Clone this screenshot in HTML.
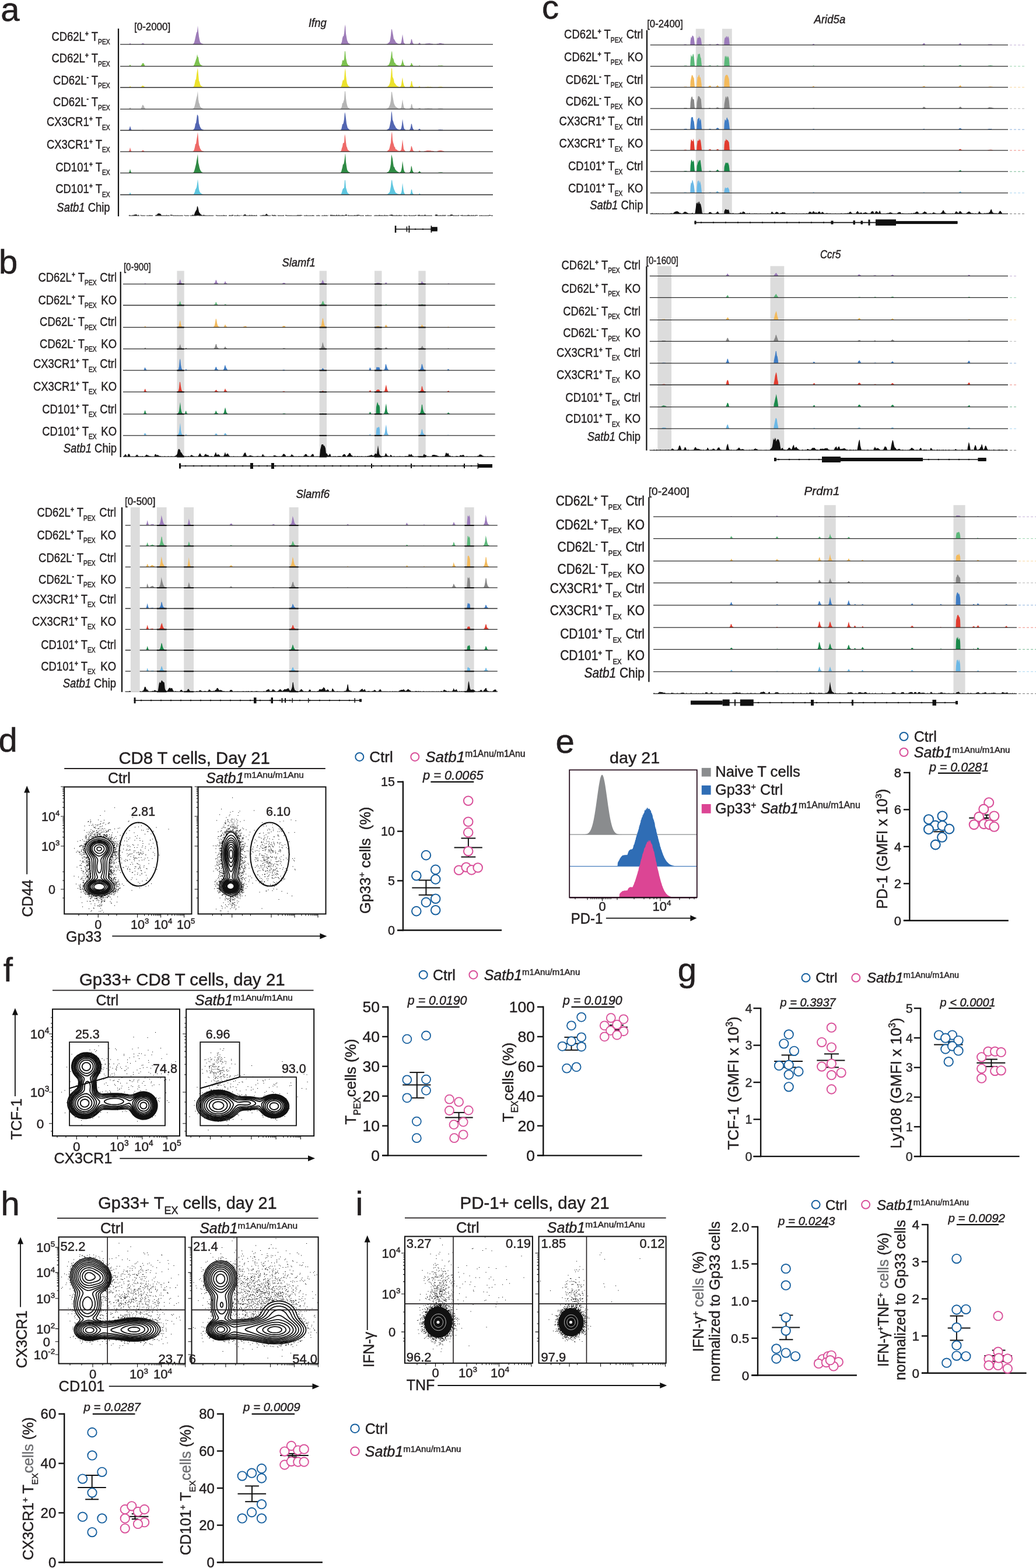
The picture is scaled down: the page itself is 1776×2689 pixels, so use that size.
<!DOCTYPE html>
<html><head><meta charset="utf-8"><title>Figure</title>
<style>html,body{margin:0;padding:0;background:#fff;}svg{display:block;}</style></head>
<body><svg width="1776" height="2689" viewBox="0 0 1776 2689" font-family='"Liberation Sans", Arial, sans-serif' fill="#231f20">
<style>text{stroke:#231f20;stroke-width:.45px}</style>
<rect width="1776" height="2689" fill="#fff"/>
<path d="M221.5,76l0.5,-0.7l1,-1.5l1,1.4l0.5,0.8zM242.5,76l0.5,-1.2l1,-0.3l1,-0.5l1,0.4l1,0.5l0.5,1.1zM330.5,76l0.5,-0.7l1,-0.8l1,-1.9l1,-3.8l1,-4.6l1,-4.8l1,-3.8l1,-1.2l1,-10.5l1,10l1,8.5l1,5.4l1,4l1,1.5l1,0.9l1,0.2l1,0.7l1,0.1l0.5,0.8zM584.5,76l0.5,-2l1,-2.2l1,-6.3l1,-3.3l1,-0.1l1,-5.1l1,-10.6l1,-4.4l1,15.8l1,5.6l1,5.7l1,2.2l1,2.1l1,0.8l1,0.5l1,0.6l0.5,0.7zM662.5,76l0.5,-0.6l1,-0.5l1,-0.4l1,-0.9l1,-1.3l1,-0.6l1,-4.8l1,-6.4l1,-10.4l1,0.4l1,5.3l1,4.9l1,6.2l1,0.7l1,2l1,1.7l1,1.8l1,0.3l1,0.7l1,0.8l1,-0l1,0.2l1,0.2l1,-0l1,-0.9l1,-2.2l1,-5.9l1,-7.6l1,6.6l1,6.7l1,2.3l1,0.5l0.5,1.2zM702.5,76l0.5,-1.4l1,-1.9l1,-5.6l1,0.5l1,4l1,2.6l1,0.8l0.5,1zM716.5,76l0.5,-0.7l1,-0.8l1,-1.5l1,1l1,1.2l0.5,0.8zM726.5,76l0.5,-0.7l0.5,0.7zM728.5,76l0.5,-0.8l1,-0.4l1,-0l1,-0.1l1,-0.1l1,-0.1l1,0.1l1,-0.3l1,0.3l1,0.1l1,0.1l1,0.1l1,0.1l1,0.2l0.5,0.8zM748.5,76l0.5,-0.9l1,-0l1,-0.1l1,-0.3l1,-0.5l1,-0.1l1,0.1l1,-0.2l1,0.4l1,0.3l1,-0l1,0.4l1,0.2l0.5,0.7z" fill="#9d7cb8"/>
<line x1="206" y1="76.2" x2="845" y2="76.2" stroke="#2b2b2b" stroke-width="1.3"/>
<path d="M221.5,113.4l0.5,-1.4l1,-1.4l1,1.6l0.5,1.2zM241.5,113.4l0.5,-1.2l1,-1.7l1,-2.3l1,0.6l1,-0.9l1,1.9l1,2.3l0.5,1.3zM331.5,113.4l0.5,-1.3l1,-1.1l1,-3l1,-2.5l1,-3.6l1,-2.5l1,-6.3l1,4.5l1,0.5l1,6.5l1,3.3l1,1.6l1,1.8l1,0.3l1,0.8l1,0.2l0.5,0.8zM584.5,113.4l0.5,-1.9l1,-2l1,-6.3l1,0.3l1,0.4l1,-2.9l1,-13.5l1,0.8l1,11.3l1,4.3l1,4.7l1,1.3l1,1.6l1,0.7l1,0.2l1,0.3l0.5,0.7zM662.5,113.4l0.5,-0.6l1,-0.1l1,-0.5l1,-0.7l1,-1.8l1,-1.9l1,-3.6l1,-5.5l1,-8.5l1,-3.1l1,11.8l1,1.4l1,2.5l1,4.7l1,-0.1l1,1.5l1,2.1l1,-0.1l1,0.6l1,0.5l1,0.3l1,0.2l1,-0l1,0.1l1,-0.6l1,-1.8l1,-3.2l1,-6.1l1,5.2l1,2.8l1,2.6l1,0.9l1,0.4l0.5,0.6zM702.5,113.4l0.5,-0.8l1,-1.1l1,-3.8l1,0.7l1,2.4l1,1.5l0.5,1.1zM717.5,113.4l0.5,-0.6l1,-0.5l1,0.2l0.5,0.9zM750.5,113.4l0.5,-0.8l1,-0l1,-0.1l1,-0.1l1,-0l1,-0l1,-0.1l1,0.3l1,0.1l1,0.1l0.5,0.6z" fill="#7dc24f"/>
<line x1="206" y1="113.6" x2="845" y2="113.6" stroke="#2b2b2b" stroke-width="1.3"/>
<path d="M221.5,149.8l0.5,-0.7l1,-1.5l1,1l0.5,1.2zM241.5,149.8l0.5,-0.8l1,-1.1l1,-0.9l1,-0.2l1,0.7l1,0.8l1,0.7l0.5,0.8zM330.5,149.8l0.5,-0.7l1,-0.5l1,-1.6l1,-4.8l1,-5.1l1,-0.8l1,-8.4l1,-6.3l1,-5l1,10.8l1,11.1l1,1.7l1,4l1,2.4l1,0.7l1,0.7l1,0.8l1,0.4l1,-0l0.5,0.6zM583.5,149.8l0.5,-0.6l1,-1.3l1,-2.8l1,-5.1l1,-3.3l1,1.6l1,-3.2l1,-12.9l1,-5.2l1,12.6l1,8.2l1,5.4l1,2l1,2l1,0.8l1,0.8l1,0.4l0.5,0.6zM662.5,149.8l0.5,-0.6l1,-0.3l1,-1l1,-0.7l1,-1.8l1,-2l1,-3.7l1,-9l1,-13.1l1,-0.5l1,15l1,1.7l1,2.9l1,5.8l1,0.1l1,2l1,0.9l1,1.4l1,0.4l1,1l1,-0l1,0.6l1,-0.1l1,-0.1l1,-0.7l1,-2.7l1,-7l1,-5.7l1,7.7l1,4.2l1,3l1,1.1l0.5,1.2zM701.5,149.8l0.5,-0.6l1,-0.9l1,-2.5l1,-6.4l1,-0.6l1,6.1l1,2.7l1,1.4l0.5,0.8zM716.5,149.8l0.5,-0.6l1,-0.8l1,-0.5l1,0.4l0.5,1.5zM728.5,149.8l0.5,-0.7l1,-0l1,-0l1,-0.2l1,-0.2l1,-0.2l1,0.4l1,0.1l1,-0.2l1,-0.1l1,0.4l1,-0.2l1,0.2l0.5,0.7zM750.5,149.8l0.5,-0.7l1,-0l1,-0.3l1,-0.1l1,-0l1,-0.1l1,0.2l1,0.1l1,0.1l0.5,0.8z" fill="#ece22c"/>
<line x1="206" y1="150" x2="845" y2="150" stroke="#2b2b2b" stroke-width="1.3"/>
<path d="M221.5,186.9l0.5,-1.4l1,-1.7l1,1.6l0.5,1.5zM241.5,186.9l0.5,-1.6l1,-2.1l1,-2.7l1,-1.1l1,1.8l1,1.2l1,2.8l1,1.1l0.5,0.6zM330.5,186.9l0.5,-0.7l1,-0.6l1,-1.6l1,-3.5l1,-3.9l1,-5.1l1,-4l1,-3.9l1,-7.4l1,14l1,6.3l1,1.6l1,4.6l1,0.7l1,1.4l1,0.5l1,0.7l1,0.3l0.5,0.6zM583.5,186.9l0.5,-0.6l1,-1.3l1,-2.5l1,-6.2l1,0.9l1,-3.8l1,-2.8l1,-14.2l1,0.1l1,12.1l1,7.1l1,4.6l1,3.2l1,1.3l1,0.5l1,0.5l0.5,1.1zM662.5,186.9l0.5,-0.6l1,-0.5l1,-0.1l1,-1.3l1,-1.6l1,-2l1,-3.1l1,-5.4l1,-15.1l1,0.8l1,6.7l1,5.3l1,6.1l1,3l1,2l1,1.4l1,0.9l1,0.6l1,0.8l1,0.5l1,0.6l1,-0l1,0.1l1,-0l1,-0.8l1,-1.2l1,-6.2l1,-7.5l1,7l1,5.3l1,2.5l1,0.7l1,0.5l0.5,0.6zM701.5,186.9l0.5,-0.6l1,-0.4l1,-1.5l1,-5.4l1,-1.1l1,4.9l1,2.6l1,0.7l0.5,0.8zM716.5,186.9l0.5,-0.6l1,-0.4l1,-1l1,0.7l1,0.6l0.5,0.7zM727.5,186.9l0.5,-0.7l1,-0l1,-0.1l1,0.2l1,-0.5l1,0.1l1,-0.3l1,0.3l1,-0.2l1,0.2l1,-0l1,0.2l1,-0l1,0.2l0.5,0.6zM750.5,186.9l0.5,-0.7l1,-0.1l1,-0.2l1,-0.2l1,0.2l1,-0.2l1,0.4l1,-0l1,-0l0.5,0.8z" fill="#b5b5b5"/>
<line x1="206" y1="187.1" x2="845" y2="187.1" stroke="#2b2b2b" stroke-width="1.3"/>
<path d="M220.5,223.3l0.5,-0.9l1,-2.6l1,-3.8l1,2.9l1,3.3l0.5,1.1zM244.5,223.3l0.5,-0.7l0.5,0.7zM330.5,223.3l0.5,-0.9l1,-0.4l1,-1.3l1,-2.7l1,-5.8l1,-1.2l1,-6.6l1,-8l1,0.8l1,2.6l1,11.7l1,2.8l1,3.3l1,1.7l1,1.4l1,1l1,0.4l1,0.5l1,0.1l0.5,0.6zM583.5,223.3l0.5,-0.6l1,-0.8l1,-4l1,-4.9l1,-0l1,-2.9l1,-6l1,-11.9l1,3.2l1,7.7l1,8.4l1,4.3l1,3.6l1,0.9l1,1.1l1,1l1,0.3l1,-0l0.5,0.6zM662.5,223.3l0.5,-0.6l1,-0.4l1,-0.8l1,-0.4l1,-1.4l1,-3.4l1,-5l1,-5.1l1,-15.9l1,3.9l1,11.4l1,2.3l1,3.5l1,2.6l1,1.5l1,2l1,1.9l1,0.6l1,1.3l1,0.3l1,0.4l1,0.2l1,0.2l1,-0.2l1,-0.7l1,-2.2l1,-5.2l1,-10.1l1,7l1,6.6l1,3.1l1,1.2l1,0.7l0.5,0.7zM701.5,223.3l0.5,-0.8l1,-1.1l1,-3l1,-6.5l1,1.1l1,4.8l1,2.7l1,1.6l0.5,1.2zM716.5,223.3l0.5,-0.6l1,-1.1l1,-1.1l1,1.3l1,0.7l0.5,0.8zM750.5,223.3l0.5,-0.6l1,-0.2l1,-0.1l1,-0.1l1,-0l1,0.1l1,0.1l1,-0l1,0.1l0.5,0.7z" fill="#5366b2"/>
<line x1="206" y1="223.5" x2="845" y2="223.5" stroke="#2b2b2b" stroke-width="1.3"/>
<path d="M220.5,260l0.5,-0.8l1,-1.8l1,-4.7l1,3.9l1,2.4l0.5,1zM242.5,260l0.5,-1.1l1,-0.7l1,-0.4l1,0.4l1,0.9l0.5,0.9zM330.5,260l0.5,-0.7l1,-0.9l1,-2.1l1,-4.1l1,-5.2l1,-0.3l1,-6.7l1,-6.2l1,-7.2l1,11.2l1,10.9l1,2.4l1,3.4l1,1.4l1,1.8l1,0.8l1,0.4l1,0.2l1,0.3l0.5,0.6zM583.5,260l0.5,-0.7l1,-1l1,-4.4l1,-2.5l1,-6.1l1,0.3l1,-1.3l1,-14.2l1,4.1l1,9.5l1,7.3l1,1.8l1,3.6l1,0.9l1,1.1l1,0.6l1,0.3l0.5,0.7zM663.5,260l0.5,-1.2l1,-0.6l1,-1l1,-0.9l1,-3.6l1,-4.4l1,-3.5l1,-14.4l1,-4.9l1,14.1l1,5.2l1,2.6l1,4.4l1,0.2l1,3.4l1,0.9l1,0.3l1,0.7l1,1.1l1,0.2l1,0.1l1,0.3l1,-0.3l1,-0.7l1,-1.5l1,-7.7l1,-9.8l1,8.2l1,8.2l1,1.7l1,1.5l1,0.8l0.5,0.6zM701.5,260l0.5,-0.7l1,-0.9l1,-2.2l1,-6.2l1,1.5l1,3l1,3.2l1,1.2l1,0.4l0.5,0.7zM717.5,260l0.5,-1l1,-0.8l1,0.9l1,0.1l0.5,0.8zM726.5,260l0.5,-0.8l1,0.1l1,-0.4l1,-0.2l1,-0.4l1,0.3l1,-0.6l1,-0l1,0.3l1,0.1l1,-0.3l1,0.2l1,0.5l1,-0.1l1,0.1l1,0.3l1,-0l1,0.2l0.5,0.7zM749.5,260l0.5,-1l1,-0.4l1,0.1l1,-0.7l1,0.2l1,-0.3l1,0.1l1,0.3l1,0.1l1,0.3l1,0.4l1,0.2l0.5,0.7z" fill="#ee6a68"/>
<line x1="206" y1="260.2" x2="845" y2="260.2" stroke="#2b2b2b" stroke-width="1.3"/>
<path d="M220.5,296.5l0.5,-0.6l1,-2l1,-4.1l1,3.9l1,1.9l0.5,0.9zM329.5,296.5l0.5,-0.6l1,-0l1,-0.7l1,-2.2l1,-3.3l1,-4l1,-3.9l1,-6l1,-5.3l1,-6.2l1,14.6l1,4.1l1,4.8l1,3l1,2l1,1.2l1,1.2l1,0.5l1,-0l0.5,0.8zM583.5,296.5l0.5,-0.8l1,-1.2l1,-3.7l1,-3.7l1,-5.5l1,0.3l1,-4.1l1,-7.4l1,-7.9l1,15.2l1,7.1l1,5.9l1,2l1,1.4l1,1l1,0.1l1,0.6l0.5,0.7zM662.5,296.5l0.5,-0.8l1,-0.4l1,-0.6l1,-0.2l1,-2.1l1,-1.7l1,-4l1,-5.6l1,-16.4l1,3.6l1,4l1,7.6l1,6.3l1,-0l1,3.1l1,1.6l1,1.4l1,0.7l1,1l1,0.6l1,0.3l1,0.6l1,0.2l1,-0.4l1,-0.9l1,-2.6l1,-5.1l1,-10.8l1,7l1,7.3l1,3.4l1,1.7l1,0.5l0.5,0.7zM701.5,296.5l0.5,-0.9l1,-0.9l1,-2.7l1,-8l1,2.4l1,5.5l1,2l1,1.5l0.5,1.1zM716.5,296.5l0.5,-0.9l1,-1l1,-1.2l1,0.6l1,1.4l1,0.4l0.5,0.7zM751.5,296.5l0.5,-1l1,-0.1l1,0.3l1,-0.2l1,-0.2l1,0.4l1,-0.2l1,0.3l0.5,0.7z" fill="#2f8a44"/>
<line x1="206" y1="296.7" x2="845" y2="296.7" stroke="#2b2b2b" stroke-width="1.3"/>
<path d="M221.5,333.8l0.5,-1.6l1,-2.1l1,1.7l0.5,2zM331.5,333.8l0.5,-1l1,-1.5l1,-2.2l1,-4.2l1,-1.3l1,-2.4l1,-5.8l1,-8.1l1,8l1,9.2l1,3.6l1,2l1,0.9l1,0.7l1,0.8l1,0.5l1,0.1l0.5,0.7zM584.5,333.8l0.5,-1.3l1,-2.8l1,-3.6l1,-2.6l1,-0.4l1,-1.3l1,-13.4l1,1l1,12.4l1,3l1,3.8l1,2l1,1.3l1,0.4l1,0.6l0.5,0.9zM663.5,333.8l0.5,-0.8l1,-0.7l1,-0.7l1,-1.4l1,-0.6l1,-4.7l1,-5.5l1,-9.3l1,-2.2l1,7.3l1,4l1,3.8l1,2.7l1,2.1l1,2.5l1,0.5l1,0.8l1,0.3l1,0.6l1,0.2l1,0.1l1,0.2l1,-0.1l1,-0.9l1,-1.6l1,-5.1l1,-11.6l1,7.7l1,6.6l1,3.2l1,1.3l0.5,1.3zM702.5,333.8l0.5,-1.1l1,-1.3l1,-6.4l1,-0l1,5.2l1,1.9l1,1l0.5,0.7zM717.5,333.8l0.5,-1.1l1,-1.1l1,1l1,0.3l0.5,0.9z" fill="#5ec6df"/>
<line x1="206" y1="334" x2="845" y2="334" stroke="#2b2b2b" stroke-width="1.3"/>
<path d="M220.5,369.7l0.5,-0.6l1,-0.3l1,-0l0.5,0.9zM226.5,369.7l0.5,-0.8l1,-0.4l1,0.5l1,-0.8l1,-0.2l1,-0l1,-0.6l1,0.7l1,0.1l0.5,1.5zM236.5,369.7l0.5,-1.2l1,-0l0.5,1.2zM240.5,369.7l0.5,-1l1,-0.2l0.5,1.2zM244.5,369.7l0.5,-1.1l0.5,1.1zM249.5,369.7l0.5,-0.9l0.5,0.9zM255.5,369.7l0.5,-1l1,0.3l1,-0.2l0.5,0.9zM259.5,369.7l0.5,-0.7l1,-0.1l0.5,0.8zM266.5,369.7l0.5,-1.1l1,-0.2l1,-0l1,-1.7l1,-0.8l1,0.1l1,-0.1l1,0.5l1,-0l1,1.5l1,1.1l0.5,0.7zM278.5,369.7l0.5,-0.7l0.5,0.7zM280.5,369.7l0.5,-1.2l0.5,1.2zM282.5,369.7l0.5,-0.6l0.5,0.6zM284.5,369.7l0.5,-1l1,-0.1l0.5,1.1zM287.5,369.7l0.5,-0.8l1,0.1l0.5,0.7zM291.5,369.7l0.5,-1.2l1,-0.3l1,0.3l1,-0.1l1,0.3l0.5,1zM297.5,369.7l0.5,-1.1l0.5,1.1zM300.5,369.7l0.5,-1.2l0.5,1.2zM303.5,369.7l0.5,-1.1l0.5,1.1zM305.5,369.7l0.5,-0.6l0.5,0.6zM308.5,369.7l0.5,-0.8l0.5,0.8zM310.5,369.7l0.5,-1.2l0.5,1.2zM315.5,369.7l0.5,-1.2l1,0.4l0.5,0.8zM320.5,369.7l0.5,-1.1l0.5,1.1zM323.5,369.7l0.5,-0.8l0.5,0.8zM325.5,369.7l0.5,-0.9l0.5,0.9zM328.5,369.7l0.5,-0.9l1,-0.5l1,0.3l1,0.3l1,-0.9l1,-3.2l1,-2.1l1,-1.8l1,-1.5l1,-5.9l1,0.8l1,3.4l1,5.3l1,2l1,1l1,1.2l1,1.2l1,-0.3l0.5,1.6zM347.5,369.7l0.5,-1.3l1,0.2l1,0.3l1,-0.3l0.5,1.1zM352.5,369.7l0.5,-0.8l0.5,0.8zM358.5,369.7l0.5,-1.1l0.5,1.1zM361.5,369.7l0.5,-0.9l0.5,0.9zM364.5,369.7l0.5,-0.8l0.5,0.8zM366.5,369.7l0.5,-0.7l0.5,0.7zM369.5,369.7l0.5,-0.8l1,-0.3l0.5,1.1zM372.5,369.7l0.5,-0.6l0.5,0.6zM375.5,369.7l0.5,-0.8l0.5,0.8zM379.5,369.7l0.5,-1l0.5,1zM382.5,369.7l0.5,-1.2l1,0.5l1,-0.1l0.5,0.8zM387.5,369.7l0.5,-0.9l0.5,0.9zM392.5,369.7l0.5,-0.7l1,-0.3l1,0.4l0.5,0.6zM396.5,369.7l0.5,-0.9l1,-0.2l1,0.2l1,-0.3l0.5,1.2zM402.5,369.7l0.5,-0.7l0.5,0.7zM406.5,369.7l0.5,-1.1l1,-0.1l0.5,1.2zM412.5,369.7l0.5,-0.9l1,0.1l0.5,0.8zM415.5,369.7l0.5,-0.7l0.5,0.7zM417.5,369.7l0.5,-1.4l1,-0.4l1,-0.4l1,0.6l1,0.7l0.5,0.9zM426.5,369.7l0.5,-0.8l1,-0.2l1,-0.2l0.5,1.2zM430.5,369.7l0.5,-1.2l1,0.2l1,0.3l0.5,0.7zM434.5,369.7l0.5,-1l1,0.2l1,0.2l0.5,0.6zM438.5,369.7l0.5,-0.7l1,-0.5l0.5,1.2zM444.5,369.7l0.5,-0.6l0.5,0.6zM448.5,369.7l0.5,-0.8l1,-0l1,-0.3l1,0.1l1,0.3l1,-0.2l1,-0.4l1,-1.2l1,-0.9l1,1.6l1,0.5l1,0.5l0.5,0.8zM463.5,369.7l0.5,-0.9l0.5,0.9zM465.5,369.7l0.5,-1.1l1,-0l1,0.3l1,0.1l1,-0.4l1,0.5l1,-0.6l0.5,1.2zM475.5,369.7l0.5,-1.2l0.5,1.2zM477.5,369.7l0.5,-1.2l0.5,1.2zM479.5,369.7l0.5,-0.6l0.5,0.6zM481.5,369.7l0.5,-0.7l0.5,0.7zM484.5,369.7l0.5,-0.6l1,-0.3l0.5,0.9zM488.5,369.7l0.5,-0.7l1,-0.4l1,0.3l1,-0.1l0.5,0.9zM494.5,369.7l0.5,-1.1l0.5,1.1zM496.5,369.7l0.5,-1l0.5,1zM498.5,369.7l0.5,-1.1l0.5,1.1zM508.5,369.7l0.5,-0.6l1,-0.3l1,-0.1l1,-0l1,0.2l1,-0.3l1,0.5l1,-0.5l1,0.4l1,-0.1l0.5,0.8zM519.5,369.7l0.5,-0.8l0.5,0.8zM521.5,369.7l0.5,-0.6l0.5,0.6zM524.5,369.7l0.5,-1l1,-0l0.5,1zM531.5,369.7l0.5,-0.8l0.5,0.8zM534.5,369.7l0.5,-0.7l1,-0l1,-0.3l0.5,1zM541.5,369.7l0.5,-0.9l0.5,0.9zM544.5,369.7l0.5,-0.9l1,-0l0.5,0.9zM555.5,369.7l0.5,-0.7l1,-0.5l0.5,1.2zM558.5,369.7l0.5,-0.9l1,0.2l0.5,0.7zM562.5,369.7l0.5,-1.1l0.5,1.1zM565.5,369.7l0.5,-1.1l1,-0l1,0.2l1,-0.2l1,0.1l1,0.3l1,-0.3l1,0.3l1,-0.3l0.5,1zM575.5,369.7l0.5,-0.9l1,-0.2l1,-0l0.5,1.1zM579.5,369.7l0.5,-1.1l1,-0l1,0.3l0.5,0.8zM583.5,369.7l0.5,-0.9l0.5,0.9zM585.5,369.7l0.5,-1.2l1,0.4l1,-0.1l1,0.2l0.5,0.7zM590.5,369.7l0.5,-0.8l1,-0.3l1,-0.9l1,0.3l1,0.7l0.5,1zM596.5,369.7l0.5,-1.1l1,0.4l0.5,0.7zM600.5,369.7l0.5,-0.6l0.5,0.6zM602.5,369.7l0.5,-1l0.5,1zM606.5,369.7l0.5,-0.7l1,-0.1l1,-0.3l0.5,1.1zM610.5,369.7l0.5,-1l1,-0.2l1,0.3l1,-0.6l1,0.2l1,0.5l1,-0.4l0.5,1.2zM621.5,369.7l0.5,-1.1l0.5,1.1zM626.5,369.7l0.5,-0.9l1,0.2l0.5,0.7zM629.5,369.7l0.5,-0.9l1,-0.2l0.5,1.1zM632.5,369.7l0.5,-1l0.5,1zM636.5,369.7l0.5,-0.9l0.5,0.9zM643.5,369.7l0.5,-0.9l1,-0.1l0.5,1zM646.5,369.7l0.5,-1.1l0.5,1.1zM648.5,369.7l0.5,-0.9l1,-0.1l1,0.1l1,-0.1l0.5,1zM653.5,369.7l0.5,-0.9l1,0.2l0.5,0.7zM658.5,369.7l0.5,-1.2l1,-0l0.5,1.2zM661.5,369.7l0.5,-0.7l1,-0.2l0.5,0.9zM664.5,369.7l0.5,-0.9l0.5,0.9zM666.5,369.7l0.5,-0.8l1,-0.2l1,-0.1l1,-0.2l1,-0.4l1,-0l1,0.7l1,-0.1l0.5,1.1zM675.5,369.7l0.5,-0.9l0.5,0.9zM678.5,369.7l0.5,-0.7l1,-0.4l0.5,1.1zM681.5,369.7l0.5,-1l0.5,1zM683.5,369.7l0.5,-1.1l1,0.3l1,-0.1l0.5,0.9zM687.5,369.7l0.5,-1.1l0.5,1.1zM689.5,369.7l0.5,-1.2l0.5,1.2zM691.5,369.7l0.5,-0.8l1,-0.2l1,-0l0.5,1zM695.5,369.7l0.5,-1.1l0.5,1.1zM699.5,369.7l0.5,-0.6l1,-0.1l1,-0.5l0.5,1.2zM705.5,369.7l0.5,-0.9l0.5,0.9zM708.5,369.7l0.5,-1.1l0.5,1.1zM710.5,369.7l0.5,-0.7l1,-0.1l1,-0.3l1,0.4l0.5,0.7zM715.5,369.7l0.5,-1l1,-0.1l1,0.2l1,-0.2l1,-0l0.5,1.1zM722.5,369.7l0.5,-0.9l1,-0l0.5,0.9zM726.5,369.7l0.5,-1.3l1,0.3l1,-0.8l1,1l0.5,0.8zM733.5,369.7l0.5,-0.6l0.5,0.6zM735.5,369.7l0.5,-0.9l0.5,0.9zM738.5,369.7l0.5,-1.2l0.5,1.2zM743.5,369.7l0.5,-0.9l0.5,0.9zM745.5,369.7l0.5,-0.9l1,-1l1,0.2l1,-0l1,0.2l0.5,1.5zM752.5,369.7l0.5,-1.2l0.5,1.2zM754.5,369.7l0.5,-1l1,0.2l0.5,0.8zM758.5,369.7l0.5,-1.1l1,-0l0.5,1.1zM761.5,369.7l0.5,-1l1,-0.2l1,0.4l0.5,0.8zM765.5,369.7l0.5,-0.9l0.5,0.9zM769.5,369.7l0.5,-0.9l0.5,0.9zM771.5,369.7l0.5,-1.5l1,-0.3l1,0.2l1,-0.2l1,0.5l1,0.7l0.5,0.6zM778.5,369.7l0.5,-0.6l0.5,0.6zM781.5,369.7l0.5,-0.8l0.5,0.8zM785.5,369.7l0.5,-1.2l1,0.4l0.5,0.8zM788.5,369.7l0.5,-0.7l1,-0l1,-0l1,-0.3l1,-0.1l0.5,1.1zM796.5,369.7l0.5,-1l0.5,1zM800.5,369.7l0.5,-0.8l1,-0.1l1,-0.2l1,0.1l1,0.3l0.5,0.7zM807.5,369.7l0.5,-1l1,-0l0.5,1zM810.5,369.7l0.5,-1.2l1,0.5l0.5,0.7zM814.5,369.7l0.5,-0.8l1,-0.3l1,0.4l1,-0.2l1,0.3l0.5,0.6zM822.5,369.7l0.5,-0.7l0.5,0.7zM824.5,369.7l0.5,-0.7l1,0.1l0.5,0.6zM832.5,369.7l0.5,-1l0.5,1zM835.5,369.7l0.5,-0.6l0.5,0.6zM837.5,369.7l0.5,-0.7l1,-0.4l1,0.2l1,0.1l1,0.2l0.5,0.6zM843.5,369.7l0.5,-0.9l0.5,0.9z" fill="#111111"/>
<line x1="203" y1="49" x2="203" y2="371" stroke="#111" stroke-width="2.2"/>
<text transform="translate(188.6,69.8) scale(0.82,1)" font-size="22.5" text-anchor="end"><tspan>CD62L</tspan><tspan font-size="13" font-weight="bold" dy="-8">+</tspan><tspan dy="8"> T</tspan><tspan font-size="12.5" dy="6.5">PEX</tspan></text>
<text transform="translate(188.6,107.3) scale(0.82,1)" font-size="22.5" text-anchor="end"><tspan>CD62L</tspan><tspan font-size="13" font-weight="bold" dy="-8">+</tspan><tspan dy="8"> T</tspan><tspan font-size="12.5" dy="6.5">PEX</tspan></text>
<text transform="translate(188.6,144.8) scale(0.82,1)" font-size="22.5" text-anchor="end"><tspan>CD62L</tspan><tspan font-size="13" font-weight="bold" dy="-8">-</tspan><tspan dy="8"> T</tspan><tspan font-size="12.5" dy="6.5">PEX</tspan></text>
<text transform="translate(188.6,182.3) scale(0.82,1)" font-size="22.5" text-anchor="end"><tspan>CD62L</tspan><tspan font-size="13" font-weight="bold" dy="-8">-</tspan><tspan dy="8"> T</tspan><tspan font-size="12.5" dy="6.5">PEX</tspan></text>
<text transform="translate(188.6,216.3) scale(0.82,1)" font-size="22.5" text-anchor="end"><tspan>CX3CR1</tspan><tspan font-size="13" font-weight="bold" dy="-8">+</tspan><tspan dy="8"> T</tspan><tspan font-size="12.5" dy="6.5">EX</tspan></text>
<text transform="translate(188.6,254.8) scale(0.82,1)" font-size="22.5" text-anchor="end"><tspan>CX3CR1</tspan><tspan font-size="13" font-weight="bold" dy="-8">+</tspan><tspan dy="8"> T</tspan><tspan font-size="12.5" dy="6.5">EX</tspan></text>
<text transform="translate(188.6,293.8) scale(0.82,1)" font-size="22.5" text-anchor="end"><tspan>CD101</tspan><tspan font-size="13" font-weight="bold" dy="-8">+</tspan><tspan dy="8"> T</tspan><tspan font-size="12.5" dy="6.5">EX</tspan></text>
<text transform="translate(188.6,331.3) scale(0.82,1)" font-size="22.5" text-anchor="end"><tspan>CD101</tspan><tspan font-size="13" font-weight="bold" dy="-8">+</tspan><tspan dy="8"> T</tspan><tspan font-size="12.5" dy="6.5">EX</tspan></text>
<text transform="translate(188.6,362.5) scale(0.82,1)" font-size="22.5" text-anchor="end"><tspan font-style="italic">Satb1</tspan><tspan> Chip</tspan></text>
<text transform="translate(230,52) scale(0.942,1)" font-size="18">[0-2000]</text>
<text transform="translate(529,46) scale(0.878,1)" font-size="21" font-style="italic">Ifng</text>
<line x1="677" y1="393" x2="750" y2="393" stroke="#111" stroke-width="1.6"/>
<rect x="676.8" y="387" width="2.5" height="12" fill="#111"/>
<rect x="696.6" y="388.5" width="1.6" height="9" fill="#111"/>
<rect x="700.5" y="387" width="1.8" height="12" fill="#111"/>
<rect x="738.6" y="389.2" width="11.2" height="7.5" fill="#111"/>
<rect x="738.6" y="387" width="1.6" height="12" fill="#111"/>
<path d="M712,391.4l1.6,1.6l-1.6,1.6l-1.6,-1.6z" fill="#111"/>
<path d="M725,391.4l1.6,1.6l-1.6,1.6l-1.6,-1.6z" fill="#111"/>
<line x1="221" y1="369.9" x2="845" y2="369.9" stroke="#333" stroke-width="1" stroke-dasharray="18 3 7 2 11 4 25 5"/>
<rect x="1192.8" y="49.4" width="14.9" height="316.6" fill="#dcdcdc"/>
<rect x="1238" y="49.4" width="16.8" height="316.6" fill="#dcdcdc"/>
<path d="M1172.2,77l0.5,-0.7l1,-0.4l1,-0l1,0.2l1,0.1l0.5,0.8zM1183.2,77l0.5,-7.2l1,-6.8l1,2l1,-3.9l1,0.1l1,1.1l1,2.6l1,8.7l0.5,3.4zM1194.2,77l0.5,-7l1,-5.5l1,0.2l1,0.3l1,-3.7l1,3.6l1,-1l1,2.8l1,7.3l0.5,3zM1215.2,77l0.5,-0.9l1,-0.2l1,-0l1,0.4l0.5,0.7zM1227.2,77l0.5,-0.7l1,-0.7l1,-0.6l1,0.4l1,0.3l1,0.7l0.5,0.6zM1241.2,77l0.5,-7.8l1,-4.9l1,0.6l1,-2.2l1,-0.9l1,3.5l1,-3.2l1,0.9l1,3.3l1,9.1l0.5,1.6zM1392.2,77l0.5,-0.7l1,-0.5l1,-0.6l1,-0l0.5,1.8zM1581.2,77l0.5,-1.2l1,-0.9l1,-0.8l1,-0.1l1,1.8l0.5,1.2zM1643.2,77l0.5,-0.8l1,-1.3l1,-0.9l1,0.5l1,0.7l0.5,1.8zM1693.2,77l0.5,-0.6l1,-0.3l1,-0l1,-0l1,-0.2l1,-0.1l1,0.4l1,-0.1l0.5,0.9z" fill="#9b7bbb"/>
<line x1="1114.7" y1="77.2" x2="1728" y2="77.2" stroke="#2b2b2b" stroke-width="1.3"/>
<line x1="1731" y1="77.2" x2="1758" y2="77.2" stroke="#9b7bbb" stroke-width="1" stroke-dasharray="4 3" opacity="0.6"/>
<path d="M1172.2,113.4l0.5,-0.6l1,-0.3l1,-0.1l1,-0l1,-0l1,0.3l0.5,0.7zM1183.2,113.4l0.5,-9.8l1,-10l1,3l1,0.8l1,-4.1l1,-1l1,5.7l1,10.8l0.5,4.6zM1194.2,113.4l0.5,-10l1,-5.7l1,-5.6l1,1.1l1,-0.9l1,-0.5l1,6.3l1,2l1,9.8l0.5,3.5zM1214.2,113.4l0.5,-0.7l1,-0.4l1,-0.1l1,-0.2l1,0.4l0.5,1zM1228.2,113.4l0.5,-0.8l1,-0.3l1,0.1l1,0.3l0.5,0.7zM1241.2,113.4l0.5,-7.2l1,-9.1l1,-1.5l1,2.9l1,-3.3l1,4.6l1,-3.8l1,1.6l1,2.9l1,11.4l0.5,1.5zM1393.2,113.4l0.5,-0.9l1,-0l1,-0l0.5,0.9zM1582.2,113.4l0.5,-1.1l1,-0.1l1,0.2l1,0.3l0.5,0.7zM1643.2,113.4l0.5,-0.8l1,-0.7l1,-0.3l1,-0.2l1,0.9l0.5,1.1zM1693.2,113.4l0.5,-0.6l1,-0.3l1,-0l1,-0.3l1,0.1l1,-0.1l1,0.3l1,-0l1,0.2l0.5,0.7z" fill="#5cb87a"/>
<line x1="1114.7" y1="113.6" x2="1728" y2="113.6" stroke="#2b2b2b" stroke-width="1.3"/>
<line x1="1731" y1="113.6" x2="1758" y2="113.6" stroke="#5cb87a" stroke-width="1" stroke-dasharray="4 3" opacity="0.6"/>
<path d="M1172.2,149.5l0.5,-0.7l1,-0.3l1,0.2l1,-0.2l1,-0.1l1,0.5l0.5,0.6zM1183.2,149.5l0.5,-9.9l1,-5.3l1,-4.9l1,-1l1,1.5l1,2.8l1,1.3l1,11.3l0.5,4.2zM1194.2,149.5l0.5,-8.3l1,-9.6l1,1l1,-3.5l1,-1.2l1,5.4l1,-1.3l1,5.7l1,7.6l0.5,4.2zM1214.2,149.5l0.5,-1l1,-1.4l1,0.1l1,-0.8l1,1.3l0.5,1.8zM1227.2,149.5l0.5,-0.9l1,-1.2l1,-1.1l1,0.1l1,1.6l0.5,1.5zM1241.2,149.5l0.5,-10.6l1,-7.1l1,-2.4l1,-0.9l1,-0.1l1,-0.2l1,1.6l1,2.8l1,2.9l1,12.1l0.5,1.9zM1392.2,149.5l0.5,-0.7l1,-0.9l1,-0.4l1,0.6l0.5,1.4zM1581.2,149.5l0.5,-0.9l1,-0.7l1,-0.4l1,0.1l1,0.7l0.5,1.2zM1643.2,149.5l0.5,-1.1l1,-0.8l1,-1.2l1,-0.1l1,1.2l0.5,2zM1694.2,149.5l0.5,-0.7l1,-0.2l1,-0.1l1,-0.2l1,0.2l1,0.1l1,0.2l1,-0l0.5,0.7z" fill="#f3ba5c"/>
<line x1="1114.7" y1="149.7" x2="1728" y2="149.7" stroke="#2b2b2b" stroke-width="1.3"/>
<line x1="1731" y1="149.7" x2="1758" y2="149.7" stroke="#f3ba5c" stroke-width="1" stroke-dasharray="4 3" opacity="0.6"/>
<path d="M1172.2,186l0.5,-0.9l1,-0l1,-0l1,-0.2l1,0.2l1,0.2l0.5,0.7zM1183.2,186l0.5,-10.5l1,-7.2l1,-2.5l1,-0.2l1,4.1l1,0.6l1,0.1l1,12.2l0.5,3.4zM1194.2,186l0.5,-10.3l1,-5.3l1,-5.5l1,-0.2l1,0.8l1,0.9l1,2.4l1,1.1l1,11.9l0.5,4.2zM1215.2,186l0.5,-1l1,-0.2l1,0.4l0.5,0.8zM1227.2,186l0.5,-0.7l1,-0.7l1,-0.7l1,0.5l1,0.4l1,0.6l0.5,0.6zM1241.2,186l0.5,-7.6l1,-5.9l1,-5.7l1,-1.8l1,3.8l1,-3.5l1,-0l1,2.1l1,5.5l1,11.2l0.5,1.9zM1393.2,186l0.5,-0.7l1,-0.3l1,-0.1l0.5,1.1zM1581.2,186l0.5,-1.1l1,-0.9l1,-1.1l1,0.7l1,0.7l1,1l0.5,0.7zM1643.2,186l0.5,-0.8l1,-1l1,-1.4l1,0.4l1,0.9l1,1.2l0.5,0.7zM1693.2,186l0.5,-0.9l1,-0.7l1,-0.3l1,-0.1l1,0.2l1,0.1l1,0.1l1,0.2l1,0.3l1,0.5l1,-0l0.5,0.6z" fill="#888888"/>
<line x1="1114.7" y1="186.2" x2="1728" y2="186.2" stroke="#2b2b2b" stroke-width="1.3"/>
<line x1="1731" y1="186.2" x2="1758" y2="186.2" stroke="#888888" stroke-width="1" stroke-dasharray="4 3" opacity="0.6"/>
<path d="M1172.2,221.9l0.5,-0.7l1,-0.2l1,-0.1l1,-0.2l1,0.2l1,0.3l0.5,0.7zM1183.2,221.9l0.5,-7.9l1,-11.5l1,-1.7l1,0.1l1,-0.1l1,5.6l1,2.1l1,9.4l0.5,4zM1194.2,221.9l0.5,-9.1l1,-8.4l1,-0.4l1,-2.1l1,0.1l1,5.9l1,-5l1,3.7l1,11.7l0.5,3.6zM1215.2,221.9l0.5,-0.8l1,-0.3l1,0.2l1,-0l0.5,0.9zM1227.2,221.9l0.5,-0.9l1,-1.6l1,-0l1,-0.3l1,0.9l1,1.2l0.5,0.7zM1241.2,221.9l0.5,-10.1l1,-7.1l1,0.7l1,1.9l1,-5.2l1,-0.5l1,3.5l1,0.5l1,5.4l1,9l0.5,1.9zM1393.2,221.9l0.5,-0.9l1,0.1l1,-0l0.5,0.8zM1582.2,221.9l0.5,-0.9l1,-0.1l1,-0.2l0.5,1.2zM1643.2,221.9l0.5,-0.8l1,-0.8l1,-0.5l1,0.1l1,0.9l1,0.4l0.5,0.7zM1693.2,221.9l0.5,-0.7l1,-0l1,-0.4l1,0.1l1,0.2l1,-0.1l1,-0.2l0.5,1.1z" fill="#3f7dc5"/>
<line x1="1114.7" y1="222.1" x2="1728" y2="222.1" stroke="#2b2b2b" stroke-width="1.3"/>
<line x1="1731" y1="222.1" x2="1758" y2="222.1" stroke="#3f7dc5" stroke-width="1" stroke-dasharray="4 3" opacity="0.6"/>
<path d="M1172.2,257.7l0.5,-0.8l1,-0.2l1,-0l1,-0l1,-0l0.5,1zM1183.2,257.7l0.5,-10.5l1,-8.3l1,1l1,1.9l1,0.6l1,-5l1,5.7l1,11.3l0.5,3.3zM1194.2,257.7l0.5,-7.8l1,-8.4l1,-0.4l1,0.3l1,-3.7l1,3.8l1,-3l1,6.9l1,8.6l0.5,3.7zM1214.2,257.7l0.5,-0.7l1,-0.7l1,-0.4l1,0.2l1,0.5l0.5,1.1zM1228.2,257.7l0.5,-1.6l1,-0.2l1,-0.2l1,0.6l0.5,1.4zM1241.2,257.7l0.5,-9.9l1,-6.9l1,0.8l1,-3.6l1,2.3l1,-0.2l1,0.5l1,2.1l1,1.3l1,12l0.5,1.6zM1643.2,257.7l0.5,-0.7l1,-1l1,-0.4l1,0.1l1,0.8l1,0.6l0.5,0.6zM1693.2,257.7l0.5,-0.6l1,-0.1l1,-0.1l1,-0.1l1,-0l1,-0.1l1,0.1l1,0.1l1,0.2l0.5,0.6z" fill="#e23c2f"/>
<line x1="1114.7" y1="257.9" x2="1728" y2="257.9" stroke="#2b2b2b" stroke-width="1.3"/>
<line x1="1731" y1="257.9" x2="1758" y2="257.9" stroke="#e23c2f" stroke-width="1" stroke-dasharray="4 3" opacity="0.6"/>
<path d="M1172.2,294l0.5,-0.8l1,-0l1,-0.3l1,-0l1,0.5l1,-0.1l0.5,0.7zM1183.2,294l0.5,-10.5l1,-7.9l1,-2.1l1,2.9l1,1.6l1,-3.4l1,2.9l1,12.7l0.5,3.8zM1194.2,294l0.5,-9.6l1,-3.4l1,-7.1l1,5.2l1,-4.3l1,-0l1,-0.4l1,8l1,7.9l0.5,3.7zM1215.2,294l0.5,-0.8l1,-0.5l1,0.4l1,0.2l0.5,0.7zM1227.2,294l0.5,-1.1l1,-1l1,-0.9l1,-0l1,1.6l1,0.7l0.5,0.7zM1241.2,294l0.5,-7.9l1,-3.9l1,-2.8l1,-0.8l1,1l1,0.3l1,-1.6l1,2.5l1,3l1,8.7l0.5,1.5zM1643.2,294l0.5,-0.8l1,-0.6l1,-0.3l1,-0.5l1,0.9l0.5,1.3z" fill="#1b8a4b"/>
<line x1="1114.7" y1="294.2" x2="1728" y2="294.2" stroke="#2b2b2b" stroke-width="1.3"/>
<line x1="1731" y1="294.2" x2="1758" y2="294.2" stroke="#1b8a4b" stroke-width="1" stroke-dasharray="4 3" opacity="0.6"/>
<path d="M1172.2,330.7l0.5,-0.7l1,-0.4l1,0.1l1,-0l1,-0l0.5,1zM1183.2,330.7l0.5,-11.5l1,-6.7l1,2.2l1,-6.1l1,1.1l1,4.3l1,3.9l1,8.5l0.5,4.3zM1194.2,330.7l0.5,-10.5l1,-8.5l1,-1.8l1,-0.7l1,5.8l1,-5.2l1,3.4l1,4.6l1,9.4l0.5,3.5zM1215.2,330.7l0.5,-0.7l1,-0.3l1,-0.1l1,0.5l0.5,0.6zM1227.2,330.7l0.5,-1l1,-1.4l1,-0.3l1,0.4l1,0.5l0.5,1.8zM1241.2,330.7l0.5,-3.8l1,-4.5l1,-1.2l1,2.1l1,-1.2l1,0.2l1,-1.2l1,1.6l1,1.9l1,5.1l0.5,1zM1393.2,330.7l0.5,-1l1,-0.1l1,0.2l0.5,0.9zM1582.2,330.7l0.5,-0.8l1,-0.3l1,0.2l0.5,0.9zM1643.2,330.7l0.5,-0.8l1,-0.6l1,-0.8l1,0.1l1,0.9l0.5,1.2z" fill="#6bb8e6"/>
<line x1="1114.7" y1="330.9" x2="1728" y2="330.9" stroke="#2b2b2b" stroke-width="1.3"/>
<line x1="1731" y1="330.9" x2="1758" y2="330.9" stroke="#6bb8e6" stroke-width="1" stroke-dasharray="4 3" opacity="0.6"/>
<path d="M1114.2,366.5l0.5,-1.2l0.5,1.2zM1116.2,366.5l0.5,-1l1,0.1l1,-0.3l0.5,1.2zM1120.2,366.5l0.5,-1l0.5,1zM1122.2,366.5l0.5,-0.9l0.5,0.9zM1124.2,366.5l0.5,-0.9l1,-0l0.5,0.9zM1127.2,366.5l0.5,-0.8l1,-0.1l0.5,0.9zM1131.2,366.5l0.5,-0.9l0.5,0.9zM1133.2,366.5l0.5,-0.7l0.5,0.7zM1135.2,366.5l0.5,-1.1l1,0.4l1,-0.1l0.5,0.8zM1140.2,366.5l0.5,-1l0.5,1zM1143.2,366.5l0.5,-1l0.5,1zM1148.2,366.5l0.5,-0.9l1,0.2l1,-0.4l1,-0.1l0.5,1.2zM1153.2,366.5l0.5,-1.2l1,0.1l1,-1.4l1,-0.6l1,-0.6l1,-0l1,-0.3l1,-0.6l1,0.5l1,1l1,0.1l1,1.5l1,0.6l1,-0.6l1,0.7l0.5,0.8zM1169.2,366.5l0.5,-1.2l1,0.4l1,-1.2l1,-0.5l1,-0.9l1,-0.2l1,0.8l1,-0.5l1,1.7l1,0.1l1,0.2l0.5,1.3zM1181.2,366.5l0.5,-1.2l0.5,1.2zM1183.2,366.5l0.5,-0.9l0.5,0.9zM1185.2,366.5l0.5,-0.9l1,-0.3l1,-0l0.5,1.2zM1191.2,366.5l0.5,-2.4l1,-7.1l1,-9.3l1,1.4l1,-2.9l1,4l1,-4.1l1,-0.3l1,4.4l1,-1.8l1,3.8l1,4.9l1,8.4l1,0.1l0.5,0.9zM1207.2,366.5l0.5,-0.7l1,-0.2l0.5,0.9zM1210.2,366.5l0.5,-1.1l0.5,1.1zM1212.2,366.5l0.5,-0.9l0.5,0.9zM1214.2,366.5l0.5,-1l1,-1.7l1,0.1l1,-0.3l1,0.5l1,0.8l1,0.8l1,-0l0.5,0.8zM1223.2,366.5l0.5,-0.6l0.5,0.6zM1226.2,366.5l0.5,-1.2l1,0.2l1,-1.4l1,-1.1l1,-0.4l1,1.9l1,1l0.5,1zM1236.2,366.5l0.5,-1.1l0.5,1.1zM1238.2,366.5l0.5,-0.9l0.5,0.9zM1241.2,366.5l0.5,-4.6l1,-1.9l1,-1.4l1,0.1l1,1.1l1,-0l1,0.1l1,-0.8l1,2.1l1,4.6l1,-0.3l1,-0l1,0.1l0.5,0.9zM1255.2,366.5l0.5,-1.2l1,-0l1,0.5l0.5,0.7zM1261.2,366.5l0.5,-1.1l0.5,1.1zM1265.2,366.5l0.5,-1l1,0.3l1,-0.3l1,-0.8l1,-0.4l1,0.4l1,0.9l1,-1.5l1,-1.6l1,0.5l1,0.8l1,-0.1l1,1.8l0.5,1zM1279.2,366.5l0.5,-0.8l1,-0.3l1,0.1l0.5,1zM1283.2,366.5l0.5,-1.2l1,0.1l1,0.2l0.5,0.9zM1290.2,366.5l0.5,-0.9l0.5,0.9zM1292.2,366.5l0.5,-0.8l1,-0.3l0.5,1.1zM1295.2,366.5l0.5,-1l1,0.2l0.5,0.8zM1298.2,366.5l0.5,-0.9l0.5,0.9zM1302.2,366.5l0.5,-0.7l1,0.1l1,-0.3l0.5,0.9zM1307.2,366.5l0.5,-1l0.5,1zM1309.2,366.5l0.5,-1l0.5,1zM1311.2,366.5l0.5,-1l0.5,1zM1313.2,366.5l0.5,-0.8l0.5,0.8zM1315.2,366.5l0.5,-1l1,0.3l0.5,0.7zM1318.2,366.5l0.5,-0.9l0.5,0.9zM1321.2,366.5l0.5,-1.8l1,-1.1l1,-0.9l1,1.5l1,1l1,0.2l0.5,1.1zM1328.2,366.5l0.5,-1.4l1,-0.9l1,-0.6l1,-0.4l1,0.5l1,0.5l1,0.9l0.5,1.4zM1336.2,366.5l0.5,-0.7l1,-0.5l1,-0l1,-0.3l1,-0.8l1,-0.4l1,0.1l1,0.7l1,-0.4l1,0.1l1,1.5l1,0.1l0.5,0.6zM1349.2,366.5l0.5,-1.2l0.5,1.2zM1352.2,366.5l0.5,-1.1l0.5,1.1zM1356.2,366.5l0.5,-0.8l1,0.2l1,-0.2l1,0.2l0.5,0.6zM1362.2,366.5l0.5,-1.1l0.5,1.1zM1364.2,366.5l0.5,-1.1l1,0.4l0.5,0.7zM1370.2,366.5l0.5,-1.1l0.5,1.1zM1372.2,366.5l0.5,-0.8l0.5,0.8zM1374.2,366.5l0.5,-0.7l0.5,0.7zM1376.2,366.5l0.5,-1l1,0.2l0.5,0.8zM1379.2,366.5l0.5,-0.9l0.5,0.9zM1382.2,366.5l0.5,-1.2l1,0.2l0.5,1zM1385.2,366.5l0.5,-1.6l1,-0.6l1,-1.1l1,-0.6l1,1.3l1,-0.2l1,1.7l1,-1.2l1,-1.7l1,-0.3l1,0.8l1,1.5l1,0.5l1,-1l1,0.6l1,0.3l1,0.5l1,-2.3l1,0.5l1,-1l1,0.6l1,2l1,0.4l1,-1.7l1,-0.7l1,0.8l1,0.8l1,0.8l0.5,0.9zM1415.2,366.5l0.5,-1.1l1,-0.1l1,0.5l1,-0.3l1,-0l0.5,1zM1422.2,366.5l0.5,-1.2l1,0.5l0.5,0.7zM1425.2,366.5l0.5,-0.7l0.5,0.7zM1427.2,366.5l0.5,-0.6l0.5,0.6zM1431.2,366.5l0.5,-0.7l1,-0.1l0.5,0.8zM1437.2,366.5l0.5,-0.8l0.5,0.8zM1441.2,366.5l0.5,-1.2l1,0.2l0.5,1zM1445.2,366.5l0.5,-0.9l0.5,0.9zM1447.2,366.5l0.5,-0.8l1,-0.3l1,0.3l1,0.2l1,-0.3l1,-0.3l1,0.4l1,-0.5l1,-0.7l1,-1.1l1,-0.6l1,0.9l1,1.2l1,0.4l0.5,1.2zM1462.2,366.5l0.5,-1l0.5,1zM1465.2,366.5l0.5,-1.2l0.5,1.2zM1467.2,366.5l0.5,-2.3l1,-0.5l1,-1.8l1,0.3l1,1.7l1,1.7l1,-0.3l1,-0.3l1,-0.8l1,0.4l1,0.3l0.5,1.6zM1479.2,366.5l0.5,-1.6l1,0.2l1,-0l1,-0.8l1,-0.4l1,0.6l1,0.4l1,-0l1,1l1,-0.2l1,-0l1,-0.1l1,0.3l1,-1.1l1,-1.5l1,-1.1l1,0.2l1,-0.5l1,2.1l1,1.7l1,-0.3l1,-1.6l1,-1.7l1,0.1l1,0.5l1,1.2l1,1l1,-0.4l1,-3l1,-0.1l1,3.6l1,0.7l0.5,0.8zM1514.2,366.5l0.5,-1.1l0.5,1.1zM1516.2,366.5l0.5,-1l0.5,1zM1519.2,366.5l0.5,-1l1,0.1l1,-0.3l1,0.5l1,-1.1l1,0.4l1,-1.2l1,0.2l1,1l1,-0.3l1,0.2l0.5,1.5zM1531.2,366.5l0.5,-1.2l0.5,1.2zM1534.2,366.5l0.5,-1.1l0.5,1.1zM1537.2,366.5l0.5,-0.7l1,-0.9l1,-0.3l1,-0.9l1,0.3l1,-0.4l1,0.5l1,1l0.5,1.4zM1546.2,366.5l0.5,-0.9l1,-0l1,0.2l0.5,0.7zM1550.2,366.5l0.5,-0.9l0.5,0.9zM1557.2,366.5l0.5,-0.7l1,-0.2l0.5,0.9zM1561.2,366.5l0.5,-1.2l1,-0l0.5,1.2zM1564.2,366.5l0.5,-1.1l1,-0.1l1,0.2l1,-0.2l1,-0.3l1,-1l1,-1.1l1,0.1l1,-0.4l1,1.4l1,0.5l0.5,2zM1579.2,366.5l0.5,-0.8l1,0.1l1,-0.6l1,-1l1,-0.3l1,-1.6l1,0.7l1,0.7l1,-0l1,1.3l0.5,1.5zM1591.2,366.5l0.5,-0.7l0.5,0.7zM1593.2,366.5l0.5,-1l1,0.3l1,-0.2l0.5,0.9zM1597.2,366.5l0.5,-0.7l1,-0.6l1,-0.8l1,-0.3l1,0.6l1,0.6l1,0.5l1,-0.5l0.5,1.2zM1607.2,366.5l0.5,-0.9l0.5,0.9zM1612.2,366.5l0.5,-1.4l1,-0.3l1,-0.7l1,-2.1l1,-1.6l1,0.3l1,2l1,2l1,0.2l1,0.7l1,0.1l0.5,0.8zM1626.2,366.5l0.5,-0.9l0.5,0.9zM1628.2,366.5l0.5,-0.8l1,0.2l1,-0.1l0.5,0.7zM1632.2,366.5l0.5,-1.1l1,0.1l0.5,1zM1636.2,366.5l0.5,-1.3l1,-0.9l1,-1.9l1,0.1l1,0.8l1,1.1l1,0.9l1,-0.2l1,-2.5l1,-0.7l1,0.7l1,0.6l1,1.5l1,1l1,-0.1l0.5,0.9zM1652.2,366.5l0.5,-1.1l0.5,1.1zM1654.2,366.5l0.5,-0.6l0.5,0.6zM1656.2,366.5l0.5,-1.4l1,-0.1l1,-0.9l1,-0.8l1,-0.4l1,-0.3l1,1.2l1,0.4l1,0.7l1,0.9l1,-0.3l1,-0l1,-0.1l0.5,1.1zM1671.2,366.5l0.5,-0.9l1,-0l0.5,0.9zM1674.2,366.5l0.5,-0.9l0.5,0.9zM1676.2,366.5l0.5,-0.7l1,-1.8l1,-2l1,1.2l1,1.7l1,0.7l1,-0.2l0.5,1.1zM1686.2,366.5l0.5,-1.1l1,-0l1,0.1l1,0.3l1,-0.2l1,-0.2l1,-0.3l1,0.6l1,-0.6l1,-0.8l1,-0.8l1,-2.6l1,-1.6l1,-0.5l1,3.2l1,2.2l1,0.8l1,0.4l1,0.1l1,0.1l1,0.1l1,-0.2l1,-0.1l0.5,1.1zM1710.2,366.5l0.5,-0.9l1,-0.2l1,-1.3l1,-2.3l1,-0l1,0.1l1,2.3l1,0.5l0.5,1.8zM1720.2,366.5l0.5,-1l0.5,1zM1724.2,366.5l0.5,-0.6l0.5,0.6zM1726.2,366.5l0.5,-0.7l1,0.1l0.5,0.6z" fill="#111111"/>
<line x1="1114.7" y1="366.7" x2="1728" y2="366.7" stroke="#2b2b2b" stroke-width="1.3"/>
<line x1="1731" y1="366.7" x2="1758" y2="366.7" stroke="#222" stroke-width="1" stroke-dasharray="4 3" opacity="0.6"/>
<line x1="1109" y1="51.7" x2="1109" y2="366.8" stroke="#111" stroke-width="2.2"/>
<text transform="translate(1067.3,66) scale(0.82,1)" font-size="22.5" text-anchor="end"><tspan>CD62L</tspan><tspan font-size="13" font-weight="bold" dy="-8">+</tspan><tspan dy="8"> T</tspan><tspan font-size="12.5" dy="6.5">PEX</tspan></text>
<text transform="translate(1102.4,66) scale(0.82,1)" font-size="22.5" text-anchor="end"><tspan>Ctrl</tspan></text>
<text transform="translate(1067.3,104.5) scale(0.82,1)" font-size="22.5" text-anchor="end"><tspan>CD62L</tspan><tspan font-size="13" font-weight="bold" dy="-8">+</tspan><tspan dy="8"> T</tspan><tspan font-size="12.5" dy="6.5">PEX</tspan></text>
<text transform="translate(1102.4,104.5) scale(0.82,1)" font-size="22.5" text-anchor="end"><tspan>KO</tspan></text>
<text transform="translate(1067.3,143.5) scale(0.82,1)" font-size="22.5" text-anchor="end"><tspan>CD62L</tspan><tspan font-size="13" font-weight="bold" dy="-8">-</tspan><tspan dy="8"> T</tspan><tspan font-size="12.5" dy="6.5">PEX</tspan></text>
<text transform="translate(1102.4,143.5) scale(0.82,1)" font-size="22.5" text-anchor="end"><tspan>Ctrl</tspan></text>
<text transform="translate(1067.3,180.5) scale(0.82,1)" font-size="22.5" text-anchor="end"><tspan>CD62L</tspan><tspan font-size="13" font-weight="bold" dy="-8">-</tspan><tspan dy="8"> T</tspan><tspan font-size="12.5" dy="6.5">PEX</tspan></text>
<text transform="translate(1102.4,180.5) scale(0.82,1)" font-size="22.5" text-anchor="end"><tspan>KO</tspan></text>
<text transform="translate(1067.3,215) scale(0.82,1)" font-size="22.5" text-anchor="end"><tspan>CX3CR1</tspan><tspan font-size="13" font-weight="bold" dy="-8">+</tspan><tspan dy="8"> T</tspan><tspan font-size="12.5" dy="6.5">EX</tspan></text>
<text transform="translate(1102.4,215) scale(0.82,1)" font-size="22.5" text-anchor="end"><tspan>Ctrl</tspan></text>
<text transform="translate(1067.3,253) scale(0.82,1)" font-size="22.5" text-anchor="end"><tspan>CX3CR1</tspan><tspan font-size="13" font-weight="bold" dy="-8">+</tspan><tspan dy="8"> T</tspan><tspan font-size="12.5" dy="6.5">EX</tspan></text>
<text transform="translate(1102.4,253) scale(0.82,1)" font-size="22.5" text-anchor="end"><tspan>KO</tspan></text>
<text transform="translate(1067.3,292) scale(0.82,1)" font-size="22.5" text-anchor="end"><tspan>CD101</tspan><tspan font-size="13" font-weight="bold" dy="-8">+</tspan><tspan dy="8"> T</tspan><tspan font-size="12.5" dy="6.5">EX</tspan></text>
<text transform="translate(1102.4,292) scale(0.82,1)" font-size="22.5" text-anchor="end"><tspan>Ctrl</tspan></text>
<text transform="translate(1067.3,329.5) scale(0.82,1)" font-size="22.5" text-anchor="end"><tspan>CD101</tspan><tspan font-size="13" font-weight="bold" dy="-8">+</tspan><tspan dy="8"> T</tspan><tspan font-size="12.5" dy="6.5">EX</tspan></text>
<text transform="translate(1102.4,329.5) scale(0.82,1)" font-size="22.5" text-anchor="end"><tspan>KO</tspan></text>
<text transform="translate(1102.4,359) scale(0.82,1)" font-size="22.5" text-anchor="end"><tspan font-style="italic">Satb1</tspan><tspan> Chip</tspan></text>
<text transform="translate(1109.2,46.7) scale(0.908,1)" font-size="18.5">[0-2400]</text>
<text transform="translate(1395.5,39.5) scale(0.887,1)" font-size="21" font-style="italic">Arid5a</text>
<line x1="1190.5" y1="381.6" x2="1641.5" y2="381.6" stroke="#111" stroke-width="1.6"/>
<rect x="1190.5" y="378.6" width="3" height="6" fill="#111"/>
<rect x="1424.5" y="378.6" width="4" height="6" fill="#111"/>
<rect x="1462.5" y="378.1" width="3.5" height="7" fill="#111"/>
<rect x="1475.5" y="378.6" width="3.5" height="6" fill="#111"/>
<rect x="1488.5" y="376.6" width="3" height="10" fill="#111"/>
<rect x="1501" y="376.3" width="35" height="10.6" fill="#111"/>
<rect x="1536" y="379.1" width="105.5" height="5" fill="#111"/>
<path d="M1202,380l1.6,1.6l-1.6,1.6l-1.6,-1.6z" fill="#111"/>
<path d="M1223,380l1.6,1.6l-1.6,1.6l-1.6,-1.6z" fill="#111"/>
<path d="M1244,380l1.6,1.6l-1.6,1.6l-1.6,-1.6z" fill="#111"/>
<path d="M1265,380l1.6,1.6l-1.6,1.6l-1.6,-1.6z" fill="#111"/>
<path d="M1286,380l1.6,1.6l-1.6,1.6l-1.6,-1.6z" fill="#111"/>
<path d="M1307,380l1.6,1.6l-1.6,1.6l-1.6,-1.6z" fill="#111"/>
<path d="M1328,380l1.6,1.6l-1.6,1.6l-1.6,-1.6z" fill="#111"/>
<path d="M1349,380l1.6,1.6l-1.6,1.6l-1.6,-1.6z" fill="#111"/>
<path d="M1370,380l1.6,1.6l-1.6,1.6l-1.6,-1.6z" fill="#111"/>
<path d="M1391,380l1.6,1.6l-1.6,1.6l-1.6,-1.6z" fill="#111"/>
<path d="M1412,380l1.6,1.6l-1.6,1.6l-1.6,-1.6z" fill="#111"/>
<rect x="303.4" y="464.5" width="12.3" height="320.5" fill="#dcdcdc"/>
<rect x="547.6" y="464.5" width="12.4" height="320.5" fill="#dcdcdc"/>
<rect x="642" y="464.5" width="12.5" height="320.5" fill="#dcdcdc"/>
<rect x="717.3" y="464.5" width="12.4" height="320.5" fill="#dcdcdc"/>
<path d="M247.5,486.9l0.5,-0.8l1,-0.2l1,0.4l0.5,0.6zM305.5,486.9l0.5,-1.1l1,-1.5l1,-3l1,-2.5l1,4.4l1,2.1l1,0.8l0.5,0.8zM366.5,486.9l0.5,-0.8l1,-1l1,-1.7l1,-3.6l1,1l1,3l1,1.6l1,0.6l0.5,0.9zM383.5,486.9l0.5,-1.2l1,-0.9l1,-3.1l1,2.3l1,1.5l1,0.5l0.5,0.9zM483.5,486.9l0.5,-0.7l1,-0.6l1,-0.6l1,0.1l1,0.1l1,0.6l0.5,1.1zM549.5,486.9l0.5,-0.8l1,-1l1,-2.1l1,-3.2l1,1.6l1,2.3l1,1.8l1,0.5l0.5,0.9zM644.5,486.9l0.5,-1.5l1,-0.3l1,-0.4l1,0.6l1,-0.5l1,0.1l1,0.3l0.5,1.7zM659.5,486.9l0.5,-1.1l1,-1.1l1,-0.5l1,1.1l0.5,1.6zM720.5,486.9l0.5,-0.8l1,-1.1l1,-2.9l1,1.3l1,1.1l1,1l1,0.6l0.5,0.8zM767.5,486.9l0.5,-0.9l1,0.2l1,0.1l0.5,0.6z" fill="#9b7bbb"/>
<line x1="211" y1="487.1" x2="848.7" y2="487.1" stroke="#2b2b2b" stroke-width="1.3"/>
<line x1="303.4" y1="487.2" x2="315.7" y2="487.2" stroke="#111" stroke-width="2"/>
<line x1="547.6" y1="487.2" x2="560" y2="487.2" stroke="#111" stroke-width="2"/>
<line x1="642" y1="487.2" x2="654.5" y2="487.2" stroke="#111" stroke-width="2"/>
<line x1="717.3" y1="487.2" x2="729.7" y2="487.2" stroke="#111" stroke-width="2"/>
<path d="M305.5,523.3l0.5,-1l1,-1.1l1,-3.5l1,-1.5l1,4.5l1,1l1,1l0.5,0.6zM366.5,523.3l0.5,-0.8l1,-0.4l1,-1.1l1,-3.5l1,1.3l1,2.6l1,0.5l0.5,1.4zM384.5,523.3l0.5,-1.1l1,-0.9l1,0.9l1,0.4l0.5,0.7zM549.5,523.3l0.5,-1.1l1,-1l1,-2.1l1,-2.5l1,-0.7l1,3.2l1,1.9l1,1.1l1,0.6l0.5,0.6zM660.5,523.3l0.5,-1.2l1,-0.3l1,0.8l0.5,0.7zM721.5,523.3l0.5,-0.8l1,-0.9l1,0.1l1,0.6l0.5,1z" fill="#5cb87a"/>
<line x1="211" y1="523.5" x2="848.7" y2="523.5" stroke="#2b2b2b" stroke-width="1.3"/>
<line x1="303.4" y1="523.6" x2="315.7" y2="523.6" stroke="#111" stroke-width="2"/>
<line x1="547.6" y1="523.6" x2="560" y2="523.6" stroke="#111" stroke-width="2"/>
<line x1="642" y1="523.6" x2="654.5" y2="523.6" stroke="#111" stroke-width="2"/>
<line x1="717.3" y1="523.6" x2="729.7" y2="523.6" stroke="#111" stroke-width="2"/>
<path d="M247.5,561.2l0.5,-1.8l1,-0.2l1,1.2l0.5,0.8zM304.5,561.2l0.5,-0.7l1,-0.6l1,-2.1l1,-6.4l1,-2.5l1,6.6l1,3.4l1,0.9l1,0.7l0.5,0.7zM365.5,561.2l0.5,-0.8l1,-0.6l1,-2.4l1,-4.8l1,-6.3l1,1.5l1,6.1l1,3.6l1,2l1,0.8l1,0.2l0.5,0.7zM383.5,561.2l0.5,-1l1,-1.9l1,-2.1l1,1.9l1,1.8l1,0.4l0.5,0.9zM416.5,561.2l0.5,-0.6l1,-0.7l1,-0.2l1,-0.5l1,0.1l1,0.5l1,0.8l0.5,0.6zM483.5,561.2l0.5,-0.8l1,-1.2l1,-0.5l1,0.2l1,-0l1,0.8l0.5,1.5zM548.5,561.2l0.5,-1.1l1,-0.7l1,-1.8l1,-6.1l1,-6.1l1,1.2l1,5.9l1,4.3l1,2.4l1,0.7l0.5,1.3zM644.5,561.2l0.5,-1.5l1,-0.4l1,-0l1,-0l1,-0.3l1,0.4l1,0.5l0.5,1.3zM659.5,561.2l0.5,-1.5l1,-2.2l1,-0.8l1,2.1l1,1.4l0.5,1zM720.5,561.2l0.5,-1.1l1,-0.5l1,-3.3l1,1.3l1,1.2l1,1.3l1,0.5l0.5,0.6zM767.5,561.2l0.5,-1.1l1,0.3l0.5,0.8z" fill="#f3ba5c"/>
<line x1="211" y1="561.4" x2="848.7" y2="561.4" stroke="#2b2b2b" stroke-width="1.3"/>
<line x1="303.4" y1="561.5" x2="315.7" y2="561.5" stroke="#111" stroke-width="2"/>
<line x1="547.6" y1="561.5" x2="560" y2="561.5" stroke="#111" stroke-width="2"/>
<line x1="642" y1="561.5" x2="654.5" y2="561.5" stroke="#111" stroke-width="2"/>
<line x1="717.3" y1="561.5" x2="729.7" y2="561.5" stroke="#111" stroke-width="2"/>
<path d="M247.5,598.2l0.5,-1.7l1,-0.5l1,1.4l0.5,0.8zM305.5,598.2l0.5,-1.1l1,-1.5l1,-3l1,-2.6l1,4.5l1,1.9l1,0.9l0.5,0.9zM317.5,598.2l0.5,-1.5l1,-0.4l1,0.9l0.5,1zM366.5,598.2l0.5,-0.8l1,-1.3l1,-2.8l1,-3.2l1,-0.2l1,4.6l1,1.5l1,1.3l1,0.3l0.5,0.6zM383.5,598.2l0.5,-0.9l1,-1.6l1,-1.6l1,1.7l1,1.1l1,0.7l0.5,0.6zM484.5,598.2l0.5,-0.8l1,-0.4l1,0.2l1,0.1l1,0.3l0.5,0.6zM549.5,598.2l0.5,-1l1,-1.8l1,-2.7l1,-6.2l1,2.7l1,4.3l1,1.8l1,1.3l1,0.8l0.5,0.8zM644.5,598.2l0.5,-1.5l1,-0.4l1,-0.1l1,0.4l1,-0.5l1,0.2l1,0.8l0.5,1.1zM659.5,598.2l0.5,-0.9l1,-1l1,-1.1l1,1.5l1,0.6l0.5,0.9zM719.5,598.2l0.5,-0.6l1,-0.5l1,-1.2l1,-1.6l1,-1.6l1,2.6l1,1.3l1,0.7l0.5,0.9zM767.5,598.2l0.5,-1l1,-0l0.5,1z" fill="#888888"/>
<line x1="211" y1="598.4" x2="848.7" y2="598.4" stroke="#2b2b2b" stroke-width="1.3"/>
<line x1="303.4" y1="598.5" x2="315.7" y2="598.5" stroke="#111" stroke-width="2"/>
<line x1="547.6" y1="598.5" x2="560" y2="598.5" stroke="#111" stroke-width="2"/>
<line x1="642" y1="598.5" x2="654.5" y2="598.5" stroke="#111" stroke-width="2"/>
<line x1="717.3" y1="598.5" x2="729.7" y2="598.5" stroke="#111" stroke-width="2"/>
<path d="M246.5,635l0.5,-1.3l1,-3.4l1,0.3l1,2.2l1,1.3l0.5,0.9zM304.5,635l0.5,-0.9l1,-1l1,-4.7l1,-10.8l1,-2.5l1,10.5l1,5.1l1,2.6l1,1l0.5,0.7zM317.5,635l0.5,-1.6l1,-0.3l1,1l0.5,0.9zM367.5,635l0.5,-1.4l1,-2l1,-2.6l1,0.4l1,3l1,1l1,0.8l0.5,0.8zM382.5,635l0.5,-1.1l1,-1.6l1,-4.2l1,-2.7l1,3.6l1,2.3l1,1.8l1,1.2l0.5,0.7zM484.5,635l0.5,-0.9l1,-0.1l1,-0l1,0.2l0.5,0.8zM550.5,635l0.5,-0.9l1,-1.2l1,-1.9l1,0.9l1,1.3l1,1l0.5,0.8zM632.5,635l0.5,-1.4l1,-3.4l1,0.6l1,2.6l0.5,1.6zM644.5,635l0.5,-4.2l1,-1.6l1,0.5l1,0.5l1,-0.6l1,0.5l1,0.8l0.5,4.1zM657.5,635l0.5,-0.7l1,-0.5l1,-3l1,-6.6l1,0.7l1,3.6l1,3l1,2l1,0.6l0.5,0.9zM719.5,635l0.5,-1.2l1,-1.2l1,-2.7l1,-6.2l1,1.6l1,3.6l1,3.7l1,1.1l1,0.3l0.5,1zM766.5,635l0.5,-0.7l1,-1.5l1,0.5l1,0.7l0.5,1z" fill="#3f7dc5"/>
<line x1="211" y1="635.2" x2="848.7" y2="635.2" stroke="#2b2b2b" stroke-width="1.3"/>
<line x1="303.4" y1="635.3" x2="315.7" y2="635.3" stroke="#111" stroke-width="2"/>
<line x1="547.6" y1="635.3" x2="560" y2="635.3" stroke="#111" stroke-width="2"/>
<line x1="642" y1="635.3" x2="654.5" y2="635.3" stroke="#111" stroke-width="2"/>
<line x1="717.3" y1="635.3" x2="729.7" y2="635.3" stroke="#111" stroke-width="2"/>
<path d="M246.5,672l0.5,-1.2l1,-2.8l1,-1.4l1,3.5l1,1l0.5,0.9zM304.5,672l0.5,-0.9l1,-1.3l1,-4.3l1,-10.7l1,0.6l1,7.4l1,5.2l1,1.9l1,1.3l0.5,0.8zM367.5,672l0.5,-1.1l1,-0.9l1,-1.2l1,-0.3l1,1.8l1,0.7l1,0.3l0.5,0.7zM383.5,672l0.5,-1.3l1,-1.9l1,-2.8l1,2.7l1,1.4l1,0.9l0.5,1zM484.5,672l0.5,-1l1,-0.1l1,0.1l1,0.1l0.5,0.9zM551.5,672l0.5,-0.9l1,-1l1,0.3l1,0.7l0.5,0.9zM632.5,672l0.5,-1.1l1,-1.4l1,-0.2l1,1.7l0.5,1zM644.5,672l0.5,-2.8l1,-0.1l1,-1.2l1,0.3l1,-0.3l1,0.5l1,1.2l0.5,2.4zM657.5,672l0.5,-0.7l1,-0.4l1,-2.8l1,-4.8l1,-3.9l1,5.7l1,3.8l1,1.9l0.5,1.2zM719.5,672l0.5,-1l1,-0.9l1,-1.4l1,-6.8l1,1l1,4.8l1,1.6l1,1.6l1,0.4l0.5,0.7zM766.5,672l0.5,-0.7l1,-1l1,-0l1,0.7l0.5,1z" fill="#e23c2f"/>
<line x1="211" y1="672.2" x2="848.7" y2="672.2" stroke="#2b2b2b" stroke-width="1.3"/>
<line x1="303.4" y1="672.3" x2="315.7" y2="672.3" stroke="#111" stroke-width="2"/>
<line x1="547.6" y1="672.3" x2="560" y2="672.3" stroke="#111" stroke-width="2"/>
<line x1="642" y1="672.3" x2="654.5" y2="672.3" stroke="#111" stroke-width="2"/>
<line x1="717.3" y1="672.3" x2="729.7" y2="672.3" stroke="#111" stroke-width="2"/>
<path d="M245.5,709.9l0.5,-0.7l1,-0.8l1,-4l1,-0.7l1,4.1l1,1.1l0.5,1zM304.5,709.9l0.5,-1.2l1,-1.2l1,-2.5l1,-8.4l1,-7.2l1,10.9l1,5.3l1,2.3l1,1.1l0.5,0.9zM315.5,709.9l0.5,-0.6l1,-0.4l1,-3.4l1,-1.2l1,3.9l1,0.8l0.5,0.9zM366.5,709.9l0.5,-0.7l1,-0.2l1,-1.7l1,-3.3l1,1.6l1,2.4l1,0.4l1,0.9l0.5,0.6zM382.5,709.9l0.5,-1.2l1,-1.4l1,-4.5l1,-4.3l1,3.4l1,4.9l1,1.5l1,0.8l0.5,0.8zM484.5,709.9l0.5,-0.7l1,-0.2l1,-0l1,-0.1l1,0.4l0.5,0.6zM551.5,709.9l0.5,-0.7l1,-0.4l1,0.2l1,0.2l0.5,0.7zM632.5,709.9l0.5,-0.9l1,-2.7l1,0.5l1,1.8l0.5,1.3zM644.5,709.9l0.5,-11.9l1,-4.9l1,-3.8l1,2.6l1,3.3l1,-0.9l1,4.2l0.5,11.4zM657.5,709.9l0.5,-0.8l1,-1.4l1,-3.5l1,-7.7l1,-4.4l1,8l1,6.2l1,1.5l1,1.4l1,-0l0.5,0.7zM719.5,709.9l0.5,-1.6l1,-1.6l1,-4.9l1,-8.3l1,0.7l1,7.6l1,3.1l1,2.4l1,1.3l1,0.5l0.5,0.8zM766.5,709.9l0.5,-1.2l1,-1.3l1,-0l1,1.4l1,0.4l0.5,0.7z" fill="#1b8a4b"/>
<line x1="211" y1="710.1" x2="848.7" y2="710.1" stroke="#2b2b2b" stroke-width="1.3"/>
<line x1="303.4" y1="710.2" x2="315.7" y2="710.2" stroke="#111" stroke-width="2"/>
<line x1="547.6" y1="710.2" x2="560" y2="710.2" stroke="#111" stroke-width="2"/>
<line x1="642" y1="710.2" x2="654.5" y2="710.2" stroke="#111" stroke-width="2"/>
<line x1="717.3" y1="710.2" x2="729.7" y2="710.2" stroke="#111" stroke-width="2"/>
<path d="M246.5,746.6l0.5,-1.3l1,-2.2l1,-0.7l1,2.6l1,0.7l0.5,0.9zM304.5,746.6l0.5,-0.9l1,-1.8l1,-2.5l1,-8.4l1,-8l1,12.4l1,5.3l1,2.2l1,0.8l0.5,0.9zM316.5,746.6l0.5,-0.6l1,-0.6l1,-0.7l1,1.1l0.5,0.8zM367.5,746.6l0.5,-0.7l1,-0.9l1,-2l1,0.7l1,1l1,1.2l0.5,0.7zM383.5,746.6l0.5,-0.9l1,-1.9l1,-1.4l1,1.2l1,1.4l1,0.9l0.5,0.7zM632.5,746.6l0.5,-0.6l1,-1.5l1,0.7l1,0.8l0.5,0.6zM644.5,746.6l0.5,-8l1,-5.8l1,1.1l1,-1.1l1,-0.4l1,-0.7l1,4.4l0.5,10.5zM657.5,746.6l0.5,-0.8l1,-1.2l1,-3.7l1,-8.3l1,-4.6l1,8.4l1,6.2l1,2l1,1.1l0.5,0.9zM718.5,746.6l0.5,-0.6l1,-0.4l1,-1.4l1,-2.9l1,-5.5l1,0.9l1,5.3l1,1.4l1,1.4l1,1l0.5,0.8zM766.5,746.6l0.5,-0.7l1,-0.1l1,-0.1l0.5,0.9z" fill="#6bb8e6"/>
<line x1="211" y1="746.8" x2="848.7" y2="746.8" stroke="#2b2b2b" stroke-width="1.3"/>
<line x1="303.4" y1="746.9" x2="315.7" y2="746.9" stroke="#111" stroke-width="2"/>
<line x1="547.6" y1="746.9" x2="560" y2="746.9" stroke="#111" stroke-width="2"/>
<line x1="642" y1="746.9" x2="654.5" y2="746.9" stroke="#111" stroke-width="2"/>
<line x1="717.3" y1="746.9" x2="729.7" y2="746.9" stroke="#111" stroke-width="2"/>
<path d="M211.5,783l0.5,-0.7l1,-1.1l1,-1.3l1,-1.3l1,1.2l1,1.2l0.5,2zM218.5,783l0.5,-2.7l1,-1.7l1,-0.4l1,0.7l1,2l0.5,2.1zM225.5,783l0.5,-0.7l0.5,0.7zM227.5,783l0.5,-0.9l0.5,0.9zM231.5,783l0.5,-1.1l1,-0.3l1,-1.3l1,-0.9l1,1.2l1,1.4l1,0.1l0.5,0.9zM239.5,783l0.5,-0.8l1,-0.2l0.5,1zM242.5,783l0.5,-1.1l1,0.1l1,0.2l0.5,0.8zM247.5,783l0.5,-0.6l1,-0.6l1,-1.2l1,-1.1l1,0.5l1,0.4l1,0.8l1,-0l1,0.8l1,-0l1,0.4l1,-0.4l0.5,1zM260.5,783l0.5,-0.7l0.5,0.7zM262.5,783l0.5,-0.6l0.5,0.6zM264.5,783l0.5,-2.5l1,-1.7l1,-0l1,1.2l1,0.9l1,-1.1l1,0.7l1,0.7l1,0.5l1,0.4l1,0.1l1,-0.4l0.5,1.2zM278.5,783l0.5,-1l0.5,1zM281.5,783l0.5,-1.1l1,0.3l0.5,0.8zM287.5,783l0.5,-0.9l1,0.2l0.5,0.7zM292.5,783l0.5,-0.6l1,-0.5l0.5,1.1zM295.5,783l0.5,-1l0.5,1zM298.5,783l0.5,-0.6l1,-0.6l1,-0.2l1,-0.8l1,-1l1,-2.1l1,-5.1l1,-2.7l1,0.1l1,0.7l1,1.6l1,3.7l1,-0.2l1,2l1,1.5l1,1.6l1,0.5l1,-0l0.5,1.6zM317.5,783l0.5,-1l1,-0.2l0.5,1.2zM321.5,783l0.5,-1.1l1,-0l1,0.5l0.5,0.6zM325.5,783l0.5,-0.8l1,-1.3l1,-1.1l1,1l1,0.1l1,0.9l1,0.5l1,-0l0.5,0.7zM336.5,783l0.5,-0.7l0.5,0.7zM339.5,783l0.5,-1.4l1,-1.5l1,-2.4l1,-0.3l1,1.3l1,2.3l1,1l1,0.3l1,-0l1,-0l1,-0.5l1,-2.5l1,0.1l1,-1.6l1,2.2l1,0.2l1,0.4l1,-0.6l1,1.7l1,0.5l0.5,0.8zM360.5,783l0.5,-1.1l1,0.1l1,-0l1,0.3l0.5,0.7zM366.5,783l0.5,-1.5l1,-1.7l1,-2.5l1,-2l1,3.1l1,2l1,-0.9l1,-0.3l1,0.1l1,0.9l1,1.2l1,0.8l0.5,0.8zM379.5,783l0.5,-0.9l1,-0.1l0.5,1zM382.5,783l0.5,-1.3l1,-0.7l1,-2.9l1,-2.8l1,3.7l1,0.9l1,-2.1l1,0.3l1,-0.4l1,2.6l1,1.2l1,0.5l0.5,1zM396.5,783l0.5,-0.7l0.5,0.7zM399.5,783l0.5,-1.1l1,0.4l0.5,0.7zM402.5,783l0.5,-0.6l0.5,0.6zM406.5,783l0.5,-0.7l0.5,0.7zM414.5,783l0.5,-0.7l1,-0l1,-1.3l1,-2.7l1,-1.2l1,-1.2l1,0.6l1,2.9l1,2.4l1,0.5l1,-0.3l1,0.1l1,-0.3l1,-0.7l1,-0.1l1,-0l1,0.4l1,0.4l1,0.1l1,-0l0.5,1.1zM436.5,783l0.5,-0.8l0.5,0.8zM438.5,783l0.5,-0.7l1,0.1l1,-0.1l1,-0.5l1,-0l0.5,1.2zM444.5,783l0.5,-1l1,0.3l0.5,0.7zM447.5,783l0.5,-0.8l1,-0.7l1,-2.3l1,-0.8l1,2.8l1,0.5l1,0.4l0.5,0.9zM455.5,783l0.5,-0.8l0.5,0.8zM461.5,783l0.5,-1.1l0.5,1.1zM463.5,783l0.5,-0.9l0.5,0.9zM466.5,783l0.5,-1.1l0.5,1.1zM468.5,783l0.5,-2.2l1,0.3l1,-0.1l1,-0l1,0.8l1,0.2l1,0.3l1,-0l0.5,0.7zM477.5,783l0.5,-0.8l1,-0.3l0.5,1.1zM480.5,783l0.5,-0.6l1,-0l1,-0.7l1,-0.2l1,-2.6l1,-0.3l1,-0.4l1,1l1,0.9l1,1.7l0.5,1.2zM491.5,783l0.5,-0.7l1,-0l0.5,0.7zM494.5,783l0.5,-1.2l0.5,1.2zM496.5,783l0.5,-1.1l1,-0l1,-1.1l1,-2.2l1,1.6l1,0.4l1,1.2l1,0.2l0.5,1zM506.5,783l0.5,-1.1l0.5,1.1zM508.5,783l0.5,-0.8l0.5,0.8zM511.5,783l0.5,-0.9l1,-0.1l0.5,1zM514.5,783l0.5,-1.1l0.5,1.1zM516.5,783l0.5,-1l0.5,1zM519.5,783l0.5,-1.1l1,-0.5l1,-0.4l1,-2.4l1,0.5l1,-0.4l1,0.7l1,2.5l1,-0.3l1,0.7l1,-0.3l0.5,1zM531.5,783l0.5,-1l1,-0.3l1,-1.5l1,-1.5l1,-0l1,-0.1l1,2.3l0.5,2.1zM542.5,783l0.5,-1l0.5,1zM544.5,783l0.5,-0.9l0.5,0.9zM547.5,783l0.5,-1l1,-10.4l1,-4.2l1,-4.8l1,-0.3l1,-0.2l1,-0l1,2.6l1,-0.8l1,2.4l1,2.4l1,9l1,-0.4l1,1.1l1,2.3l1,0.4l1,-0.5l1,-2.3l1,0.3l1,2l0.5,2.4zM570.5,783l0.5,-0.8l1,-0l0.5,0.8zM573.5,783l0.5,-1l1,0.1l0.5,0.9zM578.5,783l0.5,-1.1l1,0.3l1,-0.3l1,0.2l1,-0l1,-0.2l0.5,1.1zM586.5,783l0.5,-1.9l1,-0.8l1,-1.4l1,-0l1,-0.2l1,1.3l1,1.8l0.5,1.2zM594.5,783l0.5,-1.2l1,-1.4l1,-0.4l1,-2.2l1,-1.1l1,0.2l1,0.8l1,2.3l1,0.9l1,0.7l1,0.6l0.5,0.8zM607.5,783l0.5,-1.1l1,-0.1l0.5,1.2zM611.5,783l0.5,-0.7l1,-0.4l1,0.3l0.5,0.8zM615.5,783l0.5,-0.9l1,0.3l0.5,0.6zM618.5,783l0.5,-1l1,0.4l1,-0.3l0.5,0.9zM622.5,783l0.5,-0.8l0.5,0.8zM625.5,783l0.5,-0.8l1,-0.2l0.5,1zM628.5,783l0.5,-1.2l1,0.4l1,-0.4l1,-0l1,-0.4l1,-0.3l1,0.1l1,-1.4l1,0.3l1,0.9l1,0.1l1,0.7l1,-0.8l1,-1.4l1,-1.9l1,-0l1,0.8l1,-0l1,-7.4l1,-7.7l1,6.9l1,7.5l1,2.4l1,0.6l1,1.6l1,-0.4l1,-0l1,-0l1,0.3l1,-0.6l1,0.5l1,-1.7l1,-3.2l1,0.4l1,1.7l1,1.8l1,0.4l1,0.6l1,-0.5l0.5,1.3zM668.5,783l0.5,-3.1l1,0.1l1,0.9l1,0.8l0.5,1.3zM674.5,783l0.5,-1.2l1,0.2l0.5,1zM680.5,783l0.5,-1.1l0.5,1.1zM682.5,783l0.5,-1l0.5,1zM684.5,783l0.5,-0.9l1,-0.3l0.5,1.2zM687.5,783l0.5,-0.8l0.5,0.8zM689.5,783l0.5,-0.9l0.5,0.9zM693.5,783l0.5,-0.9l1,-0l1,-0.2l1,0.4l1,-0.3l1,0.1l1,-0.3l1,-3.3l1,0.3l1,2.1l1,-1.3l1,-1.4l1,1.8l1,1.4l1,0.3l1,0.4l0.5,0.9zM712.5,783l0.5,-0.8l0.5,0.8zM715.5,783l0.5,-1.2l1,0.6l1,-0l0.5,0.6zM719.5,783l0.5,-0.8l1,0.1l1,-0l1,-0.1l0.5,0.8zM724.5,783l0.5,-0.8l1,-2.1l1,-1.8l1,1.5l1,0.7l1,-0.5l1,1.1l0.5,1.9zM732.5,783l0.5,-0.8l1,-0.3l0.5,1.1zM736.5,783l0.5,-0.8l0.5,0.8zM739.5,783l0.5,-0.7l1,-1.8l1,-0.6l1,0.2l1,-0.1l1,-0l1,0.2l1,0.5l1,-0.1l1,0.7l1,0.3l1,0.4l1,-0l0.5,1zM754.5,783l0.5,-1.1l0.5,1.1zM756.5,783l0.5,-1.1l0.5,1.1zM758.5,783l0.5,-0.9l1,-0l0.5,0.9zM761.5,783l0.5,-0.9l1,-0.8l1,-3.7l1,-1.6l1,1.4l1,0.9l1,-1.6l1,1.2l1,3.5l1,-0.4l1,0.7l1,0.1l0.5,1.2zM774.5,783l0.5,-1l1,-0l0.5,1zM780.5,783l0.5,-0.6l1,-0.6l1,0.1l1,0.2l1,-0.2l0.5,1.1zM787.5,783l0.5,-1.5l1,-1.1l1,0.2l1,0.4l1,-0l1,-0.8l1,-0.4l1,0.8l1,1.2l0.5,1.2zM799.5,783l0.5,-1.1l1,-0l0.5,1.1zM803.5,783l0.5,-0.8l0.5,0.8zM806.5,783l0.5,-0.7l0.5,0.7zM808.5,783l0.5,-0.6l0.5,0.6zM813.5,783l0.5,-1.1l0.5,1.1zM815.5,783l0.5,-0.9l0.5,0.9zM817.5,783l0.5,-0.8l1,-0.7l1,0.6l1,-1.3l1,-1l1,-0.8l1,1l1,-0.4l1,1l1,0.7l1,0.4l1,0.1l0.5,1.2zM830.5,783l0.5,-1l0.5,1zM835.5,783l0.5,-1l0.5,1zM839.5,783l0.5,-0.6l0.5,0.6zM842.5,783l0.5,-0.9l0.5,0.9zM844.5,783l0.5,-1.1l1,0.1l0.5,1z" fill="#111111"/>
<line x1="211" y1="783.2" x2="848.7" y2="783.2" stroke="#2b2b2b" stroke-width="1.3"/>
<line x1="303.4" y1="783.3" x2="315.7" y2="783.3" stroke="#111" stroke-width="2"/>
<line x1="547.6" y1="783.3" x2="560" y2="783.3" stroke="#111" stroke-width="2"/>
<line x1="642" y1="783.3" x2="654.5" y2="783.3" stroke="#111" stroke-width="2"/>
<line x1="717.3" y1="783.3" x2="729.7" y2="783.3" stroke="#111" stroke-width="2"/>
<line x1="206.7" y1="466" x2="206.7" y2="784" stroke="#111" stroke-width="2.2"/>
<text transform="translate(165.6,482.6) scale(0.82,1)" font-size="22.5" text-anchor="end"><tspan>CD62L</tspan><tspan font-size="13" font-weight="bold" dy="-8">+</tspan><tspan dy="8"> T</tspan><tspan font-size="12.5" dy="6.5">PEX</tspan></text>
<text transform="translate(200,482.6) scale(0.82,1)" font-size="22.5" text-anchor="end"><tspan>Ctrl</tspan></text>
<text transform="translate(165.6,521.9) scale(0.82,1)" font-size="22.5" text-anchor="end"><tspan>CD62L</tspan><tspan font-size="13" font-weight="bold" dy="-8">+</tspan><tspan dy="8"> T</tspan><tspan font-size="12.5" dy="6.5">PEX</tspan></text>
<text transform="translate(200,521.9) scale(0.82,1)" font-size="22.5" text-anchor="end"><tspan>KO</tspan></text>
<text transform="translate(165.6,559.2) scale(0.82,1)" font-size="22.5" text-anchor="end"><tspan>CD62L</tspan><tspan font-size="13" font-weight="bold" dy="-8">-</tspan><tspan dy="8"> T</tspan><tspan font-size="12.5" dy="6.5">PEX</tspan></text>
<text transform="translate(200,559.2) scale(0.82,1)" font-size="22.5" text-anchor="end"><tspan>Ctrl</tspan></text>
<text transform="translate(165.6,596.5) scale(0.82,1)" font-size="22.5" text-anchor="end"><tspan>CD62L</tspan><tspan font-size="13" font-weight="bold" dy="-8">-</tspan><tspan dy="8"> T</tspan><tspan font-size="12.5" dy="6.5">PEX</tspan></text>
<text transform="translate(200,596.5) scale(0.82,1)" font-size="22.5" text-anchor="end"><tspan>KO</tspan></text>
<text transform="translate(165.6,631) scale(0.82,1)" font-size="22.5" text-anchor="end"><tspan>CX3CR1</tspan><tspan font-size="13" font-weight="bold" dy="-8">+</tspan><tspan dy="8"> T</tspan><tspan font-size="12.5" dy="6.5">EX</tspan></text>
<text transform="translate(200,631) scale(0.82,1)" font-size="22.5" text-anchor="end"><tspan>Ctrl</tspan></text>
<text transform="translate(165.6,669.7) scale(0.82,1)" font-size="22.5" text-anchor="end"><tspan>CX3CR1</tspan><tspan font-size="13" font-weight="bold" dy="-8">+</tspan><tspan dy="8"> T</tspan><tspan font-size="12.5" dy="6.5">EX</tspan></text>
<text transform="translate(200,669.7) scale(0.82,1)" font-size="22.5" text-anchor="end"><tspan>KO</tspan></text>
<text transform="translate(165.6,708.5) scale(0.82,1)" font-size="22.5" text-anchor="end"><tspan>CD101</tspan><tspan font-size="13" font-weight="bold" dy="-8">+</tspan><tspan dy="8"> T</tspan><tspan font-size="12.5" dy="6.5">EX</tspan></text>
<text transform="translate(200,708.5) scale(0.82,1)" font-size="22.5" text-anchor="end"><tspan>Ctrl</tspan></text>
<text transform="translate(165.6,746.6) scale(0.82,1)" font-size="22.5" text-anchor="end"><tspan>CD101</tspan><tspan font-size="13" font-weight="bold" dy="-8">+</tspan><tspan dy="8"> T</tspan><tspan font-size="12.5" dy="6.5">EX</tspan></text>
<text transform="translate(200,746.6) scale(0.82,1)" font-size="22.5" text-anchor="end"><tspan>KO</tspan></text>
<text transform="translate(200,775.9) scale(0.82,1)" font-size="22.5" text-anchor="end"><tspan font-style="italic">Satb1</tspan><tspan> Chip</tspan></text>
<text transform="translate(211.9,464) scale(0.821,1)" font-size="18.3">[0-900]</text>
<text transform="translate(483.5,456.7) scale(0.875,1)" font-size="21" font-style="italic">Slamf1</text>
<line x1="307" y1="799" x2="844" y2="799" stroke="#111" stroke-width="1.6"/>
<rect x="307" y="794.5" width="3" height="9" fill="#111"/>
<rect x="429" y="794" width="5" height="10" fill="#111"/>
<rect x="465" y="794" width="5" height="10" fill="#111"/>
<rect x="636" y="795" width="2" height="8" fill="#111"/>
<rect x="704" y="795" width="2" height="8" fill="#111"/>
<rect x="795" y="795" width="2" height="8" fill="#111"/>
<rect x="818.7" y="796" width="25.3" height="6" fill="#111"/>
<rect x="818.7" y="794" width="1.3" height="10" fill="#111"/>
<path d="M318,797.4l1.6,1.6l-1.6,1.6l-1.6,-1.6z" fill="#111"/>
<path d="M332,797.4l1.6,1.6l-1.6,1.6l-1.6,-1.6z" fill="#111"/>
<path d="M346,797.4l1.6,1.6l-1.6,1.6l-1.6,-1.6z" fill="#111"/>
<path d="M360,797.4l1.6,1.6l-1.6,1.6l-1.6,-1.6z" fill="#111"/>
<path d="M374,797.4l1.6,1.6l-1.6,1.6l-1.6,-1.6z" fill="#111"/>
<path d="M388,797.4l1.6,1.6l-1.6,1.6l-1.6,-1.6z" fill="#111"/>
<path d="M402,797.4l1.6,1.6l-1.6,1.6l-1.6,-1.6z" fill="#111"/>
<path d="M416,797.4l1.6,1.6l-1.6,1.6l-1.6,-1.6z" fill="#111"/>
<path d="M430,797.4l1.6,1.6l-1.6,1.6l-1.6,-1.6z" fill="#111"/>
<path d="M444,797.4l1.6,1.6l-1.6,1.6l-1.6,-1.6z" fill="#111"/>
<path d="M458,797.4l1.6,1.6l-1.6,1.6l-1.6,-1.6z" fill="#111"/>
<path d="M472,797.4l1.6,1.6l-1.6,1.6l-1.6,-1.6z" fill="#111"/>
<path d="M486,797.4l1.6,1.6l-1.6,1.6l-1.6,-1.6z" fill="#111"/>
<path d="M500,797.4l1.6,1.6l-1.6,1.6l-1.6,-1.6z" fill="#111"/>
<path d="M514,797.4l1.6,1.6l-1.6,1.6l-1.6,-1.6z" fill="#111"/>
<path d="M528,797.4l1.6,1.6l-1.6,1.6l-1.6,-1.6z" fill="#111"/>
<path d="M542,797.4l1.6,1.6l-1.6,1.6l-1.6,-1.6z" fill="#111"/>
<path d="M556,797.4l1.6,1.6l-1.6,1.6l-1.6,-1.6z" fill="#111"/>
<path d="M570,797.4l1.6,1.6l-1.6,1.6l-1.6,-1.6z" fill="#111"/>
<path d="M584,797.4l1.6,1.6l-1.6,1.6l-1.6,-1.6z" fill="#111"/>
<path d="M598,797.4l1.6,1.6l-1.6,1.6l-1.6,-1.6z" fill="#111"/>
<path d="M612,797.4l1.6,1.6l-1.6,1.6l-1.6,-1.6z" fill="#111"/>
<path d="M626,797.4l1.6,1.6l-1.6,1.6l-1.6,-1.6z" fill="#111"/>
<path d="M640,797.4l1.6,1.6l-1.6,1.6l-1.6,-1.6z" fill="#111"/>
<path d="M654,797.4l1.6,1.6l-1.6,1.6l-1.6,-1.6z" fill="#111"/>
<path d="M668,797.4l1.6,1.6l-1.6,1.6l-1.6,-1.6z" fill="#111"/>
<path d="M682,797.4l1.6,1.6l-1.6,1.6l-1.6,-1.6z" fill="#111"/>
<path d="M696,797.4l1.6,1.6l-1.6,1.6l-1.6,-1.6z" fill="#111"/>
<path d="M710,797.4l1.6,1.6l-1.6,1.6l-1.6,-1.6z" fill="#111"/>
<path d="M724,797.4l1.6,1.6l-1.6,1.6l-1.6,-1.6z" fill="#111"/>
<path d="M738,797.4l1.6,1.6l-1.6,1.6l-1.6,-1.6z" fill="#111"/>
<path d="M752,797.4l1.6,1.6l-1.6,1.6l-1.6,-1.6z" fill="#111"/>
<path d="M766,797.4l1.6,1.6l-1.6,1.6l-1.6,-1.6z" fill="#111"/>
<path d="M780,797.4l1.6,1.6l-1.6,1.6l-1.6,-1.6z" fill="#111"/>
<path d="M794,797.4l1.6,1.6l-1.6,1.6l-1.6,-1.6z" fill="#111"/>
<path d="M808,797.4l1.6,1.6l-1.6,1.6l-1.6,-1.6z" fill="#111"/>
<rect x="268.9" y="870" width="16.7" height="316.8" fill="#dcdcdc"/>
<rect x="315.2" y="870" width="16.8" height="316.8" fill="#dcdcdc"/>
<rect x="495.7" y="870" width="15.9" height="316.8" fill="#dcdcdc"/>
<rect x="796.4" y="870" width="16.2" height="316.8" fill="#dcdcdc"/>
<path d="M250.2,900.7l0.5,-1.2l1,-3l1,-4.6l1,4.5l1,2.9l0.5,1.4zM257.2,900.7l0.5,-0.7l1,-0.5l1,-0.6l1,0.3l1,-0.3l1,-0l1,0.5l0.5,1.3zM272.2,900.7l0.5,-1.4l1,-0.9l1,-2.4l1,-4.9l1,-7.5l1,3.6l1,4.2l1,3.8l1,2.5l1,1.4l1,0.7l1,0.3l0.5,0.6zM321.2,900.7l0.5,-1.6l1,-2.8l1,-6.9l1,3.8l1,4.8l1,1.6l0.5,1.1zM393.2,900.7l0.5,-0.8l1,-1l1,-1.1l1,-0l1,0.9l1,1.4l0.5,0.6zM466.2,900.7l0.5,-0.9l1,-0.5l1,-0.2l1,-0.2l1,0.9l0.5,0.9zM496.2,900.7l0.5,-0.7l1,-0.7l1,-1l1,-1.1l1,-5.2l1,-7.1l1,3.1l1,4l1,4.2l1,1.7l1,1.2l1,0.5l0.5,1.1zM594.2,900.7l0.5,-0.9l1,-0.9l1,0.1l1,1l0.5,0.7zM695.2,900.7l0.5,-0.8l1,-2.3l1,-1.3l1,2.6l1,1.1l0.5,0.7zM726.2,900.7l0.5,-1.9l1,0.9l0.5,1zM775.2,900.7l0.5,-0.9l1,-1.2l1,-3.4l1,1.1l1,2.8l1,0.6l0.5,1zM800.2,900.7l0.5,-5.5l1,-11.3l1,1.1l1,1.2l1,-3.2l1,4.9l0.5,12.8zM828.2,900.7l0.5,-0.7l1,-1.1l1,-2l1,-5.2l1,-9.1l1,5l1,5.8l1,3.1l1,2.2l1,0.9l1,0.5l0.5,0.6z" fill="#9b7bbb"/>
<line x1="214.7" y1="900.9" x2="852.8" y2="900.9" stroke="#2b2b2b" stroke-width="1.3"/>
<line x1="268.9" y1="901" x2="285.6" y2="901" stroke="#111" stroke-width="2"/>
<line x1="315.2" y1="901" x2="332" y2="901" stroke="#111" stroke-width="2"/>
<line x1="495.7" y1="901" x2="511.6" y2="901" stroke="#111" stroke-width="2"/>
<line x1="796.4" y1="901" x2="812.6" y2="901" stroke="#111" stroke-width="2"/>
<path d="M250.2,936.2l0.5,-0.9l1,-2.3l1,-2.9l1,3l1,2.2l0.5,0.9zM257.2,936.2l0.5,-0.8l1,-0.5l1,-0.3l1,-0.5l1,-0.1l1,0.4l1,0.8l1,0.3l0.5,0.7zM271.2,936.2l0.5,-0.6l1,-0.3l1,-1.4l1,-2.3l1,-4.9l1,-6.8l1,1.2l1,7.1l1,3l1,2.1l1,1.2l1,1l1,0.1l0.5,0.6zM321.2,936.2l0.5,-1.2l1,-1.7l1,-4.7l1,2.7l1,3.1l1,1.1l0.5,0.7zM394.2,936.2l0.5,-0.9l1,-0.2l1,0.1l1,0.4l0.5,0.6zM497.2,936.2l0.5,-0.7l1,-0.6l1,-1.2l1,-2.2l1,-3.8l1,1.6l1,2.8l1,1.7l1,1l1,0.6l0.5,0.8zM696.2,936.2l0.5,-1.6l1,-0.9l1,1.3l0.5,1.2zM726.2,936.2l0.5,-1l0.5,1zM774.2,936.2l0.5,-0.7l1,-0.5l1,-1.9l1,-3.9l1,1.7l1,3.2l1,1.1l0.5,1zM800.2,936.2l0.5,-4.2l1,-13.2l1,0.6l1,2.8l1,-2.7l1,4.4l0.5,12.3zM828.2,936.2l0.5,-0.9l1,-0.9l1,-2.4l1,-3.7l1,-10.1l1,4.3l1,5.4l1,4l1,2.1l1,1l1,0.4l0.5,0.8z" fill="#5cb87a"/>
<line x1="214.7" y1="936.4" x2="852.8" y2="936.4" stroke="#2b2b2b" stroke-width="1.3"/>
<line x1="268.9" y1="936.5" x2="285.6" y2="936.5" stroke="#111" stroke-width="2"/>
<line x1="315.2" y1="936.5" x2="332" y2="936.5" stroke="#111" stroke-width="2"/>
<line x1="495.7" y1="936.5" x2="511.6" y2="936.5" stroke="#111" stroke-width="2"/>
<line x1="796.4" y1="936.5" x2="812.6" y2="936.5" stroke="#111" stroke-width="2"/>
<path d="M250.2,972.1l0.5,-0.9l1,-2l1,-2.5l1,2.1l1,2.2l0.5,1.1zM257.2,972.1l0.5,-0.9l1,-1.3l1,-0.5l1,-0.4l1,0.1l1,1.1l1,0.3l1,0.6l0.5,1zM271.2,972.1l0.5,-0.6l1,-0.6l1,-0.6l1,-2.3l1,-5.6l1,-8.1l1,4.8l1,5.9l1,2.3l1,1.8l1,1.5l1,0.7l0.5,0.8zM320.2,972.1l0.5,-0.6l1,-1.5l1,-5.4l1,-8.9l1,7.5l1,5.3l1,2.2l0.5,1.4zM393.2,972.1l0.5,-0.7l1,-1.3l1,-0.4l1,-0.4l1,1.1l1,1l0.5,0.7zM496.2,972.1l0.5,-0.6l1,-0.7l1,-1.2l1,-2.7l1,-4.3l1,-7.6l1,2.9l1,5.5l1,4.2l1,1.6l1,1.1l1,0.7l1,0.4l0.5,0.7zM595.2,972.1l0.5,-1.2l1,0.5l0.5,0.7zM696.2,972.1l0.5,-1.6l1,-1.6l1,1.9l0.5,1.3zM726.2,972.1l0.5,-1.1l1,0.4l0.5,0.7zM775.2,972.1l0.5,-1.2l1,-2.4l1,-4.4l1,3.6l1,1.8l1,1.3l0.5,1.3zM800.2,972.1l0.5,-4.7l1,-14l1,-0.2l1,-0.1l1,2.3l1,3.7l0.5,13zM828.2,972.1l0.5,-0.9l1,-1l1,-2.3l1,-4.4l1,-8.5l1,1l1,8.3l1,3.7l1,2.3l1,0.6l0.5,1.2z" fill="#f3ba5c"/>
<line x1="214.7" y1="972.3" x2="852.8" y2="972.3" stroke="#2b2b2b" stroke-width="1.3"/>
<line x1="268.9" y1="972.4" x2="285.6" y2="972.4" stroke="#111" stroke-width="2"/>
<line x1="315.2" y1="972.4" x2="332" y2="972.4" stroke="#111" stroke-width="2"/>
<line x1="495.7" y1="972.4" x2="511.6" y2="972.4" stroke="#111" stroke-width="2"/>
<line x1="796.4" y1="972.4" x2="812.6" y2="972.4" stroke="#111" stroke-width="2"/>
<path d="M251.2,1007.7l0.5,-3.7l1,-3.6l1,3.9l1,2.5l0.5,0.9zM256.2,1007.7l0.5,-0.7l1,-0.4l1,-0.6l1,-0.5l1,-0.8l1,-0l1,1l1,0.5l1,0.7l0.5,0.8zM271.2,1007.7l0.5,-0.8l1,-0.4l1,-1.4l1,-2.6l1,-5.1l1,-7.8l1,5.5l1,3.6l1,3.6l1,2.1l1,1.6l1,0.9l1,0.1l0.5,0.7zM320.2,1007.7l0.5,-0.7l1,-0.4l1,-3.3l1,-5.1l1,3.1l1,3.7l1,1.7l1,0.4l0.5,0.6zM393.2,1007.7l0.5,-0.8l1,-0.6l1,-0.8l1,0.4l1,0.4l0.5,1.4zM467.2,1007.7l0.5,-1.2l1,0.4l1,0.1l0.5,0.7zM497.2,1007.7l0.5,-0.8l1,-0.7l1,-1.4l1,-3.6l1,-3.1l1,-0.3l1,4.9l1,1.8l1,1.4l1,0.6l0.5,1.2zM595.2,1007.7l0.5,-1l1,0.4l0.5,0.6zM696.2,1007.7l0.5,-0.7l1,-0.3l0.5,1zM774.2,1007.7l0.5,-0.7l1,-0.7l1,-2.2l1,-3.3l1,1.9l1,2l1,1.6l1,0.5l0.5,0.9zM800.2,1007.7l0.5,-5.5l1,-12.1l1,0.6l1,1.6l1,-3.1l1,7.2l0.5,11.3zM828.2,1007.7l0.5,-0.8l1,-0.7l1,-2.4l1,-5.2l1,-7.3l1,0.7l1,7.8l1,3.7l1,2.1l1,1l1,0.5l0.5,0.6z" fill="#888888"/>
<line x1="214.7" y1="1007.9" x2="852.8" y2="1007.9" stroke="#2b2b2b" stroke-width="1.3"/>
<line x1="268.9" y1="1008" x2="285.6" y2="1008" stroke="#111" stroke-width="2"/>
<line x1="315.2" y1="1008" x2="332" y2="1008" stroke="#111" stroke-width="2"/>
<line x1="495.7" y1="1008" x2="511.6" y2="1008" stroke="#111" stroke-width="2"/>
<line x1="796.4" y1="1008" x2="812.6" y2="1008" stroke="#111" stroke-width="2"/>
<path d="M250.2,1043.3l0.5,-1l1,-3.5l1,-4.2l1,4.7l1,3l0.5,1zM258.2,1043.3l0.5,-0.8l1,-0l1,-0l1,-0.3l1,0.3l0.5,0.8zM272.2,1043.3l0.5,-0.6l1,-1.1l1,-1.4l1,-2.4l1,-6.1l1,1.6l1,4.4l1,2.5l1,1.4l1,0.5l1,0.4l0.5,0.8zM497.2,1043.3l0.5,-0.8l1,-0.2l1,-1.1l1,-1.9l1,-4.1l1,1.7l1,2.4l1,1.7l1,0.6l1,0.9l0.5,0.8zM800.2,1043.3l0.5,-2.7l1,-5.8l1,-0.7l1,1.8l1,-1.3l1,2.7l0.5,6zM829.2,1043.3l0.5,-0.7l1,-0.4l1,-2.3l1,-2.8l1,0.9l1,2.6l1,1.1l1,0.8l0.5,0.8z" fill="#3f7dc5"/>
<line x1="214.7" y1="1043.5" x2="852.8" y2="1043.5" stroke="#2b2b2b" stroke-width="1.3"/>
<line x1="268.9" y1="1043.6" x2="285.6" y2="1043.6" stroke="#111" stroke-width="2"/>
<line x1="315.2" y1="1043.6" x2="332" y2="1043.6" stroke="#111" stroke-width="2"/>
<line x1="495.7" y1="1043.6" x2="511.6" y2="1043.6" stroke="#111" stroke-width="2"/>
<line x1="796.4" y1="1043.6" x2="812.6" y2="1043.6" stroke="#111" stroke-width="2"/>
<path d="M250.2,1079.2l0.5,-0.8l1,-3l1,-3.8l1,4l1,2.5l0.5,1.1zM257.2,1079.2l0.5,-0.6l1,-0l1,-0.4l1,-0.3l1,0.2l1,0.4l0.5,0.7zM271.2,1079.2l0.5,-0.6l1,-0.4l1,-0.7l1,-0.9l1,-4l1,-2.7l1,-1.7l1,4.7l1,2.6l1,1.7l1,0.8l1,0.5l0.5,0.7zM497.2,1079.2l0.5,-0.7l1,-0.2l1,-1.3l1,-1.8l1,-3.5l1,0.9l1,3.2l1,1.4l1,0.7l1,0.5l0.5,0.8zM800.2,1079.2l0.5,-1.2l1,-3.7l1,0.9l1,-1.2l1,0.6l1,1.3l0.5,3.3zM829.2,1079.2l0.5,-1l1,-1.2l1,-3.2l1,-3.5l1,0.8l1,4.4l1,1.2l1,1.3l1,0.5l0.5,0.7z" fill="#e23c2f"/>
<line x1="214.7" y1="1079.4" x2="852.8" y2="1079.4" stroke="#2b2b2b" stroke-width="1.3"/>
<line x1="268.9" y1="1079.5" x2="285.6" y2="1079.5" stroke="#111" stroke-width="2"/>
<line x1="315.2" y1="1079.5" x2="332" y2="1079.5" stroke="#111" stroke-width="2"/>
<line x1="495.7" y1="1079.5" x2="511.6" y2="1079.5" stroke="#111" stroke-width="2"/>
<line x1="796.4" y1="1079.5" x2="812.6" y2="1079.5" stroke="#111" stroke-width="2"/>
<path d="M250.2,1114.8l0.5,-0.7l1,-2.7l1,-3.6l1,3.5l1,2.3l0.5,1.2zM272.2,1114.8l0.5,-0.6l1,-1l1,-1.2l1,-4.1l1,-5.5l1,1.4l1,4.6l1,2.9l1,1.6l1,0.8l1,0.3l0.5,0.8zM497.2,1114.8l0.5,-0.7l1,-0.7l1,-1.3l1,-2.6l1,-4.3l1,1.9l1,3.7l1,1.3l1,1.6l1,0.2l0.5,0.9zM800.2,1114.8l0.5,-2.7l1,-4.8l1,0.6l1,-1l1,-0.6l1,2.4l0.5,6.1zM830.2,1114.8l0.5,-1.9l1,-1l1,-4.2l1,1.2l1,2.5l1,2l1,0.6l0.5,0.8z" fill="#1b8a4b"/>
<line x1="214.7" y1="1115" x2="852.8" y2="1115" stroke="#2b2b2b" stroke-width="1.3"/>
<line x1="268.9" y1="1115.1" x2="285.6" y2="1115.1" stroke="#111" stroke-width="2"/>
<line x1="315.2" y1="1115.1" x2="332" y2="1115.1" stroke="#111" stroke-width="2"/>
<line x1="495.7" y1="1115.1" x2="511.6" y2="1115.1" stroke="#111" stroke-width="2"/>
<line x1="796.4" y1="1115.1" x2="812.6" y2="1115.1" stroke="#111" stroke-width="2"/>
<path d="M251.2,1151l0.5,-2.7l1,-2.9l1,3.3l1,1.5l0.5,0.8zM258.2,1151l0.5,-0.6l1,-0.2l1,-0.1l1,-0.2l1,0.3l1,0.1l0.5,0.7zM272.2,1151l0.5,-0.7l1,-0.6l1,-1.3l1,-1.5l1,-4.3l1,0.4l1,3.8l1,2l1,0.8l1,0.5l0.5,0.9zM498.2,1151l0.5,-1l1,-1l1,-2.4l1,-2.3l1,0.4l1,3.5l1,0.6l1,0.7l1,0.8l0.5,0.7zM800.2,1151l0.5,-1.9l1,-4.7l1,-0.3l1,1.4l1,0.3l1,0.4l0.5,4.8zM829.2,1151l0.5,-0.7l1,-0.7l1,-1.1l1,-3.3l1,0.6l1,3.1l1,0.6l1,0.7l0.5,0.8z" fill="#6bb8e6"/>
<line x1="214.7" y1="1151.2" x2="852.8" y2="1151.2" stroke="#2b2b2b" stroke-width="1.3"/>
<line x1="268.9" y1="1151.3" x2="285.6" y2="1151.3" stroke="#111" stroke-width="2"/>
<line x1="315.2" y1="1151.3" x2="332" y2="1151.3" stroke="#111" stroke-width="2"/>
<line x1="495.7" y1="1151.3" x2="511.6" y2="1151.3" stroke="#111" stroke-width="2"/>
<line x1="796.4" y1="1151.3" x2="812.6" y2="1151.3" stroke="#111" stroke-width="2"/>
<path d="M214.2,1186l0.5,-0.6l0.5,0.6zM221.2,1186l0.5,-1.2l1,0.1l1,0.1l1,0.3l0.5,0.7zM226.2,1186l0.5,-1.1l0.5,1.1zM230.2,1186l0.5,-1.1l1,-0l1,-0.1l1,0.6l1,-0.1l0.5,0.7zM236.2,1186l0.5,-1.1l0.5,1.1zM238.2,1186l0.5,-0.9l1,-0.2l1,0.2l0.5,0.9zM243.2,1186l0.5,-0.6l1,-0.8l1,-0.3l1,-2.3l1,-3.5l1,-1.1l1,0.9l1,2.8l1,2.1l1,-1.1l1,2.4l1,0.1l0.5,1.4zM257.2,1186l0.5,-1.2l0.5,1.2zM259.2,1186l0.5,-0.7l1,-0.3l1,-0.5l1,0.7l1,-0.7l1,-1l1,-0l1,0.5l1,0.4l1,0.6l1,0.4l1,-0.2l1,-6.5l1,-6.4l1,-3l1,2.1l1,-1.1l1,-3.1l1,-0.5l1,1.7l1,0.7l1,1.2l1,-0.1l1,10.2l1,3l1,0.8l1,0.9l1,-0.2l1,-1.8l1,-1.3l1,-1.7l1,-0.3l1,-0.5l1,1.7l1,-1.1l1,-0.2l1,1.6l1,2.8l1,0.6l0.5,1.3zM299.2,1186l0.5,-0.7l1,-0l1,-0l0.5,0.7zM303.2,1186l0.5,-1.1l0.5,1.1zM308.2,1186l0.5,-1.6l1,-1.2l1,-0.3l1,0.1l1,1.9l1,-0.2l0.5,1.3zM318.2,1186l0.5,-1.2l1,0.2l1,-0.5l1,-2.2l1,-0.8l1,0.3l1,1.9l1,1.1l0.5,1.2zM328.2,1186l0.5,-0.9l0.5,0.9zM331.2,1186l0.5,-1l0.5,1zM333.2,1186l0.5,-0.7l0.5,0.7zM336.2,1186l0.5,-1l1,-0.1l1,0.3l0.5,0.8zM340.2,1186l0.5,-1.2l1,-0.3l1,-1.3l1,0.5l1,0.6l1,1l1,-0.5l0.5,1.2zM348.2,1186l0.5,-0.8l1,-0.3l1,0.2l1,-0.3l1,0.4l1,-0.3l0.5,1.1zM355.2,1186l0.5,-0.8l1,-0.5l1,-1.3l1,-1.6l1,1.6l1,0.3l1,1.6l1,-0.3l1,0.1l1,0.1l1,-0.5l1,-0.1l1,0.7l1,-1.8l1,-0.4l1,-0.3l1,-2.8l1,-0.3l1,0.5l1,1.7l1,1.5l1,0.4l1,-0.6l1,-0l1,0.5l1,0.6l1,0.7l1,0.4l1,-0.4l1,-0.1l0.5,1.1zM386.2,1186l0.5,-0.8l0.5,0.8zM388.2,1186l0.5,-1l0.5,1zM390.2,1186l0.5,-1.1l0.5,1.1zM393.2,1186l0.5,-1.4l1,-1.2l1,-0.5l1,0.1l1,0.7l1,0.8l0.5,1.5zM402.2,1186l0.5,-0.7l0.5,0.7zM404.2,1186l0.5,-1.1l0.5,1.1zM406.2,1186l0.5,-0.7l1,0.1l0.5,0.6zM409.2,1186l0.5,-1.2l0.5,1.2zM411.2,1186l0.5,-0.6l0.5,0.6zM413.2,1186l0.5,-0.8l0.5,0.8zM415.2,1186l0.5,-0.7l1,0.1l1,-0.3l0.5,0.9zM419.2,1186l0.5,-0.8l0.5,0.8zM421.2,1186l0.5,-0.8l1,-0.3l0.5,1.1zM424.2,1186l0.5,-0.9l1,0.1l1,-0.1l0.5,0.9zM429.2,1186l0.5,-0.6l1,-0.1l1,-0.4l1,0.2l0.5,0.9zM435.2,1186l0.5,-1.1l0.5,1.1zM437.2,1186l0.5,-0.7l1,-0.1l1,-0.1l1,0.2l1,-0l0.5,0.7zM443.2,1186l0.5,-1.1l0.5,1.1zM451.2,1186l0.5,-0.7l1,-0l1,0.1l0.5,0.6zM455.2,1186l0.5,-1.3l1,-0.8l1,-1l1,-0.2l1,-0.4l1,-0.9l1,1.4l1,2.4l1,-0l1,-0.1l1,-0l1,-1.8l1,-1.5l1,0.6l1,0.8l1,0.3l1,1.8l1,-0l0.5,0.7zM475.2,1186l0.5,-1l1,-0l1,-1.3l1,-0.5l1,-1.1l1,0.2l1,0.3l1,1.5l1,1l1,-0.4l1,-1.1l1,-0.7l1,-1.1l1,-0l1,0.7l1,-0.8l1,-0.2l1,-0.6l1,-0.6l1,-0.1l1,2.2l1,1.3l1,1.2l1,-1.5l1,-2l1,-3l1,-8.1l1,-0.3l1,7.7l1,3.7l1,2.3l1,0.3l1,1.1l1,0.3l1,-0.2l0.5,0.8zM512.2,1186l0.5,-1.1l1,-0.3l1,-0.6l1,-2.1l1,0.1l1,0.2l1,1.8l1,0.8l1,0.5l0.5,0.7zM522.2,1186l0.5,-0.6l1,-0.1l0.5,0.7zM525.2,1186l0.5,-0.7l0.5,0.7zM528.2,1186l0.5,-0.8l1,-1.5l1,-1.4l1,0.5l1,0.5l0.5,2.7zM534.2,1186l0.5,-0.7l1,-0.2l0.5,0.9zM537.2,1186l0.5,-0.7l1,-0.3l0.5,1zM540.2,1186l0.5,-1l0.5,1zM543.2,1186l0.5,-1.2l1,0.1l1,0.2l1,-1.3l1,-2l1,0.3l1,0.1l1,0.3l1,-0.7l1,-0.5l1,-0.7l1,-2.7l1,1.8l1,-0l1,2.9l1,2.1l1,-1.3l1,-0.6l1,-0.5l1,0.5l1,1l0.5,2.2zM565.2,1186l0.5,-1l1,0.2l0.5,0.8zM568.2,1186l0.5,-2.3l1,-3.2l1,0.6l1,1.6l1,1.9l1,0.7l0.5,0.7zM577.2,1186l0.5,-0.8l1,-0.3l0.5,1.1zM580.2,1186l0.5,-1l0.5,1zM582.2,1186l0.5,-0.7l0.5,0.7zM589.2,1186l0.5,-0.8l1,-0.3l1,-0.3l1,0.3l1,-1.6l1,-3.4l1,-6.5l1,0.7l1,7.5l1,2.4l1,0.3l1,0.2l1,0.6l1,-0.3l0.5,1.2zM606.2,1186l0.5,-1.2l0.5,1.2zM610.2,1186l0.5,-0.7l0.5,0.7zM615.2,1186l0.5,-0.6l1,-0.8l1,-0.8l1,-1.3l1,-0.7l1,-0.2l1,-0.3l1,2.8l1,-1l1,-0.9l1,-0.3l1,2.9l1,0.4l0.5,0.8zM629.2,1186l0.5,-0.9l1,0.1l1,-0.2l1,-0.2l1,0.5l0.5,0.7zM635.2,1186l0.5,-1l0.5,1zM637.2,1186l0.5,-1.1l1,-0l1,-0.2l1,-0.2l1,-1.4l1,0.2l1,0.8l1,1l0.5,0.9zM646.2,1186l0.5,-1l0.5,1zM648.2,1186l0.5,-1.3l1,-0.4l1,-1.4l1,-1.4l1,1.4l1,1l0.5,2.1zM655.2,1186l0.5,-0.8l0.5,0.8zM657.2,1186l0.5,-0.7l0.5,0.7zM659.2,1186l0.5,-0.9l0.5,0.9zM661.2,1186l0.5,-0.7l0.5,0.7zM663.2,1186l0.5,-0.8l0.5,0.8zM668.2,1186l0.5,-1.2l0.5,1.2zM672.2,1186l0.5,-0.6l1,-0.3l0.5,0.9zM676.2,1186l0.5,-0.7l1,0.1l0.5,0.6zM679.2,1186l0.5,-1l0.5,1zM683.2,1186l0.5,-1.1l1,-0.9l1,0.2l1,-0.9l1,-0.3l1,-0.1l1,0.1l1,0.1l1,-1l1,0.3l1,1.3l1,1.1l1,0.1l1,-1l1,-0.3l1,-1.7l1,0.3l1,-0.1l1,1.5l1,0.1l1,0.9l1,0.1l0.5,1.3zM707.2,1186l0.5,-1.2l0.5,1.2zM711.2,1186l0.5,-1.2l1,0.5l1,-0.2l1,-0.1l0.5,1zM716.2,1186l0.5,-0.9l1,-0.3l0.5,1.2zM719.2,1186l0.5,-0.8l1,-0.1l0.5,0.9zM725.2,1186l0.5,-0.9l1,0.1l0.5,0.8zM731.2,1186l0.5,-0.7l0.5,0.7zM734.2,1186l0.5,-0.8l0.5,0.8zM736.2,1186l0.5,-1.1l0.5,1.1zM740.2,1186l0.5,-1l0.5,1zM742.2,1186l0.5,-1l0.5,1zM744.2,1186l0.5,-0.6l0.5,0.6zM748.2,1186l0.5,-1.1l0.5,1.1zM751.2,1186l0.5,-1.2l0.5,1.2zM755.2,1186l0.5,-1.1l1,0.1l1,-0.1l0.5,1.1zM759.2,1186l0.5,-1l1,-1.9l1,-0.3l1,0.4l1,0.7l1,0.4l1,0.7l1,0.1l0.5,0.9zM768.2,1186l0.5,-1.1l1,-0.1l0.5,1.2zM772.2,1186l0.5,-0.7l0.5,0.7zM774.2,1186l0.5,-0.6l1,-0.6l1,-1.8l1,-3l1,2.5l1,1.3l1,-0.4l1,-0.9l1,-0.8l1,2.8l1,0.7l0.5,0.8zM787.2,1186l0.5,-1.2l1,0.6l0.5,0.6zM790.2,1186l0.5,-0.7l1,-0l1,0.1l0.5,0.6zM794.2,1186l0.5,-1l1,0.2l1,0.2l1,-0.2l1,-0l1,-0l1,-1.8l1,-2.9l1,-9.6l1,-3.2l1,6.5l1,5.8l1,2.5l1,0.6l1,-0.4l1,-0l1,-0.4l1,0.5l1,0.6l1,0.7l1,0.8l0.5,1.1zM816.2,1186l0.5,-0.6l0.5,0.6zM819.2,1186l0.5,-0.6l1,-0.4l1,0.4l1,-0.8l1,-1.1l1,-0.7l1,0.7l1,1.3l0.5,1.2zM828.2,1186l0.5,-1.5l1,-1.2l1,-0.8l1,-1.6l1,-0.9l1,-0.2l1,3.7l1,0.9l1,0.9l1,-0.6l0.5,1.3zM840.2,1186l0.5,-0.9l0.5,0.9zM844.2,1186l0.5,-0.8l1,-1.2l1,-0.4l1,-1.1l1,0.2l1,-0.5l1,1.3l0.5,2.5zM852.2,1186l0.5,-1.2l0.5,1.2z" fill="#111111"/>
<line x1="214.7" y1="1186.2" x2="852.8" y2="1186.2" stroke="#2b2b2b" stroke-width="1.3"/>
<line x1="268.9" y1="1186.3" x2="285.6" y2="1186.3" stroke="#111" stroke-width="2"/>
<line x1="315.2" y1="1186.3" x2="332" y2="1186.3" stroke="#111" stroke-width="2"/>
<line x1="495.7" y1="1186.3" x2="511.6" y2="1186.3" stroke="#111" stroke-width="2"/>
<line x1="796.4" y1="1186.3" x2="812.6" y2="1186.3" stroke="#111" stroke-width="2"/>
<rect x="223.9" y="870" width="15.8" height="316.8" fill="#dcdcdc"/>
<line x1="209" y1="870" x2="209" y2="1186.8" stroke="#111" stroke-width="2.2"/>
<text transform="translate(163.6,886) scale(0.82,1)" font-size="22.5" text-anchor="end"><tspan>CD62L</tspan><tspan font-size="13" font-weight="bold" dy="-8">+</tspan><tspan dy="8"> T</tspan><tspan font-size="12.5" dy="6.5">PEX</tspan></text>
<text transform="translate(199,886) scale(0.82,1)" font-size="22.5" text-anchor="end"><tspan>Ctrl</tspan></text>
<text transform="translate(163.6,924.8) scale(0.82,1)" font-size="22.5" text-anchor="end"><tspan>CD62L</tspan><tspan font-size="13" font-weight="bold" dy="-8">+</tspan><tspan dy="8"> T</tspan><tspan font-size="12.5" dy="6.5">PEX</tspan></text>
<text transform="translate(199,924.8) scale(0.82,1)" font-size="22.5" text-anchor="end"><tspan>KO</tspan></text>
<text transform="translate(163.6,963.5) scale(0.82,1)" font-size="22.5" text-anchor="end"><tspan>CD62L</tspan><tspan font-size="13" font-weight="bold" dy="-8">-</tspan><tspan dy="8"> T</tspan><tspan font-size="12.5" dy="6.5">PEX</tspan></text>
<text transform="translate(199,963.5) scale(0.82,1)" font-size="22.5" text-anchor="end"><tspan>Ctrl</tspan></text>
<text transform="translate(163.6,1000.8) scale(0.82,1)" font-size="22.5" text-anchor="end"><tspan>CD62L</tspan><tspan font-size="13" font-weight="bold" dy="-8">-</tspan><tspan dy="8"> T</tspan><tspan font-size="12.5" dy="6.5">PEX</tspan></text>
<text transform="translate(199,1000.8) scale(0.82,1)" font-size="22.5" text-anchor="end"><tspan>KO</tspan></text>
<text transform="translate(163.6,1034.7) scale(0.82,1)" font-size="22.5" text-anchor="end"><tspan>CX3CR1</tspan><tspan font-size="13" font-weight="bold" dy="-8">+</tspan><tspan dy="8"> T</tspan><tspan font-size="12.5" dy="6.5">EX</tspan></text>
<text transform="translate(199,1034.7) scale(0.82,1)" font-size="22.5" text-anchor="end"><tspan>Ctrl</tspan></text>
<text transform="translate(163.6,1072.6) scale(0.82,1)" font-size="22.5" text-anchor="end"><tspan>CX3CR1</tspan><tspan font-size="13" font-weight="bold" dy="-8">+</tspan><tspan dy="8"> T</tspan><tspan font-size="12.5" dy="6.5">EX</tspan></text>
<text transform="translate(199,1072.6) scale(0.82,1)" font-size="22.5" text-anchor="end"><tspan>KO</tspan></text>
<text transform="translate(163.6,1112.8) scale(0.82,1)" font-size="22.5" text-anchor="end"><tspan>CD101</tspan><tspan font-size="13" font-weight="bold" dy="-8">+</tspan><tspan dy="8"> T</tspan><tspan font-size="12.5" dy="6.5">EX</tspan></text>
<text transform="translate(199,1112.8) scale(0.82,1)" font-size="22.5" text-anchor="end"><tspan>Ctrl</tspan></text>
<text transform="translate(163.6,1149.5) scale(0.82,1)" font-size="22.5" text-anchor="end"><tspan>CD101</tspan><tspan font-size="13" font-weight="bold" dy="-8">+</tspan><tspan dy="8"> T</tspan><tspan font-size="12.5" dy="6.5">EX</tspan></text>
<text transform="translate(199,1149.5) scale(0.82,1)" font-size="22.5" text-anchor="end"><tspan>KO</tspan></text>
<text transform="translate(199,1178.8) scale(0.82,1)" font-size="22.5" text-anchor="end"><tspan font-style="italic">Satb1</tspan><tspan> Chip</tspan></text>
<text transform="translate(214.1,866) scale(0.908,1)" font-size="18.5">[0-500]</text>
<text transform="translate(507.4,853.5) scale(0.885,1)" font-size="21" font-style="italic">Slamf6</text>
<line x1="229.6" y1="1201.2" x2="620" y2="1201.2" stroke="#111" stroke-width="1.6"/>
<rect x="229.6" y="1196.2" width="2.9" height="10" fill="#111"/>
<rect x="435" y="1196.2" width="4.5" height="10" fill="#111"/>
<rect x="464.5" y="1196.2" width="3.5" height="10" fill="#111"/>
<rect x="482.5" y="1197.2" width="2" height="8" fill="#111"/>
<rect x="488" y="1197.2" width="2" height="8" fill="#111"/>
<rect x="500.5" y="1197.2" width="1.3" height="8" fill="#111"/>
<rect x="528" y="1197.2" width="1.3" height="8" fill="#111"/>
<rect x="607.5" y="1197.2" width="1.5" height="8" fill="#111"/>
<rect x="616" y="1198.7" width="4" height="5" fill="#111"/>
<path d="M242,1199.6l1.6,1.6l-1.6,1.6l-1.6,-1.6z" fill="#111"/>
<path d="M259,1199.6l1.6,1.6l-1.6,1.6l-1.6,-1.6z" fill="#111"/>
<path d="M276,1199.6l1.6,1.6l-1.6,1.6l-1.6,-1.6z" fill="#111"/>
<path d="M293,1199.6l1.6,1.6l-1.6,1.6l-1.6,-1.6z" fill="#111"/>
<path d="M310,1199.6l1.6,1.6l-1.6,1.6l-1.6,-1.6z" fill="#111"/>
<path d="M327,1199.6l1.6,1.6l-1.6,1.6l-1.6,-1.6z" fill="#111"/>
<path d="M344,1199.6l1.6,1.6l-1.6,1.6l-1.6,-1.6z" fill="#111"/>
<path d="M361,1199.6l1.6,1.6l-1.6,1.6l-1.6,-1.6z" fill="#111"/>
<path d="M378,1199.6l1.6,1.6l-1.6,1.6l-1.6,-1.6z" fill="#111"/>
<path d="M395,1199.6l1.6,1.6l-1.6,1.6l-1.6,-1.6z" fill="#111"/>
<path d="M412,1199.6l1.6,1.6l-1.6,1.6l-1.6,-1.6z" fill="#111"/>
<path d="M429,1199.6l1.6,1.6l-1.6,1.6l-1.6,-1.6z" fill="#111"/>
<path d="M446,1199.6l1.6,1.6l-1.6,1.6l-1.6,-1.6z" fill="#111"/>
<path d="M463,1199.6l1.6,1.6l-1.6,1.6l-1.6,-1.6z" fill="#111"/>
<path d="M480,1199.6l1.6,1.6l-1.6,1.6l-1.6,-1.6z" fill="#111"/>
<path d="M497,1199.6l1.6,1.6l-1.6,1.6l-1.6,-1.6z" fill="#111"/>
<path d="M514,1199.6l1.6,1.6l-1.6,1.6l-1.6,-1.6z" fill="#111"/>
<path d="M531,1199.6l1.6,1.6l-1.6,1.6l-1.6,-1.6z" fill="#111"/>
<path d="M548,1199.6l1.6,1.6l-1.6,1.6l-1.6,-1.6z" fill="#111"/>
<path d="M565,1199.6l1.6,1.6l-1.6,1.6l-1.6,-1.6z" fill="#111"/>
<path d="M582,1199.6l1.6,1.6l-1.6,1.6l-1.6,-1.6z" fill="#111"/>
<path d="M599,1199.6l1.6,1.6l-1.6,1.6l-1.6,-1.6z" fill="#111"/>
<rect x="1127.3" y="456.3" width="23.8" height="315.7" fill="#dcdcdc"/>
<rect x="1320.5" y="456.3" width="23.8" height="315.7" fill="#dcdcdc"/>
<path d="M1244.3,473.2l0.5,-0.8l1,-1.5l1,-1.6l1,0.3l1,1.7l1,1.1l0.5,0.8zM1326.3,473.2l0.5,-1l1,-1.2l1,-1.2l1,-1.3l1,-0.4l1,1.4l1,1.4l1,1l0.5,1.3zM1470.3,473.2l0.5,-1.1l1,-1.3l1,-0.4l1,0.7l1,0.7l1,0.6l0.5,0.8zM1497.3,473.2l0.5,-0.6l1,-0.4l1,-0l1,-0l1,0.4l0.5,0.6zM1527.3,473.2l0.5,-1l1,-0.7l1,-0.5l1,0.4l1,0.7l0.5,1.1zM1659.3,473.2l0.5,-1.2l1,-1l1,0.6l1,0.7l0.5,0.9z" fill="#9b7bbb"/>
<line x1="1113.8" y1="473.4" x2="1728" y2="473.4" stroke="#2b2b2b" stroke-width="1.3"/>
<line x1="1731" y1="473.4" x2="1745" y2="473.4" stroke="#9b7bbb" stroke-width="1" stroke-dasharray="4 3" opacity="0.6"/>
<path d="M1244.3,510.2l0.5,-0.8l1,-1.4l1,-1.6l1,-0.1l1,2l0.5,1.9zM1326.3,510.2l0.5,-1.2l1,-1.3l1,-1.8l1,-1.2l1,-0.6l1,2.3l1,1.4l1,1.1l0.5,1.3zM1471.3,510.2l0.5,-0.7l1,-0.3l1,0.2l1,-0l0.5,0.8zM1498.3,510.2l0.5,-0.8l1,-0.4l1,0.2l1,0.3l0.5,0.7zM1527.3,510.2l0.5,-0.9l1,-0.4l1,-0.3l1,0.1l1,0.4l0.5,1.1zM1659.3,510.2l0.5,-0.7l1,-0.5l1,0.1l1,0.5l0.5,0.6z" fill="#5cb87a"/>
<line x1="1113.8" y1="510.4" x2="1728" y2="510.4" stroke="#2b2b2b" stroke-width="1.3"/>
<line x1="1731" y1="510.4" x2="1745" y2="510.4" stroke="#5cb87a" stroke-width="1" stroke-dasharray="4 3" opacity="0.6"/>
<path d="M1134.3,548.4l0.5,-0.7l1,-0.2l1,-0l1,-0l1,-0.2l1,-0l0.5,1.1zM1141.3,548.4l0.5,-0.7l0.5,0.7zM1244.3,548.4l0.5,-0.8l1,-1.6l1,-1.5l1,0.1l1,0.9l1,2.1l0.5,0.8zM1326.3,548.4l0.5,-2.4l1,-3.4l1,-4.6l1,-2.5l1,-2.2l1,4.3l1,5.1l1,2.8l0.5,2.9zM1470.3,548.4l0.5,-1.1l1,-1l1,-0.9l1,0.3l1,0.9l0.5,1.8zM1527.3,548.4l0.5,-0.9l1,-0.8l1,-0.5l1,0.4l1,0.7l0.5,1.1zM1659.3,548.4l0.5,-0.6l1,-0.4l1,0.2l1,0.2l0.5,0.6z" fill="#f3ba5c"/>
<line x1="1113.8" y1="548.6" x2="1728" y2="548.6" stroke="#2b2b2b" stroke-width="1.3"/>
<line x1="1731" y1="548.6" x2="1745" y2="548.6" stroke="#f3ba5c" stroke-width="1" stroke-dasharray="4 3" opacity="0.6"/>
<path d="M1134.3,585.1l0.5,-0.8l1,-0.2l1,-0l1,-0l1,0.1l1,-0.2l1,0.3l0.5,0.8zM1244.3,585.1l0.5,-1.1l1,-2.5l1,-2l1,-0l1,2.2l1,2.4l0.5,1zM1326.3,585.1l0.5,-2.1l1,-2l1,-2.2l1,-4.3l1,-0.3l1,3.3l1,2.8l1,2.6l0.5,2.2zM1470.3,585.1l0.5,-0.7l1,-0.9l1,-0.1l1,-0.2l1,0.6l0.5,1.3zM1498.3,585.1l0.5,-1l1,-0.3l1,0.2l0.5,1.1zM1527.3,585.1l0.5,-1.1l1,-1l1,-1l1,0.9l1,0.5l1,1.1l0.5,0.6zM1659.3,585.1l0.5,-0.8l1,-0.2l1,-0.1l1,0.5l0.5,0.6z" fill="#888888"/>
<line x1="1113.8" y1="585.3" x2="1728" y2="585.3" stroke="#2b2b2b" stroke-width="1.3"/>
<line x1="1731" y1="585.3" x2="1745" y2="585.3" stroke="#888888" stroke-width="1" stroke-dasharray="4 3" opacity="0.6"/>
<path d="M1134.3,622.7l0.5,-0.7l1,-0.1l1,-0.1l1,-0.1l1,0.2l1,-0.2l1,0.3l0.5,0.7zM1244.3,622.7l0.5,-1.4l1,-1.8l1,-3.9l1,-0.4l1,3.9l1,2.5l0.5,1.1zM1326.3,622.7l0.5,-4.3l1,-5.4l1,-4.2l1,-6.5l1,-0.2l1,7.3l1,2.3l1,6.3l0.5,4.7zM1393.3,622.7l0.5,-0.9l1,-1.5l1,0.1l1,0.8l0.5,1.5zM1470.3,622.7l0.5,-2.1l1,-1.6l1,-0.4l1,-0.5l1,2.1l1,1.5l0.5,1zM1498.3,622.7l0.5,-0.7l1,-0.2l1,-0l1,0.3l0.5,0.6zM1527.3,622.7l0.5,-1.3l1,-1l1,-0.7l1,0.4l1,1.5l0.5,1.1zM1658.3,622.7l0.5,-1.1l1,-1.5l1,-1.5l1,0.5l1,1.8l0.5,1.8z" fill="#3f7dc5"/>
<line x1="1113.8" y1="622.9" x2="1728" y2="622.9" stroke="#2b2b2b" stroke-width="1.3"/>
<line x1="1731" y1="622.9" x2="1745" y2="622.9" stroke="#3f7dc5" stroke-width="1" stroke-dasharray="4 3" opacity="0.6"/>
<path d="M1134.3,659.8l0.5,-0.8l1,-0.1l1,-0.1l1,-0l1,-0.2l1,0.5l1,-0l0.5,0.7zM1244.3,659.8l0.5,-1.3l1,-4.6l1,-1.8l1,-0.5l1,2.7l1,4.2l0.5,1.3zM1326.3,659.8l0.5,-3.5l1,-5.3l1,-6.7l1,-3.8l1,-2.3l1,4.9l1,8l1,3.2l0.5,5.5zM1393.3,659.8l0.5,-0.7l1,-1.6l1,-0.7l1,1.2l0.5,1.8zM1470.3,659.8l0.5,-1.7l1,-1.1l1,-0.5l1,-0l1,0.9l1,1.5l0.5,0.9zM1498.3,659.8l0.5,-0.8l1,-0.4l1,0.2l1,0.2l0.5,0.8zM1527.3,659.8l0.5,-1.3l1,-0.9l1,-0.7l1,0.4l1,1l1,0.9l0.5,0.6zM1658.3,659.8l0.5,-1.3l1,-1.2l1,-1.2l1,0.1l1,1.6l0.5,2z" fill="#e23c2f"/>
<line x1="1113.8" y1="660" x2="1728" y2="660" stroke="#2b2b2b" stroke-width="1.3"/>
<line x1="1731" y1="660" x2="1745" y2="660" stroke="#e23c2f" stroke-width="1" stroke-dasharray="4 3" opacity="0.6"/>
<path d="M1133.3,697.6l0.5,-0.8l1,-0.3l1,-0.5l1,-0.5l1,0.1l1,-0l1,0.7l1,-0.2l1,0.7l1,0.2l0.5,0.6zM1244.3,697.6l0.5,-1.4l1,-2.2l1,-3.2l1,0.3l1,1.7l1,3.3l0.5,1.5zM1326.3,697.6l0.5,-4.7l1,-3.6l1,-4.8l1,-4.2l1,-4.6l1,5.6l1,5.3l1,7l0.5,4zM1393.3,697.6l0.5,-1.1l1,-1.2l1,-0.5l1,0.8l0.5,2zM1470.3,697.6l0.5,-1.4l1,-1.8l1,-0.5l1,0.2l1,1.2l1,1.3l0.5,1zM1527.3,697.6l0.5,-1.7l1,-1.2l1,-0.3l1,-0.3l1,1.4l1,1.3l0.5,0.8zM1658.3,697.6l0.5,-0.7l1,-0.8l1,-0.7l1,-0.4l1,1.1l0.5,1.5z" fill="#1b8a4b"/>
<line x1="1113.8" y1="697.8" x2="1728" y2="697.8" stroke="#2b2b2b" stroke-width="1.3"/>
<line x1="1731" y1="697.8" x2="1745" y2="697.8" stroke="#1b8a4b" stroke-width="1" stroke-dasharray="4 3" opacity="0.6"/>
<path d="M1134.3,735l0.5,-1.2l1,-0.1l1,-0.6l1,0.3l1,-0.1l1,0.2l1,0.1l1,0.3l0.5,1.1zM1244.3,735l0.5,-1.3l1,-3.3l1,-1.9l1,-0.7l1,3.9l1,2.2l0.5,1.1zM1326.3,735l0.5,-4.3l1,-4.7l1,-5.4l1,-3.6l1,-0.1l1,2.5l1,7l1,4.8l0.5,3.8zM1394.3,735l0.5,-0.9l1,-0.3l1,0.5l0.5,0.7zM1470.3,735l0.5,-0.9l1,-0.5l1,-0.1l1,-0.2l1,0.6l0.5,1.1zM1527.3,735l0.5,-1l1,-0.5l1,-0.5l1,0.5l1,0.2l0.5,1.3zM1658.3,735l0.5,-0.8l1,-0.6l1,-0.7l1,0.3l1,0.8l0.5,1z" fill="#6bb8e6"/>
<line x1="1113.8" y1="735.2" x2="1728" y2="735.2" stroke="#2b2b2b" stroke-width="1.3"/>
<line x1="1731" y1="735.2" x2="1745" y2="735.2" stroke="#6bb8e6" stroke-width="1" stroke-dasharray="4 3" opacity="0.6"/>
<path d="M1113.3,772l0.5,-0.8l0.5,0.8zM1120.3,772l0.5,-0.9l1,-0l0.5,0.9zM1124.3,772l0.5,-1.1l1,0.4l1,-0.4l0.5,1.1zM1129.3,772l0.5,-0.8l0.5,0.8zM1131.3,772l0.5,-1.2l1,0.5l0.5,0.7zM1135.3,772l0.5,-1l0.5,1zM1138.3,772l0.5,-1l0.5,1zM1140.3,772l0.5,-0.7l1,-0.2l0.5,0.9zM1144.3,772l0.5,-0.7l1,-0.4l1,0.3l0.5,0.8zM1148.3,772l0.5,-0.7l0.5,0.7zM1150.3,772l0.5,-1.4l1,-1.1l1,-0.2l1,0.5l1,0.8l1,0.8l0.5,0.6zM1158.3,772l0.5,-0.8l0.5,0.8zM1160.3,772l0.5,-1.1l1,0.2l1,-1.9l1,-3.7l1,-1.7l1,0.5l1,2.5l1,2.8l0.5,2.4zM1169.3,772l0.5,-0.7l0.5,0.7zM1171.3,772l0.5,-1.3l1,-0.4l1,-3.2l1,-0.4l1,1.3l1,2.4l0.5,1.6zM1178.3,772l0.5,-0.7l1,-0.3l1,0.2l0.5,0.8zM1186.3,772l0.5,-1.2l0.5,1.2zM1188.3,772l0.5,-0.8l1,-0.9l1,-2.3l1,-1.3l1,0.4l1,1.4l1,1.7l1,-0.7l1,0.3l1,0.3l1,0.1l1,0.3l1,0.5l1,0.2l1,-0.1l0.5,0.9zM1204.3,772l0.5,-0.7l1,-0.1l1,0.1l0.5,0.7zM1209.3,772l0.5,-0.8l1,-0l1,-0.9l1,-2.9l1,0.8l1,2.2l1,0.9l0.5,0.7zM1217.3,772l0.5,-0.9l1,-0.2l1,-0l1,0.3l1,-2l1,0.5l1,-0.5l1,1.1l1,0.6l0.5,1.1zM1228.3,772l0.5,-1.2l1,-1.1l1,-2.2l1,0.2l1,-0.6l1,1.6l1,2.2l1,-0.1l1,0.4l0.5,0.8zM1238.3,772l0.5,-0.8l0.5,0.8zM1240.3,772l0.5,-1l0.5,1zM1242.3,772l0.5,-0.7l0.5,0.7zM1244.3,772l0.5,-1.9l1,-5l1,-2.5l1,-1.8l1,5.4l1,3.9l1,1.2l0.5,0.7zM1252.3,772l0.5,-0.9l1,-0.3l0.5,1.2zM1256.3,772l0.5,-0.8l0.5,0.8zM1258.3,772l0.5,-1.1l0.5,1.1zM1261.3,772l0.5,-0.8l1,-0.4l1,-0.1l1,-1.4l1,-0.6l1,-1.7l1,1.6l1,0.8l1,1.3l1,0.1l1,-1.1l1,0.5l1,0.1l1,0.3l1,0.7l0.5,0.7zM1279.3,772l0.5,-0.9l0.5,0.9zM1282.3,772l0.5,-0.9l0.5,0.9zM1284.3,772l0.5,-0.9l1,-0.2l0.5,1.1zM1288.3,772l0.5,-1.2l1,-0l0.5,1.2zM1291.3,772l0.5,-0.9l1,-1.2l1,0.1l1,-1.4l1,1.2l1,0.4l1,-0.5l1,1.3l0.5,1zM1300.3,772l0.5,-1.1l0.5,1.1zM1302.3,772l0.5,-0.8l0.5,0.8zM1304.3,772l0.5,-1.2l0.5,1.2zM1310.3,772l0.5,-1l0.5,1zM1312.3,772l0.5,-0.8l1,-0.2l0.5,1zM1316.3,772l0.5,-0.9l0.5,0.9zM1319.3,772l0.5,-1.3l1,-0.4l1,-1.5l1,-0.4l1,-2.6l1,-5.8l1,-8.8l1,3.5l1,-1.2l1,-3.1l1,2.5l1,4.4l1,-2.9l1,-1.6l1,1.5l1,-1.2l1,3.2l1,3.1l1,7.2l1,4.3l1,-1.9l1,-0.6l1,-0.5l1,2.7l1,0.4l1,-0.1l1,-0l1,0.5l0.5,0.6zM1348.3,772l0.5,-1.2l1,-0l1,-1l1,-1.7l1,-0.4l1,-0l1,1l1,1.6l1,0.4l1,-1.9l1,-3l1,-1.9l1,-1.3l1,4.6l1,1.4l1,-1.7l1,-0.6l1,0.8l1,1.8l1,0.5l1,0.7l1,1.2l1,-0.1l0.5,0.8zM1374.3,772l0.5,-0.9l1,-0.1l1,-0l0.5,1zM1379.3,772l0.5,-0.8l1,-0.3l0.5,1.1zM1382.3,772l0.5,-1.1l1,-1l1,0.1l1,-0.1l1,1.3l1,-0.3l1,0.1l1,0.2l1,-1.1l1,-1.1l1,-1.5l1,1.3l1,-1.4l1,0.8l1,-0.2l1,1.9l1,0.5l1,0.7l1,-0.2l1,-0l1,-0.1l0.5,1.2zM1404.3,772l0.5,-1l1,-1l1,-0.7l1,0.7l1,-0.5l1,0.1l1,-0l1,0.5l1,-0.5l1,-0.4l1,-0.5l1,-0.5l1,1.4l1,-1.8l1,1.4l1,1.3l1,0.6l1,-0l0.5,0.9zM1429.3,772l0.5,-0.9l1,-2.2l1,-2l1,-0.2l1,-1.5l1,3.1l1,1.4l1,-3.4l1,-0.1l1,-0.6l1,3.4l1,1.4l1,-0.6l1,-0l1,-0.1l1,-0.1l1,-0.6l1,0.1l1,-0.5l1,1l1,0.4l1,1.4l1,-0.8l1,0.3l0.5,1.1zM1455.3,772l0.5,-0.8l1,-0.3l1,0.2l1,0.1l1,0.1l0.5,0.7zM1461.3,772l0.5,-0.7l1,-0.1l1,-0.3l0.5,1.1zM1465.3,772l0.5,-0.7l1,0.1l1,-0.4l0.5,1zM1469.3,772l0.5,-2.3l1,-5.9l1,-5.5l1,-3.1l1,-1.5l1,10.2l1,4.1l1,2.8l0.5,1.2zM1478.3,772l0.5,-0.8l1,-0.1l0.5,0.9zM1481.3,772l0.5,-0.7l1,-0l0.5,0.7zM1485.3,772l0.5,-0.7l1,-0.1l1,-0.3l1,0.4l0.5,0.7zM1492.3,772l0.5,-0.7l0.5,0.7zM1494.3,772l0.5,-0.8l0.5,0.8zM1497.3,772l0.5,-2.8l1,-0.8l1,-2.6l1,2.2l1,0.8l1,0.9l1,-1.6l1,1l1,-0.8l1,1.9l1,-0.3l1,1.5l0.5,0.6zM1510.3,772l0.5,-1.2l0.5,1.2zM1512.3,772l0.5,-0.8l1,0.1l1,-1.4l1,-2.1l1,-2.4l1,0.7l1,-0.1l1,1.7l1,2.6l0.5,1.7zM1526.3,772l0.5,-1.5l1,-5.7l1,-5.4l1,-4.2l1,-0.2l1,3.5l1,5.6l1,3.2l1,0.4l1,1.2l1,1.6l1,0.4l1,-0.1l1,-1l1,0.1l1,-0.4l1,0.7l1,0.7l0.5,1.1zM1545.3,772l0.5,-0.8l1,0.1l1,-0.4l1,0.5l0.5,0.6zM1551.3,772l0.5,-1.2l0.5,1.2zM1555.3,772l0.5,-1l0.5,1zM1557.3,772l0.5,-0.7l1,-0l1,-0.9l1,-0.1l1,-2l1,-0.1l1,-0.5l1,1.5l1,0.6l1,0.2l0.5,2zM1568.3,772l0.5,-0.8l0.5,0.8zM1570.3,772l0.5,-0.8l1,-0l1,-0.2l0.5,1zM1575.3,772l0.5,-1.1l1,-1.5l1,-1.3l1,0.1l1,1.2l0.5,2.6zM1582.3,772l0.5,-0.9l1,-0.2l1,0.1l1,-0.2l1,0.6l1,-0.1l1,-0.5l0.5,1.2zM1591.3,772l0.5,-1.1l0.5,1.1zM1594.3,772l0.5,-2.4l1,-1.5l1,0.6l1,1.7l1,0.7l0.5,0.9zM1600.3,772l0.5,-0.7l1,-0l0.5,0.7zM1605.3,772l0.5,-1l1,0.1l1,-0.2l0.5,1.1zM1609.3,772l0.5,-0.9l1,-0.1l0.5,1zM1613.3,772l0.5,-1.2l0.5,1.2zM1615.3,772l0.5,-0.9l1,0.3l1,-0.3l0.5,0.9zM1620.3,772l0.5,-1.1l1,0.2l0.5,0.9zM1625.3,772l0.5,-1.1l1,0.5l1,-0.5l0.5,1.1zM1634.3,772l0.5,-1l0.5,1zM1636.3,772l0.5,-1l1,-1l1,0.2l1,0.5l0.5,1.3zM1641.3,772l0.5,-1l0.5,1zM1644.3,772l0.5,-1l0.5,1zM1647.3,772l0.5,-0.8l1,-0.3l1,0.3l1,-0.3l0.5,1.1zM1653.3,772l0.5,-0.8l0.5,0.8zM1655.3,772l0.5,-1.1l1,0.4l0.5,0.7zM1658.3,772l0.5,-4.2l1,-5.1l1,-4.8l1,3.1l1,4.6l1,5.8l0.5,0.6zM1665.3,772l0.5,-0.9l1,-0.2l1,0.3l0.5,0.8zM1669.3,772l0.5,-3.4l1,-2.6l1,-3.1l1,1.1l1,3.3l1,4.1l1,-0.4l1,-0.1l1,-0.2l1,-1l1,-0.1l1,-2.8l1,-0.7l1,-4.5l1,1.4l1,4.6l1,3.5l1,-0.6l1,-2.3l1,-3.4l1,-0.8l1,1.4l1,2.5l1,2.6l1,0.7l0.5,0.8zM1695.3,772l0.5,-0.9l1,0.3l0.5,0.6zM1699.3,772l0.5,-0.7l0.5,0.7zM1702.3,772l0.5,-0.7l1,-0.5l1,0.5l0.5,0.7zM1706.3,772l0.5,-1l0.5,1zM1710.3,772l0.5,-1.1l1,0.4l1,-0.2l1,-0.2l1,-0l0.5,1.1zM1716.3,772l0.5,-0.9l1,-0.2l1,0.3l0.5,0.8zM1720.3,772l0.5,-1l0.5,1zM1723.3,772l0.5,-1.2l1,-0l1,0.3l0.5,0.9z" fill="#111111"/>
<line x1="1113.8" y1="772.2" x2="1728" y2="772.2" stroke="#2b2b2b" stroke-width="1.3"/>
<line x1="1731" y1="772.2" x2="1745" y2="772.2" stroke="#222" stroke-width="1" stroke-dasharray="4 3" opacity="0.6"/>
<line x1="1108.4" y1="456.8" x2="1108.4" y2="772.6" stroke="#111" stroke-width="2.2"/>
<text transform="translate(1062.7,461.7) scale(0.82,1)" font-size="22.5" text-anchor="end"><tspan>CD62L</tspan><tspan font-size="13" font-weight="bold" dy="-8">+</tspan><tspan dy="8"> T</tspan><tspan font-size="12.5" dy="6.5">PEX</tspan></text>
<text transform="translate(1098,461.7) scale(0.82,1)" font-size="22.5" text-anchor="end"><tspan>Ctrl</tspan></text>
<text transform="translate(1062.7,501.9) scale(0.82,1)" font-size="22.5" text-anchor="end"><tspan>CD62L</tspan><tspan font-size="13" font-weight="bold" dy="-8">+</tspan><tspan dy="8"> T</tspan><tspan font-size="12.5" dy="6.5">PEX</tspan></text>
<text transform="translate(1098,501.9) scale(0.82,1)" font-size="22.5" text-anchor="end"><tspan>KO</tspan></text>
<text transform="translate(1062.7,540.6) scale(0.82,1)" font-size="22.5" text-anchor="end"><tspan>CD62L</tspan><tspan font-size="13" font-weight="bold" dy="-8">-</tspan><tspan dy="8"> T</tspan><tspan font-size="12.5" dy="6.5">PEX</tspan></text>
<text transform="translate(1098,540.6) scale(0.82,1)" font-size="22.5" text-anchor="end"><tspan>Ctrl</tspan></text>
<text transform="translate(1062.7,578) scale(0.82,1)" font-size="22.5" text-anchor="end"><tspan>CD62L</tspan><tspan font-size="13" font-weight="bold" dy="-8">-</tspan><tspan dy="8"> T</tspan><tspan font-size="12.5" dy="6.5">PEX</tspan></text>
<text transform="translate(1098,578) scale(0.82,1)" font-size="22.5" text-anchor="end"><tspan>KO</tspan></text>
<text transform="translate(1062.7,611.5) scale(0.82,1)" font-size="22.5" text-anchor="end"><tspan>CX3CR1</tspan><tspan font-size="13" font-weight="bold" dy="-8">+</tspan><tspan dy="8"> T</tspan><tspan font-size="12.5" dy="6.5">EX</tspan></text>
<text transform="translate(1098,611.5) scale(0.82,1)" font-size="22.5" text-anchor="end"><tspan>Ctrl</tspan></text>
<text transform="translate(1062.7,649.7) scale(0.82,1)" font-size="22.5" text-anchor="end"><tspan>CX3CR1</tspan><tspan font-size="13" font-weight="bold" dy="-8">+</tspan><tspan dy="8"> T</tspan><tspan font-size="12.5" dy="6.5">EX</tspan></text>
<text transform="translate(1098,649.7) scale(0.82,1)" font-size="22.5" text-anchor="end"><tspan>KO</tspan></text>
<text transform="translate(1062.7,688.5) scale(0.82,1)" font-size="22.5" text-anchor="end"><tspan>CD101</tspan><tspan font-size="13" font-weight="bold" dy="-8">+</tspan><tspan dy="8"> T</tspan><tspan font-size="12.5" dy="6.5">EX</tspan></text>
<text transform="translate(1098,688.5) scale(0.82,1)" font-size="22.5" text-anchor="end"><tspan>Ctrl</tspan></text>
<text transform="translate(1062.7,725.2) scale(0.82,1)" font-size="22.5" text-anchor="end"><tspan>CD101</tspan><tspan font-size="13" font-weight="bold" dy="-8">+</tspan><tspan dy="8"> T</tspan><tspan font-size="12.5" dy="6.5">EX</tspan></text>
<text transform="translate(1098,725.2) scale(0.82,1)" font-size="22.5" text-anchor="end"><tspan>KO</tspan></text>
<text transform="translate(1098,755.9) scale(0.82,1)" font-size="22.5" text-anchor="end"><tspan font-style="italic">Satb1</tspan><tspan> Chip</tspan></text>
<text transform="translate(1107.8,453) scale(0.812,1)" font-size="18.5">[0-1600]</text>
<text transform="translate(1405.9,442.5) scale(0.799,1)" font-size="21" font-style="italic">Ccr5</text>
<line x1="1328" y1="788" x2="1690.7" y2="788" stroke="#111" stroke-width="1.6"/>
<rect x="1327" y="785" width="4" height="6" fill="#111"/>
<rect x="1409" y="783" width="32" height="10" fill="#111"/>
<rect x="1441" y="785" width="141" height="6" fill="#111"/>
<rect x="1676.4" y="785" width="14.3" height="6" fill="#111"/>
<path d="M1335,786.4l1.6,1.6l-1.6,1.6l-1.6,-1.6z" fill="#111"/>
<path d="M1353,786.4l1.6,1.6l-1.6,1.6l-1.6,-1.6z" fill="#111"/>
<path d="M1370,786.4l1.6,1.6l-1.6,1.6l-1.6,-1.6z" fill="#111"/>
<path d="M1387,786.4l1.6,1.6l-1.6,1.6l-1.6,-1.6z" fill="#111"/>
<path d="M1404,786.4l1.6,1.6l-1.6,1.6l-1.6,-1.6z" fill="#111"/>
<path d="M1592,786.4l1.6,1.6l-1.6,1.6l-1.6,-1.6z" fill="#111"/>
<path d="M1609,786.4l1.6,1.6l-1.6,1.6l-1.6,-1.6z" fill="#111"/>
<path d="M1627,786.4l1.6,1.6l-1.6,1.6l-1.6,-1.6z" fill="#111"/>
<path d="M1644,786.4l1.6,1.6l-1.6,1.6l-1.6,-1.6z" fill="#111"/>
<path d="M1661,786.4l1.6,1.6l-1.6,1.6l-1.6,-1.6z" fill="#111"/>
<rect x="1413" y="866.2" width="19.7" height="323.8" fill="#dcdcdc"/>
<rect x="1634.5" y="866.2" width="20.1" height="323.8" fill="#dcdcdc"/>
<path d="M1252.5,886l0.5,-0.9l1,0.1l0.5,0.8zM1330.5,886l0.5,-1.4l1,-0.5l1,0.8l0.5,1.1zM1403.5,886l0.5,-0.9l1,0.1l0.5,0.8zM1422.5,886l0.5,-1.1l1,0.5l0.5,0.6zM1453.5,886l0.5,-0.7l1,-0.4l1,0.3l0.5,0.8zM1638.5,886l0.5,-1.5l1,-0.5l1,-0l1,-0.1l1,0.1l1,0.2l1,0.1l1,0.5l0.5,1.2zM1675.5,886l0.5,-0.9l1,0.2l0.5,0.7z" fill="#9b7bbb"/>
<line x1="1120" y1="886.2" x2="1743" y2="886.2" stroke="#2b2b2b" stroke-width="1.3"/>
<line x1="1746" y1="886.2" x2="1776" y2="886.2" stroke="#9b7bbb" stroke-width="1" stroke-dasharray="4 3" opacity="0.6"/>
<path d="M1251.5,923.4l0.5,-1.3l1,-2.1l1,-0.5l1,1.9l1,1.2l0.5,0.8zM1329.5,923.4l0.5,-0.8l1,-1.7l1,-1.1l1,1.1l1,1.3l0.5,1.2zM1402.5,923.4l0.5,-1l1,-1.5l1,-1l1,1.6l1,0.9l0.5,1zM1419.5,923.4l0.5,-0.7l1,-0.8l1,-1.9l1,-4.7l1,4l1,1.7l1,1.3l0.5,1.1zM1452.5,923.4l0.5,-0.8l1,-1l1,-1.2l1,1.3l1,0.8l0.5,0.9zM1638.5,923.4l0.5,-5.6l1,-4.6l1,0.1l1,-0.1l1,-0.9l1,-0l1,1.3l1,4.2l0.5,5.6zM1674.5,923.4l0.5,-0.6l1,-0.5l1,0.1l0.5,1z" fill="#5cb87a"/>
<line x1="1120" y1="923.6" x2="1743" y2="923.6" stroke="#2b2b2b" stroke-width="1.3"/>
<line x1="1746" y1="923.6" x2="1776" y2="923.6" stroke="#5cb87a" stroke-width="1" stroke-dasharray="4 3" opacity="0.6"/>
<path d="M1251.5,962l0.5,-1.1l1,-1.5l1,-1.3l1,2.1l1,0.8l0.5,1zM1329.5,962l0.5,-1.2l1,-0.8l1,-1.8l1,1.5l1,1.2l1,0.4l0.5,0.7zM1401.5,962l0.5,-0.9l1,-0.9l1,-3.3l1,-1.6l1,3.5l1,2l1,0.3l0.5,0.9zM1418.5,962l0.5,-0.6l1,-0.6l1,-1.4l1,-3.9l1,-5.4l1,6.1l1,2.4l1,1.8l1,1l0.5,0.6zM1451.5,962l0.5,-0.7l1,-0.6l1,-1.5l1,-1.8l1,2.2l1,1.3l1,0.4l0.5,0.7zM1476.5,962l0.5,-0.8l1,-1l1,-0.1l1,1.1l0.5,0.8zM1638.5,962l0.5,-7.8l1,-1.8l1,-1.4l1,0.5l1,0.4l1,-2.9l1,2.7l1,2.6l0.5,7.7zM1674.5,962l0.5,-0.7l1,-1.3l1,0.4l1,0.7l0.5,0.9z" fill="#f3ba5c"/>
<line x1="1120" y1="962.2" x2="1743" y2="962.2" stroke="#2b2b2b" stroke-width="1.3"/>
<line x1="1746" y1="962.2" x2="1776" y2="962.2" stroke="#f3ba5c" stroke-width="1" stroke-dasharray="4 3" opacity="0.6"/>
<path d="M1251.5,999.4l0.5,-1.1l1,-1.4l1,-0.2l1,1.2l0.5,1.5zM1329.5,999.4l0.5,-0.7l1,-1.1l1,-1l1,1.2l1,0.8l0.5,0.8zM1402.5,999.4l0.5,-1.9l1,-2.8l1,-0.1l1,1.5l1,1.7l1,0.9l0.5,0.7zM1420.5,999.4l0.5,-2l1,-2l1,-4.2l1,2.9l1,2.9l1,1.1l0.5,1.3zM1452.5,999.4l0.5,-1.1l1,-1.2l1,-0.7l1,0.9l1,1.2l0.5,0.9zM1477.5,999.4l0.5,-1l1,-0l0.5,1zM1638.5,999.4l0.5,-9.5l1,-0.4l1,-4.1l1,-0l1,1.6l1,2.2l1,0.6l1,1.6l0.5,8zM1675.5,999.4l0.5,-1l1,0.1l0.5,0.9z" fill="#888888"/>
<line x1="1120" y1="999.6" x2="1743" y2="999.6" stroke="#2b2b2b" stroke-width="1.3"/>
<line x1="1746" y1="999.6" x2="1776" y2="999.6" stroke="#888888" stroke-width="1" stroke-dasharray="4 3" opacity="0.6"/>
<path d="M1250.5,1037.6l0.5,-0.8l1,-0.8l1,-2.7l1,-0.8l1,3.3l1,0.6l0.5,1.2zM1330.5,1037.6l0.5,-1.2l1,-0.5l1,0.7l1,0.4l0.5,0.6zM1401.5,1037.6l0.5,-1.1l1,-1.7l1,-3.7l1,-0.2l1,2.3l1,2.5l1,0.8l0.5,1.1zM1419.5,1037.6l0.5,-1.1l1,-1.3l1,-5.4l1,-6.4l1,5.5l1,4.7l1,2.7l1,0.4l0.5,0.9zM1451.5,1037.6l0.5,-0.7l1,-1.7l1,-3.5l1,-2.8l1,4.6l1,1.9l1,1.3l0.5,0.9zM1464.5,1037.6l0.5,-1.7l1,0.2l1,0.7l0.5,0.8zM1476.5,1037.6l0.5,-0.7l1,-0.7l1,-0.3l1,0.9l0.5,0.8zM1561.5,1037.6l0.5,-1.1l1,-1.3l1,-0.1l1,1l0.5,1.5zM1611.5,1037.6l0.5,-1.5l1,-0.2l1,0.8l1,0.2l0.5,0.7zM1638.5,1037.6l0.5,-14.8l1,-4.5l1,-2.2l1,-0l1,3.1l1,-1.7l1,3.2l1,4.5l0.5,12.4zM1667.5,1037.6l0.5,-1.4l1,-0.3l1,0.4l1,0.6l0.5,0.7zM1674.5,1037.6l0.5,-1l1,-2.2l1,0.5l1,1.7l1,0.3l0.5,0.7zM1722.5,1037.6l0.5,-0.7l1,-0.1l1,-1.1l1,0.7l1,0.4l0.5,0.8z" fill="#3f7dc5"/>
<line x1="1120" y1="1037.8" x2="1743" y2="1037.8" stroke="#2b2b2b" stroke-width="1.3"/>
<line x1="1746" y1="1037.8" x2="1776" y2="1037.8" stroke="#3f7dc5" stroke-width="1" stroke-dasharray="4 3" opacity="0.6"/>
<path d="M1250.5,1076l0.5,-1l1,-1.4l1,-3.5l1,0.5l1,2.8l1,1.4l1,0.4l0.5,0.8zM1330.5,1076l0.5,-0.8l1,-0.1l1,0.2l0.5,0.7zM1401.5,1076l0.5,-1.4l1,-2l1,-5.6l1,-1.8l1,5.1l1,3l1,1.6l1,0.4l0.5,0.7zM1418.5,1076l0.5,-0.6l1,-0.5l1,-1.6l1,-4.7l1,-3.2l1,3.2l1,3.6l1,1.8l1,1.2l0.5,0.8zM1451.5,1076l0.5,-0.9l1,-0.9l1,-4.7l1,-3.4l1,4.6l1,2.7l1,1.3l1,0.6l0.5,0.7zM1463.5,1076l0.5,-1l1,-1.9l1,-0l1,1.8l0.5,1.1zM1477.5,1076l0.5,-2l1,-0l1,1l0.5,1zM1560.5,1076l0.5,-0.7l1,-0.4l1,-2l1,-0l1,1.6l1,0.6l0.5,0.9zM1611.5,1076l0.5,-0.6l1,-0.3l0.5,0.9zM1638.5,1076l0.5,-12.4l1,-3.6l1,-4.6l1,-1.2l1,0.8l1,2.4l1,1.1l1,4.9l0.5,12.6zM1666.5,1076l0.5,-0.7l1,-0.7l1,-0.9l1,0.6l1,0.6l0.5,1.1zM1673.5,1076l0.5,-0.7l1,-0.5l1,-2.1l1,-0.1l1,1.9l1,0.9l0.5,0.6zM1722.5,1076l0.5,-0.6l1,-1l1,-1.5l1,1.3l1,1l0.5,0.8z" fill="#e23c2f"/>
<line x1="1120" y1="1076.2" x2="1743" y2="1076.2" stroke="#2b2b2b" stroke-width="1.3"/>
<line x1="1746" y1="1076.2" x2="1776" y2="1076.2" stroke="#e23c2f" stroke-width="1" stroke-dasharray="4 3" opacity="0.6"/>
<path d="M1251.5,1113.4l0.5,-0.9l1,-1.5l1,-0.6l1,1.6l1,0.6l0.5,0.8zM1331.5,1113.4l0.5,-1.1l1,0.5l0.5,0.6zM1401.5,1113.4l0.5,-1.7l1,-2.7l1,-7.4l1,-0.1l1,4.6l1,3.6l1,2.1l1,0.8l0.5,0.8zM1419.5,1113.4l0.5,-1.1l1,-1.5l1,-4.6l1,-2.9l1,3.3l1,3.9l1,1.3l1,0.7l0.5,0.9zM1451.5,1113.4l0.5,-0.9l1,-1.5l1,-3.8l1,-1.7l1,3.1l1,2.6l1,1l1,0.6l0.5,0.6zM1463.5,1113.4l0.5,-0.7l1,-1.3l1,0.4l1,0.7l0.5,0.9zM1476.5,1113.4l0.5,-1.4l1,-1.9l1,-0.5l1,2l1,0.9l0.5,0.9zM1561.5,1113.4l0.5,-1.2l1,-1.1l1,-0.4l1,1.3l1,0.8l0.5,0.6zM1611.5,1113.4l0.5,-0.7l1,-0.4l1,0.4l0.5,0.7zM1638.5,1113.4l0.5,-14.5l1,-6.1l1,2.9l1,-4.3l1,5.6l1,-0.4l1,-3.2l1,6.9l0.5,13.1zM1667.5,1113.4l0.5,-0.7l1,-0.3l1,0.4l0.5,0.6zM1674.5,1113.4l0.5,-1l1,-2.2l1,0.7l1,1.4l0.5,1.1z" fill="#1b8a4b"/>
<line x1="1120" y1="1113.6" x2="1743" y2="1113.6" stroke="#2b2b2b" stroke-width="1.3"/>
<line x1="1746" y1="1113.6" x2="1776" y2="1113.6" stroke="#1b8a4b" stroke-width="1" stroke-dasharray="4 3" opacity="0.6"/>
<path d="M1251.5,1151.6l0.5,-0.9l1,-1.1l1,-1.2l1,1.6l1,0.9l0.5,0.7zM1330.5,1151.6l0.5,-0.6l1,-0.4l1,0.2l0.5,0.8zM1401.5,1151.6l0.5,-1.1l1,-1.7l1,-3.7l1,-2.1l1,4.5l1,1.9l1,0.9l1,0.6l0.5,0.7zM1419.5,1151.6l0.5,-0.8l1,-1.1l1,-3.1l1,-3.7l1,3.4l1,3.1l1,1.2l0.5,1zM1451.5,1151.6l0.5,-0.7l1,-0.5l1,-1.5l1,-2l1,2l1,1.6l0.5,1.1zM1476.5,1151.6l0.5,-1.1l1,-1.5l1,0.2l1,1.2l0.5,1.2zM1561.5,1151.6l0.5,-1.2l1,-1.5l1,-0l1,1.6l1,0.3l0.5,0.8zM1638.5,1151.6l0.5,-10.2l1,-8.5l1,-1.1l1,-0.5l1,4.9l1,-5.6l1,2.9l1,5.9l0.5,12.2zM1674.5,1151.6l0.5,-0.9l1,-0.8l1,0.2l1,0.5l0.5,1z" fill="#6bb8e6"/>
<line x1="1120" y1="1151.8" x2="1743" y2="1151.8" stroke="#2b2b2b" stroke-width="1.3"/>
<line x1="1746" y1="1151.8" x2="1776" y2="1151.8" stroke="#6bb8e6" stroke-width="1" stroke-dasharray="4 3" opacity="0.6"/>
<path d="M1119.5,1189.4l0.5,-0.6l1,-0.4l1,-0.1l0.5,1.1zM1124.5,1189.4l0.5,-1.2l0.5,1.2zM1127.5,1189.4l0.5,-1.3l1,-0.2l1,-0.7l1,-1l1,0.6l1,0.3l1,-0.2l1,-0l1,0.3l1,0.9l1,-0.4l1,0.4l1,-0l1,0.3l0.5,1zM1142.5,1189.4l0.5,-0.9l1,0.1l0.5,0.8zM1145.5,1189.4l0.5,-1l1,-0l0.5,1zM1149.5,1189.4l0.5,-0.9l1,-0.5l1,0.3l1,-0.2l1,0.3l1,0.4l1,-0.4l0.5,1zM1159.5,1189.4l0.5,-0.9l1,0.1l1,-0.1l0.5,0.9zM1163.5,1189.4l0.5,-1l0.5,1zM1165.5,1189.4l0.5,-0.9l1,0.2l1,-1l1,0.6l1,-0.5l1,-0l1,0.4l1,-0.1l0.5,1.3zM1175.5,1189.4l0.5,-0.8l1,-0.1l1,0.3l0.5,0.6zM1180.5,1189.4l0.5,-1l0.5,1zM1182.5,1189.4l0.5,-0.9l1,0.1l1,-0.4l1,0.1l0.5,1.1zM1187.5,1189.4l0.5,-0.8l0.5,0.8zM1190.5,1189.4l0.5,-0.8l0.5,0.8zM1192.5,1189.4l0.5,-0.8l1,-0l0.5,0.8zM1196.5,1189.4l0.5,-0.7l1,-0.2l0.5,0.9zM1199.5,1189.4l0.5,-0.9l0.5,0.9zM1201.5,1189.4l0.5,-0.9l0.5,0.9zM1203.5,1189.4l0.5,-0.9l1,-0.1l1,0.2l0.5,0.8zM1208.5,1189.4l0.5,-2l1,-0.1l1,-0.1l1,0.3l1,0.1l0.5,1.8zM1217.5,1189.4l0.5,-1.7l1,-0.3l1,-0.5l1,1.1l1,0.6l0.5,0.8zM1224.5,1189.4l0.5,-0.8l0.5,0.8zM1226.5,1189.4l0.5,-0.8l1,-0.2l0.5,1zM1229.5,1189.4l0.5,-0.9l0.5,0.9zM1232.5,1189.4l0.5,-1l1,0.1l1,0.1l1,0.1l1,-0.5l1,0.5l0.5,0.7zM1241.5,1189.4l0.5,-0.8l0.5,0.8zM1243.5,1189.4l0.5,-1.1l0.5,1.1zM1249.5,1189.4l0.5,-0.7l1,-0l0.5,0.7zM1252.5,1189.4l0.5,-0.7l0.5,0.7zM1254.5,1189.4l0.5,-0.6l1,-0.8l1,0.3l1,-0.5l1,0.2l1,0.2l1,-0.6l1,-0l1,-0.4l1,0.5l1,0.2l1,0.1l1,0.3l1,-1l1,0.9l1,0.2l1,0.1l0.5,0.9zM1272.5,1189.4l0.5,-1.1l1,0.4l0.5,0.7zM1276.5,1189.4l0.5,-0.8l0.5,0.8zM1278.5,1189.4l0.5,-0.6l1,-0.1l1,-0l1,-0.1l1,-0.1l0.5,0.9zM1284.5,1189.4l0.5,-0.7l1,-0.4l1,0.1l1,0.1l1,-0.1l1,0.3l0.5,0.7zM1291.5,1189.4l0.5,-0.7l1,-0.3l1,0.3l1,-0l1,-0.4l0.5,1.1zM1298.5,1189.4l0.5,-1l0.5,1zM1302.5,1189.4l0.5,-1.8l1,0.2l1,-0.7l1,-0.5l1,0.7l1,-1l1,-0.3l1,0.7l1,0.4l1,1.2l0.5,1.1zM1313.5,1189.4l0.5,-1.2l0.5,1.2zM1316.5,1189.4l0.5,-1.4l1,-1.1l1,-0.7l1,1.7l0.5,1.5zM1321.5,1189.4l0.5,-0.8l0.5,0.8zM1327.5,1189.4l0.5,-1.1l1,-0.5l1,-0.6l1,-0.2l1,0.6l1,-0.8l1,0.9l1,0.8l1,0.1l0.5,0.8zM1338.5,1189.4l0.5,-0.9l0.5,0.9zM1341.5,1189.4l0.5,-1.1l1,0.3l0.5,0.8zM1345.5,1189.4l0.5,-1.1l0.5,1.1zM1349.5,1189.4l0.5,-0.8l1,-0.1l1,-0.2l0.5,1.1zM1356.5,1189.4l0.5,-0.8l1,-0.3l1,-0l1,0.1l1,0.4l1,-0.1l0.5,0.7zM1363.5,1189.4l0.5,-1l1,-0l0.5,1zM1367.5,1189.4l0.5,-1.2l1,0.1l0.5,1.1zM1370.5,1189.4l0.5,-1l1,0.1l1,-0.2l1,0.4l1,-0.2l0.5,0.9zM1377.5,1189.4l0.5,-0.8l1,0.1l0.5,0.7zM1381.5,1189.4l0.5,-0.9l1,-0.3l1,0.3l1,0.2l0.5,0.7zM1386.5,1189.4l0.5,-1.5l1,-0.1l1,-0.3l1,0.3l1,0.1l1,0.5l1,0.1l1,-0.4l1,0.5l1,-0.3l1,-0.1l0.5,1.2zM1398.5,1189.4l0.5,-1.1l1,0.4l0.5,0.7zM1402.5,1189.4l0.5,-1.3l1,-0.3l1,0.6l1,0.1l1,-0.2l1,-0.1l1,0.3l1,0.2l1,0.1l0.5,0.6zM1413.5,1189.4l0.5,-0.9l1,0.2l1,-0.6l1,0.2l1,-0.2l1,-1.3l1,-1.1l1,-2.2l1,-7.5l1,-6.9l1,7.5l1,5l1,3.3l1,1.5l1,0.7l1,0.9l1,-0.2l0.5,1.6zM1431.5,1189.4l0.5,-1.3l1,0.1l0.5,1.2zM1435.5,1189.4l0.5,-1l0.5,1zM1438.5,1189.4l0.5,-0.7l1,-0.1l1,0.1l0.5,0.7zM1443.5,1189.4l0.5,-0.7l0.5,0.7zM1445.5,1189.4l0.5,-0.9l0.5,0.9zM1448.5,1189.4l0.5,-1l0.5,1zM1451.5,1189.4l0.5,-0.8l1,-0.4l1,-0.9l1,-0l1,0.7l1,-0.4l1,-0.4l1,-0l1,0.2l1,0.6l1,-0.1l0.5,1.5zM1465.5,1189.4l0.5,-0.7l1,-0.1l1,-0.4l0.5,1.2zM1470.5,1189.4l0.5,-1.5l1,-0.6l1,0.1l1,-0.4l1,-0.1l1,0.8l1,0.1l1,0.5l1,-0.2l1,0.4l1,-0.2l1,-1l1,-0.4l1,-0.2l1,0.9l1,0.6l1,0.4l0.5,0.8zM1488.5,1189.4l0.5,-0.9l1,-0.1l1,-0.1l0.5,1.1zM1494.5,1189.4l0.5,-0.9l1,-0.2l0.5,1.1zM1498.5,1189.4l0.5,-0.7l1,-0l1,-0.4l1,0.4l0.5,0.7zM1509.5,1189.4l0.5,-0.8l1,0.2l1,-0.6l1,0.1l1,0.1l0.5,1zM1515.5,1189.4l0.5,-1l1,0.1l0.5,0.9zM1518.5,1189.4l0.5,-0.8l0.5,0.8zM1523.5,1189.4l0.5,-1l0.5,1zM1527.5,1189.4l0.5,-0.7l1,-0.6l1,-0.8l1,-0.1l1,0.2l1,0.2l1,0.2l1,0.5l1,-0.1l0.5,1.2zM1538.5,1189.4l0.5,-0.8l1,-0.1l0.5,0.9zM1541.5,1189.4l0.5,-0.6l0.5,0.6zM1543.5,1189.4l0.5,-1l1,-0.7l1,-0.6l1,0.5l1,-1l1,1l1,0.1l0.5,1.7zM1553.5,1189.4l0.5,-1l1,0.3l0.5,0.7zM1556.5,1189.4l0.5,-1l1,-0.4l1,-0.3l1,-0.8l1,-0.2l1,0.5l1,-0.6l1,0.8l1,0.5l0.5,1.5zM1566.5,1189.4l0.5,-1.9l1,-0.6l1,-0.1l1,0.3l1,0.4l0.5,1.9zM1572.5,1189.4l0.5,-0.8l1,-1l1,-0.6l1,-0.3l1,0.4l1,1.2l1,0.2l1,-0.5l1,0.2l1,-0.4l1,-0.1l1,0.5l1,0.1l1,0.5l0.5,0.6zM1588.5,1189.4l0.5,-1l1,0.1l1,0.2l0.5,0.7zM1592.5,1189.4l0.5,-1.2l0.5,1.2zM1594.5,1189.4l0.5,-2.1l1,-0.9l1,0.3l1,1.9l1,-0.3l0.5,1.1zM1600.5,1189.4l0.5,-0.8l1,-0l0.5,0.8zM1603.5,1189.4l0.5,-1.2l0.5,1.2zM1607.5,1189.4l0.5,-0.9l1,-0.1l1,-0l1,0.2l1,-0.9l1,-0.5l1,0.2l1,-0.2l1,1.1l1,0.4l1,-0.3l1,0.2l1,-0.1l1,0.1l0.5,0.8zM1622.5,1189.4l0.5,-0.9l0.5,0.9zM1624.5,1189.4l0.5,-1l1,0.4l1,-0.1l1,-0.3l0.5,1zM1630.5,1189.4l0.5,-0.7l0.5,0.7zM1633.5,1189.4l0.5,-1.2l1,0.5l1,-0l0.5,0.7zM1638.5,1189.4l0.5,-1.5l1,-0.6l1,-0.4l1,-0l1,-1l1,0.8l1,1.5l1,0.2l0.5,1zM1649.5,1189.4l0.5,-1l1,-0l0.5,1zM1652.5,1189.4l0.5,-0.9l0.5,0.9zM1657.5,1189.4l0.5,-1.1l1,0.3l1,-0.1l1,-0.2l0.5,1.1zM1662.5,1189.4l0.5,-1.2l1,0.3l1,0.1l1,0.2l0.5,0.6zM1672.5,1189.4l0.5,-1.3l1,-0l1,-0.1l1,-0.8l1,-0.8l1,1.6l1,0.5l1,0.2l0.5,0.7zM1683.5,1189.4l0.5,-1.1l1,-0l1,0.3l1,-0.3l1,-1.1l1,0.2l1,-0.3l1,1.1l0.5,1.2zM1692.5,1189.4l0.5,-1.2l0.5,1.2zM1694.5,1189.4l0.5,-1.1l1,0.4l1,-0l1,-0l1,-0.1l1,-0l1,-0.5l1,0.6l1,-1l1,-0.3l1,1.1l1,-0.2l1,-0l0.5,1.1zM1708.5,1189.4l0.5,-0.9l0.5,0.9zM1711.5,1189.4l0.5,-0.9l0.5,0.9zM1716.5,1189.4l0.5,-1.2l1,-1.2l1,-0.1l1,0.7l1,-0.2l1,0.8l1,0.4l1,-0.3l1,-0.8l1,0.4l1,-0.7l1,1.4l0.5,0.8zM1731.5,1189.4l0.5,-0.9l1,0.3l0.5,0.6zM1734.5,1189.4l0.5,-0.9l1,-0.2l0.5,1.1zM1738.5,1189.4l0.5,-0.8l1,-0l0.5,0.8zM1741.5,1189.4l0.5,-1.1l0.5,1.1z" fill="#111111"/>
<line x1="1120" y1="1189.6" x2="1743" y2="1189.6" stroke="#2b2b2b" stroke-width="1.3"/>
<line x1="1746" y1="1189.6" x2="1776" y2="1189.6" stroke="#222" stroke-width="1" stroke-dasharray="4 3" opacity="0.6"/>
<line x1="1112.4" y1="852.5" x2="1112.4" y2="1169.4" stroke="#111" stroke-width="2.2"/>
<text transform="translate(1065.6,867.4) scale(0.91,1)" font-size="23" text-anchor="end"><tspan>CD62L</tspan><tspan font-size="13" font-weight="bold" dy="-8">+</tspan><tspan dy="8"> T</tspan><tspan font-size="12.5" dy="6.5">PEX</tspan></text>
<text transform="translate(1105,867.4) scale(0.91,1)" font-size="23" text-anchor="end"><tspan>Ctrl</tspan></text>
<text transform="translate(1065.6,907.6) scale(0.91,1)" font-size="23" text-anchor="end"><tspan>CD62L</tspan><tspan font-size="13" font-weight="bold" dy="-8">+</tspan><tspan dy="8"> T</tspan><tspan font-size="12.5" dy="6.5">PEX</tspan></text>
<text transform="translate(1105,907.6) scale(0.91,1)" font-size="23" text-anchor="end"><tspan>KO</tspan></text>
<text transform="translate(1065.6,946.3) scale(0.91,1)" font-size="23" text-anchor="end"><tspan>CD62L</tspan><tspan font-size="13" font-weight="bold" dy="-8">-</tspan><tspan dy="8"> T</tspan><tspan font-size="12.5" dy="6.5">PEX</tspan></text>
<text transform="translate(1105,946.3) scale(0.91,1)" font-size="23" text-anchor="end"><tspan>Ctrl</tspan></text>
<text transform="translate(1065.6,983.6) scale(0.91,1)" font-size="23" text-anchor="end"><tspan>CD62L</tspan><tspan font-size="13" font-weight="bold" dy="-8">-</tspan><tspan dy="8"> T</tspan><tspan font-size="12.5" dy="6.5">PEX</tspan></text>
<text transform="translate(1105,983.6) scale(0.91,1)" font-size="23" text-anchor="end"><tspan>KO</tspan></text>
<text transform="translate(1065.6,1017.2) scale(0.91,1)" font-size="23" text-anchor="end"><tspan>CX3CR1</tspan><tspan font-size="13" font-weight="bold" dy="-8">+</tspan><tspan dy="8"> T</tspan><tspan font-size="12.5" dy="6.5">EX</tspan></text>
<text transform="translate(1105,1017.2) scale(0.91,1)" font-size="23" text-anchor="end"><tspan>Ctrl</tspan></text>
<text transform="translate(1065.6,1055.4) scale(0.91,1)" font-size="23" text-anchor="end"><tspan>CX3CR1</tspan><tspan font-size="13" font-weight="bold" dy="-8">+</tspan><tspan dy="8"> T</tspan><tspan font-size="12.5" dy="6.5">EX</tspan></text>
<text transform="translate(1105,1055.4) scale(0.91,1)" font-size="23" text-anchor="end"><tspan>KO</tspan></text>
<text transform="translate(1065.6,1095) scale(0.91,1)" font-size="23" text-anchor="end"><tspan>CD101</tspan><tspan font-size="13" font-weight="bold" dy="-8">+</tspan><tspan dy="8"> T</tspan><tspan font-size="12.5" dy="6.5">EX</tspan></text>
<text transform="translate(1105,1095) scale(0.91,1)" font-size="23" text-anchor="end"><tspan>Ctrl</tspan></text>
<text transform="translate(1065.6,1132) scale(0.91,1)" font-size="23" text-anchor="end"><tspan>CD101</tspan><tspan font-size="13" font-weight="bold" dy="-8">+</tspan><tspan dy="8"> T</tspan><tspan font-size="12.5" dy="6.5">EX</tspan></text>
<text transform="translate(1105,1132) scale(0.91,1)" font-size="23" text-anchor="end"><tspan>KO</tspan></text>
<text transform="translate(1105,1161.6) scale(0.91,1)" font-size="23" text-anchor="end"><tspan font-style="italic">Satb1</tspan><tspan> Chip</tspan></text>
<text transform="translate(1111.8,849) scale(1.005,1)" font-size="19">[0-2400]</text>
<text transform="translate(1378.5,848.9) scale(0.985,1)" font-size="21" font-style="italic">Prdm1</text>
<line x1="1184" y1="1205" x2="1641.5" y2="1205" stroke="#111" stroke-width="1.6"/>
<rect x="1184" y="1201.5" width="54.7" height="7" fill="#111"/>
<rect x="1238.7" y="1199.5" width="12" height="11" fill="#111"/>
<rect x="1259" y="1199.5" width="2" height="11" fill="#111"/>
<rect x="1268.8" y="1199.5" width="23" height="11" fill="#111"/>
<rect x="1390" y="1200" width="5" height="10" fill="#111"/>
<rect x="1460" y="1200" width="3" height="10" fill="#111"/>
<rect x="1598.5" y="1200" width="6.5" height="10" fill="#111"/>
<rect x="1638" y="1202" width="4" height="6" fill="#111"/>
<path d="M1300,1203.4l1.6,1.6l-1.6,1.6l-1.6,-1.6z" fill="#111"/>
<path d="M1320,1203.4l1.6,1.6l-1.6,1.6l-1.6,-1.6z" fill="#111"/>
<path d="M1340,1203.4l1.6,1.6l-1.6,1.6l-1.6,-1.6z" fill="#111"/>
<path d="M1360,1203.4l1.6,1.6l-1.6,1.6l-1.6,-1.6z" fill="#111"/>
<path d="M1380,1203.4l1.6,1.6l-1.6,1.6l-1.6,-1.6z" fill="#111"/>
<path d="M1400,1203.4l1.6,1.6l-1.6,1.6l-1.6,-1.6z" fill="#111"/>
<path d="M1420,1203.4l1.6,1.6l-1.6,1.6l-1.6,-1.6z" fill="#111"/>
<path d="M1440,1203.4l1.6,1.6l-1.6,1.6l-1.6,-1.6z" fill="#111"/>
<path d="M1460,1203.4l1.6,1.6l-1.6,1.6l-1.6,-1.6z" fill="#111"/>
<path d="M1480,1203.4l1.6,1.6l-1.6,1.6l-1.6,-1.6z" fill="#111"/>
<path d="M1500,1203.4l1.6,1.6l-1.6,1.6l-1.6,-1.6z" fill="#111"/>
<path d="M1520,1203.4l1.6,1.6l-1.6,1.6l-1.6,-1.6z" fill="#111"/>
<path d="M1540,1203.4l1.6,1.6l-1.6,1.6l-1.6,-1.6z" fill="#111"/>
<path d="M1560,1203.4l1.6,1.6l-1.6,1.6l-1.6,-1.6z" fill="#111"/>
<path d="M1580,1203.4l1.6,1.6l-1.6,1.6l-1.6,-1.6z" fill="#111"/>
<path d="M1600,1203.4l1.6,1.6l-1.6,1.6l-1.6,-1.6z" fill="#111"/>
<path d="M1620,1203.4l1.6,1.6l-1.6,1.6l-1.6,-1.6z" fill="#111"/>
<line x1="690.9" y1="1339.6" x2="690.9" y2="1596.4" stroke="#111" stroke-width="2.4"/>
<line x1="681" y1="1595.2" x2="860.1" y2="1595.2" stroke="#111" stroke-width="2.4"/>
<line x1="681" y1="1595.2" x2="690.9" y2="1595.2" stroke="#111" stroke-width="2.4"/>
<text transform="translate(677,1602.8)" font-size="21.5" text-anchor="end">0</text>
<line x1="681" y1="1510.4" x2="690.9" y2="1510.4" stroke="#111" stroke-width="2.4"/>
<text transform="translate(677,1518)" font-size="21.5" text-anchor="end">5</text>
<line x1="681" y1="1425.6" x2="690.9" y2="1425.6" stroke="#111" stroke-width="2.4"/>
<text transform="translate(677,1433.2)" font-size="21.5" text-anchor="end">10</text>
<line x1="681" y1="1340.8" x2="690.9" y2="1340.8" stroke="#111" stroke-width="2.4"/>
<text transform="translate(677,1348.4)" font-size="21.5" text-anchor="end">15</text>
<line x1="706.3" y1="1522.4" x2="754.5" y2="1522.4" stroke="#111" stroke-width="2"/>
<line x1="730.4" y1="1509.5" x2="730.4" y2="1534.8" stroke="#111" stroke-width="2"/>
<line x1="717.7" y1="1509.5" x2="743" y2="1509.5" stroke="#111" stroke-width="2"/>
<line x1="717.7" y1="1534.8" x2="743" y2="1534.8" stroke="#111" stroke-width="2"/>
<line x1="778.6" y1="1453.5" x2="826.8" y2="1453.5" stroke="#111" stroke-width="2"/>
<line x1="802.9" y1="1437.5" x2="802.9" y2="1469.6" stroke="#111" stroke-width="2"/>
<line x1="790.5" y1="1437.5" x2="815.3" y2="1437.5" stroke="#111" stroke-width="2"/>
<line x1="790.5" y1="1469.6" x2="815.3" y2="1469.6" stroke="#111" stroke-width="2"/>
<circle cx="730.4" cy="1466.6" r="7.8" fill="#fdfcfc" stroke="#17609f" stroke-width="2"/>
<circle cx="713.8" cy="1501.7" r="7.8" fill="#fdfcfc" stroke="#17609f" stroke-width="2"/>
<circle cx="746.7" cy="1491.4" r="7.8" fill="#fdfcfc" stroke="#17609f" stroke-width="2"/>
<circle cx="746.7" cy="1507.9" r="7.8" fill="#fdfcfc" stroke="#17609f" stroke-width="2"/>
<circle cx="746.7" cy="1541.2" r="7.8" fill="#fdfcfc" stroke="#17609f" stroke-width="2"/>
<circle cx="730.4" cy="1547.4" r="7.8" fill="#fdfcfc" stroke="#17609f" stroke-width="2"/>
<circle cx="713.8" cy="1562.6" r="7.8" fill="#fdfcfc" stroke="#17609f" stroke-width="2"/>
<circle cx="746.7" cy="1560.7" r="7.8" fill="#fdfcfc" stroke="#17609f" stroke-width="2"/>
<circle cx="802.7" cy="1373.2" r="7.8" fill="#fdfcfc" stroke="#d9509a" stroke-width="2"/>
<circle cx="802.7" cy="1409.2" r="7.8" fill="#fdfcfc" stroke="#d9509a" stroke-width="2"/>
<circle cx="802.7" cy="1427.6" r="7.8" fill="#fdfcfc" stroke="#d9509a" stroke-width="2"/>
<circle cx="802.7" cy="1459.7" r="7.8" fill="#fdfcfc" stroke="#d9509a" stroke-width="2"/>
<circle cx="786.6" cy="1492.3" r="7.8" fill="#fdfcfc" stroke="#d9509a" stroke-width="2"/>
<circle cx="799.2" cy="1487.3" r="7.8" fill="#fdfcfc" stroke="#d9509a" stroke-width="2"/>
<circle cx="808.4" cy="1491.9" r="7.8" fill="#fdfcfc" stroke="#d9509a" stroke-width="2"/>
<circle cx="819.2" cy="1488" r="7.8" fill="#fdfcfc" stroke="#d9509a" stroke-width="2"/>
<text transform="translate(725.1,1336.9)" font-size="21.8"><tspan font-style="italic">p = 0.0065</tspan></text>
<line x1="738.4" y1="1340.8" x2="812.3" y2="1340.8" stroke="#111" stroke-width="2.2"/>
<text transform="translate(634.5,1475.3) rotate(-90)" font-size="25.5" text-anchor="middle"><tspan>Gp33</tspan><tspan font-size="15.3" dy="-9.7">+</tspan><tspan dy="9.7"> cells  (%)</tspan></text>
<circle cx="616.3" cy="1297.9" r="7" fill="none" stroke="#17609f" stroke-width="2"/>
<text transform="translate(633.3,1307)" font-size="26"><tspan>Ctrl</tspan></text>
<circle cx="711.3" cy="1297.9" r="7" fill="none" stroke="#d9509a" stroke-width="2"/>
<text transform="translate(729.2,1307)" font-size="26"><tspan font-style="italic">Satb1</tspan><tspan font-size="15.6" dy="-8.6">m1Anu/m1Anu</tspan></text>
<line x1="1559.3" y1="1323.8" x2="1559.3" y2="1579.9" stroke="#111" stroke-width="2.4"/>
<line x1="1548.9" y1="1578.7" x2="1728.8" y2="1578.7" stroke="#111" stroke-width="2.4"/>
<line x1="1548.9" y1="1578.7" x2="1559.3" y2="1578.7" stroke="#111" stroke-width="2.4"/>
<text transform="translate(1544.9,1586.5)" font-size="22" text-anchor="end">0</text>
<line x1="1548.9" y1="1515.3" x2="1559.3" y2="1515.3" stroke="#111" stroke-width="2.4"/>
<text transform="translate(1544.9,1523.1)" font-size="22" text-anchor="end">2</text>
<line x1="1548.9" y1="1451.8" x2="1559.3" y2="1451.8" stroke="#111" stroke-width="2.4"/>
<text transform="translate(1544.9,1459.6)" font-size="22" text-anchor="end">4</text>
<line x1="1548.9" y1="1388.4" x2="1559.3" y2="1388.4" stroke="#111" stroke-width="2.4"/>
<text transform="translate(1544.9,1396.2)" font-size="22" text-anchor="end">6</text>
<line x1="1548.9" y1="1325" x2="1559.3" y2="1325" stroke="#111" stroke-width="2.4"/>
<text transform="translate(1544.9,1332.8)" font-size="22" text-anchor="end">8</text>
<line x1="1600.3" y1="1426.3" x2="1618.8" y2="1426.3" stroke="#111" stroke-width="2"/>
<line x1="1661.2" y1="1402.7" x2="1695.2" y2="1402.7" stroke="#111" stroke-width="2"/>
<line x1="1691.4" y1="1397.6" x2="1691.4" y2="1403.3" stroke="#111" stroke-width="2"/>
<line x1="1687.7" y1="1397.6" x2="1695.2" y2="1397.6" stroke="#111" stroke-width="2"/>
<line x1="1687.7" y1="1403.3" x2="1695.2" y2="1403.3" stroke="#111" stroke-width="2"/>
<circle cx="1592" cy="1405.2" r="8" fill="#fdfcfc" stroke="#17609f" stroke-width="2.1"/>
<circle cx="1615.5" cy="1399.5" r="8" fill="#fdfcfc" stroke="#17609f" stroke-width="2.1"/>
<circle cx="1603.3" cy="1415.6" r="8" fill="#fdfcfc" stroke="#17609f" stroke-width="2.1"/>
<circle cx="1615.5" cy="1416" r="8" fill="#fdfcfc" stroke="#17609f" stroke-width="2.1"/>
<circle cx="1592" cy="1422.2" r="8" fill="#fdfcfc" stroke="#17609f" stroke-width="2.1"/>
<circle cx="1627.3" cy="1421.6" r="8" fill="#fdfcfc" stroke="#17609f" stroke-width="2.1"/>
<circle cx="1615" cy="1435.8" r="8" fill="#fdfcfc" stroke="#17609f" stroke-width="2.1"/>
<circle cx="1603.7" cy="1448.6" r="8" fill="#fdfcfc" stroke="#17609f" stroke-width="2.1"/>
<circle cx="1695.2" cy="1376.3" r="8" fill="#fdfcfc" stroke="#d9509a" stroke-width="2.1"/>
<circle cx="1686.3" cy="1387.6" r="8" fill="#fdfcfc" stroke="#d9509a" stroke-width="2.1"/>
<circle cx="1678.2" cy="1400.9" r="8" fill="#fdfcfc" stroke="#d9509a" stroke-width="2.1"/>
<circle cx="1704.3" cy="1399.5" r="8" fill="#fdfcfc" stroke="#d9509a" stroke-width="2.1"/>
<circle cx="1669.7" cy="1414.1" r="8" fill="#fdfcfc" stroke="#d9509a" stroke-width="2.1"/>
<circle cx="1686.7" cy="1413.1" r="8" fill="#fdfcfc" stroke="#d9509a" stroke-width="2.1"/>
<circle cx="1696.2" cy="1414.1" r="8" fill="#fdfcfc" stroke="#d9509a" stroke-width="2.1"/>
<circle cx="1704.3" cy="1417.8" r="8" fill="#fdfcfc" stroke="#d9509a" stroke-width="2.1"/>
<text transform="translate(1592.9,1322.5)" font-size="21.5"><tspan font-style="italic">p = 0.0281</tspan></text>
<line x1="1608" y1="1325.9" x2="1681.1" y2="1325.9" stroke="#111" stroke-width="2.2"/>
<text transform="translate(1520.6,1455.6) rotate(-90)" font-size="25" text-anchor="middle"><tspan>PD-1 (GMFI x 10</tspan><tspan font-size="15" dy="-9.5">3</tspan><tspan dy="9.5">)</tspan></text>
<circle cx="1549.5" cy="1263" r="7" fill="none" stroke="#17609f" stroke-width="2"/>
<text transform="translate(1566.8,1271.5)" font-size="25"><tspan>Ctrl</tspan></text>
<circle cx="1549.5" cy="1290" r="7" fill="none" stroke="#d9509a" stroke-width="2"/>
<text transform="translate(1566.8,1299)" font-size="25"><tspan font-style="italic">Satb1</tspan><tspan font-size="15" dy="-8.2">m1Anu/m1Anu</tspan></text>
<line x1="665.1" y1="1725.6" x2="665.1" y2="1982.8" stroke="#111" stroke-width="2.4"/>
<line x1="655.1" y1="1981.6" x2="834.8" y2="1981.6" stroke="#111" stroke-width="2.4"/>
<line x1="655.1" y1="1981.6" x2="665.1" y2="1981.6" stroke="#111" stroke-width="2.4"/>
<text transform="translate(651.1,1991)" font-size="26.5" text-anchor="end">0</text>
<line x1="655.1" y1="1930.7" x2="665.1" y2="1930.7" stroke="#111" stroke-width="2.4"/>
<text transform="translate(651.1,1940.1)" font-size="26.5" text-anchor="end">10</text>
<line x1="655.1" y1="1879.7" x2="665.1" y2="1879.7" stroke="#111" stroke-width="2.4"/>
<text transform="translate(651.1,1889.1)" font-size="26.5" text-anchor="end">20</text>
<line x1="655.1" y1="1828.7" x2="665.1" y2="1828.7" stroke="#111" stroke-width="2.4"/>
<text transform="translate(651.1,1838.1)" font-size="26.5" text-anchor="end">30</text>
<line x1="655.1" y1="1777.8" x2="665.1" y2="1777.8" stroke="#111" stroke-width="2.4"/>
<text transform="translate(651.1,1787.2)" font-size="26.5" text-anchor="end">40</text>
<line x1="655.1" y1="1726.8" x2="665.1" y2="1726.8" stroke="#111" stroke-width="2.4"/>
<text transform="translate(651.1,1736.2)" font-size="26.5" text-anchor="end">50</text>
<line x1="690.2" y1="1860.4" x2="738.4" y2="1860.4" stroke="#111" stroke-width="2"/>
<line x1="714.8" y1="1839.1" x2="714.8" y2="1882.8" stroke="#111" stroke-width="2"/>
<line x1="702.3" y1="1839.1" x2="727.4" y2="1839.1" stroke="#111" stroke-width="2"/>
<line x1="702.3" y1="1882.8" x2="727.4" y2="1882.8" stroke="#111" stroke-width="2"/>
<line x1="763.2" y1="1916.5" x2="810.7" y2="1916.5" stroke="#111" stroke-width="2"/>
<line x1="786.6" y1="1907.9" x2="786.6" y2="1923.4" stroke="#111" stroke-width="2"/>
<line x1="774.6" y1="1907.9" x2="798.7" y2="1907.9" stroke="#111" stroke-width="2"/>
<line x1="774.6" y1="1923.4" x2="798.7" y2="1923.4" stroke="#111" stroke-width="2"/>
<circle cx="697.8" cy="1781.9" r="7.5" fill="#fdfcfc" stroke="#17609f" stroke-width="1.8"/>
<circle cx="730.5" cy="1776" r="7.5" fill="#fdfcfc" stroke="#17609f" stroke-width="1.8"/>
<circle cx="697.8" cy="1851.8" r="7.5" fill="#fdfcfc" stroke="#17609f" stroke-width="1.8"/>
<circle cx="730.5" cy="1851.1" r="7.5" fill="#fdfcfc" stroke="#17609f" stroke-width="1.8"/>
<circle cx="730.5" cy="1870.1" r="7.5" fill="#fdfcfc" stroke="#17609f" stroke-width="1.8"/>
<circle cx="697.8" cy="1882.8" r="7.5" fill="#fdfcfc" stroke="#17609f" stroke-width="1.8"/>
<circle cx="714.3" cy="1923.1" r="7.5" fill="#fdfcfc" stroke="#17609f" stroke-width="1.8"/>
<circle cx="714.3" cy="1951.7" r="7.5" fill="#fdfcfc" stroke="#17609f" stroke-width="1.8"/>
<circle cx="770.4" cy="1885.2" r="7.5" fill="#fdfcfc" stroke="#d9509a" stroke-width="1.8"/>
<circle cx="786.6" cy="1889.7" r="7.5" fill="#fdfcfc" stroke="#d9509a" stroke-width="1.8"/>
<circle cx="770.4" cy="1904.5" r="7.5" fill="#fdfcfc" stroke="#d9509a" stroke-width="1.8"/>
<circle cx="803.2" cy="1904.1" r="7.5" fill="#fdfcfc" stroke="#d9509a" stroke-width="1.8"/>
<circle cx="778" cy="1928.6" r="7.5" fill="#fdfcfc" stroke="#d9509a" stroke-width="1.8"/>
<circle cx="794.2" cy="1924.1" r="7.5" fill="#fdfcfc" stroke="#d9509a" stroke-width="1.8"/>
<circle cx="778.7" cy="1951.7" r="7.5" fill="#fdfcfc" stroke="#d9509a" stroke-width="1.8"/>
<circle cx="794.2" cy="1945.8" r="7.5" fill="#fdfcfc" stroke="#d9509a" stroke-width="1.8"/>
<text transform="translate(698.8,1722.7)" font-size="21.4"><tspan font-style="italic">p = 0.0190</tspan></text>
<line x1="713.6" y1="1726.8" x2="787.7" y2="1726.8" stroke="#111" stroke-width="2.2"/>
<text transform="translate(610.3,1855) rotate(-90)" font-size="26" text-anchor="middle"><tspan>T</tspan><tspan font-size="15.6" dy="7.8">PEX</tspan><tspan dy="-7.8">cells (%)</tspan></text>
<line x1="931.3" y1="1725.6" x2="931.3" y2="1982.8" stroke="#111" stroke-width="2.4"/>
<line x1="920.9" y1="1981.6" x2="1100.7" y2="1981.6" stroke="#111" stroke-width="2.4"/>
<line x1="920.9" y1="1981.6" x2="931.3" y2="1981.6" stroke="#111" stroke-width="2.4"/>
<text transform="translate(916.9,1991)" font-size="26.5" text-anchor="end">0</text>
<line x1="920.9" y1="1930.7" x2="931.3" y2="1930.7" stroke="#111" stroke-width="2.4"/>
<text transform="translate(916.9,1940.1)" font-size="26.5" text-anchor="end">20</text>
<line x1="920.9" y1="1879.7" x2="931.3" y2="1879.7" stroke="#111" stroke-width="2.4"/>
<text transform="translate(916.9,1889.1)" font-size="26.5" text-anchor="end">40</text>
<line x1="920.9" y1="1828.7" x2="931.3" y2="1828.7" stroke="#111" stroke-width="2.4"/>
<text transform="translate(916.9,1838.1)" font-size="26.5" text-anchor="end">60</text>
<line x1="920.9" y1="1777.8" x2="931.3" y2="1777.8" stroke="#111" stroke-width="2.4"/>
<text transform="translate(916.9,1787.2)" font-size="26.5" text-anchor="end">80</text>
<line x1="920.9" y1="1726.8" x2="931.3" y2="1726.8" stroke="#111" stroke-width="2.4"/>
<text transform="translate(916.9,1736.2)" font-size="26.5" text-anchor="end">100</text>
<line x1="957.1" y1="1789.8" x2="1003.6" y2="1789.8" stroke="#111" stroke-width="2"/>
<line x1="979.5" y1="1778.8" x2="979.5" y2="1800.8" stroke="#111" stroke-width="2"/>
<line x1="967.4" y1="1778.8" x2="991.5" y2="1778.8" stroke="#111" stroke-width="2"/>
<line x1="967.4" y1="1800.8" x2="991.5" y2="1800.8" stroke="#111" stroke-width="2"/>
<line x1="1041.5" y1="1761.6" x2="1075.9" y2="1761.6" stroke="#111" stroke-width="2"/>
<line x1="1057" y1="1758.1" x2="1057" y2="1766" stroke="#111" stroke-width="2"/>
<line x1="1044.9" y1="1758.1" x2="1069" y2="1758.1" stroke="#111" stroke-width="2"/>
<line x1="1044.9" y1="1766" x2="1069" y2="1766" stroke="#111" stroke-width="2"/>
<circle cx="996.7" cy="1744.3" r="7.5" fill="#fdfcfc" stroke="#17609f" stroke-width="1.8"/>
<circle cx="979.5" cy="1758.8" r="7.5" fill="#fdfcfc" stroke="#17609f" stroke-width="1.8"/>
<circle cx="996.7" cy="1778.8" r="7.5" fill="#fdfcfc" stroke="#17609f" stroke-width="1.8"/>
<circle cx="979.5" cy="1785.7" r="7.5" fill="#fdfcfc" stroke="#17609f" stroke-width="1.8"/>
<circle cx="964" cy="1794.3" r="7.5" fill="#fdfcfc" stroke="#17609f" stroke-width="1.8"/>
<circle cx="996.7" cy="1795" r="7.5" fill="#fdfcfc" stroke="#17609f" stroke-width="1.8"/>
<circle cx="971.6" cy="1832.2" r="7.5" fill="#fdfcfc" stroke="#17609f" stroke-width="1.8"/>
<circle cx="988.1" cy="1829.8" r="7.5" fill="#fdfcfc" stroke="#17609f" stroke-width="1.8"/>
<circle cx="1047.3" cy="1745.7" r="7.5" fill="#fdfcfc" stroke="#d9509a" stroke-width="1.8"/>
<circle cx="1069" cy="1747.8" r="7.5" fill="#fdfcfc" stroke="#d9509a" stroke-width="1.8"/>
<circle cx="1036.3" cy="1758.8" r="7.5" fill="#fdfcfc" stroke="#d9509a" stroke-width="1.8"/>
<circle cx="1057.7" cy="1757.1" r="7.5" fill="#fdfcfc" stroke="#d9509a" stroke-width="1.8"/>
<circle cx="1046.6" cy="1767.4" r="7.5" fill="#fdfcfc" stroke="#d9509a" stroke-width="1.8"/>
<circle cx="1069" cy="1768.5" r="7.5" fill="#fdfcfc" stroke="#d9509a" stroke-width="1.8"/>
<circle cx="1036.3" cy="1777.8" r="7.5" fill="#fdfcfc" stroke="#d9509a" stroke-width="1.8"/>
<circle cx="1057.7" cy="1775" r="7.5" fill="#fdfcfc" stroke="#d9509a" stroke-width="1.8"/>
<text transform="translate(965,1722.7)" font-size="21.4"><tspan font-style="italic">p = 0.0190</tspan></text>
<line x1="979.5" y1="1726.8" x2="1053.5" y2="1726.8" stroke="#111" stroke-width="2.2"/>
<text transform="translate(880,1856) rotate(-90)" font-size="26" text-anchor="middle"><tspan>T</tspan><tspan font-size="15.6" dy="7.8">EX</tspan><tspan dy="-7.8">cells (%)</tspan></text>
<circle cx="725.7" cy="1671.7" r="7" fill="none" stroke="#17609f" stroke-width="2"/>
<text transform="translate(741.9,1680.6)" font-size="25"><tspan>Ctrl</tspan></text>
<circle cx="811.4" cy="1671.7" r="7" fill="none" stroke="#d9509a" stroke-width="2"/>
<text transform="translate(829.7,1680.6)" font-size="25"><tspan font-style="italic">Satb1</tspan><tspan font-size="15" dy="-8.2">m1Anu/m1Anu</tspan></text>
<line x1="1304.1" y1="1727.9" x2="1304.1" y2="1984.3" stroke="#111" stroke-width="2.4"/>
<line x1="1291.5" y1="1983.1" x2="1473.5" y2="1983.1" stroke="#111" stroke-width="2.4"/>
<line x1="1291.5" y1="1983.1" x2="1304.1" y2="1983.1" stroke="#111" stroke-width="2.4"/>
<text transform="translate(1289.5,1990.7)" font-size="21.5" text-anchor="end" fill="#333">0</text>
<line x1="1291.5" y1="1919.6" x2="1304.1" y2="1919.6" stroke="#111" stroke-width="2.4"/>
<text transform="translate(1289.5,1927.2)" font-size="21.5" text-anchor="end" fill="#333">1</text>
<line x1="1291.5" y1="1856.1" x2="1304.1" y2="1856.1" stroke="#111" stroke-width="2.4"/>
<text transform="translate(1289.5,1863.7)" font-size="21.5" text-anchor="end" fill="#333">2</text>
<line x1="1291.5" y1="1792.6" x2="1304.1" y2="1792.6" stroke="#111" stroke-width="2.4"/>
<text transform="translate(1289.5,1800.2)" font-size="21.5" text-anchor="end" fill="#333">3</text>
<line x1="1291.5" y1="1729.1" x2="1304.1" y2="1729.1" stroke="#111" stroke-width="2.4"/>
<text transform="translate(1289.5,1736.7)" font-size="21.5" text-anchor="end" fill="#333">4</text>
<line x1="1327.1" y1="1819.9" x2="1376" y2="1819.9" stroke="#111" stroke-width="2"/>
<line x1="1352.2" y1="1809.4" x2="1352.2" y2="1830.4" stroke="#111" stroke-width="2"/>
<line x1="1339.6" y1="1809.4" x2="1364.7" y2="1809.4" stroke="#111" stroke-width="2"/>
<line x1="1339.6" y1="1830.4" x2="1364.7" y2="1830.4" stroke="#111" stroke-width="2"/>
<line x1="1400.3" y1="1818.6" x2="1448.4" y2="1818.6" stroke="#111" stroke-width="2"/>
<line x1="1425.4" y1="1807.4" x2="1425.4" y2="1830.4" stroke="#111" stroke-width="2"/>
<line x1="1412.9" y1="1807.4" x2="1438" y2="1807.4" stroke="#111" stroke-width="2"/>
<line x1="1412.9" y1="1830.4" x2="1438" y2="1830.4" stroke="#111" stroke-width="2"/>
<circle cx="1352.2" cy="1773.9" r="7.7" fill="#fdfcfc" stroke="#17609f" stroke-width="1.9"/>
<circle cx="1343.8" cy="1789.8" r="7.7" fill="#fdfcfc" stroke="#17609f" stroke-width="1.9"/>
<circle cx="1361.4" cy="1802.3" r="7.7" fill="#fdfcfc" stroke="#17609f" stroke-width="1.9"/>
<circle cx="1335.5" cy="1827.4" r="7.7" fill="#fdfcfc" stroke="#17609f" stroke-width="1.9"/>
<circle cx="1352.2" cy="1826.2" r="7.7" fill="#fdfcfc" stroke="#17609f" stroke-width="1.9"/>
<circle cx="1368.9" cy="1837.5" r="7.7" fill="#fdfcfc" stroke="#17609f" stroke-width="1.9"/>
<circle cx="1352.2" cy="1842.9" r="7.7" fill="#fdfcfc" stroke="#17609f" stroke-width="1.9"/>
<circle cx="1352.2" cy="1863.8" r="7.7" fill="#fdfcfc" stroke="#17609f" stroke-width="1.9"/>
<circle cx="1425.4" cy="1762.2" r="7.7" fill="#fdfcfc" stroke="#d9509a" stroke-width="1.9"/>
<circle cx="1408.7" cy="1787.3" r="7.7" fill="#fdfcfc" stroke="#d9509a" stroke-width="1.9"/>
<circle cx="1425.4" cy="1796.1" r="7.7" fill="#fdfcfc" stroke="#d9509a" stroke-width="1.9"/>
<circle cx="1425.4" cy="1824.1" r="7.7" fill="#fdfcfc" stroke="#d9509a" stroke-width="1.9"/>
<circle cx="1408.7" cy="1829.1" r="7.7" fill="#fdfcfc" stroke="#d9509a" stroke-width="1.9"/>
<circle cx="1442.1" cy="1839.6" r="7.7" fill="#fdfcfc" stroke="#d9509a" stroke-width="1.9"/>
<circle cx="1425.4" cy="1843.7" r="7.7" fill="#fdfcfc" stroke="#d9509a" stroke-width="1.9"/>
<circle cx="1425.4" cy="1868" r="7.7" fill="#fdfcfc" stroke="#d9509a" stroke-width="1.9"/>
<text transform="translate(1337.6,1725.8)" font-size="20"><tspan font-style="italic">p = 0.3937</tspan></text>
<line x1="1352.2" y1="1729.1" x2="1425.4" y2="1729.1" stroke="#111" stroke-width="2.2"/>
<text transform="translate(1266,1857.5) rotate(-90)" font-size="26" text-anchor="middle"><tspan>TCF-1 (GMFI x 10</tspan><tspan font-size="15.6" dy="-9.9">3</tspan><tspan dy="9.9">)</tspan></text>
<line x1="1578.1" y1="1727.9" x2="1578.1" y2="1984.3" stroke="#111" stroke-width="2.4"/>
<line x1="1566.8" y1="1983.1" x2="1747.6" y2="1983.1" stroke="#111" stroke-width="2.4"/>
<line x1="1566.8" y1="1983.1" x2="1578.1" y2="1983.1" stroke="#111" stroke-width="2.4"/>
<text transform="translate(1564.8,1990.7)" font-size="21.5" text-anchor="end" fill="#333">0</text>
<line x1="1566.8" y1="1932.3" x2="1578.1" y2="1932.3" stroke="#111" stroke-width="2.4"/>
<text transform="translate(1564.8,1939.9)" font-size="21.5" text-anchor="end" fill="#333">1</text>
<line x1="1566.8" y1="1881.5" x2="1578.1" y2="1881.5" stroke="#111" stroke-width="2.4"/>
<text transform="translate(1564.8,1889.1)" font-size="21.5" text-anchor="end" fill="#333">2</text>
<line x1="1566.8" y1="1830.7" x2="1578.1" y2="1830.7" stroke="#111" stroke-width="2.4"/>
<text transform="translate(1564.8,1838.3)" font-size="21.5" text-anchor="end" fill="#333">3</text>
<line x1="1566.8" y1="1779.9" x2="1578.1" y2="1779.9" stroke="#111" stroke-width="2.4"/>
<text transform="translate(1564.8,1787.5)" font-size="21.5" text-anchor="end" fill="#333">4</text>
<line x1="1566.8" y1="1729.1" x2="1578.1" y2="1729.1" stroke="#111" stroke-width="2.4"/>
<text transform="translate(1564.8,1736.7)" font-size="21.5" text-anchor="end" fill="#333">5</text>
<line x1="1601.1" y1="1791.5" x2="1650.5" y2="1791.5" stroke="#111" stroke-width="2"/>
<line x1="1626.2" y1="1786.4" x2="1626.2" y2="1795.6" stroke="#111" stroke-width="2"/>
<line x1="1615.8" y1="1786.4" x2="1636.7" y2="1786.4" stroke="#111" stroke-width="2"/>
<line x1="1615.8" y1="1795.6" x2="1636.7" y2="1795.6" stroke="#111" stroke-width="2"/>
<line x1="1674.3" y1="1822.8" x2="1723.3" y2="1822.8" stroke="#111" stroke-width="2"/>
<line x1="1699.4" y1="1816.6" x2="1699.4" y2="1829.1" stroke="#111" stroke-width="2"/>
<line x1="1689" y1="1816.6" x2="1709.9" y2="1816.6" stroke="#111" stroke-width="2"/>
<line x1="1689" y1="1829.1" x2="1709.9" y2="1829.1" stroke="#111" stroke-width="2"/>
<circle cx="1609.5" cy="1775.1" r="7.7" fill="#fdfcfc" stroke="#17609f" stroke-width="1.9"/>
<circle cx="1632.5" cy="1775.1" r="7.7" fill="#fdfcfc" stroke="#17609f" stroke-width="1.9"/>
<circle cx="1620.8" cy="1780.2" r="7.7" fill="#fdfcfc" stroke="#17609f" stroke-width="1.9"/>
<circle cx="1643" cy="1784.3" r="7.7" fill="#fdfcfc" stroke="#17609f" stroke-width="1.9"/>
<circle cx="1620.8" cy="1799" r="7.7" fill="#fdfcfc" stroke="#17609f" stroke-width="1.9"/>
<circle cx="1632.5" cy="1794" r="7.7" fill="#fdfcfc" stroke="#17609f" stroke-width="1.9"/>
<circle cx="1643" cy="1801.9" r="7.7" fill="#fdfcfc" stroke="#17609f" stroke-width="1.9"/>
<circle cx="1626.2" cy="1820.7" r="7.7" fill="#fdfcfc" stroke="#17609f" stroke-width="1.9"/>
<circle cx="1682.7" cy="1812.8" r="7.7" fill="#fdfcfc" stroke="#d9509a" stroke-width="1.9"/>
<circle cx="1694" cy="1803.2" r="7.7" fill="#fdfcfc" stroke="#d9509a" stroke-width="1.9"/>
<circle cx="1705.7" cy="1803.2" r="7.7" fill="#fdfcfc" stroke="#d9509a" stroke-width="1.9"/>
<circle cx="1716.2" cy="1804.4" r="7.7" fill="#fdfcfc" stroke="#d9509a" stroke-width="1.9"/>
<circle cx="1682.7" cy="1832.5" r="7.7" fill="#fdfcfc" stroke="#d9509a" stroke-width="1.9"/>
<circle cx="1705.7" cy="1836.6" r="7.7" fill="#fdfcfc" stroke="#d9509a" stroke-width="1.9"/>
<circle cx="1716.2" cy="1835.8" r="7.7" fill="#fdfcfc" stroke="#d9509a" stroke-width="1.9"/>
<circle cx="1682.7" cy="1849.2" r="7.7" fill="#fdfcfc" stroke="#d9509a" stroke-width="1.9"/>
<text transform="translate(1611.6,1725.8)" font-size="20"><tspan font-style="italic">p &lt; 0.0001</tspan></text>
<line x1="1626.2" y1="1729.1" x2="1699.4" y2="1729.1" stroke="#111" stroke-width="2.2"/>
<text transform="translate(1545,1857.5) rotate(-90)" font-size="26" text-anchor="middle"><tspan>Ly108 (GMFI x 10</tspan><tspan font-size="15.6" dy="-9.9">3</tspan><tspan dy="9.9">)</tspan></text>
<circle cx="1381.5" cy="1676.8" r="7" fill="none" stroke="#17609f" stroke-width="2"/>
<text transform="translate(1398.2,1685.2)" font-size="24"><tspan>Ctrl</tspan></text>
<circle cx="1467.3" cy="1676.8" r="7" fill="none" stroke="#d9509a" stroke-width="2"/>
<text transform="translate(1486,1685.2)" font-size="24"><tspan font-style="italic">Satb1</tspan><tspan font-size="14.4" dy="-7.9">m1Anu/m1Anu</tspan></text>
<line x1="110.2" y1="2423.6" x2="110.2" y2="2680.4" stroke="#111" stroke-width="2.4"/>
<line x1="100.3" y1="2679.2" x2="279.3" y2="2679.2" stroke="#111" stroke-width="2.4"/>
<line x1="100.3" y1="2679.2" x2="110.2" y2="2679.2" stroke="#111" stroke-width="2.4"/>
<text transform="translate(96.3,2687.8)" font-size="24" text-anchor="end">0</text>
<line x1="100.3" y1="2594.4" x2="110.2" y2="2594.4" stroke="#111" stroke-width="2.4"/>
<text transform="translate(96.3,2602.9)" font-size="24" text-anchor="end">20</text>
<line x1="100.3" y1="2509.6" x2="110.2" y2="2509.6" stroke="#111" stroke-width="2.4"/>
<text transform="translate(96.3,2518.1)" font-size="24" text-anchor="end">40</text>
<line x1="100.3" y1="2424.8" x2="110.2" y2="2424.8" stroke="#111" stroke-width="2.4"/>
<text transform="translate(96.3,2433.3)" font-size="24" text-anchor="end">60</text>
<line x1="133.2" y1="2551" x2="181.8" y2="2551" stroke="#111" stroke-width="2"/>
<line x1="157.7" y1="2530" x2="157.7" y2="2571.3" stroke="#111" stroke-width="2"/>
<line x1="146.2" y1="2530" x2="169.1" y2="2530" stroke="#111" stroke-width="2"/>
<line x1="146.2" y1="2571.3" x2="169.1" y2="2571.3" stroke="#111" stroke-width="2"/>
<line x1="221.2" y1="2600.8" x2="254.5" y2="2600.8" stroke="#111" stroke-width="2"/>
<line x1="231.5" y1="2596.2" x2="231.5" y2="2605" stroke="#111" stroke-width="2"/>
<line x1="225.8" y1="2596.2" x2="237.2" y2="2596.2" stroke="#111" stroke-width="2"/>
<line x1="225.8" y1="2605" x2="237.2" y2="2605" stroke="#111" stroke-width="2"/>
<circle cx="158" cy="2456.5" r="7.7" fill="#fdfcfc" stroke="#17609f" stroke-width="1.9"/>
<circle cx="158" cy="2495.9" r="7.7" fill="#fdfcfc" stroke="#17609f" stroke-width="1.9"/>
<circle cx="174.9" cy="2524.3" r="7.7" fill="#fdfcfc" stroke="#17609f" stroke-width="1.9"/>
<circle cx="141.6" cy="2536.1" r="7.7" fill="#fdfcfc" stroke="#17609f" stroke-width="1.9"/>
<circle cx="158" cy="2559.8" r="7.7" fill="#fdfcfc" stroke="#17609f" stroke-width="1.9"/>
<circle cx="141.6" cy="2601.2" r="7.7" fill="#fdfcfc" stroke="#17609f" stroke-width="1.9"/>
<circle cx="174.9" cy="2603.9" r="7.7" fill="#fdfcfc" stroke="#17609f" stroke-width="1.9"/>
<circle cx="158" cy="2627.6" r="7.7" fill="#fdfcfc" stroke="#17609f" stroke-width="1.9"/>
<circle cx="214.3" cy="2588.5" r="7.7" fill="#fdfcfc" stroke="#d9509a" stroke-width="1.9"/>
<circle cx="225.8" cy="2582.8" r="7.7" fill="#fdfcfc" stroke="#d9509a" stroke-width="1.9"/>
<circle cx="236.5" cy="2592.4" r="7.7" fill="#fdfcfc" stroke="#d9509a" stroke-width="1.9"/>
<circle cx="247.6" cy="2588.5" r="7.7" fill="#fdfcfc" stroke="#d9509a" stroke-width="1.9"/>
<circle cx="214.3" cy="2603.9" r="7.7" fill="#fdfcfc" stroke="#d9509a" stroke-width="1.9"/>
<circle cx="247.6" cy="2610.7" r="7.7" fill="#fdfcfc" stroke="#d9509a" stroke-width="1.9"/>
<circle cx="236.5" cy="2613.4" r="7.7" fill="#fdfcfc" stroke="#d9509a" stroke-width="1.9"/>
<circle cx="214.3" cy="2621.1" r="7.7" fill="#fdfcfc" stroke="#d9509a" stroke-width="1.9"/>
<text transform="translate(143.5,2420.2)" font-size="20.5"><tspan font-style="italic">p = 0.0287</tspan></text>
<line x1="158.8" y1="2424.8" x2="231.5" y2="2424.8" stroke="#111" stroke-width="2.2"/>
<text transform="translate(57,2553) rotate(-90)" font-size="25" text-anchor="middle"><tspan>CX3CR1</tspan><tspan font-size="15" dy="-9.5">+</tspan><tspan dy="9.5"> T</tspan><tspan font-size="15" dy="7.5">EX</tspan><tspan fill="#6d6e71" stroke="#6d6e71" dy="-7.5">cells</tspan><tspan> (%)</tspan></text>
<line x1="382.7" y1="2423.6" x2="382.7" y2="2680.4" stroke="#111" stroke-width="2.4"/>
<line x1="371.9" y1="2679.2" x2="552.9" y2="2679.2" stroke="#111" stroke-width="2.4"/>
<line x1="371.9" y1="2679.2" x2="382.7" y2="2679.2" stroke="#111" stroke-width="2.4"/>
<text transform="translate(367.9,2687.8)" font-size="24" text-anchor="end">0</text>
<line x1="371.9" y1="2615.6" x2="382.7" y2="2615.6" stroke="#111" stroke-width="2.4"/>
<text transform="translate(367.9,2624.1)" font-size="24" text-anchor="end">20</text>
<line x1="371.9" y1="2552" x2="382.7" y2="2552" stroke="#111" stroke-width="2.4"/>
<text transform="translate(367.9,2560.5)" font-size="24" text-anchor="end">40</text>
<line x1="371.9" y1="2488.4" x2="382.7" y2="2488.4" stroke="#111" stroke-width="2.4"/>
<text transform="translate(367.9,2496.9)" font-size="24" text-anchor="end">60</text>
<line x1="371.9" y1="2424.8" x2="382.7" y2="2424.8" stroke="#111" stroke-width="2.4"/>
<text transform="translate(367.9,2433.3)" font-size="24" text-anchor="end">80</text>
<line x1="407.5" y1="2561.8" x2="456.1" y2="2561.8" stroke="#111" stroke-width="2"/>
<line x1="432" y1="2548.4" x2="432" y2="2575.2" stroke="#111" stroke-width="2"/>
<line x1="420.2" y1="2548.4" x2="443.9" y2="2548.4" stroke="#111" stroke-width="2"/>
<line x1="420.2" y1="2575.2" x2="443.9" y2="2575.2" stroke="#111" stroke-width="2"/>
<line x1="480.2" y1="2495.9" x2="528.8" y2="2495.9" stroke="#111" stroke-width="2"/>
<line x1="501.3" y1="2492.9" x2="501.3" y2="2498.6" stroke="#111" stroke-width="2"/>
<line x1="493.6" y1="2492.9" x2="508.9" y2="2492.9" stroke="#111" stroke-width="2"/>
<line x1="493.6" y1="2498.6" x2="508.9" y2="2498.6" stroke="#111" stroke-width="2"/>
<circle cx="448.5" cy="2518.5" r="7.7" fill="#fdfcfc" stroke="#17609f" stroke-width="1.9"/>
<circle cx="431.6" cy="2526.2" r="7.7" fill="#fdfcfc" stroke="#17609f" stroke-width="1.9"/>
<circle cx="415.2" cy="2531.1" r="7.7" fill="#fdfcfc" stroke="#17609f" stroke-width="1.9"/>
<circle cx="448.5" cy="2535" r="7.7" fill="#fdfcfc" stroke="#17609f" stroke-width="1.9"/>
<circle cx="448.5" cy="2579.7" r="7.7" fill="#fdfcfc" stroke="#17609f" stroke-width="1.9"/>
<circle cx="431.6" cy="2593.5" r="7.7" fill="#fdfcfc" stroke="#17609f" stroke-width="1.9"/>
<circle cx="415.2" cy="2603.9" r="7.7" fill="#fdfcfc" stroke="#17609f" stroke-width="1.9"/>
<circle cx="448.5" cy="2603.9" r="7.7" fill="#fdfcfc" stroke="#17609f" stroke-width="1.9"/>
<circle cx="499.4" cy="2479.5" r="7.7" fill="#fdfcfc" stroke="#d9509a" stroke-width="1.9"/>
<circle cx="487.9" cy="2489.1" r="7.7" fill="#fdfcfc" stroke="#d9509a" stroke-width="1.9"/>
<circle cx="510.8" cy="2487.1" r="7.7" fill="#fdfcfc" stroke="#d9509a" stroke-width="1.9"/>
<circle cx="521.2" cy="2485.2" r="7.7" fill="#fdfcfc" stroke="#d9509a" stroke-width="1.9"/>
<circle cx="487.9" cy="2512" r="7.7" fill="#fdfcfc" stroke="#d9509a" stroke-width="1.9"/>
<circle cx="499.4" cy="2506.3" r="7.7" fill="#fdfcfc" stroke="#d9509a" stroke-width="1.9"/>
<circle cx="510.8" cy="2507" r="7.7" fill="#fdfcfc" stroke="#d9509a" stroke-width="1.9"/>
<circle cx="521.2" cy="2507" r="7.7" fill="#fdfcfc" stroke="#d9509a" stroke-width="1.9"/>
<text transform="translate(417.1,2420.2)" font-size="20.5"><tspan font-style="italic">p = 0.0009</tspan></text>
<line x1="431.6" y1="2424.8" x2="505.1" y2="2424.8" stroke="#111" stroke-width="2.2"/>
<text transform="translate(327,2555) rotate(-90)" font-size="25" text-anchor="middle"><tspan>CD101</tspan><tspan font-size="15" dy="-9.5">+</tspan><tspan dy="9.5"> T</tspan><tspan font-size="15" dy="7.5">EX</tspan><tspan fill="#6d6e71" stroke="#6d6e71" dy="-7.5">cells</tspan><tspan> (%)</tspan></text>
<circle cx="608.5" cy="2449.7" r="7.3" fill="none" stroke="#17609f" stroke-width="2"/>
<text transform="translate(625.8,2459.2)" font-size="25"><tspan>Ctrl</tspan></text>
<circle cx="608.5" cy="2488.8" r="7.3" fill="none" stroke="#d9509a" stroke-width="2"/>
<text transform="translate(625.8,2498.2)" font-size="25"><tspan font-style="italic">Satb1</tspan><tspan font-size="15" dy="-8.2">m1Anu/m1Anu</tspan></text>
<line x1="1299" y1="2102.7" x2="1299" y2="2359.7" stroke="#111" stroke-width="2.4"/>
<line x1="1288.3" y1="2358.5" x2="1468.9" y2="2358.5" stroke="#111" stroke-width="2.4"/>
<line x1="1288.3" y1="2358.5" x2="1299" y2="2358.5" stroke="#111" stroke-width="2.4"/>
<text transform="translate(1284.3,2366.5)" font-size="22.5" text-anchor="end">0</text>
<line x1="1288.3" y1="2294.9" x2="1299" y2="2294.9" stroke="#111" stroke-width="2.4"/>
<text transform="translate(1284.3,2302.8)" font-size="22.5" text-anchor="end">0.5</text>
<line x1="1288.3" y1="2231.2" x2="1299" y2="2231.2" stroke="#111" stroke-width="2.4"/>
<text transform="translate(1284.3,2239.2)" font-size="22.5" text-anchor="end">1.0</text>
<line x1="1288.3" y1="2167.5" x2="1299" y2="2167.5" stroke="#111" stroke-width="2.4"/>
<text transform="translate(1284.3,2175.5)" font-size="22.5" text-anchor="end">1.5</text>
<line x1="1288.3" y1="2103.9" x2="1299" y2="2103.9" stroke="#111" stroke-width="2.4"/>
<text transform="translate(1284.3,2111.8)" font-size="22.5" text-anchor="end">2.0</text>
<line x1="1323.3" y1="2276.4" x2="1371.2" y2="2276.4" stroke="#111" stroke-width="2"/>
<line x1="1347.6" y1="2255.5" x2="1347.6" y2="2297.3" stroke="#111" stroke-width="2"/>
<line x1="1335.8" y1="2255.5" x2="1359.4" y2="2255.5" stroke="#111" stroke-width="2"/>
<line x1="1335.8" y1="2297.3" x2="1359.4" y2="2297.3" stroke="#111" stroke-width="2"/>
<line x1="1396.7" y1="2333.4" x2="1427.1" y2="2333.4" stroke="#111" stroke-width="2"/>
<circle cx="1347.2" cy="2175.7" r="7.7" fill="#fdfcfc" stroke="#17609f" stroke-width="1.9"/>
<circle cx="1347.2" cy="2204.2" r="7.7" fill="#fdfcfc" stroke="#17609f" stroke-width="1.9"/>
<circle cx="1347.2" cy="2259.3" r="7.7" fill="#fdfcfc" stroke="#17609f" stroke-width="1.9"/>
<circle cx="1347.2" cy="2282.1" r="7.7" fill="#fdfcfc" stroke="#17609f" stroke-width="1.9"/>
<circle cx="1330.9" cy="2312.9" r="7.7" fill="#fdfcfc" stroke="#17609f" stroke-width="1.9"/>
<circle cx="1347.2" cy="2320.1" r="7.7" fill="#fdfcfc" stroke="#17609f" stroke-width="1.9"/>
<circle cx="1363.6" cy="2325.8" r="7.7" fill="#fdfcfc" stroke="#17609f" stroke-width="1.9"/>
<circle cx="1330.9" cy="2330" r="7.7" fill="#fdfcfc" stroke="#17609f" stroke-width="1.9"/>
<circle cx="1410" cy="2330.8" r="7.7" fill="#fdfcfc" stroke="#d9509a" stroke-width="1.9"/>
<circle cx="1419.5" cy="2325.8" r="7.7" fill="#fdfcfc" stroke="#d9509a" stroke-width="1.9"/>
<circle cx="1425.2" cy="2324.3" r="7.7" fill="#fdfcfc" stroke="#d9509a" stroke-width="1.9"/>
<circle cx="1403.5" cy="2338.4" r="7.7" fill="#fdfcfc" stroke="#d9509a" stroke-width="1.9"/>
<circle cx="1416.4" cy="2336.5" r="7.7" fill="#fdfcfc" stroke="#d9509a" stroke-width="1.9"/>
<circle cx="1437.3" cy="2335.7" r="7.7" fill="#fdfcfc" stroke="#d9509a" stroke-width="1.9"/>
<circle cx="1429" cy="2342.9" r="7.7" fill="#fdfcfc" stroke="#d9509a" stroke-width="1.9"/>
<circle cx="1423.3" cy="2332.7" r="7.7" fill="#fdfcfc" stroke="#d9509a" stroke-width="1.9"/>
<text transform="translate(1333.9,2100.8)" font-size="20.5"><tspan font-style="italic">p = 0.0243</tspan></text>
<line x1="1347.2" y1="2103.9" x2="1420.2" y2="2103.9" stroke="#111" stroke-width="2.2"/>
<text transform="translate(1206,2232) rotate(-90)" font-size="25" text-anchor="middle"><tspan>IFN-γ</tspan><tspan font-size="15" dy="-9.5">+</tspan><tspan fill="#6d6e71" stroke="#6d6e71" dy="9.5"> cells</tspan><tspan> (%)</tspan></text>
<text transform="translate(1234,2232) rotate(-90)" font-size="25" text-anchor="middle"><tspan>normalized to Gp33 cells</tspan></text>
<line x1="1590.5" y1="2098.9" x2="1590.5" y2="2355.9" stroke="#111" stroke-width="2.4"/>
<line x1="1579.9" y1="2354.7" x2="1759.6" y2="2354.7" stroke="#111" stroke-width="2.4"/>
<line x1="1579.9" y1="2354.7" x2="1590.5" y2="2354.7" stroke="#111" stroke-width="2.4"/>
<text transform="translate(1575.9,2362.7)" font-size="22.5" text-anchor="end">0</text>
<line x1="1579.9" y1="2291.1" x2="1590.5" y2="2291.1" stroke="#111" stroke-width="2.4"/>
<text transform="translate(1575.9,2299)" font-size="22.5" text-anchor="end">1</text>
<line x1="1579.9" y1="2227.4" x2="1590.5" y2="2227.4" stroke="#111" stroke-width="2.4"/>
<text transform="translate(1575.9,2235.4)" font-size="22.5" text-anchor="end">2</text>
<line x1="1579.9" y1="2163.7" x2="1590.5" y2="2163.7" stroke="#111" stroke-width="2.4"/>
<text transform="translate(1575.9,2171.7)" font-size="22.5" text-anchor="end">3</text>
<line x1="1579.9" y1="2100.1" x2="1590.5" y2="2100.1" stroke="#111" stroke-width="2.4"/>
<text transform="translate(1575.9,2108)" font-size="22.5" text-anchor="end">4</text>
<line x1="1624.7" y1="2277.6" x2="1663.5" y2="2277.6" stroke="#111" stroke-width="2"/>
<line x1="1639.9" y1="2256.7" x2="1639.9" y2="2298.5" stroke="#111" stroke-width="2"/>
<line x1="1628.5" y1="2256.7" x2="1651.3" y2="2256.7" stroke="#111" stroke-width="2"/>
<line x1="1628.5" y1="2298.5" x2="1651.3" y2="2298.5" stroke="#111" stroke-width="2"/>
<line x1="1687.4" y1="2325.1" x2="1734.9" y2="2325.1" stroke="#111" stroke-width="2"/>
<line x1="1712.1" y1="2315.6" x2="1712.1" y2="2334.6" stroke="#111" stroke-width="2"/>
<line x1="1700.7" y1="2315.6" x2="1723.5" y2="2315.6" stroke="#111" stroke-width="2"/>
<line x1="1700.7" y1="2334.6" x2="1723.5" y2="2334.6" stroke="#111" stroke-width="2"/>
<circle cx="1639.9" cy="2158.6" r="7.7" fill="#fdfcfc" stroke="#17609f" stroke-width="1.9"/>
<circle cx="1639.9" cy="2246" r="7.7" fill="#fdfcfc" stroke="#17609f" stroke-width="1.9"/>
<circle cx="1655.9" cy="2245.3" r="7.7" fill="#fdfcfc" stroke="#17609f" stroke-width="1.9"/>
<circle cx="1639.9" cy="2276.4" r="7.7" fill="#fdfcfc" stroke="#17609f" stroke-width="1.9"/>
<circle cx="1639.9" cy="2307.2" r="7.7" fill="#fdfcfc" stroke="#17609f" stroke-width="1.9"/>
<circle cx="1639.9" cy="2325.1" r="7.7" fill="#fdfcfc" stroke="#17609f" stroke-width="1.9"/>
<circle cx="1655.9" cy="2325.8" r="7.7" fill="#fdfcfc" stroke="#17609f" stroke-width="1.9"/>
<circle cx="1622.8" cy="2337.2" r="7.7" fill="#fdfcfc" stroke="#17609f" stroke-width="1.9"/>
<circle cx="1711" cy="2256.7" r="7.7" fill="#fdfcfc" stroke="#d9509a" stroke-width="1.9"/>
<circle cx="1711" cy="2318.2" r="7.7" fill="#fdfcfc" stroke="#d9509a" stroke-width="1.9"/>
<circle cx="1695" cy="2330.8" r="7.7" fill="#fdfcfc" stroke="#d9509a" stroke-width="1.9"/>
<circle cx="1727.3" cy="2330" r="7.7" fill="#fdfcfc" stroke="#d9509a" stroke-width="1.9"/>
<circle cx="1695" cy="2341.4" r="7.7" fill="#fdfcfc" stroke="#d9509a" stroke-width="1.9"/>
<circle cx="1711" cy="2341.4" r="7.7" fill="#fdfcfc" stroke="#d9509a" stroke-width="1.9"/>
<circle cx="1727.3" cy="2347.1" r="7.7" fill="#fdfcfc" stroke="#d9509a" stroke-width="1.9"/>
<circle cx="1712.1" cy="2328.9" r="7.7" fill="#fdfcfc" stroke="#d9509a" stroke-width="1.9"/>
<text transform="translate(1625.5,2096.3)" font-size="20.5"><tspan font-style="italic">p = 0.0092</tspan></text>
<line x1="1639.9" y1="2100.1" x2="1712.1" y2="2100.1" stroke="#111" stroke-width="2.2"/>
<text transform="translate(1523,2229) rotate(-90)" font-size="25" text-anchor="middle"><tspan>IFN-γ</tspan><tspan font-size="15" dy="-9.5">+</tspan><tspan dy="9.5">TNF</tspan><tspan font-size="15" dy="-9.5">+</tspan><tspan fill="#6d6e71" stroke="#6d6e71" dy="9.5"> cells</tspan><tspan> (%)</tspan></text>
<text transform="translate(1552,2229.5) rotate(-90)" font-size="25" text-anchor="middle"><tspan>normalized to Gp33 cells</tspan></text>
<circle cx="1398.6" cy="2065.8" r="7" fill="none" stroke="#17609f" stroke-width="2"/>
<text transform="translate(1414.9,2075)" font-size="24"><tspan>Ctrl</tspan></text>
<circle cx="1484.1" cy="2065.8" r="7" fill="none" stroke="#d9509a" stroke-width="2"/>
<text transform="translate(1503.1,2075)" font-size="24"><tspan font-style="italic">Satb1</tspan><tspan font-size="14.4" dy="-7.9">m1Anu/m1Anu</tspan></text>
<text transform="translate(203.4,1309.5) scale(1.011,1)" font-size="29"><tspan>CD8 T cells, Day 21</tspan></text>
<line x1="110.2" y1="1318" x2="557.8" y2="1318" stroke="#231f20" stroke-width="1.8"/>
<text transform="translate(185,1342.8) scale(0.998,1)" font-size="25"><tspan>Ctrl</tspan></text>
<text transform="translate(353,1342.8)" font-size="25"><tspan font-style="italic">Satb1</tspan><tspan font-size="15.5" dy="-8.5">m1Anu/m1Anu</tspan></text>
<rect x="110.2" y="1349.5" width="218.3" height="217.9" fill="none" stroke="#111" stroke-width="2"/>
<rect x="339.6" y="1349.5" width="218.9" height="217.9" fill="none" stroke="#111" stroke-width="2"/>
<path d="M196 1385h1.1m-18.1 6h1.1m50.9 0h1.1m-60.6 7.5h1.1m-18.1 7.5h1.1m12.4 0h1.1m8.9 0.5h1.1m47.9 -4.5h1.1m-77.6 7.5h1.1m-0.6 -1h1.1m2.4 2.5h1.1m-0.6 -2.5h1.1m-1.1 0.5h1.1m15.9 3.5h1.1m-0.6 -4h1.1m2.4 3.5h1.1m0.4 -1h1.1m6.4 1.5h1.1m-0.1 -1.5h1.1m-0.1 0h1.1m31.4 -2h1.1m-0.1 -1h1.1m15.4 3.5h1.1m-93.6 5h1.1m6.9 -1h1.1m3.4 0h1.1m0.4 -2h1.1m-0.1 2.5h1.1m-0.1 2.5h1.1m-0.6 0.5h1.1m0.9 -4.5h1.1m-1.1 3.5h1.1m1.9 -2h1.1m-1.1 -1.5h1.1m1.4 0h1.1m0.9 3.5h1.1m-0.6 -4.5h1.1m0.4 4h1.1m1.4 -1h1.1m4.4 -2.5h1.1m49.4 4.5h1.1m4.9 -0.5h1.1m3.9 -2h1.1m9.4 0h1.1m13.9 3h1.1m-124.6 5h1.1m10.4 -1.5h1.1m1.4 2h1.1m2.9 -5h1.1m0.4 1h1.1m0.9 4h1.1m0.9 -3h1.1m-0.6 -1h1.1m-1.1 0.5h1.1m1.4 0h1.1m-0.6 3h1.1m1.4 -0.5h1.1m-0.1 -2.5h1.1m-1.1 -0.5h1.1m0.9 1.5h1.1m1.4 -1h1.1m0.9 3h1.1m2.9 0h1.1m-0.1 -1h1.1m0.4 -0.5h1.1m0.4 0.5h1.1m5.9 -1.5h1.1m4.9 -1h1.1m1.4 -0.5h1.1m15.9 4.5h1.1m19.4 -1h1.1m1.9 0.5h1.1m5.4 -2h1.1m1.4 -0.5h1.1m-1.1 0.5h1.1m33.4 0h1.1m-141.1 5.5h1.1m0.9 3h1.1m0.4 -3.5h1.1m-1.1 4h1.1m0.4 -2.5h1.1m-0.1 -3h1.1m-0.6 4.5h1.1m-0.6 0h1.1m-0.1 -2h1.1m-0.6 0.5h1.1m-0.1 1.5h1.1m-0.6 -3h1.1m-0.1 -0.5h1.1m-0.6 4.5h1.1m-0.6 -6h1.1m-0.6 1h1.1m-0.1 4h1.1m-0.6 1h1.1m0.9 -6h1.1m-1.1 3h1.1m-1.1 0.5h1.1m-1.1 -0.5h1.1m0.4 -0.5h1.1m-1.1 0h1.1m-0.6 1.5h1.1m-1.1 -1h1.1m-0.6 2.5h1.1m-0.6 -3.5h1.1m-1.1 -0.5h1.1m0.4 3.5h1.1m-1.1 -5h1.1m-0.6 4h1.1m-0.6 2h1.1m-0.1 -1h1.1m-0.1 0h1.1m-0.6 -2h1.1m-1.1 0h1.1m-0.1 -1h1.1m0.4 0h1.1m1.4 0h1.1m-1.1 -2h1.1m-0.6 6h1.1m1.4 -3.5h1.1m0.4 3.5h1.1m-1.1 -5h1.1m-0.6 1h1.1m-0.6 -1h1.1m0.4 -1h1.1m-0.1 0.5h1.1m5.4 2.5h1.1m7.9 -1h1.1m8.4 2.5h1.1m4.4 -0.5h1.1m12.4 -1h1.1m17.4 2.5h1.1m2.9 -4.5h1.1m0.4 0h1.1m3.9 4h1.1m2.9 -4.5h1.1m-118.1 9.5h1.1m0.4 -2.5h1.1m-1.1 3.5h1.1m-1.1 -1.5h1.1m-0.6 -0.5h1.1m-1.1 2.5h1.1m2.9 0h1.1m-0.6 -2.5h1.1m-0.1 1h1.1m-0.6 0h1.1m-0.6 -2.5h1.1m-0.6 0.5h1.1m-0.1 0.5h1.1m-1.1 -2h1.1m-0.6 5h1.1m-0.1 -2h1.1m-0.1 1h1.1m-0.6 0.5h1.1m-0.6 -1h1.1m-0.6 0.5h1.1m-1.1 0h1.1m-0.1 -1.5h1.1m-0.6 0h1.1m-1.1 0h1.1m-0.6 -2.5h1.1m-0.6 0h1.1m-0.6 2h1.1m-1.1 1.5h1.1m-0.6 -1.5h1.1m-0.6 0.5h1.1m-0.6 0.5h1.1m-0.1 1h1.1m-0.6 -4h1.1m-1.1 4.5h1.1m-0.6 -3.5h1.1m-1.1 0.5h1.1m-1.1 -1.5h1.1m-1.1 2.5h1.1m-0.6 -1.5h1.1m-0.6 2.5h1.1m-1.1 0.5h1.1m-0.6 -3.5h1.1m-0.6 2.5h1.1m-0.6 0h1.1m-1.1 -0.5h1.1m0.4 -2.5h1.1m-1.1 3h1.1m-0.6 -1h1.1m-0.6 2h1.1m-1.1 -4h1.1m-0.6 3h1.1m-0.6 -1h1.1m-1.1 2h1.1m-0.6 -2h1.1m-0.6 0h1.1m-1.1 1.5h1.1m-1.1 -1h1.1m-0.6 0.5h1.1m-0.6 0.5h1.1m0.9 -0.5h1.1m-0.6 -3h1.1m-0.6 3h1.1m-1.1 0h1.1m-0.6 -1.5h1.1m-1.1 3h1.1m-1.1 -1.5h1.1m-0.6 2h1.1m-1.1 -4.5h1.1m-0.6 0.5h1.1m-1.1 3h1.1m-1.1 -0.5h1.1m-0.6 -3.5h1.1m-0.6 5h1.1m-0.6 -3.5h1.1m-1.1 3.5h1.1m-0.6 -2.5h1.1m-0.6 -2h1.1m-0.6 3.5h1.1m-1.1 -1.5h1.1m-1.1 0.5h1.1m-1.1 -1.5h1.1m-0.6 1.5h1.1m-0.6 1h1.1m-0.6 -4h1.1m-0.6 1h1.1m-1.1 1.5h1.1m-0.6 0h1.1m-0.6 2.5h1.1m1.4 -5h1.1m-1.1 4.5h1.1m-0.6 -1.5h1.1m1.4 1.5h1.1m-0.6 -2.5h1.1m-1.1 2.5h1.1m-0.6 0h1.1m-1.1 -4.5h1.1m-0.6 4.5h1.1m-0.6 0.5h1.1m4.9 -2h1.1m6.4 -2h1.1m24.9 2h1.1m2.4 -1.5h1.1m-103.6 10h1.1m3.4 -1.5h1.1m2.9 -1.5h1.1m1.4 2.5h1.1m-1.1 0h1.1m0.9 0.5h1.1m-0.1 -5.5h1.1m-0.6 0h1.1m-0.6 2h1.1m-0.6 3h1.1m-0.1 -0.5h1.1m-0.1 -2.5h1.1m-0.6 0.5h1.1m-1.1 0h1.1m-0.6 2.5h1.1m-1.1 -2h1.1m-0.6 -0.5h1.1m-1.1 -2.5h1.1m-1.1 5.5h1.1m-0.6 -0.5h1.1m-0.6 -1.5h1.1m-1.1 -3h1.1m-0.6 2h1.1m-0.1 0h1.1m-0.6 0.5h1.1m-1.1 -1h1.1m1.4 0h1.1m-0.6 -1.5h1.1m-1.1 0.5h1.1m0.4 0h1.1m-1.1 0h1.1m-0.6 -0.5h1.1m18.4 -1h1.1m1.4 1h1.1m1.9 -1h1.1m-1.1 1h1.1m-0.6 -0.5h1.1m-1.1 0.5h1.1m-1.1 -1h1.1m-0.1 1.5h1.1m-1.1 1.5h1.1m-0.1 0.5h1.1m-1.1 -3h1.1m-0.6 3h1.1m-0.6 -1.5h1.1m-1.1 3h1.1m-0.6 -1.5h1.1m-1.1 1.5h1.1m-0.6 -4.5h1.1m-1.1 1h1.1m-0.6 -1.5h1.1m-0.6 6h1.1m-1.1 -3.5h1.1m-1.1 0.5h1.1m-0.6 -1.5h1.1m-0.6 4.5h1.1m-1.1 -1.5h1.1m-0.1 1.5h1.1m-0.6 -0.5h1.1m-0.1 -3h1.1m0.4 -1h1.1m-1.1 4h1.1m-0.1 -5.5h1.1m1.4 6h1.1m-0.6 -5h1.1m1.4 5h1.1m1.9 -1h1.1m7.4 0h1.1m2.4 -5h1.1m-0.6 5.5h1.1m1.9 -3h1.1m0.9 -2.5h1.1m7.4 4h1.1m2.4 -3.5h1.1m3.9 0h1.1m-0.6 4h1.1m3.4 1h1.1m11.9 -1.5h1.1m-1.1 -0.5h1.1m2.9 -1.5h1.1m-118.6 8.5h1.1m-0.1 0h1.1m-0.6 1h1.1m-1.1 -0.5h1.1m-0.6 -0.5h1.1m-0.6 -1h1.1m-1.1 2h1.1m-0.6 -1h1.1m-1.1 -0.5h1.1m-1.1 -1h1.1m-0.6 1h1.1m-1.1 -2.5h1.1m-0.6 2.5h1.1m-1.1 -2.5h1.1m-0.6 -1h1.1m-1.1 4.5h1.1m-0.1 -2h1.1m0.4 -1.5h1.1m37.9 -1h1.1m1.4 0.5h1.1m-0.6 2.5h1.1m-0.6 1h1.1m-1.1 -2.5h1.1m-0.6 2h1.1m-0.6 0h1.1m-1.1 -1.5h1.1m-1.1 -1.5h1.1m-1.1 0.5h1.1m0.9 4h1.1m-1.1 -0.5h1.1m-1.1 -2h1.1m-1.1 -0.5h1.1m-1.1 1h1.1m-0.1 -3h1.1m-0.6 3.5h1.1m0.9 1h1.1m-1.1 -2.5h1.1m-0.1 1.5h1.1m0.4 1.5h1.1m-1.1 -0.5h1.1m0.9 -2h1.1m0.4 -0.5h1.1m20.4 3h1.1m16.4 -2h1.1m9.4 1h1.1m5.9 -1.5h1.1m6.4 -2h1.1m-143.6 11h1.1m7.9 -3.5h1.1m-1.1 0h1.1m-0.6 -1h1.1m-1.1 1.5h1.1m0.4 -1.5h1.1m-0.6 -0.5h1.1m-1.1 0.5h1.1m-0.1 -1h1.1m0.4 1h1.1m-1.1 2.5h1.1m-0.1 -1h1.1m-0.6 -1h1.1m-1.1 2.5h1.1m-0.6 1.5h1.1m-1.1 -4h1.1m-0.6 -0.5h1.1m-0.6 4.5h1.1m-0.6 -0.5h1.1m-1.1 -3h1.1m-0.6 2h1.1m-1.1 -2.5h1.1m-0.6 0.5h1.1m-1.1 0h1.1m-1.1 0h1.1m-0.6 -0.5h1.1m-0.6 0h1.1m-0.6 -1.5h1.1m44.9 0h1.1m-0.1 0h1.1m-0.6 1h1.1m-0.6 4h1.1m-1.1 -5h1.1m-0.6 3h1.1m-1.1 -1.5h1.1m-1.1 2.5h1.1m-1.1 1h1.1m-0.6 -2h1.1m-1.1 -3h1.1m-1.1 5h1.1m-0.6 -1h1.1m-0.6 0h1.1m-0.1 1.5h1.1m-0.1 -4.5h1.1m-1.1 2.5h1.1m-0.1 -1.5h1.1m-1.1 -1.5h1.1m1.4 1h1.1m3.4 -2h1.1m3.4 0.5h1.1m4.9 -0.5h1.1m-0.1 2.5h1.1m0.9 -1.5h1.1m0.9 2h1.1m4.9 -2.5h1.1m0.4 4h1.1m3.4 0h1.1m0.4 -4.5h1.1m5.9 4h1.1m-0.1 -2.5h1.1m3.4 4.5h1.1m-0.6 -3h1.1m8.9 0h1.1m4.4 2.5h1.1m-133.6 5h1.1m1.4 0.5h1.1m3.4 -1h1.1m-1.1 1.5h1.1m-1.1 -3h1.1m1.4 -1.5h1.1m-0.6 0.5h1.1m-0.6 0.5h1.1m-1.1 1h1.1m-1.1 0.5h1.1m-0.6 0.5h1.1m-1.1 -2h1.1m-0.1 2h1.1m-0.6 -3.5h1.1m-1.1 0h1.1m-0.6 5h1.1m-0.6 0h1.1m-1.1 -3h1.1m-0.6 1h1.1m47.4 -0.5h1.1m-1.1 2.5h1.1m-0.6 -2h1.1m-1.1 0h1.1m-0.6 2h1.1m-1.1 0h1.1m-0.1 -3h1.1m-1.1 -1h1.1m-1.1 4h1.1m-0.6 -1h1.1m-0.6 -2.5h1.1m-1.1 3.5h1.1m-0.1 -4.5h1.1m-0.6 4.5h1.1m-0.1 0h1.1m1.9 -2h1.1m-0.6 2h1.1m-0.1 -2h1.1m-0.1 0.5h1.1m4.4 -3h1.1m3.9 2.5h1.1m-0.1 -2h1.1m0.9 2h1.1m1.4 -1h1.1m-0.1 0h1.1m5.4 1.5h1.1m0.9 0h1.1m8.4 -2h1.1m-0.6 2h1.1m11.9 -1h1.1m2.9 -2.5h1.1m-128.6 6h1.1m3.4 0h1.1m-0.1 1h1.1m-0.6 2.5h1.1m-1.1 -4h1.1m0.9 3.5h1.1m-0.1 2.5h1.1m-0.6 0h1.1m0.4 -5h1.1m-0.6 3.5h1.1m-0.6 -3.5h1.1m-1.1 2.5h1.1m-0.6 -2.5h1.1m0.4 2h1.1m-1.1 -2.5h1.1m-0.6 4h1.1m-1.1 -3.5h1.1m-1.1 3h1.1m-0.1 -2.5h1.1m0.4 1h1.1m0.4 3.5h1.1m-1.1 0h1.1m-1.1 -0.5h1.1m42.4 -1h1.1m-1.1 -0.5h1.1m-1.1 1h1.1m-0.1 0h1.1m-1.1 1h1.1m-0.6 -4.5h1.1m-0.6 0.5h1.1m-0.6 -2h1.1m-0.6 5h1.1m-1.1 -3h1.1m-1.1 -0.5h1.1m-0.6 -1.5h1.1m-0.6 5.5h1.1m-1.1 -4h1.1m-0.6 0h1.1m-1.1 3h1.1m-1.1 -1h1.1m-0.6 -2h1.1m-0.1 -1h1.1m-0.6 5.5h1.1m-0.1 -4h1.1m-0.6 -2h1.1m-0.6 4h1.1m0.9 -1h1.1m1.9 3h1.1m1.9 -5.5h1.1m7.4 2.5h1.1m1.4 3h1.1m-0.6 -1.5h1.1m0.4 -1h1.1m0.9 0h1.1m0.9 -0.5h1.1m1.9 -2.5h1.1m3.4 1h1.1m1.4 -0.5h1.1m-0.1 -0.5h1.1m-0.6 3h1.1m-0.6 1.5h1.1m-0.6 -1h1.1m-0.1 -2.5h1.1m-0.1 0.5h1.1m-0.1 0h1.1m0.4 1.5h1.1m-1.1 0.5h1.1m0.4 -4h1.1m-0.6 2.5h1.1m2.9 2.5h1.1m-0.6 0h1.1m11.4 -4.5h1.1m1.4 5.5h1.1m-1.1 -3h1.1m6.9 2.5h1.1m-133.1 4.5h1.1m-0.1 1h1.1m0.4 -2.5h1.1m-0.1 0.5h1.1m-0.1 -1h1.1m-0.1 2h1.1m-0.1 0h1.1m-0.6 1h1.1m-0.6 -2h1.1m-0.6 -0.5h1.1m-1.1 2h1.1m-1.1 0h1.1m-0.1 -1h1.1m-1.1 -3h1.1m-1.1 4.5h1.1m-0.1 -1.5h1.1m-0.6 0.5h1.1m0.4 1.5h1.1m35.4 -1.5h1.1m-0.1 -1.5h1.1m-0.6 -0.5h1.1m-0.6 0.5h1.1m-1.1 2h1.1m-0.6 -3h1.1m-1.1 1.5h1.1m-1.1 -0.5h1.1m-1.1 0.5h1.1m-0.6 0h1.1m-0.6 -0.5h1.1m-1.1 -0.5h1.1m-1.1 -1.5h1.1m-1.1 3h1.1m0.9 0.5h1.1m1.4 -3.5h1.1m-0.6 2.5h1.1m-0.1 1.5h1.1m-1.1 0.5h1.1m-1.1 -4.5h1.1m-0.6 0.5h1.1m-0.1 4h1.1m-0.6 -1.5h1.1m0.9 1.5h1.1m2.9 -1.5h1.1m10.4 -2.5h1.1m4.4 1h1.1m3.9 1.5h1.1m-1.1 -0.5h1.1m-0.6 -2.5h1.1m0.4 4h1.1m-0.1 -0.5h1.1m0.4 0.5h1.1m0.4 0.5h1.1m1.9 -1.5h1.1m2.9 0h1.1m5.4 1.5h1.1m3.4 -1h1.1m6.9 1.5h1.1m-124.6 3.5h1.1m2.4 1h1.1m-0.6 1.5h1.1m-0.1 -2h1.1m-0.6 1.5h1.1m-0.1 1h1.1m0.4 -5h1.1m0.9 4h1.1m-0.6 -2.5h1.1m-1.1 3h1.1m-0.6 -2h1.1m-1.1 1.5h1.1m0.4 1h1.1m-1.1 -4.5h1.1m-1.1 2.5h1.1m-0.1 1h1.1m-1.1 -2h1.1m-0.6 -2.5h1.1m-0.6 0.5h1.1m-1.1 5h1.1m-1.1 -1.5h1.1m-0.6 0h1.1m-0.1 -2.5h1.1m-1.1 -2h1.1m-0.6 1h1.1m-0.6 4h1.1m32.9 1h1.1m-1.1 0h1.1m-0.6 -3.5h1.1m-1.1 2h1.1m-1.1 -2.5h1.1m-0.6 2.5h1.1m-1.1 -3.5h1.1m-0.6 -0.5h1.1m-1.1 3.5h1.1m-0.6 -3.5h1.1m-0.6 1h1.1m-0.6 4.5h1.1m-1.1 -2.5h1.1m-1.1 -1h1.1m-1.1 0.5h1.1m-0.6 1h1.1m-1.1 0h1.1m-0.6 -4h1.1m0.4 5.5h1.1m-1.1 -5h1.1m-0.1 3h1.1m-1.1 2.5h1.1m-0.1 -4h1.1m-0.6 4h1.1m-0.1 -4.5h1.1m-0.1 -1h1.1m-0.1 5.5h1.1m2.9 -1.5h1.1m3.9 -4.5h1.1m3.4 3h1.1m0.9 1h1.1m-0.6 -3h1.1m1.4 1h1.1m-0.6 1h1.1m2.9 -2h1.1m2.4 5h1.1m2.4 -5.5h1.1m-0.1 2.5h1.1m-0.6 -3h1.1m6.4 3h1.1m3.9 -1h1.1m2.4 -0.5h1.1m6.9 1h1.1m-119.1 9h1.1m-0.6 -1h1.1m0.9 1h1.1m-1.1 -3.5h1.1m6.9 -0.5h1.1m-0.6 3.5h1.1m-0.6 0.5h1.1m-0.6 -1.5h1.1m-0.6 1h1.1m-0.6 -4h1.1m-1.1 4.5h1.1m-1.1 -4.5h1.1m-1.1 3h1.1m-0.1 -1h1.1m-1.1 0h1.1m-1.1 2h1.1m-0.6 -3.5h1.1m-1.1 3.5h1.1m-0.6 -1h1.1m-0.6 0h1.1m-1.1 -2h1.1m-0.6 1.5h1.1m-1.1 -1h1.1m-1.1 0h1.1m-0.6 3h1.1m-0.6 -0.5h1.1m-1.1 -4.5h1.1m-0.6 4h1.1m-1.1 0.5h1.1m-1.1 -3.5h1.1m32.9 0h1.1m-1.1 -1h1.1m-0.6 4h1.1m-0.6 -2h1.1m-0.6 -2h1.1m-0.6 2h1.1m-0.6 -1.5h1.1m-0.1 -0.5h1.1m0.9 2h1.1m-0.1 -0.5h1.1m0.4 0h1.1m10.9 -1h1.1m13.9 2.5h1.1m2.9 -0.5h1.1m6.4 -1.5h1.1m-0.1 1h1.1m0.9 1h1.1m0.9 1.5h1.1m5.9 0.5h1.1m6.9 -3.5h1.1m-124.1 6h1.1m5.9 2h1.1m-0.6 0.5h1.1m4.9 -3.5h1.1m-0.6 1h1.1m-0.6 4h1.1m-0.6 -3h1.1m-0.6 2h1.1m-0.1 -5h1.1m-0.1 1.5h1.1m-0.6 3h1.1m-0.1 1.5h1.1m-0.1 -0.5h1.1m-0.6 -1h1.1m-1.1 -4.5h1.1m-1.1 6h1.1m-0.6 -3.5h1.1m-0.6 1.5h1.1m-1.1 -3h1.1m-1.1 2.5h1.1m-1.1 0.5h1.1m-1.1 -1.5h1.1m-0.6 0h1.1m-0.6 -2h1.1m-1.1 2.5h1.1m-1.1 1.5h1.1m32.4 0.5h1.1m-1.1 -0.5h1.1m-0.6 -3.5h1.1m-0.6 2h1.1m-1.1 0h1.1m-0.6 -3h1.1m-1.1 0h1.1m-0.6 3h1.1m-1.1 -2h1.1m-1.1 -0.5h1.1m-1.1 2h1.1m-0.6 0h1.1m-1.1 -1h1.1m-1.1 0h1.1m-1.1 4.5h1.1m-0.6 -6h1.1m-0.1 1.5h1.1m-0.1 -1.5h1.1m-1.1 1.5h1.1m-0.1 2h1.1m1.4 1.5h1.1m0.4 -3h1.1m-0.6 -2h1.1m-0.6 2.5h1.1m0.9 1h1.1m0.4 -3.5h1.1m-1.1 0.5h1.1m-0.1 2.5h1.1m6.4 -0.5h1.1m-0.1 0.5h1.1m2.9 -2.5h1.1m1.4 5.5h1.1m-1.1 -1.5h1.1m0.4 -2.5h1.1m0.9 3.5h1.1m-0.1 0.5h1.1m6.9 -1.5h1.1m-0.6 -3h1.1m0.4 0h1.1m2.9 3.5h1.1m-0.1 -1h1.1m0.4 -2.5h1.1m-0.6 1h1.1m-0.6 2h1.1m4.9 -2.5h1.1m3.4 2.5h1.1m-0.1 0.5h1.1m10.9 -2.5h1.1m3.9 3.5h1.1m-130.6 1.5h1.1m1.4 1h1.1m-0.6 1h1.1m-0.1 0.5h1.1m1.9 1.5h1.1m0.4 -1.5h1.1m-1.1 -2.5h1.1m-0.6 1.5h1.1m-0.6 -2h1.1m-1.1 0h1.1m-1.1 2.5h1.1m-0.1 -1.5h1.1m-1.1 1.5h1.1m0.4 -2.5h1.1m-1.1 -0.5h1.1m-0.6 4.5h1.1m-0.6 -1.5h1.1m0.4 2h1.1m-1.1 0h1.1m-1.1 -2h1.1m-0.6 2h1.1m-1.1 -0.5h1.1m-0.6 -2h1.1m-1.1 -1.5h1.1m31.4 2h1.1m-0.6 0h1.1m-1.1 -2.5h1.1m-0.1 0.5h1.1m-1.1 -1h1.1m-1.1 3h1.1m-1.1 2h1.1m-0.6 -4h1.1m-1.1 1h1.1m-0.6 1h1.1m-1.1 1.5h1.1m-1.1 -2h1.1m-0.6 1.5h1.1m-1.1 -2h1.1m-1.1 -1.5h1.1m-0.6 2h1.1m-1.1 -2.5h1.1m-1.1 3h1.1m-1.1 -2.5h1.1m-1.1 3.5h1.1m-0.6 0.5h1.1m-0.6 0.5h1.1m-0.1 -3.5h1.1m-0.1 2.5h1.1m-0.6 -3.5h1.1m-1.1 3.5h1.1m-0.6 -2.5h1.1m-0.1 1h1.1m-0.6 -1h1.1m1.9 0.5h1.1m1.4 -2h1.1m1.9 1h1.1m0.4 4h1.1m14.9 -2.5h1.1m2.9 2.5h1.1m-0.1 -0.5h1.1m2.9 -2h1.1m8.9 -1.5h1.1m-0.1 1h1.1m4.9 2.5h1.1m15.9 -3h1.1m0.4 -1.5h1.1m-141.1 11h1.1m13.9 -5.5h1.1m0.9 2h1.1m-1.1 3.5h1.1m1.9 -4.5h1.1m-0.1 2.5h1.1m-0.6 -0.5h1.1m-0.6 0h1.1m-0.6 2.5h1.1m-1.1 0.5h1.1m-0.6 -1.5h1.1m-0.6 1h1.1m-0.6 0h1.1m-1.1 -5.5h1.1m-1.1 5.5h1.1m-0.6 -3.5h1.1m-0.6 0.5h1.1m-1.1 1.5h1.1m-0.6 0.5h1.1m-1.1 -0.5h1.1m-0.1 -3h1.1m-0.6 1.5h1.1m-0.6 -0.5h1.1m-1.1 -1h1.1m-1.1 4.5h1.1m-1.1 -3h1.1m-1.1 0h1.1m-0.6 0.5h1.1m-0.6 -1.5h1.1m-1.1 4h1.1m-1.1 -1h1.1m-1.1 0h1.1m-1.1 -3.5h1.1m-0.6 5h1.1m29.4 -0.5h1.1m-0.6 -0.5h1.1m-1.1 -1.5h1.1m-1.1 -0.5h1.1m-0.6 3h1.1m-1.1 -3.5h1.1m-1.1 -1.5h1.1m-1.1 1h1.1m-1.1 3h1.1m-1.1 -4h1.1m-1.1 0h1.1m-1.1 2h1.1m-0.6 0h1.1m-0.6 -1h1.1m-0.6 -2h1.1m-0.6 2h1.1m-0.6 0.5h1.1m-1.1 1.5h1.1m-0.1 -4h1.1m-1.1 6h1.1m-0.6 -2.5h1.1m-1.1 -3h1.1m-0.6 -0.5h1.1m-1.1 1.5h1.1m-0.6 0h1.1m-0.1 -1.5h1.1m-0.1 3.5h1.1m-1.1 -1.5h1.1m0.9 0h1.1m0.9 1h1.1m31.4 0h1.1m3.4 -0.5h1.1m-0.6 -2.5h1.1m2.9 4h1.1m1.9 -2h1.1m-1.1 -1.5h1.1m6.4 3.5h1.1m-117.1 3h1.1m2.9 4h1.1m-0.1 -1h1.1m-0.6 -1h1.1m-0.1 -2h1.1m-0.1 3h1.1m2.9 0h1.1m-0.1 0h1.1m-0.6 -2.5h1.1m-0.1 -1h1.1m-0.1 1.5h1.1m-1.1 3h1.1m-0.6 -4h1.1m-1.1 4.5h1.1m-0.6 -5h1.1m-0.6 2h1.1m-0.6 1h1.1m-1.1 -0.5h1.1m-1.1 -2h1.1m-0.6 0.5h1.1m-0.6 2.5h1.1m-1.1 0.5h1.1m-1.1 1h1.1m-0.1 -0.5h1.1m-1.1 0h1.1m-1.1 -1h1.1m-0.6 -3h1.1m-1.1 1h1.1m-0.6 1h1.1m-0.6 -1h1.1m31.4 0.5h1.1m-1.1 0h1.1m-1.1 -2h1.1m-0.6 1.5h1.1m-1.1 -0.5h1.1m-1.1 -1h1.1m-0.1 2.5h1.1m-0.6 -1.5h1.1m-0.6 1h1.1m-0.6 2.5h1.1m-1.1 -1.5h1.1m-0.1 -0.5h1.1m-1.1 0.5h1.1m-1.1 1h1.1m-1.1 -1h1.1m1.4 -0.5h1.1m-1.1 2.5h1.1m-1.1 0h1.1m-0.6 -1h1.1m-0.6 -0.5h1.1m-0.1 -2.5h1.1m-1.1 1.5h1.1m-0.6 -0.5h1.1m-1.1 2h1.1m-1.1 -3h1.1m-0.6 1h1.1m-0.6 3h1.1m-0.1 0h1.1m-0.6 -3.5h1.1m24.9 3.5h1.1m0.4 -3h1.1m6.4 2.5h1.1m17.4 -2h1.1m-111.6 8h1.1m-1.1 -0.5h1.1m-1.1 -3.5h1.1m-0.1 3h1.1m-0.6 1h1.1m-1.1 -3h1.1m-0.6 -1h1.1m-1.1 0h1.1m-1.1 4.5h1.1m1.4 0h1.1m-1.1 -1h1.1m-0.6 1h1.1m-0.1 -4h1.1m-0.6 0h1.1m-0.6 0.5h1.1m-1.1 0.5h1.1m-1.1 -1h1.1m-0.6 0h1.1m-1.1 0h1.1m-1.1 1.5h1.1m0.9 -2.5h1.1m0.4 -0.5h1.1m36.4 0h1.1m-0.1 1.5h1.1m-0.6 0h1.1m-1.1 -1.5h1.1m-1.1 0.5h1.1m-1.1 0.5h1.1m-0.6 2.5h1.1m-0.1 -0.5h1.1m-1.1 0h1.1m-1.1 2h1.1m-0.6 -4.5h1.1m-1.1 4h1.1m-0.6 -3.5h1.1m-1.1 4.5h1.1m-0.6 -3h1.1m-0.6 2.5h1.1m-0.6 0h1.1m-0.6 1h1.1m-0.6 -3.5h1.1m-0.6 -0.5h1.1m-1.1 2.5h1.1m-0.6 -0.5h1.1m-0.1 0.5h1.1m-0.6 1h1.1m-0.1 -1h1.1m-1.1 -1.5h1.1m-0.6 0.5h1.1m0.4 -1.5h1.1m-0.6 -2h1.1m-0.6 3.5h1.1m12.9 -1.5h1.1m18.4 2h1.1m1.4 2h1.1m3.4 -4h1.1m5.4 -1.5h1.1m-0.1 0.5h1.1m2.4 1.5h1.1m-125.6 4.5h1.1m3.9 2h1.1m-0.1 2h1.1m0.4 -3.5h1.1m-1.1 2h1.1m2.9 1h1.1m-0.6 -2h1.1m-1.1 1.5h1.1m-0.6 -1.5h1.1m-1.1 2h1.1m-0.1 1h1.1m-1.1 -1h1.1m-0.6 -1.5h1.1m-0.6 0.5h1.1m-1.1 -3h1.1m-1.1 1h1.1m-0.6 1h1.1m-0.6 -1.5h1.1m48.9 0h1.1m-0.6 -0.5h1.1m-1.1 2.5h1.1m-1.1 -0.5h1.1m-0.1 -0.5h1.1m-0.1 3h1.1m-1.1 -3.5h1.1m-1.1 2h1.1m-1.1 -3h1.1m-0.6 0.5h1.1m-0.1 0.5h1.1m-1.1 3h1.1m-0.6 -0.5h1.1m-0.1 1.5h1.1m-0.6 -3.5h1.1m-0.1 3.5h1.1m-0.1 -4h1.1m-0.6 -1h1.1m-0.6 2.5h1.1m3.4 -2h1.1m1.4 2.5h1.1m14.9 0h1.1m20.9 1.5h1.1m3.4 -1h1.1m3.9 -3.5h1.1m-127.1 8h1.1m2.4 -0.5h1.1m-0.6 1.5h1.1m-1.1 -3.5h1.1m-1.1 4.5h1.1m-0.6 -3.5h1.1m-0.1 4h1.1m0.4 -1h1.1m-0.6 -1.5h1.1m-0.1 -2h1.1m-0.6 3h1.1m-1.1 1h1.1m-0.1 1h1.1m-1.1 0h1.1m0.4 -5.5h1.1m-1.1 2.5h1.1m-0.6 3.5h1.1m-0.1 -0.5h1.1m48.9 -1h1.1m-1.1 -2.5h1.1m-0.6 1h1.1m-0.6 3h1.1m-0.6 -4h1.1m-1.1 2h1.1m-1.1 -2h1.1m-0.1 2h1.1m-0.6 -3.5h1.1m-1.1 3h1.1m-0.1 1.5h1.1m-0.6 1h1.1m0.4 -1h1.1m-0.6 0.5h1.1m-1.1 -1h1.1m-0.6 -1.5h1.1m-0.1 -0.5h1.1m-0.6 -0.5h1.1m0.4 0h1.1m18.4 4h1.1m12.4 -4.5h1.1m-101.6 7.5h1.1m-1.1 -0.5h1.1m2.9 -1h1.1m-0.6 0.5h1.1m-0.1 2h1.1m-0.1 1.5h1.1m-0.6 -4.5h1.1m-0.6 2.5h1.1m-0.1 -2.5h1.1m-1.1 3h1.1m-0.1 0h1.1m0.4 1.5h1.1m-0.6 -1.5h1.1m-1.1 -0.5h1.1m-0.1 2h1.1m-0.1 -0.5h1.1m0.4 0.5h1.1m32.4 -0.5h1.1m2.4 0.5h1.1m0.4 -3h1.1m-0.6 1.5h1.1m-0.1 0.5h1.1m-0.6 -2h1.1m-1.1 -2h1.1m-0.6 1h1.1m-1.1 2h1.1m-0.6 0h1.1m-1.1 -1.5h1.1m-1.1 1.5h1.1m-0.6 2h1.1m-0.6 -4.5h1.1m-1.1 0.5h1.1m-0.1 -0.5h1.1m-1.1 3.5h1.1m-0.6 -2.5h1.1m-1.1 0.5h1.1m-0.6 -2h1.1m-0.6 1.5h1.1m1.4 0.5h1.1m-64.1 9h1.1m6.9 -5h1.1m-0.1 0h1.1m0.9 0h1.1m-0.1 0.5h1.1m-0.6 -0.5h1.1m-0.6 4.5h1.1m-1.1 -3h1.1m-0.1 -1h1.1m-1.1 0.5h1.1m-0.6 0h1.1m-1.1 -1.5h1.1m-0.6 0.5h1.1m-1.1 3h1.1m-0.6 -0.5h1.1m-1.1 1.5h1.1m-0.6 -4.5h1.1m0.9 5h1.1m-1.1 -2h1.1m-0.6 1h1.1m-1.1 -0.5h1.1m-1.1 2.5h1.1m-0.6 -4h1.1m0.4 3.5h1.1m-0.6 -1.5h1.1m-1.1 -2.5h1.1m-1.1 1.5h1.1m-0.6 0h1.1m-0.1 0.5h1.1m-0.1 -1h1.1m-0.6 2.5h1.1m-1.1 -2h1.1m-0.6 0h1.1m-1.1 1.5h1.1m-0.1 -0.5h1.1m-0.1 0h1.1m-1.1 0.5h1.1m-0.1 -0.5h1.1m-1.1 1.5h1.1m-0.6 0h1.1m0.9 0.5h1.1m0.9 -1.5h1.1m0.4 1h1.1m-0.6 0.5h1.1m-1.1 -1.5h1.1m-0.6 0h1.1m-1.1 -0.5h1.1m-0.1 0h1.1m-1.1 1h1.1m-1.1 -1.5h1.1m-1.1 2h1.1m-0.6 -0.5h1.1m-0.6 -1.5h1.1m-0.6 1h1.1m-1.1 1.5h1.1m0.4 -1h1.1m-0.6 -0.5h1.1m-0.1 -1.5h1.1m-0.1 -0.5h1.1m-0.6 1h1.1m-0.6 -1h1.1m-1.1 0h1.1m-1.1 -0.5h1.1m0.4 2h1.1m-0.6 -2.5h1.1m-0.6 0h1.1m-0.6 -0.5h1.1m-0.6 4.5h1.1m-0.1 -2h1.1m-1.1 -0.5h1.1m-0.6 1.5h1.1m-1.1 -0.5h1.1m-0.6 -0.5h1.1m0.4 -1.5h1.1m-0.6 2.5h1.1m-1.1 -4h1.1m-0.1 5.5h1.1m-0.1 -5h1.1m-0.6 -1h1.1m-1.1 0h1.1m0.4 1h1.1m1.4 0.5h1.1m0.4 0h1.1m4.4 3.5h1.1m-47.6 3.5h1.1m-0.6 -0.5h1.1m-0.6 -1h1.1m2.4 4h1.1m1.4 -3h1.1m-0.1 0h1.1m0.4 0h1.1m-1.1 -0.5h1.1m-0.1 0h1.1m-0.6 4h1.1m-1.1 -3h1.1m-0.6 0.5h1.1m-1.1 -1.5h1.1m0.4 3h1.1m0.4 1h1.1m-0.1 -4.5h1.1m0.4 0.5h1.1m-0.1 1.5h1.1m-0.6 1h1.1m-0.6 -3.5h1.1m-0.6 3.5h1.1m-0.6 -1.5h1.1m0.9 -1.5h1.1m-1.1 4h1.1m-0.1 -4.5h1.1m0.4 3h1.1m-1.1 2h1.1m-0.1 -5h1.1m1.4 0h1.1m0.4 0h1.1m5.4 2.5h1.1m-51.6 6h1.1m7.9 -2.5h1.1m3.4 0h1.1m-0.1 0.5h1.1m-0.1 4h1.1m2.9 -5h1.1m1.4 5h1.1m5.4 -3h1.1m1.9 4h1.1m0.4 -5h1.1m-1.1 2.5h1.1m-0.6 -1.5h1.1m-0.1 -2h1.1m-1.1 1h1.1m1.9 0h1.1m-0.1 -0.5h1.1m-0.6 0.5h1.1m8.4 0h1.1m0.4 2h1.1m-0.6 1.5h1.1m8.4 -2.5h1.1m-60.1 8h1.1m19.9 -2h1.1m3.9 0.5h1.1m-0.1 0h1.1m0.9 1h1.1m-1.1 -2.5h1.1m0.4 1.5h1.1m0.9 0h1.1m-1.1 -0.5h1.1m-0.6 -1.5h1.1m20.9 1.5h1.1m-45.1 5.5h1.1m2.4 4.5h1.1m-0.1 -1.5h1.1m2.4 -4.5h1.1m-0.6 1h1.1m7.9 5h1.1m1.4 -5.5h1.1m-1.1 5.5h1.1m1.4 -2h1.1m1.4 3.5h1.1" stroke="#111" stroke-width="1.1" fill="none"/>
<path d="M173.7,1536l-4.5,0.2l-5,-0.5l-5.5,-1.4l-5,-2.1l-4,-2.4l-3.1,-2.8l-1.8,-3l-0.6,-3l0.4,-2.5l1.1,-2.5l2.3,-3l5.7,-5.5l1.2,-2l0.4,-2.5l-1.2,-12.5l-0.2,-11.5l-0.3,-3.5l-1.3,-4l-4.3,-7.5l-1.6,-4l-0.7,-4.5l0.1,-2.5l0.5,-2l1.3,-3l1.6,-2.5l2.5,-2.7l3,-2.4l3.5,-2.1l4,-1.7l3.5,-1l4,-0.5l4,0.2l4.5,1.1l4.5,2l4,2.7l3.2,2.9l2.5,3.5l1.6,3.5l0.6,4l-0.2,3l-0.9,3.5l-4.6,9.5l-1.2,4l-0.4,3.5l-0.4,12.5l-1.2,12l0.2,2l0.9,2l6,6.5l2,3l1.1,3.5l-0.3,3l-1,2.5l-1.5,2l-2.2,2l-2.7,1.9l-3,1.5l-3.5,1.4l-4,1.1l-4,0.6zM173.2,1534l-4.5,0.1l-4.5,-0.5l-5,-1.2l-4,-1.7l-3,-1.8l-2.7,-2.4l-1.6,-2.5l-0.7,-3l0.4,-2.5l1.2,-2.5l2.2,-2.5l5.4,-4.5l1.4,-1.5l1.1,-2l0.3,-2l-1.5,-12.5l-0.1,-13l-0.3,-3.5l-1.5,-4l-4.5,-7l-1.7,-3.5l-0.8,-4l0.5,-4l0.9,-2.5l1.6,-2.5l1.9,-2.1l2.5,-2.1l2.5,-1.5l3.5,-1.6l3.5,-1l3.5,-0.4l4,0.2l4,0.8l4,1.7l3.5,2.2l2.5,2.3l2.3,3l1.3,3l0.6,3.5l-0.2,3l-0.9,3l-1.4,3l-4,6.5l-1.3,3.5l-0.4,3.5l-0.2,13.5l-1.5,12.5l0.2,2l1.1,2l6.5,6l2.4,3l1.1,3l0,3l-0.8,2l-1.4,2l-1.9,1.9l-2.5,1.7l-2.5,1.2l-3.5,1.3l-4,1l-3,0.4zM172.7,1532.5l-4,0.1l-4,-0.4l-4,-1l-4,-1.6l-3,-1.9l-2.3,-2.2l-1.2,-2l-0.6,-2.5l0.5,-2.5l1.4,-2.5l2.5,-2.5l7.1,-5.5l1.1,-1.5l0.6,-2l-0.1,-2l-1.4,-7l-0.6,-5l-0.2,-5l0.3,-8.5l-0.3,-3l-0.5,-2l-1,-2l-4.7,-6.5l-1.8,-3.5l-1,-4l0.4,-3.5l1,-2.5l1.3,-2l1.8,-2l2.2,-1.7l2.5,-1.4l2.5,-1.1l3,-0.8l3,-0.3l3.5,0.1l3.5,0.7l3.5,1.4l3,1.8l2.6,2.3l1.8,2.5l1.1,2.5l0.5,3l-0.3,3l-1,3l-1.6,3l-4.2,6l-1.4,3.5l-0.4,3.5l0.2,8.5l-0.2,5.5l-2.1,13l0.3,2l1.4,2l6.9,5.5l2.7,3l1.3,3l0.1,2.5l-0.7,2l-1,1.5l-2,2l-2,1.4l-2.5,1.3l-3,1.1l-3.5,0.8l-3,0.4zM174.7,1531l-4,0.4l-4,-0.2l-4,-0.7l-3.5,-1.2l-3,-1.6l-2.1,-1.7l-1.6,-2l-0.8,-2.5l0,-1.5l0.4,-1.5l2.1,-3l2.5,-2.2l8.8,-5.8l1.3,-1.5l0.4,-1.5l-0.3,-1.5l-2.2,-6l-1.1,-5.5l-0.3,-6l0.5,-9.5l-0.4,-3l-1.7,-3.5l-4.8,-6l-1.9,-3l-1.1,-3.5l0.1,-3.5l0.6,-2l1,-2l1.6,-1.9l1.9,-1.6l2.1,-1.3l2.5,-1.1l5,-1l3.5,0l3,0.6l3,1.1l2.5,1.4l2.5,2.1l1.7,2.2l1.1,2.5l0.4,2.5l-0.2,3l-1.2,3l-1.8,2.9l-4.4,5.6l-1.8,3.5l-0.4,3l0.5,9.5l-0.3,6l-1.1,5.5l-2.2,6l-0.3,1.5l0.4,1.5l1.3,1.5l8.3,5.6l3,2.6l1.8,2.8l0.4,1.5l0,1.5l-0.3,1.5l-0.8,1.5l-1.3,1.5l-1.8,1.5l-4.5,2.3l-5,1.2zM171.2,1496.6l-1.5,0.3l-1.2,-0.9l-1.3,-2.4l-0.7,-2.6l-0.3,-3l0,-3.3l1.3,-8.7l-0.1,-1.5l-0.4,-1.5l-1.9,-3l-5.4,-5.7l-2.1,-2.8l-1.5,-3l-0.5,-3l0.3,-2.5l0.8,-1.9l1.5,-2.1l1.5,-1.5l2,-1.3l2.5,-1.2l2.5,-0.7l3,-0.3l3,0.2l2.5,0.6l2.5,0.9l2.1,1.3l1.9,1.6l1.5,1.9l0.9,2l0.5,2.5l-0.3,3l-1.6,3.5l-2,2.7l-5.7,6.3l-1.8,3l-0.3,2.5l1.2,8l0,5l-0.9,4.5l-1,2.1l-1,1zM174.7,1530.1l-4.5,0.4l-4.5,-0.4l-4.5,-1.1l-3.5,-1.7l-2.8,-2.3l-1.4,-2.5l-0.2,-2.5l1,-2.5l2.2,-2.5l3.2,-2.2l5,-2.6l4,-1.4l2,-0.1l2.5,0.5l3.5,1.5l4,2.2l3,2.2l2.1,2.4l1,2.5l-0.2,2.5l-1.4,2.5l-2.5,2.1l-3.5,1.8l-4.5,1.2zM171.2,1468l-1.5,0.1l-2,-0.5l-2,-1.1l-2.5,-1.9l-2.2,-2.1l-1.5,-2l-1,-2l-0.5,-2l0,-2l0.3,-1.5l0.7,-1.5l1.2,-1.6l3.2,-2.4l2.3,-1l2,-0.4l2.5,-0.2l2.5,0.2l2.5,0.7l2,0.9l1.9,1.3l1.4,1.5l1.2,2l0.5,2l0.1,1.5l-0.4,2l-0.9,2l-1.3,2l-2,2.1l-2.5,2l-2,1.2l-2,0.7zM173.7,1529.1l-4,0.2l-4,-0.4l-3.5,-0.9l-3.1,-1.5l-2.4,-2l-1.2,-2l-0.2,-2.5l0.8,-2l1.7,-2l2.9,-2.1l3.5,-1.7l4,-1.1l2.5,-0.2l3,0.5l3.5,1.3l3,1.6l2.7,2.2l1.4,2l0.6,2.5l-0.5,2l-1.5,2l-2.2,1.7l-3.5,1.5l-3.5,0.9zM170.7,1463.5l-3,-0.3l-2.9,-1.7l-2.3,-2.5l-0.9,-2.5l0.1,-2.5l1.5,-2.5l2.5,-1.8l3,-0.9l3.5,0.1l3,1.2l1.3,0.9l1.2,1.4l1,2.6l-0.1,1.5l-0.4,1.5l-1.6,2.5l-2.9,2.2l-3,0.8zM172.7,1527.5l-3,0.2l-3,-0.3l-3,-0.7l-2.5,-1.2l-1.8,-1.5l-1.2,-2l-0.1,-2l0.6,-1.5l1.5,-1.7l2.5,-1.7l2.5,-1.1l3,-0.7l2.5,-0.1l3,0.4l2.5,0.9l2.5,1.3l2,1.7l1,1.5l0.4,2l-0.4,1.5l-1.5,2l-2,1.4l-2.5,1l-3,0.6zM171.2,1459l-1.5,0.2l-1.5,-0.5l-1.1,-0.7l-0.7,-1l-0.3,-1l0.1,-1.1l0.5,-1l1.1,-0.9l1.5,-0.5l1.9,0.1l1.5,0.6l1.1,1.3l0.3,1.5l-0.4,1.2l-1,1.1l-1.5,0.7zM171.7,1526l-2.5,0.1l-2.5,-0.4l-2.3,-0.7l-1.7,-1l-1.1,-1l-0.7,-1.5l0,-1.5l0.8,-1.5l1,-1l2,-1.2l2,-0.8l2.5,-0.4l2.5,0.1l2,0.4l2,0.8l1.5,0.9l1.2,1.2l0.8,1.5l0,1.5l-0.4,1l-1.1,1.2l-1.5,1l-2,0.8l-2.5,0.5z" stroke="#111" stroke-width="1.7" fill="none" stroke-linejoin="round"/>
<path d="M398 1368h1.1m-20.1 19.5h1.1m14.4 5.5h1.1m2.9 -1.5h1.1m8.9 2h1.1m0.9 -2.5h1.1m23.4 -1h1.1m25.4 4.5h1.1m-0.1 -1h1.1m-0.6 0h1.1m-88.1 3.5h1.1m15.4 2h1.1m-0.1 -2h1.1m12.9 1.5h1.1m-37.6 8.5h1.1m15.4 -5h1.1m1.4 3.5h1.1m-1.1 1h1.1m4.4 0.5h1.1m-0.6 0h1.1m-0.1 -2.5h1.1m-0.6 0.5h1.1m1.9 0h1.1m3.4 0h1.1m0.9 2h1.1m9.9 0h1.1m79.4 -1h1.1m-114.6 5h1.1m-0.6 0.5h1.1m-1.1 0.5h1.1m-0.6 -4h1.1m-1.1 3.5h1.1m-0.6 -0.5h1.1m2.4 -2h1.1m-0.1 0h1.1m0.9 2h1.1m1.9 -1.5h1.1m0.9 0.5h1.1m1.4 1h1.1m0.4 -3h1.1m2.9 2h1.1m4.4 -1h1.1m36.4 1.5h1.1m12.9 0.5h1.1m15.4 -2h1.1m4.9 -1h1.1m19.9 -0.5h1.1m-125.6 11h1.1m0.4 -3.5h1.1m-1.1 3h1.1m1.9 -5h1.1m1.9 3h1.1m0.4 0h1.1m-0.1 -1h1.1m1.4 2.5h1.1m-0.6 0.5h1.1m-0.6 -0.5h1.1m-1.1 -2h1.1m-0.1 3.5h1.1m-0.1 -5.5h1.1m-0.6 2.5h1.1m-0.6 1.5h1.1m-1.1 1.5h1.1m-0.1 -1h1.1m-1.1 -5h1.1m-0.1 1.5h1.1m-1.1 2.5h1.1m-0.1 2h1.1m-0.1 -2h1.1m-0.1 1.5h1.1m0.9 -5.5h1.1m-0.6 3.5h1.1m-1.1 2h1.1m0.4 -3h1.1m39.4 0h1.1m2.4 1h1.1m1.4 -3h1.1m0.9 3h1.1m9.4 -2.5h1.1m-0.6 5h1.1m-89.1 5.5h1.1m-0.1 -4h1.1m3.9 -1h1.1m-0.6 0h1.1m1.4 5h1.1m-1.1 -1.5h1.1m-1.1 0h1.1m0.4 0.5h1.1m-1.1 -3h1.1m-1.1 2.5h1.1m0.4 -1.5h1.1m-0.6 1h1.1m-1.1 -1h1.1m-0.6 -1h1.1m-0.1 1h1.1m-0.6 -1.5h1.1m-0.1 3.5h1.1m0.9 1h1.1m-0.6 0h1.1m0.4 -2.5h1.1m-1.1 1.5h1.1m-1.1 1h1.1m-0.1 -2h1.1m-1.1 -3h1.1m-0.1 1h1.1m0.4 0.5h1.1m-0.6 -1.5h1.1m-0.6 1.5h1.1m0.9 -1h1.1m-0.6 3.5h1.1m-1.1 -2.5h1.1m-0.6 0h1.1m-0.6 0h1.1m-1.1 3.5h1.1m2.4 0h1.1m-0.1 -1h1.1m-0.1 -0.5h1.1m1.9 -3h1.1m0.9 1.5h1.1m3.4 1.5h1.1m12.9 1h1.1m21.4 -0.5h1.1m1.4 -2h1.1m0.4 1.5h1.1m4.9 -1h1.1m-1.1 2.5h1.1m8.9 -3h1.1m1.4 1.5h1.1m2.4 -2h1.1m-111.6 5.5h1.1m3.4 -1h1.1m2.4 2.5h1.1m-1.1 1.5h1.1m0.9 1.5h1.1m-0.1 -4h1.1m-0.6 1h1.1m-1.1 1h1.1m-0.6 -3h1.1m-1.1 -0.5h1.1m-0.6 2h1.1m-0.6 0h1.1m-0.6 3.5h1.1m-1.1 -2h1.1m-1.1 1.5h1.1m-0.6 -1.5h1.1m-1.1 -2.5h1.1m-1.1 -1h1.1m-0.6 5h1.1m-0.6 -1.5h1.1m-1.1 -2h1.1m-0.6 0h1.1m-1.1 -1.5h1.1m-1.1 5h1.1m-0.6 0.5h1.1m-1.1 -4.5h1.1m-0.6 3.5h1.1m-0.6 -4h1.1m-0.6 -0.5h1.1m-0.6 0h1.1m-1.1 0.5h1.1m-1.1 -1h1.1m-0.1 1h1.1m-1.1 1h1.1m-1.1 1h1.1m-0.1 -3h1.1m-0.6 0.5h1.1m-0.6 1h1.1m-1.1 -1.5h1.1m0.4 0.5h1.1m-0.1 1.5h1.1m-0.6 -0.5h1.1m-1.1 0h1.1m-0.6 0.5h1.1m-1.1 -0.5h1.1m-0.6 -1.5h1.1m-0.1 1h1.1m-1.1 0h1.1m-1.1 -0.5h1.1m-0.6 2.5h1.1m-0.6 0h1.1m-0.6 0.5h1.1m-1.1 -2h1.1m-0.6 2.5h1.1m-0.1 -0.5h1.1m-0.6 -1h1.1m-1.1 1.5h1.1m-1.1 -2h1.1m-0.6 4h1.1m-1.1 -6h1.1m-1.1 4.5h1.1m-0.6 -3.5h1.1m-1.1 5h1.1m-1.1 -1.5h1.1m-0.6 -1.5h1.1m-1.1 0.5h1.1m-0.6 2.5h1.1m-1.1 -6h1.1m-0.6 0h1.1m-1.1 3h1.1m-1.1 1.5h1.1m-0.6 -4.5h1.1m-0.6 5h1.1m0.4 -2.5h1.1m-1.1 -2h1.1m0.4 0h1.1m-0.1 3h1.1m-0.6 -3.5h1.1m-1.1 5.5h1.1m0.4 -0.5h1.1m-0.1 -1.5h1.1m13.4 -1.5h1.1m14.9 2.5h1.1m0.4 -0.5h1.1m4.4 -0.5h1.1m6.9 0h1.1m0.9 0h1.1m2.4 -2h1.1m9.9 -0.5h1.1m1.9 0h1.1m1.9 -1h1.1m-0.1 1h1.1m2.4 2h1.1m7.4 0h1.1m8.9 -0.5h1.1m-132.1 7h1.1m-0.1 0h1.1m1.4 -0.5h1.1m-0.1 0h1.1m-0.1 -2.5h1.1m-1.1 2h1.1m-0.6 -1h1.1m1.9 3.5h1.1m-0.6 -4.5h1.1m-0.6 1.5h1.1m-1.1 3.5h1.1m-0.6 0h1.1m-1.1 0h1.1m-0.1 -1h1.1m-1.1 1h1.1m-1.1 0h1.1m-0.1 -1h1.1m-0.6 -1h1.1m-0.6 -1h1.1m-1.1 0h1.1m-0.1 0h1.1m-0.6 -1h1.1m-1.1 -1h1.1m14.4 0h1.1m-1.1 0.5h1.1m-0.6 0.5h1.1m-0.6 -0.5h1.1m-0.6 3h1.1m-0.6 0h1.1m-1.1 0h1.1m-0.6 1h1.1m-1.1 0.5h1.1m-1.1 -2h1.1m-1.1 -1.5h1.1m-0.6 3.5h1.1m-1.1 -3h1.1m-1.1 3h1.1m-0.6 -4.5h1.1m-1.1 4h1.1m-1.1 -2h1.1m-1.1 1.5h1.1m-0.6 -1.5h1.1m-1.1 2.5h1.1m-0.1 -4h1.1m-1.1 1h1.1m-0.6 2.5h1.1m-0.6 -1.5h1.1m-0.1 -0.5h1.1m-0.6 -1.5h1.1m-0.6 1h1.1m-1.1 -0.5h1.1m-0.6 1h1.1m2.9 2h1.1m-0.1 -3.5h1.1m2.9 2.5h1.1m3.9 -3h1.1m15.4 3.5h1.1m0.9 0.5h1.1m6.4 -2.5h1.1m-0.1 3h1.1m0.9 -5h1.1m1.9 3h1.1m8.9 0.5h1.1m0.4 0h1.1m4.9 -3h1.1m-1.1 1.5h1.1m-1.1 -2h1.1m0.4 2.5h1.1m7.4 -1h1.1m-0.6 0h1.1m-114.6 4.5h1.1m0.9 3h1.1m0.4 2.5h1.1m-0.1 -4h1.1m0.9 0.5h1.1m-1.1 0h1.1m-0.1 1.5h1.1m-1.1 1.5h1.1m-0.1 -5.5h1.1m-0.6 5.5h1.1m-0.6 0.5h1.1m-1.1 -1h1.1m-0.6 -3h1.1m-0.6 0h1.1m-1.1 1.5h1.1m-1.1 -1.5h1.1m-1.1 3h1.1m-0.6 -2h1.1m-1.1 -0.5h1.1m-0.1 -1h1.1m-1.1 0h1.1m-0.6 -1.5h1.1m-0.6 0h1.1m-1.1 0h1.1m19.9 0h1.1m-0.6 1.5h1.1m-0.1 -1h1.1m-0.6 4h1.1m-1.1 -4h1.1m-0.6 2.5h1.1m-1.1 2.5h1.1m-1.1 0h1.1m-1.1 -1h1.1m-0.6 -4h1.1m-1.1 5.5h1.1m-1.1 -4.5h1.1m-0.6 4.5h1.1m-1.1 -2h1.1m-0.6 -2h1.1m-0.1 4h1.1m0.9 -2h1.1m-0.6 -2h1.1m-1.1 -2h1.1m-1.1 6h1.1m-0.1 -5h1.1m-0.6 -1h1.1m-0.6 1.5h1.1m7.4 1.5h1.1m10.9 0h1.1m1.4 2h1.1m6.9 -4.5h1.1m2.4 1.5h1.1m-0.1 1.5h1.1m-0.6 -2.5h1.1m2.4 2.5h1.1m0.9 -3.5h1.1m0.4 6h1.1m0.9 -4.5h1.1m4.4 1h1.1m9.4 0h1.1m11.9 0h1.1m-0.6 0.5h1.1m-1.1 1.5h1.1m-116.6 3.5h1.1m-0.6 2.5h1.1m-0.6 -2h1.1m-0.1 0h1.1m-0.6 2h1.1m-0.1 -1.5h1.1m-1.1 0h1.1m-0.6 -0.5h1.1m-0.6 -2h1.1m-1.1 3.5h1.1m-1.1 -2h1.1m-1.1 0.5h1.1m-0.6 -2h1.1m-1.1 2.5h1.1m-0.6 -2h1.1m-1.1 4.5h1.1m-1.1 -3h1.1m-0.6 3h1.1m-1.1 0h1.1m-1.1 -3.5h1.1m-0.6 1h1.1m-1.1 -2.5h1.1m-1.1 1h1.1m-1.1 2h1.1m-0.1 -2.5h1.1m-1.1 0h1.1m25.4 0.5h1.1m-0.1 1.5h1.1m-0.6 2h1.1m-1.1 -3.5h1.1m-0.6 1.5h1.1m-1.1 -2.5h1.1m-1.1 2h1.1m-1.1 2h1.1m-1.1 -3h1.1m-0.1 0h1.1m-1.1 0h1.1m-0.1 -0.5h1.1m-0.1 -0.5h1.1m-0.1 5h1.1m-0.6 0h1.1m-1.1 -1h1.1m-0.6 -4h1.1m1.9 2.5h1.1m-1.1 1h1.1m15.4 -1.5h1.1m10.4 -1h1.1m-0.6 -1h1.1m-0.6 2h1.1m-0.1 3h1.1m0.4 -4.5h1.1m-1.1 0h1.1m1.4 3h1.1m1.4 -0.5h1.1m-0.1 -3h1.1m1.9 5h1.1m-0.1 -2h1.1m-1.1 -2.5h1.1m0.9 4.5h1.1m0.9 -0.5h1.1m-1.1 -3h1.1m2.4 -1h1.1m-0.6 2h1.1m-0.6 1h1.1m4.4 -2.5h1.1m-0.6 1.5h1.1m1.9 -0.5h1.1m-0.6 2h1.1m0.4 -2.5h1.1m6.4 3.5h1.1m5.9 -5h1.1m-131.1 7h1.1m2.4 0h1.1m1.4 0.5h1.1m-0.1 -2h1.1m1.4 2h1.1m-0.6 -1h1.1m-0.6 5h1.1m-0.1 -4.5h1.1m-1.1 4h1.1m0.4 -0.5h1.1m-1.1 0.5h1.1m-0.6 0.5h1.1m-0.6 -5h1.1m-1.1 0.5h1.1m-0.6 4h1.1m-0.6 -1.5h1.1m-0.6 -1.5h1.1m-1.1 -1h1.1m-1.1 4h1.1m-1.1 -4.5h1.1m29.4 -1h1.1m-0.1 5.5h1.1m-0.6 0h1.1m-1.1 -1.5h1.1m-0.6 2h1.1m-1.1 -6h1.1m-0.6 2.5h1.1m-0.6 1h1.1m-1.1 -1h1.1m-0.6 -2.5h1.1m-0.1 3h1.1m-1.1 3h1.1m0.4 -3h1.1m-1.1 -0.5h1.1m-1.1 2.5h1.1m-0.1 -1.5h1.1m-1.1 -3.5h1.1m-0.1 1.5h1.1m2.9 1h1.1m9.4 1h1.1m5.4 0.5h1.1m-0.1 -3h1.1m-1.1 0.5h1.1m3.9 0.5h1.1m-0.1 2h1.1m0.4 -4h1.1m-0.6 6h1.1m-0.1 -0.5h1.1m0.9 0.5h1.1m-1.1 -4.5h1.1m-0.1 3h1.1m0.4 -0.5h1.1m-0.6 -0.5h1.1m-1.1 1h1.1m-0.6 -1.5h1.1m-0.1 0.5h1.1m2.4 0h1.1m-0.6 -1.5h1.1m-0.6 0h1.1m-0.1 0.5h1.1m-0.1 1.5h1.1m1.9 -3.5h1.1m-0.6 2h1.1m-0.1 0.5h1.1m-0.6 0.5h1.1m0.9 -3.5h1.1m7.4 3.5h1.1m2.9 -3.5h1.1m-1.1 4.5h1.1m0.4 0.5h1.1m-0.6 -3.5h1.1m4.9 3h1.1m-122.1 2h1.1m5.4 3.5h1.1m-0.6 -2.5h1.1m-0.6 2h1.1m-0.6 1.5h1.1m-0.6 -4.5h1.1m-1.1 3.5h1.1m-0.6 -0.5h1.1m-0.6 -0.5h1.1m-0.1 -1h1.1m-1.1 2.5h1.1m-1.1 -1.5h1.1m-1.1 0h1.1m30.9 0h1.1m-1.1 -1.5h1.1m-0.6 3h1.1m-0.6 -2h1.1m-1.1 2h1.1m-0.1 -2.5h1.1m-1.1 -0.5h1.1m-0.6 3.5h1.1m-1.1 -2.5h1.1m-1.1 -1.5h1.1m-0.1 1.5h1.1m-1.1 0h1.1m-0.1 -2h1.1m-0.6 2.5h1.1m0.4 2.5h1.1m-0.1 0h1.1m2.4 -1.5h1.1m1.4 0.5h1.1m3.4 -2h1.1m1.4 -1.5h1.1m-1.1 4.5h1.1m-0.6 -4.5h1.1m2.9 3.5h1.1m1.9 -1h1.1m2.4 1h1.1m-0.1 -4h1.1m4.4 3h1.1m-0.6 0h1.1m2.4 0.5h1.1m-1.1 -1.5h1.1m-0.1 -1.5h1.1m-0.6 0h1.1m3.4 1.5h1.1m-0.6 1.5h1.1m-0.6 0h1.1m-0.6 -2h1.1m-0.6 2.5h1.1m0.9 -4h1.1m-1.1 3.5h1.1m-1.1 0h1.1m-1.1 -2h1.1m-0.1 0.5h1.1m-0.1 1h1.1m-0.6 0.5h1.1m-1.1 1h1.1m0.4 -1h1.1m2.4 0.5h1.1m4.9 0.5h1.1m-0.6 -0.5h1.1m-0.1 -2h1.1m-0.1 0h1.1m-0.6 2h1.1m-1.1 -1.5h1.1m11.4 -2.5h1.1m-124.6 6.5h1.1m2.9 3.5h1.1m-0.1 -1h1.1m-0.6 -2h1.1m0.4 1.5h1.1m-0.6 3h1.1m-0.6 -1h1.1m-0.6 -2h1.1m-1.1 0h1.1m-1.1 1h1.1m-0.6 -1.5h1.1m-1.1 0.5h1.1m-0.6 -1.5h1.1m-1.1 1h1.1m-0.6 0h1.1m-0.6 1h1.1m-1.1 1.5h1.1m31.9 -2h1.1m-0.1 1h1.1m-0.6 0h1.1m-0.6 0.5h1.1m1.4 1h1.1m11.9 -2h1.1m1.9 -2.5h1.1m3.9 5h1.1m4.4 -0.5h1.1m-0.6 -2h1.1m-0.6 -0.5h1.1m1.9 2.5h1.1m-0.1 0.5h1.1m3.9 -3h1.1m1.9 1.5h1.1m1.4 -4.5h1.1m1.9 0.5h1.1m0.4 1.5h1.1m1.9 -1.5h1.1m0.4 -0.5h1.1m2.4 1h1.1m-1.1 1h1.1m2.4 1h1.1m3.4 -3h1.1m4.4 5.5h1.1m7.9 -4.5h1.1m0.4 3h1.1m-126.6 7.5h1.1m0.4 -5h1.1m-1.1 3.5h1.1m0.4 -1h1.1m0.9 -0.5h1.1m-0.6 0h1.1m0.4 0.5h1.1m-0.6 1h1.1m-1.1 -3h1.1m0.4 -0.5h1.1m-1.1 0.5h1.1m-1.1 2.5h1.1m-0.6 0h1.1m31.4 -1h1.1m-0.6 -1h1.1m-0.1 2h1.1m-1.1 -0.5h1.1m-1.1 2.5h1.1m-0.6 0h1.1m-0.6 -1.5h1.1m-0.1 -0.5h1.1m1.4 1h1.1m-0.1 -2.5h1.1m-0.1 1.5h1.1m-0.6 -2.5h1.1m-0.6 2.5h1.1m14.4 0.5h1.1m-0.6 0h1.1m0.9 0h1.1m0.9 0.5h1.1m6.4 -1.5h1.1m0.4 -2.5h1.1m-1.1 3.5h1.1m-1.1 -0.5h1.1m0.4 -1h1.1m-0.6 2.5h1.1m-1.1 -4.5h1.1m1.9 1.5h1.1m-0.6 1.5h1.1m0.4 -2.5h1.1m-0.6 3.5h1.1m-0.1 -1.5h1.1m-1.1 1h1.1m-0.6 1h1.1m0.4 -1h1.1m0.9 -2.5h1.1m-0.6 0.5h1.1m0.4 1.5h1.1m0.4 -1.5h1.1m-1.1 1.5h1.1m2.4 -0.5h1.1m0.9 1h1.1m0.4 0h1.1m-1.1 -1.5h1.1m4.4 2h1.1m1.4 -2.5h1.1m7.4 2.5h1.1m9.9 1h1.1m2.4 -0.5h1.1m-136.6 1h1.1m0.9 5h1.1m0.9 -1.5h1.1m-1.1 -3h1.1m-1.1 0h1.1m0.9 3h1.1m-0.1 2h1.1m-0.6 -3.5h1.1m-0.6 2h1.1m-0.6 -3.5h1.1m-0.6 1h1.1m-0.6 2h1.1m-0.6 -1h1.1m-0.6 -1.5h1.1m-1.1 2h1.1m-1.1 0.5h1.1m-0.6 -1.5h1.1m-1.1 -2h1.1m-0.6 0h1.1m29.9 6h1.1m-0.6 -5h1.1m-0.6 3h1.1m-0.6 -3.5h1.1m-1.1 2.5h1.1m-1.1 0.5h1.1m-0.6 -1.5h1.1m0.4 1.5h1.1m-1.1 -1h1.1m-0.6 3.5h1.1m-0.1 -2h1.1m-1.1 0h1.1m0.4 1.5h1.1m-0.1 0.5h1.1m-1.1 -3h1.1m-0.1 1.5h1.1m7.9 1.5h1.1m6.4 -4.5h1.1m0.4 3h1.1m-0.1 -4.5h1.1m1.4 1h1.1m-1.1 2.5h1.1m-1.1 -1h1.1m3.9 0.5h1.1m0.9 1h1.1m1.9 -1h1.1m-1.1 -2.5h1.1m-0.6 1.5h1.1m-0.6 0h1.1m-0.6 1h1.1m-0.1 -1.5h1.1m-1.1 4h1.1m-0.1 -2.5h1.1m0.4 -2.5h1.1m-0.6 5.5h1.1m-1.1 -1h1.1m-1.1 -1h1.1m-0.6 1.5h1.1m-0.6 -4.5h1.1m-0.1 2.5h1.1m0.9 2.5h1.1m-1.1 -0.5h1.1m-0.1 0.5h1.1m-1.1 0h1.1m-0.1 -0.5h1.1m-0.1 -3.5h1.1m7.4 -1.5h1.1m-1.1 -0.5h1.1m-1.1 4.5h1.1m0.4 0.5h1.1m-0.1 -0.5h1.1m0.9 -0.5h1.1m-0.6 -0.5h1.1m1.9 0.5h1.1m-1.1 -3h1.1m-0.1 4h1.1m2.9 -3.5h1.1m5.4 -0.5h1.1m9.9 1h1.1m-0.1 1.5h1.1m-134.1 6h1.1m-0.6 -2.5h1.1m-1.1 4.5h1.1m0.4 -5h1.1m-1.1 4h1.1m0.4 -1.5h1.1m-0.6 0h1.1m0.4 0.5h1.1m-1.1 -0.5h1.1m-0.1 -1.5h1.1m-0.1 0.5h1.1m-0.6 0.5h1.1m-0.6 -1h1.1m-1.1 2h1.1m-0.6 -2.5h1.1m-0.6 2.5h1.1m-0.6 -2.5h1.1m-1.1 1.5h1.1m-0.6 2.5h1.1m-0.6 -1h1.1m28.4 -1.5h1.1m-1.1 2h1.1m-1.1 -0.5h1.1m-0.6 0h1.1m-0.6 0h1.1m-1.1 -1.5h1.1m-0.1 -0.5h1.1m-0.1 2.5h1.1m-1.1 -3.5h1.1m0.4 1h1.1m-0.1 -1h1.1m-1.1 -0.5h1.1m0.4 4h1.1m1.4 0h1.1m2.4 -3h1.1m-0.1 2h1.1m14.4 1h1.1m4.4 0.5h1.1m-0.6 0h1.1m1.4 -3h1.1m-0.6 3.5h1.1m-1.1 0h1.1m-1.1 -3.5h1.1m0.4 -1h1.1m0.4 4h1.1m-0.6 -1h1.1m2.9 -2.5h1.1m0.9 0.5h1.1m-1.1 -1.5h1.1m-0.6 2.5h1.1m1.4 -0.5h1.1m-1.1 -1h1.1m-1.1 4h1.1m0.9 -2.5h1.1m-0.1 -0.5h1.1m1.4 1.5h1.1m-0.6 1h1.1m0.9 -2.5h1.1m2.4 0.5h1.1m-0.6 0.5h1.1m0.4 1h1.1m2.9 -2.5h1.1m0.9 3h1.1m-114.6 1h1.1m-0.1 5h1.1m-0.6 -1h1.1m0.9 2h1.1m0.9 -6h1.1m-0.6 6h1.1m-0.1 -4h1.1m-0.6 1h1.1m-1.1 1h1.1m-1.1 0.5h1.1m1.9 0h1.1m-0.6 -4.5h1.1m-1.1 1h1.1m-0.6 3h1.1m-1.1 -1h1.1m0.4 -0.5h1.1m-1.1 -1h1.1m-0.6 1h1.1m-1.1 -2h1.1m-1.1 3.5h1.1m-0.6 -2.5h1.1m-1.1 4h1.1m-0.6 -0.5h1.1m25.9 -1.5h1.1m-1.1 -1.5h1.1m-1.1 0.5h1.1m-1.1 1.5h1.1m-1.1 0.5h1.1m-1.1 -2h1.1m-0.6 3h1.1m-0.6 -5.5h1.1m-1.1 0h1.1m-0.6 2.5h1.1m-1.1 0h1.1m-1.1 1.5h1.1m-0.6 1.5h1.1m-1.1 0h1.1m-0.1 -4.5h1.1m-0.1 0.5h1.1m-1.1 1h1.1m-0.6 -2h1.1m-0.1 3.5h1.1m-1.1 -0.5h1.1m0.4 2h1.1m-0.6 -0.5h1.1m-0.6 -0.5h1.1m-0.6 -4.5h1.1m-1.1 1.5h1.1m-0.6 2.5h1.1m-0.6 -2h1.1m-0.1 3h1.1m-1.1 -2.5h1.1m4.9 1.5h1.1m4.4 -2h1.1m3.9 0.5h1.1m0.9 -2.5h1.1m1.9 1h1.1m0.9 3h1.1m1.9 -1h1.1m-1.1 -2.5h1.1m1.9 5h1.1m-0.6 -2h1.1m1.4 -2h1.1m1.9 0.5h1.1m0.4 1.5h1.1m-0.6 1h1.1m-0.1 -4h1.1m-0.1 -0.5h1.1m-1.1 1.5h1.1m0.9 -1h1.1m-0.6 1.5h1.1m-1.1 4h1.1m0.4 -2h1.1m-0.1 -4h1.1m-1.1 5.5h1.1m1.4 -4.5h1.1m3.4 0h1.1m-0.6 4h1.1m0.4 -1h1.1m-1.1 -0.5h1.1m4.4 1h1.1m3.4 1.5h1.1m-0.1 -3h1.1m3.4 1.5h1.1m10.9 -3.5h1.1m2.4 4.5h1.1m-140.6 3.5h1.1m5.4 -1.5h1.1m1.9 2h1.1m-0.1 1.5h1.1m-1.1 -2h1.1m-0.1 2.5h1.1m-0.6 -0.5h1.1m-0.6 -3.5h1.1m-0.1 3.5h1.1m-0.1 0h1.1m-0.6 -3.5h1.1m-0.1 2h1.1m0.9 1.5h1.1m-1.1 0.5h1.1m-1.1 -3h1.1m-0.6 1h1.1m-1.1 0.5h1.1m23.4 1.5h1.1m-0.6 -1.5h1.1m-0.1 -3h1.1m-1.1 2h1.1m-1.1 2h1.1m-0.6 -2h1.1m-0.6 -2h1.1m-0.1 4.5h1.1m1.4 -1.5h1.1m-0.1 1h1.1m-0.1 -3.5h1.1m-1.1 3h1.1m-0.6 -0.5h1.1m-1.1 -2.5h1.1m-0.1 0.5h1.1m-0.6 1.5h1.1m-1.1 0.5h1.1m21.4 0h1.1m-0.1 -1.5h1.1m1.9 -0.5h1.1m3.9 -1h1.1m-0.1 0.5h1.1m2.4 1h1.1m-0.6 1h1.1m0.9 -1.5h1.1m0.4 -0.5h1.1m-0.6 2.5h1.1m1.9 -2.5h1.1m-1.1 1.5h1.1m-0.6 2.5h1.1m2.4 -0.5h1.1m0.4 -3h1.1m-1.1 1.5h1.1m-1.1 -1.5h1.1m-0.6 -1h1.1m-0.1 -0.5h1.1m0.4 1h1.1m-0.1 -1h1.1m0.9 2.5h1.1m-1.1 0h1.1m0.4 -0.5h1.1m-0.1 1h1.1m9.9 0.5h1.1m3.9 -2.5h1.1m12.4 -0.5h1.1m-132.1 9.5h1.1m0.4 -3h1.1m-0.6 1.5h1.1m0.4 2.5h1.1m0.4 -1h1.1m-1.1 -3.5h1.1m-0.6 4h1.1m-0.6 0.5h1.1m-1.1 -1h1.1m-0.6 -4.5h1.1m-1.1 0.5h1.1m-1.1 -0.5h1.1m-0.6 2h1.1m-1.1 2.5h1.1m-0.1 -4h1.1m-1.1 5.5h1.1m-1.1 -4.5h1.1m-0.1 -1h1.1m-0.6 1.5h1.1m-1.1 -1h1.1m-0.6 0.5h1.1m-1.1 3h1.1m-1.1 0h1.1m-1.1 -4.5h1.1m-0.6 5.5h1.1m22.4 -2h1.1m-1.1 2.5h1.1m-1.1 -4.5h1.1m-0.6 0.5h1.1m-0.6 -1.5h1.1m-0.6 3.5h1.1m-1.1 -3h1.1m-0.1 -0.5h1.1m-0.6 3h1.1m-0.1 2h1.1m-0.1 -5.5h1.1m-1.1 4.5h1.1m-1.1 0.5h1.1m-0.6 -4h1.1m-1.1 3.5h1.1m-0.6 -1h1.1m-1.1 -3h1.1m-0.6 -0.5h1.1m0.4 0.5h1.1m-0.6 2h1.1m2.9 -0.5h1.1m3.4 3.5h1.1m1.9 0h1.1m10.9 -2.5h1.1m0.4 0.5h1.1m1.4 2.5h1.1m3.9 -3h1.1m2.4 -0.5h1.1m-0.6 0.5h1.1m-1.1 -1h1.1m2.9 -1h1.1m1.4 4h1.1m-1.1 0.5h1.1m-0.1 -2.5h1.1m3.9 1.5h1.1m-0.6 -4h1.1m-1.1 3h1.1m1.4 0h1.1m0.4 -3.5h1.1m0.4 2.5h1.1m-0.1 1h1.1m-0.6 -3h1.1m-0.1 1h1.1m-0.6 0h1.1m-0.1 1h1.1m3.4 3h1.1m-108.6 4.5h1.1m-0.1 -2h1.1m-0.6 -1h1.1m0.4 3.5h1.1m-0.1 -4h1.1m0.9 3.5h1.1m-0.1 1h1.1m-0.6 -4.5h1.1m-0.1 4.5h1.1m-1.1 0.5h1.1m-1.1 0h1.1m-1.1 -0.5h1.1m-0.6 -1h1.1m-0.6 -1.5h1.1m-1.1 0.5h1.1m-1.1 -1.5h1.1m-1.1 2.5h1.1m-1.1 0h1.1m-0.6 0.5h1.1m-1.1 0.5h1.1m-1.1 -2.5h1.1m-0.6 1.5h1.1m-0.6 -3.5h1.1m-1.1 1.5h1.1m-1.1 1.5h1.1m-1.1 -2h1.1m22.9 1h1.1m-1.1 -0.5h1.1m-1.1 2h1.1m-0.6 -2.5h1.1m-0.6 4h1.1m-0.6 -2h1.1m-1.1 -2.5h1.1m-0.6 4.5h1.1m-1.1 -1.5h1.1m-0.1 0h1.1m-0.1 -3.5h1.1m-0.6 2.5h1.1m-0.1 0h1.1m-0.6 0h1.1m-1.1 1h1.1m-0.1 1.5h1.1m-0.6 -3.5h1.1m-0.6 -0.5h1.1m-0.6 1.5h1.1m0.9 2h1.1m-0.6 -1h1.1m0.9 -1.5h1.1m8.9 0h1.1m-1.1 0h1.1m8.9 1.5h1.1m3.4 -1h1.1m1.4 0.5h1.1m4.4 -3h1.1m-0.6 0h1.1m1.9 3.5h1.1m-0.1 -3.5h1.1m0.4 3.5h1.1m5.4 -2.5h1.1m-1.1 1.5h1.1m-0.6 0.5h1.1m1.4 0h1.1m0.9 -2h1.1m0.9 0h1.1m1.9 0h1.1m-0.1 1h1.1m-0.1 1.5h1.1m2.9 -1h1.1m2.4 0h1.1m-0.6 2.5h1.1m0.4 -1.5h1.1m-120.6 5.5h1.1m-0.6 -1h1.1m0.4 -2h1.1m-0.1 5h1.1m-0.1 -0.5h1.1m1.9 -3.5h1.1m-1.1 2h1.1m-1.1 -1h1.1m-0.1 2h1.1m-1.1 1h1.1m-0.6 -3h1.1m-1.1 1.5h1.1m-1.1 -1h1.1m-0.6 -1h1.1m-1.1 1h1.1m-1.1 -1.5h1.1m-1.1 1.5h1.1m-0.6 -1h1.1m-0.6 2.5h1.1m-0.6 -1h1.1m-1.1 -2h1.1m-1.1 2.5h1.1m-0.6 -2h1.1m-1.1 1h1.1m-0.6 -0.5h1.1m-0.6 -2.5h1.1m-0.6 0.5h1.1m27.9 0h1.1m0.9 1h1.1m-0.1 -1.5h1.1m-0.1 4h1.1m-0.6 0h1.1m-1.1 1h1.1m-1.1 -0.5h1.1m-1.1 -2h1.1m-0.6 -2.5h1.1m2.9 5.5h1.1m0.4 -4h1.1m4.9 1.5h1.1m-0.1 -3h1.1m4.4 5.5h1.1m4.9 -4.5h1.1m4.4 4h1.1m0.9 -2.5h1.1m0.4 0h1.1m-1.1 -0.5h1.1m0.4 1.5h1.1m-0.6 -3.5h1.1m0.4 5.5h1.1m0.4 -3h1.1m-0.6 1h1.1m4.4 -2.5h1.1m8.4 2.5h1.1m0.9 1h1.1m0.4 1.5h1.1m1.4 -2h1.1m7.4 -2.5h1.1m-115.6 6h1.1m-0.1 3h1.1m-0.6 0h1.1m0.4 -3h1.1m-0.1 0.5h1.1m0.4 -0.5h1.1m-1.1 2h1.1m-0.1 -1.5h1.1m-0.6 2.5h1.1m-0.6 -1.5h1.1m-0.6 2.5h1.1m-1.1 0h1.1m-1.1 -1h1.1m-0.6 0.5h1.1m-1.1 -4h1.1m-0.6 -0.5h1.1m-0.6 0h1.1m34.9 0h1.1m-0.6 5h1.1m-0.6 -2.5h1.1m-1.1 1.5h1.1m-0.6 -3h1.1m-0.6 4h1.1m-1.1 -4h1.1m-1.1 4h1.1m-0.6 -3h1.1m-1.1 3h1.1m-0.6 -4.5h1.1m-0.6 2.5h1.1m-0.6 -2.5h1.1m-0.6 2h1.1m2.4 -1.5h1.1m0.9 4h1.1m26.4 -5h1.1m5.4 4.5h1.1m4.4 -3.5h1.1m-1.1 2h1.1m-0.1 1h1.1m1.9 -2h1.1m1.9 3h1.1m1.4 -3h1.1m-0.6 -1.5h1.1m-1.1 2h1.1m-107.1 6h1.1m3.4 -1h1.1m-0.6 0.5h1.1m-0.1 0h1.1m-0.1 0.5h1.1m-0.6 -1.5h1.1m-1.1 2.5h1.1m-0.6 -1.5h1.1m-0.6 2.5h1.1m-0.6 -4.5h1.1m-1.1 1h1.1m-1.1 2.5h1.1m-0.6 -0.5h1.1m-1.1 -3h1.1m-1.1 5h1.1m-0.6 -1.5h1.1m-1.1 -1h1.1m-1.1 0h1.1m-1.1 0.5h1.1m-1.1 -1h1.1m-0.6 3h1.1m-1.1 -0.5h1.1m-0.1 1h1.1m33.4 -1h1.1m-0.6 -0.5h1.1m-1.1 -0.5h1.1m-1.1 1.5h1.1m-0.6 -1.5h1.1m-1.1 -3.5h1.1m-1.1 5.5h1.1m-1.1 -1h1.1m-0.6 -4h1.1m-1.1 4.5h1.1m-1.1 -4h1.1m-1.1 -0.5h1.1m-0.6 2h1.1m-1.1 -1.5h1.1m-1.1 3h1.1m-0.6 -2h1.1m-0.6 2.5h1.1m-1.1 -5h1.1m-0.6 5.5h1.1m-0.6 -5.5h1.1m-1.1 0.5h1.1m-0.6 2.5h1.1m2.4 -0.5h1.1m37.4 2.5h1.1m7.9 -1.5h1.1m4.4 0.5h1.1m-102.6 3h1.1m-0.6 0h1.1m0.4 3.5h1.1m-1.1 -0.5h1.1m-0.6 -1h1.1m-0.6 -1.5h1.1m-0.1 1.5h1.1m-0.6 -2h1.1m-0.6 2h1.1m-0.1 -2.5h1.1m27.4 5h1.1m0.9 -2h1.1m-1.1 1h1.1m-1.1 0h1.1m-0.6 0h1.1m-1.1 -0.5h1.1m-0.1 0.5h1.1m-1.1 -2.5h1.1m-0.1 0h1.1m-0.6 2h1.1m-0.1 -2h1.1m-1.1 0.5h1.1m-0.6 0h1.1m-1.1 -1h1.1m-0.6 1.5h1.1m-0.6 -2h1.1m-1.1 3.5h1.1m-0.1 -1.5h1.1m-0.6 -2.5h1.1m-1.1 3.5h1.1m0.4 -1h1.1m25.9 0h1.1m9.9 -2h1.1m-0.1 0h1.1m8.9 -0.5h1.1m14.9 1h1.1m8.4 3.5h1.1m-113.1 3.5h1.1m-0.6 -1.5h1.1m-0.6 1h1.1m-0.1 -1h1.1m-0.1 -0.5h1.1m0.4 1h1.1m0.4 -1.5h1.1m-1.1 5.5h1.1m-0.6 -3h1.1m-1.1 2h1.1m-0.6 -4h1.1m-0.1 1.5h1.1m0.9 0.5h1.1m-0.6 0.5h1.1m-0.1 0h1.1m1.4 2h1.1m-0.1 0h1.1m-1.1 0h1.1m-0.6 -1h1.1m-1.1 1.5h1.1m-0.1 -1h1.1m-1.1 -0.5h1.1m-1.1 0.5h1.1m0.4 1h1.1m-0.6 -1h1.1m-1.1 0h1.1m-0.6 0.5h1.1m-0.6 0.5h1.1m-1.1 0.5h1.1m-1.1 -2.5h1.1m1.4 0.5h1.1m-1.1 -1.5h1.1m-0.6 0.5h1.1m-1.1 1.5h1.1m-1.1 0h1.1m-0.6 -1.5h1.1m-0.6 -2h1.1m-0.6 0h1.1m-1.1 2.5h1.1m-1.1 -2.5h1.1m-1.1 2h1.1m-1.1 -1.5h1.1m-0.6 4h1.1m-0.6 -4h1.1m-0.1 -0.5h1.1m-1.1 3h1.1m-1.1 -2h1.1m-0.6 -1h1.1m-1.1 5h1.1m-0.6 -5.5h1.1m-0.6 3.5h1.1m-1.1 0h1.1m-0.1 -3h1.1m-1.1 0h1.1m0.4 -1h1.1m-1.1 2h1.1m0.4 1h1.1m-1.1 2h1.1m-0.6 -3.5h1.1m-1.1 -0.5h1.1m1.4 2.5h1.1m4.4 -0.5h1.1m78.9 0.5h1.1m-124.6 3.5h1.1m7.9 3.5h1.1m-1.1 -2h1.1m0.9 -1h1.1m-0.1 1h1.1m0.4 1.5h1.1m-0.6 -1.5h1.1m-0.6 0h1.1m0.9 -1h1.1m-1.1 3h1.1m-0.6 1h1.1m-0.1 -3.5h1.1m-0.6 -1.5h1.1m-1.1 4h1.1m-1.1 -1h1.1m-0.6 -1.5h1.1m1.4 2.5h1.1m-0.6 -2h1.1m-0.6 1h1.1m-1.1 0.5h1.1m-0.6 0h1.1m0.4 0.5h1.1m-0.1 -3h1.1m-1.1 1.5h1.1m3.4 -2.5h1.1m0.9 0.5h1.1m1.4 1h1.1m65.4 1.5h1.1m-96.1 5.5h1.1m6.9 -1.5h1.1m1.9 2.5h1.1m-0.6 2h1.1m-1.1 -4.5h1.1m-0.6 -1.5h1.1m-0.6 1h1.1m1.4 3.5h1.1m-1.1 -1.5h1.1m-0.6 1.5h1.1m-0.6 0.5h1.1m-0.1 -2h1.1m-1.1 0h1.1m-0.6 2h1.1m-0.6 0.5h1.1m-0.1 -3h1.1m-0.6 0h1.1m2.9 -2.5h1.1m-0.6 3.5h1.1m0.9 -2.5h1.1m-30.6 7.5h1.1m0.4 1.5h1.1m4.4 -3.5h1.1m0.4 2.5h1.1m0.9 1h1.1m0.4 -3.5h1.1m4.4 2.5h1.1m-0.6 -2h1.1m-1.1 -0.5h1.1m-1.1 5h1.1m-0.1 -3.5h1.1m2.4 0.5h1.1m-1.1 -2h1.1m-0.6 4h1.1m0.9 -3h1.1m3.9 3h1.1m-40.1 3.5h1.1m5.9 3h1.1m0.4 0h1.1m0.9 -4h1.1m3.9 -1h1.1m3.9 6h1.1m2.9 -4.5h1.1m4.9 -1.5h1.1m1.9 3h1.1m-0.6 -1.5h1.1m43.4 -0.5h1.1m-59.1 8h1.1" stroke="#111" stroke-width="1.1" fill="none"/>
<path d="M397.6,1536.5l-2.5,0.2l-3,-0.8l-5.5,-2.6l-4.5,-2.9l-2.6,-2.4l-1.7,-2.5l-1.1,-2.5l-0.4,-3l0.2,-2.5l1,-3l1.9,-3l4.2,-5.3l0.7,-1.7l0.4,-2l-0.6,-6.1l-3.3,-18.4l-0.9,-8.5l0.1,-10.5l0.5,-5l0.8,-5l1,-4l1.6,-4.5l1.8,-4l2,-3.5l2.3,-3l2.1,-1.9l2,-1.1l2,-0.4l2.5,0.7l2,1.3l2.2,2.4l2.1,3l1.9,3.5l1.7,4l1.4,4.5l1.1,4.5l0.7,5l0.4,5l-0.1,10l-1.1,9l-3.3,18.8l-0.4,4.7l0.2,2l0.8,2l3.5,5.5l1.2,2.5l0.6,2l0.4,2.5l-0.3,2.5l-0.7,2.5l-1.5,2.5l-1.6,2l-2.7,2.3l-3.5,2.4l-3.5,1.9l-2.5,0.9zM398.1,1533.6l-3,0.2l-3,-0.5l-4,-1.6l-3.5,-2l-2.5,-2l-1.8,-2.2l-1.2,-2.5l-0.5,-3l0.3,-2.5l0.9,-2.5l2.1,-3l4.5,-5l1,-2l0.4,-2l-0.7,-6.5l-3.6,-19l-1,-7.5l-0.2,-9.5l1,-8.5l2.1,-7.5l1.5,-3.5l1.7,-3.1l1.8,-2.4l1.7,-1.6l2,-1.2l2,-0.4l2,0.5l2,1.2l2,2.1l1.7,2.4l1.6,3l1.4,3.5l2.1,8l0.8,8.5l-0.2,9l-1.1,7.5l-3.8,20l-0.4,5.5l0.3,2l0.8,2l3.6,5l1.5,2.5l0.9,2.5l0.2,2l-0.1,2l-0.6,2l-1,2l-1.7,2.2l-2,1.8l-2.5,1.7l-3,1.5l-2.5,0.9zM398.1,1531.5l-3,0.3l-3,-0.4l-3,-1.1l-3,-1.6l-2.5,-2.1l-1.6,-2.1l-1.1,-2.5l-0.2,-2l0.3,-2.5l1.1,-2.5l1.9,-2.5l4.9,-5l1.2,-2l0.4,-2l-0.5,-5l-4.2,-20.5l-1.2,-7.5l-0.3,-9l0.9,-8l1.8,-6.5l2.7,-5.5l1.4,-1.8l1.5,-1.4l1.5,-0.9l2,-0.4l1.5,0.2l2,1.2l1.5,1.5l1.5,2.1l1.5,2.8l1.2,3.2l1.8,7l0.6,8l-0.4,8l-1,6.5l-4.2,20.5l-0.7,5.5l0.3,2l0.9,2l4.3,5.5l1.5,2.5l0.8,2l0.3,2l-0.6,3.5l-1,2l-1.3,1.6l-2,1.8l-2,1.4l-2,0.9l-2.5,0.8zM398.1,1530l-2.5,0.3l-2.5,-0.2l-3,-0.9l-2.5,-1.3l-2,-1.5l-1.7,-1.9l-1,-2l-0.5,-2.5l0.4,-2.5l1.3,-2.7l2.1,-2.3l5.6,-5l1.4,-2l0.5,-1.5l-0.2,-2.5l-2.5,-9.5l-3.9,-16.5l-0.9,-7l-0.2,-6.5l0.3,-4l0.7,-4l0.9,-3.5l1.4,-3.5l1.4,-2.5l1.9,-2.3l1.5,-1l2,-0.4l2,0.5l1.5,1.1l1.5,1.8l1.6,2.8l1.3,3l1,4l0.7,4l0.3,4l-0.2,6.5l-0.9,7l-3.8,16.2l-2.8,10.3l-0.1,2l0.4,1.5l0.9,1.5l5.1,5.7l1.7,2.3l1,2l0.5,2.5l-0.2,2l-0.5,1.5l-2,3l-3,2.4l-4,1.6zM396.6,1494.7l-1,0.1l-1.5,-1.7l-2.5,-6.6l-1.8,-6.5l-1.4,-6l-0.7,-5l-0.3,-4.5l0.2,-4l0.5,-4l0.8,-3.5l1,-3l1.2,-2.3l1.5,-1.9l1.5,-1.2l2,-0.5l1.5,0.3l1.5,1.1l1.5,1.8l1.5,2.7l1.8,6l0.7,7.5l-0.6,8l-1.8,8.5l-3.1,10.4l-1.5,3.2l-1,1.1zM396.1,1529l-2.5,-0.1l-2,-0.4l-2,-0.8l-2,-1.3l-1.6,-1.4l-1.1,-1.5l-0.7,-1.5l-0.3,-2l0.2,-2l0.6,-1.5l2.3,-3l5.1,-3.8l2,-1.1l1.5,-0.4l1.5,0.3l1.5,0.7l4.5,3.8l2.2,3l0.6,1.5l0.4,2l-0.5,3l-0.8,1.5l-1.4,1.7l-1.5,1.2l-2,1.1l-2,0.7l-2,0.3zM396.6,1486.1l-1,0.1l-1,-0.7l-1.5,-2.5l-1.2,-3l-2,-8l-0.8,-7.5l0.5,-6.5l1.5,-5.2l1,-2l1.5,-1.8l1,-0.7l1.5,-0.3l1.5,0.4l1,0.8l1.1,1.3l1.1,2l1.5,5l0.6,6l-0.5,6.5l-1.4,7l-2.4,6.6l-1,1.6l-1,0.9zM397.1,1527.5l-2,0.2l-2,-0.3l-3.5,-1.3l-1.5,-1.1l-1.3,-1.5l-0.8,-1.5l-0.4,-1.5l0,-1.5l0.5,-1.5l1.6,-2.5l3.4,-2.8l3.5,-1.4l1.5,-0.1l1.5,0.4l3,1.7l1.8,1.7l1.1,1.5l1.1,3l0,1.5l-0.4,1.5l-1.5,2.5l-2.6,2l-3,1zM396.6,1479.3l-1,0.1l-1,-0.7l-1.5,-2.6l-1.5,-5.1l-0.7,-6l0.3,-5l1.1,-4l0.8,-1.7l1,-1.3l1,-0.7l1,-0.2l1,0.3l1,0.8l1.5,2.5l1.1,3.8l0.4,4.5l-0.4,5l-1.1,5l-1.5,3.7l-1.5,1.6zM397.1,1526.1l-3,0.1l-3,-0.9l-2.3,-1.8l-1.4,-2.5l0.1,-2.5l1.3,-2.5l2.3,-2l3,-1.3l2.5,0l2.5,1l2.5,2.2l1.3,2.6l0,2.5l-0.9,2l-2.2,2l-2.7,1.1zM396.1,1472.6l-1,-0.5l-1,-1.7l-0.7,-2.9l-0.3,-3l0.3,-3l0.7,-2.3l1,-1.4l1,-0.3l1,0.5l1,1.7l0.6,2.3l0.2,2.5l-0.3,3l-0.5,2.3l-1,2.1l-1,0.7zM397.1,1524.6l-2.5,0.3l-2,-0.5l-2,-1.3l-1.2,-1.6l-0.4,-2l0.7,-2l1.4,-1.6l2,-1.2l2.5,-0.5l2,0.5l2,1.3l1.4,2l0.3,2l-0.6,2l-1.6,1.7l-2,0.9z" stroke="#111" stroke-width="1.7" fill="none" stroke-linejoin="round"/>
<ellipse cx="237.5" cy="1465" rx="33.3" ry="54.6" fill="none" stroke="#111" stroke-width="2"/>
<ellipse cx="462.4" cy="1465" rx="33.3" ry="54.6" fill="none" stroke="#111" stroke-width="2"/>
<text transform="translate(224.5,1399) scale(0.992,1)" font-size="21.5"><tspan>2.81</tspan></text>
<text transform="translate(456,1399) scale(1.004,1)" font-size="21.5"><tspan>6.10</tspan></text>
<path d="M235.6 1567.4v6M247.6 1567.4v3M254.7 1567.4v3M259.7 1567.4v3M263.6 1567.4v3M266.7 1567.4v3M269.4 1567.4v3M271.7 1567.4v3M273.8 1567.4v3M275.6 1567.4v6M287.6 1567.4v3M294.7 1567.4v3M299.7 1567.4v3M303.6 1567.4v3M306.7 1567.4v3M309.4 1567.4v3M311.7 1567.4v3M313.8 1567.4v3M315.6 1567.4v6M168.3 1567.4v6M150 1567.4v3M186 1567.4v3M200 1567.4v3M135 1567.4v3M110.2 1451h-6M110.2 1435.6h-3M110.2 1426.7h-3M110.2 1420.3h-3M110.2 1415.4h-3M110.2 1411.3h-3M110.2 1407.9h-3M110.2 1404.9h-3M110.2 1402.3h-3M110.2 1400h-6M110.2 1384.6h-3M110.2 1375.7h-3M110.2 1369.3h-3M110.2 1364.4h-3M110.2 1360.3h-3M110.2 1356.9h-3M110.2 1353.9h-3M110.2 1351.3h-3M110.2 1349h-6M110.2 1525h-6M110.2 1540h-3M110.2 1510h-3M110.2 1495h-3" stroke="#111" stroke-width="1.1" fill="none"/>
<path d="M465 1567.4v6M477 1567.4v3M484.1 1567.4v3M489.1 1567.4v3M493 1567.4v3M496.1 1567.4v3M498.8 1567.4v3M501.1 1567.4v3M503.2 1567.4v3M505 1567.4v6M517 1567.4v3M524.1 1567.4v3M529.1 1567.4v3M533 1567.4v3M536.1 1567.4v3M538.8 1567.4v3M541.1 1567.4v3M543.2 1567.4v3M545 1567.4v6M397.7 1567.4v6M379.4 1567.4v3M415.4 1567.4v3M429.4 1567.4v3M364.4 1567.4v3M339.6 1451h-6M339.6 1435.6h-3M339.6 1426.7h-3M339.6 1420.3h-3M339.6 1415.4h-3M339.6 1411.3h-3M339.6 1407.9h-3M339.6 1404.9h-3M339.6 1402.3h-3M339.6 1400h-6M339.6 1384.6h-3M339.6 1375.7h-3M339.6 1369.3h-3M339.6 1364.4h-3M339.6 1360.3h-3M339.6 1356.9h-3M339.6 1353.9h-3M339.6 1351.3h-3M339.6 1349h-6M339.6 1525h-6M339.6 1540h-3M339.6 1510h-3M339.6 1495h-3" stroke="#111" stroke-width="1.1" fill="none"/>
<text transform="translate(71,1408)" font-size="21.5"><tspan>10</tspan><tspan font-size="13.3" dy="-8.6">4</tspan></text>
<text transform="translate(71,1459)" font-size="21.5"><tspan>10</tspan><tspan font-size="13.3" dy="-8.6">3</tspan></text>
<text transform="translate(89,1533)" font-size="21.5" text-anchor="middle">0</text>
<text transform="translate(168.3,1593)" font-size="21.5" text-anchor="middle">0</text>
<text transform="translate(224,1593)" font-size="21.5"><tspan>10</tspan><tspan font-size="13.3" dy="-8.6">3</tspan></text>
<text transform="translate(264,1593)" font-size="21.5"><tspan>10</tspan><tspan font-size="13.3" dy="-8.6">4</tspan></text>
<text transform="translate(303,1593)" font-size="21.5"><tspan>10</tspan><tspan font-size="13.3" dy="-8.6">5</tspan></text>
<text transform="translate(113,1614.5)" font-size="25">Gp33</text>
<line x1="192.3" y1="1605.4" x2="549.4" y2="1605.4" stroke="#111" stroke-width="1.8"/>
<path d="M560.4,1605.4 L548.4,1600.4 L548.4,1610.4 Z" fill="#111"/>
<line x1="46.2" y1="1499.3" x2="46.2" y2="1358.6" stroke="#111" stroke-width="1.8"/>
<path d="M46.2,1347.6 L41.2,1359.6 L51.2,1359.6 Z" fill="#111"/>
<text transform="translate(56,1540.5) rotate(-90)" font-size="25" text-anchor="middle">CD44</text>
<text transform="translate(1045,1308.5) scale(1.025,1)" font-size="28"><tspan>day 21</tspan></text>
<path d="M976.5,1431.2L976.5,1431.2L977,1431.2L977.5,1431.2L978,1431.2L978.5,1431.2L979,1431.2L979.5,1431.2L980,1431.2L980.5,1431.2L981,1431.2L981.5,1431.2L982,1431.2L982.5,1431.2L983,1431.2L983.5,1431.2L984,1431.2L984.5,1431.2L985,1431.2L985.5,1431.2L986,1431.2L986.5,1431.2L987,1431.2L987.5,1431.2L988,1431.2L988.5,1431.2L989,1431.2L989.5,1431.2L990,1431.2L990.5,1431.2L991,1431.2L991.5,1431.2L992,1431.2L992.5,1431.2L993,1431.2L993.5,1431.2L994,1431.2L994.5,1431.2L995,1431.2L995.5,1431.2L996,1431.2L996.5,1431.2L997,1431.2L997.5,1431.2L998,1431.2L998.5,1431.2L999,1431.1L999.5,1431.1L1000,1431.1L1000.5,1431.1L1001,1431.1L1001.5,1431L1002,1431L1002.5,1430.9L1003,1430.9L1003.5,1430.8L1004,1430.7L1004.5,1430.6L1005,1430.5L1005.5,1430.3L1006,1430.2L1006.5,1430L1007,1429.8L1007.5,1429.5L1008,1429.2L1008.5,1428.8L1009,1428.4L1009.5,1428L1010,1427.4L1010.5,1426.8L1011,1426.1L1011.5,1425.4L1012,1424.5L1012.5,1423.6L1013,1422.5L1013.5,1421.3L1014,1420L1014.5,1418.6L1015,1417L1015.5,1415.3L1016,1413.4L1016.5,1411.4L1017,1409.3L1017.5,1406.9L1018,1404.5L1018.5,1401.8L1019,1399.1L1019.5,1396.2L1020,1393.1L1020.5,1389.9L1021,1386.6L1021.5,1383.2L1022,1379.8L1022.5,1376.2L1023,1372.6L1023.5,1369L1024,1365.4L1024.5,1361.8L1025,1358.3L1025.5,1354.8L1026,1351.5L1026.5,1348.3L1027,1345.2L1027.5,1342.4L1028,1339.7L1028.5,1337.3L1029,1335.1L1029.5,1333.3L1030,1331.7L1030.5,1330.5L1031,1329.5L1031.5,1328.9L1032,1328.7L1032.5,1328.8L1033,1329.3L1033.5,1330L1034,1331.2L1034.5,1332.6L1035,1334.4L1035.5,1336.4L1036,1338.7L1036.5,1341.3L1037,1344.1L1037.5,1347L1038,1350.2L1038.5,1353.5L1039,1356.9L1039.5,1360.4L1040,1364L1040.5,1367.6L1041,1371.2L1041.5,1374.8L1042,1378.4L1042.5,1381.9L1043,1385.3L1043.5,1388.6L1044,1391.8L1044.5,1395L1045,1397.9L1045.5,1400.8L1046,1403.4L1046.5,1406L1047,1408.3L1047.5,1410.6L1048,1412.6L1048.5,1414.6L1049,1416.3L1049.5,1418L1050,1419.5L1050.5,1420.8L1051,1422L1051.5,1423.2L1052,1424.2L1052.5,1425.1L1053,1425.9L1053.5,1426.6L1054,1427.2L1054.5,1427.8L1055,1428.2L1055.5,1428.7L1056,1429L1056.5,1429.4L1057,1429.6L1057.5,1429.9L1058,1430.1L1058.5,1430.3L1059,1430.4L1059.5,1430.6L1060,1430.7L1060.5,1430.8L1061,1430.8L1061.5,1430.9L1062,1431L1062.5,1431L1063,1431L1063.5,1431.1L1064,1431.1L1064.5,1431.1L1065,1431.1L1065.5,1431.1L1066,1431.2L1066.5,1431.2L1067,1431.2L1067.5,1431.2L1068,1431.2L1068.5,1431.2L1069,1431.2L1069.5,1431.2L1070,1431.2L1070.5,1431.2L1071,1431.2L1071.5,1431.2L1072,1431.2L1072.5,1431.2L1073,1431.2L1073.5,1431.2L1074,1431.2L1074.5,1431.2L1075,1431.2L1075.5,1431.2L1076,1431.2L1076.5,1431.2L1077,1431.2L1077.5,1431.2L1078,1431.2L1078.5,1431.2L1079,1431.2L1079.5,1431.2L1080,1431.2L1080.5,1431.2L1081,1431.2L1081.5,1431.2L1082,1431.2L1082.5,1431.2L1083,1431.2L1083.5,1431.2L1084,1431.2L1084.5,1431.2L1085,1431.2L1085.5,1431.2L1086,1431.2L1086.5,1431.2L1087,1431.2L1087.5,1431.2L1088,1431.2L1088.5,1431.2L1089,1431.2L1089.5,1431.2L1090,1431.2L1090.5,1431.2L1091,1431.2L1091.5,1431.2L1092,1431.2L1092.5,1431.2L1093,1431.2L1093.5,1431.2L1094,1431.2L1094.5,1431.2L1095,1431.2L1095.5,1431.2L1096,1431.2L1096.5,1431.2L1097,1431.2L1097.5,1431.2L1098,1431.2L1098.5,1431.2L1099,1431.2L1099.5,1431.2L1100,1431.2L1100.5,1431.2L1101,1431.2L1101.5,1431.2L1102,1431.2L1102.5,1431.2L1103,1431.2L1103.5,1431.2L1104,1431.2L1104.5,1431.2L1105,1431.2L1105.5,1431.2L1106,1431.2L1106.5,1431.2L1107,1431.2L1107.5,1431.2L1108,1431.2L1108.5,1431.2L1109,1431.2L1109.5,1431.2L1110,1431.2L1110.5,1431.2L1111,1431.2L1111.5,1431.2L1112,1431.2L1112.5,1431.2L1113,1431.2L1113.5,1431.2L1114,1431.2L1114.5,1431.2L1115,1431.2L1115.5,1431.2L1116,1431.2L1116.5,1431.2L1117,1431.2L1117.5,1431.2L1118,1431.2L1118.5,1431.2L1119,1431.2L1119.5,1431.2L1120,1431.2L1120.5,1431.2L1121,1431.2L1121.5,1431.2L1122,1431.2L1122.5,1431.2L1123,1431.2L1123.5,1431.2L1124,1431.2L1124.5,1431.2L1125,1431.2L1125.5,1431.2L1126,1431.2L1126.5,1431.2L1127,1431.2L1127.5,1431.2L1128,1431.2L1128.5,1431.2L1129,1431.2L1129.5,1431.2L1130,1431.2L1130.5,1431.2L1131,1431.2L1131.5,1431.2L1132,1431.2L1132.5,1431.2L1133,1431.2L1133.5,1431.2L1134,1431.2L1134.5,1431.2L1135,1431.2L1135.5,1431.2L1136,1431.2L1136.5,1431.2L1137,1431.2L1137.5,1431.2L1138,1431.2L1138.5,1431.2L1139,1431.2L1139.5,1431.2L1140,1431.2L1140.5,1431.2L1141,1431.2L1141.5,1431.2L1142,1431.2L1142.5,1431.2L1143,1431.2L1143.5,1431.2L1144,1431.2L1144.5,1431.2L1145,1431.2L1145.5,1431.2L1146,1431.2L1146.5,1431.2L1147,1431.2L1147.5,1431.2L1148,1431.2L1148.5,1431.2L1149,1431.2L1149.5,1431.2L1150,1431.2L1150.5,1431.2L1151,1431.2L1151.5,1431.2L1152,1431.2L1152.5,1431.2L1153,1431.2L1153.5,1431.2L1154,1431.2L1154.5,1431.2L1155,1431.2L1155.5,1431.2L1156,1431.2L1156.5,1431.2L1157,1431.2L1157.5,1431.2L1158,1431.2L1158.5,1431.2L1159,1431.2L1159.5,1431.2L1160,1431.2L1160.5,1431.2L1161,1431.2L1161.5,1431.2L1162,1431.2L1162.5,1431.2L1163,1431.2L1163.5,1431.2L1164,1431.2L1164.5,1431.2L1165,1431.2L1165.5,1431.2L1166,1431.2L1166.5,1431.2L1167,1431.2L1167.5,1431.2L1168,1431.2L1168.5,1431.2L1169,1431.2L1169.5,1431.2L1170,1431.2L1170.5,1431.2L1171,1431.2L1171.5,1431.2L1172,1431.2L1172.5,1431.2L1173,1431.2L1173.5,1431.2L1174,1431.2L1174.5,1431.2L1175,1431.2L1175.5,1431.2L1176,1431.2L1176.5,1431.2L1177,1431.2L1177.5,1431.2L1178,1431.2L1178.5,1431.2L1179,1431.2L1179.5,1431.2L1180,1431.2L1180.5,1431.2L1181,1431.2L1181.5,1431.2L1182,1431.2L1182.5,1431.2L1183,1431.2L1183.5,1431.2L1184,1431.2L1184.5,1431.2L1185,1431.2L1185.5,1431.2L1186,1431.2L1186.5,1431.2L1187,1431.2L1187.5,1431.2L1188,1431.2L1188.5,1431.2L1189,1431.2L1189.5,1431.2L1190,1431.2L1190.5,1431.2L1191,1431.2L1191.5,1431.2L1192,1431.2L1192.5,1431.2L1193,1431.2L1193.5,1431.2L1194,1431.2L1194,1431.2Z" fill="#8a8c8e"/>
<line x1="976.2" y1="1431.2" x2="1194.8" y2="1431.2" stroke="#8a8c8e" stroke-width="1.3"/>
<path d="M976.5,1485.7L976.5,1485.7L977,1485.7L977.5,1485.7L978,1485.7L978.5,1485.7L979,1485.7L979.5,1485.7L980,1485.7L980.5,1485.7L981,1485.7L981.5,1485.7L982,1485.7L982.5,1485.7L983,1485.7L983.5,1485.7L984,1485.7L984.5,1485.7L985,1485.7L985.5,1485.7L986,1485.7L986.5,1485.7L987,1485.7L987.5,1485.7L988,1485.7L988.5,1485.7L989,1485.7L989.5,1485.7L990,1485.7L990.5,1485.7L991,1485.7L991.5,1485.7L992,1485.7L992.5,1485.7L993,1485.7L993.5,1485.7L994,1485.7L994.5,1485.7L995,1485.7L995.5,1485.7L996,1485.7L996.5,1485.7L997,1485.7L997.5,1485.7L998,1485.7L998.5,1485.7L999,1485.7L999.5,1485.7L1000,1485.7L1000.5,1485.7L1001,1485.7L1001.5,1485.7L1002,1485.7L1002.5,1485.7L1003,1485.7L1003.5,1485.7L1004,1485.7L1004.5,1485.7L1005,1485.7L1005.5,1485.7L1006,1485.7L1006.5,1485.7L1007,1485.7L1007.5,1485.7L1008,1485.7L1008.5,1485.7L1009,1485.7L1009.5,1485.7L1010,1485.7L1010.5,1485.7L1011,1485.7L1011.5,1485.7L1012,1485.7L1012.5,1485.7L1013,1485.7L1013.5,1485.7L1014,1485.7L1014.5,1485.7L1015,1485.7L1015.5,1485.7L1016,1485.7L1016.5,1485.7L1017,1485.7L1017.5,1485.7L1018,1485.7L1018.5,1485.7L1019,1485.7L1019.5,1485.7L1020,1485.7L1020.5,1485.7L1021,1485.7L1021.5,1485.7L1022,1485.7L1022.5,1485.7L1023,1485.7L1023.5,1485.7L1024,1485.7L1024.5,1485.7L1025,1485.7L1025.5,1485.7L1026,1485.7L1026.5,1485.7L1027,1485.7L1027.5,1485.7L1028,1485.7L1028.5,1485.7L1029,1485.7L1029.5,1485.7L1030,1485.7L1030.5,1485.7L1031,1485.7L1031.5,1485.7L1032,1485.7L1032.5,1485.7L1033,1485.7L1033.5,1485.7L1034,1485.7L1034.5,1485.7L1035,1485.7L1035.5,1485.7L1036,1485.7L1036.5,1485.7L1037,1485.7L1037.5,1485.7L1038,1485.7L1038.5,1485.7L1039,1485.7L1039.5,1485.7L1040,1485.7L1040.5,1485.7L1041,1485.7L1041.5,1485.7L1042,1485.7L1042.5,1485.7L1043,1485.7L1043.5,1485.7L1044,1485.7L1044.5,1485.7L1045,1485.7L1045.5,1485.7L1046,1485.7L1046.5,1485.7L1047,1485.7L1047.5,1485.7L1048,1485.7L1048.5,1485.7L1049,1485.7L1049.5,1485.7L1050,1485.7L1050.5,1485.7L1051,1485.7L1051.5,1485.7L1052,1485.7L1052.5,1485.7L1053,1485.7L1053.5,1485.7L1054,1485.7L1054.5,1485.7L1055,1485.7L1055.5,1485.7L1056,1485.7L1056.5,1485.7L1057,1485.7L1057.5,1485.7L1058,1485.7L1058.5,1485.7L1059,1479.6L1059.5,1478.6L1060,1477.5L1060.5,1476.7L1061,1475.8L1061.5,1474.9L1062,1474.1L1062.5,1472.8L1063,1472L1063.5,1471.2L1064,1470.4L1064.5,1469.8L1065,1469.2L1065.5,1468.7L1066,1468.1L1066.5,1467.5L1067,1467.3L1067.5,1466.9L1068,1466.8L1068.5,1466.8L1069,1466.6L1069.5,1466.8L1070,1466.4L1070.5,1466.3L1071,1466.3L1071.5,1466.3L1072,1466.2L1072.5,1466.2L1073,1466.2L1073.5,1466L1074,1466.3L1074.5,1466.2L1075,1465.9L1075.5,1465.9L1076,1464.2L1076.5,1462.9L1077,1461.3L1077.5,1460.3L1078,1459.2L1078.5,1458.6L1079,1458L1079.5,1457.7L1080,1457.5L1080.5,1457L1081,1456.3L1081.5,1457L1082,1456.7L1082.5,1456.4L1083,1456.5L1083.5,1456.3L1084,1455.9L1084.5,1455.4L1085,1454.5L1085.5,1452.8L1086,1450.5L1086.5,1448.8L1087,1448.5L1087.5,1447L1088,1445.1L1088.5,1443.5L1089,1440.8L1089.5,1440.4L1090,1437.5L1090.5,1435.7L1091,1434.4L1091.5,1431.8L1092,1431.9L1092.5,1428.6L1093,1428.1L1093.5,1426L1094,1424.7L1094.5,1422.5L1095,1421.7L1095.5,1418.3L1096,1416.9L1096.5,1414.7L1097,1414.2L1097.5,1411.2L1098,1411L1098.5,1407.1L1099,1406L1099.5,1405L1100,1402.5L1100.5,1401.2L1101,1401.9L1101.5,1398.9L1102,1397L1102.5,1398L1103,1395.8L1103.5,1394.8L1104,1394.7L1104.5,1393L1105,1390.3L1105.5,1388.4L1106,1389.7L1106.5,1389.6L1107,1389.3L1107.5,1386.3L1108,1387.5L1108.5,1388.3L1109,1385.3L1109.5,1385.1L1110,1385.5L1110.5,1386L1111,1387.8L1111.5,1386.3L1112,1387.7L1112.5,1387.1L1113,1386.9L1113.5,1386.8L1114,1387.7L1114.5,1390.2L1115,1388.8L1115.5,1389.7L1116,1391.1L1116.5,1394.1L1117,1394.3L1117.5,1395.1L1118,1397L1118.5,1397.7L1119,1400.6L1119.5,1403.6L1120,1404.1L1120.5,1406L1121,1406.5L1121.5,1409.3L1122,1410.6L1122.5,1412.6L1123,1417L1123.5,1418.6L1124,1421L1124.5,1421.2L1125,1423.9L1125.5,1427.3L1126,1428.3L1126.5,1431.5L1127,1433.6L1127.5,1433.6L1128,1436.5L1128.5,1438.8L1129,1440.3L1129.5,1442.4L1130,1444.2L1130.5,1445.9L1131,1447.5L1131.5,1450.3L1132,1452.4L1132.5,1452.8L1133,1455.5L1133.5,1456.7L1134,1457.7L1134.5,1459.3L1135,1461.2L1135.5,1462.2L1136,1463.7L1136.5,1465L1137,1466.8L1137.5,1467.6L1138,1468.6L1138.5,1470.1L1139,1471.1L1139.5,1471.9L1140,1472.5L1140.5,1473.8L1141,1474.4L1141.5,1475.3L1142,1476.1L1142.5,1476.7L1143,1477.4L1143.5,1478.1L1144,1478.5L1144.5,1479.1L1145,1479.5L1145.5,1480.1L1146,1480.6L1146.5,1480.9L1147,1481.4L1147.5,1481.8L1148,1482L1148.5,1482.4L1149,1482.7L1149.5,1483L1150,1483.1L1150.5,1483.4L1151,1483.6L1151.5,1483.8L1152,1483.9L1152.5,1484.1L1153,1484.3L1153.5,1484.4L1154,1484.6L1154.5,1484.6L1155,1484.8L1155.5,1484.8L1156,1484.9L1156.5,1485L1157,1485.1L1157.5,1485.2L1158,1485.2L1158.5,1485.3L1159,1485.3L1159.5,1485.4L1160,1485.4L1160.5,1485.4L1161,1485.5L1161.5,1485.5L1162,1485.5L1162.5,1485.5L1163,1485.6L1163.5,1485.6L1164,1485.6L1164.5,1485.6L1165,1485.6L1165.5,1485.6L1166,1485.6L1166.5,1485.6L1167,1485.6L1167.5,1485.7L1168,1485.7L1168.5,1485.7L1169,1485.7L1169.5,1485.7L1170,1485.7L1170.5,1485.7L1171,1485.7L1171.5,1485.7L1172,1485.7L1172.5,1485.7L1173,1485.7L1173.5,1485.7L1174,1485.7L1174.5,1485.7L1175,1485.7L1175.5,1485.7L1176,1485.7L1176.5,1485.7L1177,1485.7L1177.5,1485.7L1178,1485.7L1178.5,1485.7L1179,1485.7L1179.5,1485.7L1180,1485.7L1180.5,1485.7L1181,1485.7L1181.5,1485.7L1182,1485.7L1182.5,1485.7L1183,1485.7L1183.5,1485.7L1184,1485.7L1184.5,1485.7L1185,1485.7L1185.5,1485.7L1186,1485.7L1186.5,1485.7L1187,1485.7L1187.5,1485.7L1188,1485.7L1188.5,1485.7L1189,1485.7L1189.5,1485.7L1190,1485.7L1190.5,1485.7L1191,1485.7L1191.5,1485.7L1192,1485.7L1192.5,1485.7L1193,1485.7L1193.5,1485.7L1194,1485.7L1194,1485.7Z" fill="#2f6db5"/>
<line x1="976.2" y1="1485.7" x2="1194.8" y2="1485.7" stroke="#4a7fbe" stroke-width="1.3"/>
<path d="M976.5,1539L976.5,1539L977,1539L977.5,1539L978,1539L978.5,1539L979,1539L979.5,1539L980,1539L980.5,1539L981,1539L981.5,1539L982,1539L982.5,1539L983,1539L983.5,1539L984,1539L984.5,1539L985,1539L985.5,1539L986,1539L986.5,1539L987,1539L987.5,1539L988,1539L988.5,1539L989,1539L989.5,1539L990,1539L990.5,1539L991,1539L991.5,1539L992,1539L992.5,1539L993,1539L993.5,1539L994,1539L994.5,1539L995,1539L995.5,1539L996,1539L996.5,1539L997,1539L997.5,1539L998,1539L998.5,1539L999,1539L999.5,1539L1000,1539L1000.5,1539L1001,1539L1001.5,1539L1002,1539L1002.5,1539L1003,1539L1003.5,1539L1004,1539L1004.5,1539L1005,1539L1005.5,1539L1006,1539L1006.5,1539L1007,1539L1007.5,1539L1008,1539L1008.5,1539L1009,1539L1009.5,1539L1010,1539L1010.5,1539L1011,1539L1011.5,1539L1012,1539L1012.5,1539L1013,1539L1013.5,1539L1014,1539L1014.5,1539L1015,1539L1015.5,1539L1016,1539L1016.5,1539L1017,1539L1017.5,1539L1018,1539L1018.5,1539L1019,1539L1019.5,1539L1020,1539L1020.5,1539L1021,1539L1021.5,1539L1022,1539L1022.5,1539L1023,1539L1023.5,1539L1024,1539L1024.5,1539L1025,1539L1025.5,1539L1026,1539L1026.5,1539L1027,1539L1027.5,1539L1028,1539L1028.5,1539L1029,1539L1029.5,1539L1030,1539L1030.5,1539L1031,1539L1031.5,1539L1032,1539L1032.5,1539L1033,1539L1033.5,1539L1034,1539L1034.5,1539L1035,1539L1035.5,1539L1036,1539L1036.5,1539L1037,1539L1037.5,1539L1038,1539L1038.5,1539L1039,1539L1039.5,1539L1040,1539L1040.5,1539L1041,1539L1041.5,1539L1042,1539L1042.5,1539L1043,1539L1043.5,1539L1044,1539L1044.5,1539L1045,1539L1045.5,1539L1046,1539L1046.5,1539L1047,1539L1047.5,1539L1048,1539L1048.5,1539L1049,1539L1049.5,1539L1050,1539L1050.5,1539L1051,1539L1051.5,1539L1052,1539L1052.5,1539L1053,1539L1053.5,1539L1054,1539L1054.5,1539L1055,1539L1055.5,1539L1056,1539L1056.5,1539L1057,1539L1057.5,1539L1058,1539L1058.5,1539L1059,1539L1059.5,1539L1060,1539L1060.5,1539L1061,1539L1061.5,1539L1062,1533.2L1062.5,1532.4L1063,1531.9L1063.5,1531.2L1064,1530.8L1064.5,1530.3L1065,1529.9L1065.5,1529.4L1066,1528.9L1066.5,1528.6L1067,1528.2L1067.5,1527.9L1068,1527.7L1068.5,1527.9L1069,1527.7L1069.5,1527.7L1070,1527.5L1070.5,1527.2L1071,1527.1L1071.5,1527.3L1072,1527.5L1072.5,1527.4L1073,1527L1073.5,1527.2L1074,1527.1L1074.5,1527.1L1075,1527.3L1075.5,1526.9L1076,1525.8L1076.5,1524.7L1077,1523.9L1077.5,1523.1L1078,1522.7L1078.5,1521.9L1079,1522.2L1079.5,1521.4L1080,1521.2L1080.5,1521.7L1081,1521.3L1081.5,1521L1082,1521.2L1082.5,1521.6L1083,1521.5L1083.5,1521.5L1084,1521.6L1084.5,1521.1L1085,1520.4L1085.5,1518.8L1086,1517.8L1086.5,1516.9L1087,1515.4L1087.5,1513.7L1088,1512.5L1088.5,1511.7L1089,1509.9L1089.5,1508.2L1090,1507L1090.5,1504.8L1091,1504L1091.5,1501.8L1092,1500.4L1092.5,1498.4L1093,1497.5L1093.5,1494.6L1094,1494.1L1094.5,1491.9L1095,1489.1L1095.5,1487.1L1096,1485.5L1096.5,1484L1097,1483.3L1097.5,1481L1098,1477.9L1098.5,1476.5L1099,1473.5L1099.5,1473.6L1100,1471.6L1100.5,1469.5L1101,1467.6L1101.5,1464.3L1102,1463.9L1102.5,1462.4L1103,1460.8L1103.5,1460.1L1104,1456.7L1104.5,1454.9L1105,1454.1L1105.5,1453.4L1106,1452.9L1106.5,1451.3L1107,1449.3L1107.5,1447.8L1108,1448.1L1108.5,1445.8L1109,1445.2L1109.5,1442.9L1110,1444.1L1110.5,1442.4L1111,1444.9L1111.5,1441.1L1112,1440.7L1112.5,1442.4L1113,1444.2L1113.5,1441.5L1114,1441.1L1114.5,1441.4L1115,1441.6L1115.5,1444.6L1116,1444.5L1116.5,1447.2L1117,1446.1L1117.5,1448.5L1118,1448.1L1118.5,1450.6L1119,1454.2L1119.5,1454.9L1120,1456.2L1120.5,1459.6L1121,1459.7L1121.5,1460.9L1122,1464.2L1122.5,1466.8L1123,1469.6L1123.5,1470.7L1124,1473.4L1124.5,1476.7L1125,1478.3L1125.5,1479.8L1126,1483.7L1126.5,1485.2L1127,1488.1L1127.5,1490.3L1128,1492.2L1128.5,1493.8L1129,1496.6L1129.5,1497.9L1130,1500.9L1130.5,1502.7L1131,1504.5L1131.5,1506.6L1132,1508.3L1132.5,1510.3L1133,1512L1133.5,1513.8L1134,1515L1134.5,1516.6L1135,1518.7L1135.5,1519.6L1136,1521.1L1136.5,1522.6L1137,1523.6L1137.5,1524.8L1138,1525.7L1138.5,1526.9L1139,1527.9L1139.5,1528.8L1140,1529.6L1140.5,1530.3L1141,1531.1L1141.5,1531.7L1142,1532.4L1142.5,1532.9L1143,1533.5L1143.5,1534L1144,1534.6L1144.5,1535L1145,1535.3L1145.5,1535.7L1146,1536L1146.5,1536.3L1147,1536.6L1147.5,1536.8L1148,1537.1L1148.5,1537.3L1149,1537.5L1149.5,1537.6L1150,1537.8L1150.5,1537.9L1151,1538.1L1151.5,1538.1L1152,1538.2L1152.5,1538.4L1153,1538.4L1153.5,1538.5L1154,1538.6L1154.5,1538.6L1155,1538.7L1155.5,1538.7L1156,1538.7L1156.5,1538.8L1157,1538.8L1157.5,1538.8L1158,1538.9L1158.5,1538.9L1159,1538.9L1159.5,1538.9L1160,1538.9L1160.5,1538.9L1161,1538.9L1161.5,1538.9L1162,1539L1162.5,1539L1163,1539L1163.5,1539L1164,1539L1164.5,1539L1165,1539L1165.5,1539L1166,1539L1166.5,1539L1167,1539L1167.5,1539L1168,1539L1168.5,1539L1169,1539L1169.5,1539L1170,1539L1170.5,1539L1171,1539L1171.5,1539L1172,1539L1172.5,1539L1173,1539L1173.5,1539L1174,1539L1174.5,1539L1175,1539L1175.5,1539L1176,1539L1176.5,1539L1177,1539L1177.5,1539L1178,1539L1178.5,1539L1179,1539L1179.5,1539L1180,1539L1180.5,1539L1181,1539L1181.5,1539L1182,1539L1182.5,1539L1183,1539L1183.5,1539L1184,1539L1184.5,1539L1185,1539L1185.5,1539L1186,1539L1186.5,1539L1187,1539L1187.5,1539L1188,1539L1188.5,1539L1189,1539L1189.5,1539L1190,1539L1190.5,1539L1191,1539L1191.5,1539L1192,1539L1192.5,1539L1193,1539L1193.5,1539L1194,1539L1194,1539Z" fill="#dc4594"/>
<rect x="976.2" y="1320.4" width="218.6" height="218.6" fill="none" stroke="#2a1020" stroke-width="1.8"/>
<line x1="976.2" y1="1539.2" x2="1194.8" y2="1539.2" stroke="#2a1020" stroke-width="2.4"/>
<path d="M1032.5 1539.2v6M1131.9 1539.2v6M1007 1539.2v4M1058 1539.2v4M1087 1539.2v3M1104 1539.2v3M1114 1539.2v3M1121 1539.2v3M1126 1539.2v3M1165 1539.2v4M1182 1539.2v3M1190 1539.2v3M986 1539.2v3M1013 1539.2v3M1016.1 1539.2v3M1019.2 1539.2v3M1022.3 1539.2v3M1025.4 1539.2v3M1028.5 1539.2v3M1031.6 1539.2v3M1034.7 1539.2v3M1037.8 1539.2v3M1040.9 1539.2v3M1044 1539.2v3M1047.1 1539.2v3" stroke="#111" stroke-width="1.1" fill="none"/>
<text transform="translate(1032.5,1561.5)" font-size="22" text-anchor="middle">0</text>
<text transform="translate(1118.6,1561.5)" font-size="22"><tspan>10</tspan><tspan font-size="13.6" dy="-8.8">4</tspan></text>
<text transform="translate(978.8,1583.8) scale(0.920,1)" font-size="26"><tspan>PD-1</tspan></text>
<line x1="1038.9" y1="1574.6" x2="1184.4" y2="1574.6" stroke="#111" stroke-width="1.9"/>
<path d="M1194.4,1574.6 L1183.4,1569.4 L1183.4,1579.8 Z" fill="#111"/>
<rect x="1202.8" y="1316.9" width="15.8" height="14.8" fill="#8a8c8e"/>
<rect x="1202.8" y="1347" width="15.8" height="15.8" fill="#2f6db5"/>
<rect x="1202.8" y="1379" width="15.8" height="15.8" fill="#dc4594"/>
<text transform="translate(1226.2,1332.4) scale(1.025,1)" font-size="25"><tspan>Naive T cells</tspan></text>
<text transform="translate(1226.2,1362.8)" font-size="25"><tspan>Gp33</tspan><tspan font-size="15" dy="-9">+</tspan><tspan dy="9"> Ctrl</tspan></text>
<text transform="translate(1226.2,1394.8)" font-size="25"><tspan>Gp33</tspan><tspan font-size="16" dy="-9">+</tspan><tspan dy="9"> </tspan><tspan font-style="italic">Satb1</tspan><tspan font-size="16" dy="-9">m1Anu/m1Anu</tspan></text>
<text transform="translate(136,1690) scale(1.014,1)" font-size="29"><tspan>Gp33+ CD8 T cells, day 21</tspan></text>
<line x1="90" y1="1698.4" x2="537.5" y2="1698.4" stroke="#231f20" stroke-width="1.8"/>
<text transform="translate(164.6,1724.3) scale(0.998,1)" font-size="25"><tspan>Ctrl</tspan></text>
<text transform="translate(334,1724.3)" font-size="25"><tspan font-style="italic">Satb1</tspan><tspan font-size="15.5" dy="-8.5">m1Anu/m1Anu</tspan></text>
<rect x="90" y="1730.6" width="218" height="217.5" fill="none" stroke="#111" stroke-width="2"/>
<rect x="319.2" y="1730.6" width="219" height="217.5" fill="none" stroke="#111" stroke-width="2"/>
<path d="M266 1770.5h1.1m-38.6 8h1.1m22.9 1h1.1m-85.1 14h1.1m-16.1 7h1.1m6.9 -0.5h1.1m2.4 1.5h1.1m20.4 -3.5h1.1m9.9 0.5h1.1m0.4 2h1.1m26.4 -1.5h1.1m8.9 -2h1.1m15.9 4h1.1m20.4 -3.5h1.1m-153.6 10.5h1.1m32.9 -3.5h1.1m5.9 -1h1.1m47.4 4.5h1.1m15.9 -0.5h1.1m7.9 -1h1.1m2.9 0.5h1.1m17.9 -3h1.1m23.4 4h1.1m-159.1 5.5h1.1m35.9 -3h1.1m3.4 4.5h1.1m41.9 -5h1.1m8.4 4h1.1m6.4 -1.5h1.1m5.9 -2h1.1m10.9 -1h1.1m10.4 -0.5h1.1m-86.1 6.5h1.1m2.4 2.5h1.1m3.9 -2.5h1.1m4.9 1.5h1.1m11.4 0.5h1.1m15.4 0h1.1m12.9 2.5h1.1m4.9 -4.5h1.1m14.9 3h1.1m21.4 -3h1.1m22.9 5h1.1m-127.6 5h1.1m4.4 -0.5h1.1m-0.1 0h1.1m5.4 -0.5h1.1m6.4 0h1.1m5.4 2h1.1m1.4 -2.5h1.1m13.4 -2h1.1m3.9 1.5h1.1m18.4 3.5h1.1m0.9 -0.5h1.1m8.9 -4.5h1.1m37.9 2.5h1.1m-180.6 5.5h1.1m7.4 1h1.1m53.9 0h1.1m3.9 1.5h1.1m1.9 -5h1.1m1.9 2.5h1.1m2.9 2h1.1m5.9 -1.5h1.1m-1.1 -1.5h1.1m5.4 1h1.1m0.9 2.5h1.1m6.4 -4h1.1m2.4 3h1.1m19.4 1h1.1m4.4 -1.5h1.1m5.4 -0.5h1.1m5.4 1.5h1.1m1.4 -4.5h1.1m21.4 5h1.1m-163.6 5h1.1m51.9 -0.5h1.1m-0.6 -4h1.1m1.4 1h1.1m8.9 1h1.1m10.4 -1.5h1.1m-0.1 -0.5h1.1m-1.1 2.5h1.1m12.9 0.5h1.1m0.4 0h1.1m0.9 -2h1.1m10.4 5h1.1m5.4 -4h1.1m4.9 3h1.1m12.9 1h1.1m21.4 -4h1.1m22.9 -1.5h1.1m-175.1 9.5h1.1m42.9 -2.5h1.1m5.9 1.5h1.1m9.9 2h1.1m1.4 -2.5h1.1m2.9 -1h1.1m-0.6 3h1.1m19.9 -2h1.1m9.9 1h1.1m8.4 -2h1.1m18.9 0.5h1.1m4.4 3h1.1m4.9 -2.5h1.1m5.9 0h1.1m10.4 1.5h1.1m-123.1 6.5h1.1m10.9 1.5h1.1m0.9 -6h1.1m7.4 2h1.1m3.9 -1h1.1m14.4 2.5h1.1m-0.1 -1h1.1m13.4 -2.5h1.1m3.9 6h1.1m17.9 -2h1.1m-0.6 -2.5h1.1m-0.1 1h1.1m1.9 0.5h1.1m2.4 2.5h1.1m6.9 -3h1.1m-0.6 0h1.1m4.9 0.5h1.1m3.4 1h1.1m-156.6 6h1.1m44.9 1h1.1m-0.1 -3h1.1m20.9 -1h1.1m3.9 1.5h1.1m0.4 -1h1.1m4.9 2h1.1m0.4 0.5h1.1m-0.1 -3.5h1.1m17.4 1h1.1m-0.6 1h1.1m2.4 1.5h1.1m1.4 -1.5h1.1m5.9 -0.5h1.1m-1.1 2.5h1.1m0.9 -3.5h1.1m7.4 2.5h1.1m11.9 0.5h1.1m20.9 -2h1.1m1.9 -1.5h1.1m4.9 0.5h1.1m-160.6 9.5h1.1m46.9 -2.5h1.1m1.9 -2h1.1m1.4 4.5h1.1m10.9 -2h1.1m-0.1 2h1.1m7.9 -4h1.1m1.4 5h1.1m7.4 -5h1.1m6.4 4.5h1.1m11.9 -0.5h1.1m4.9 -4h1.1m3.4 4h1.1m9.4 -4.5h1.1m0.9 5h1.1m1.9 -1.5h1.1m7.9 -0.5h1.1m-144.6 8h1.1m1.4 -4.5h1.1m-1.1 4h1.1m35.9 -2.5h1.1m31.4 1h1.1m1.9 2h1.1m-0.6 -0.5h1.1m1.9 -1.5h1.1m11.4 -1h1.1m-0.6 3.5h1.1m5.4 -5h1.1m7.4 4h1.1m-0.1 -3.5h1.1m0.9 0.5h1.1m-134.6 8.5h1.1m4.4 -3h1.1m9.9 0.5h1.1m48.9 2.5h1.1m2.4 -0.5h1.1m4.9 -1.5h1.1m1.9 2h1.1m2.4 -2.5h1.1m0.4 3.5h1.1m-1.1 -1.5h1.1m11.4 -3h1.1m4.9 5.5h1.1m4.4 -2h1.1m14.4 1.5h1.1m0.9 -3h1.1m8.9 -1h1.1m8.4 -1.5h1.1m3.9 5h1.1m27.9 0h1.1m-106.1 1.5h1.1m37.9 1h1.1m3.9 1h1.1m5.4 -1h1.1m-114.6 9.5h1.1m149.9 -2.5h1.1m-0.6 -1h1.1m2.4 1.5h1.1m1.4 -1h1.1m-160.6 8h1.1m0.4 -2.5h1.1m154.4 -1h1.1m0.4 1.5h1.1m12.4 -1.5h1.1m1.9 3h1.1m-173.6 8.5h1.1m83.4 4.5h1.1m-91.1 5h1.1m7.9 -2h1.1m3.4 4h1.1m46.4 -3h1.1m10.4 0.5h1.1m24.9 -1.5h1.1m3.4 -1.5h1.1m1.4 1h1.1m-90.6 7.5h1.1m-0.1 2.5h1.1m-0.6 0h1.1m39.4 -0.5h1.1m90.9 0.5h1.1m3.4 -2.5h1.1m-127.6 8h1.1m18.4 -4h1.1m75.4 5.5h1.1m-96.6 6h1.1" stroke="#111" stroke-width="1.1" fill="none"/>
<path d="M248,1919.6l-3.5,0.1l-3.5,-0.5l-3.5,-1.1l-3.5,-1.6l-3,-2.1l-2.5,-2.3l-5.5,-7.3l-1.5,-1.7l-2,-1.1l-2,-0.5l-18.5,1.4l-7.5,0l-11,-0.6l-4,0.3l-2,0.6l-2,1.2l-7.5,6.9l-4.5,3.1l-3,1.5l-3,1.1l-6.5,1.3l-6.5,0l-6.5,-1.5l-5.5,-2.4l-5,-3.6l-3.8,-4.2l-2.8,-5l-1.6,-5l-0.4,-5.5l0.3,-3l0.7,-3l1.3,-3.5l1.4,-2.5l1.7,-2.5l2.3,-2.5l8.4,-7.3l1.5,-2.6l0.9,-3.6l0.5,-5.5l-0.7,-3.5l-1.2,-2.2l-4.6,-5.3l-2.7,-4l-1.9,-4.5l-0.8,-4l-0.1,-4.5l1,-5l1.9,-4.5l2.9,-4l4.3,-3.8l5,-2.8l5.5,-1.6l6,-0.3l5.5,0.9l5.5,2.2l4.8,3.4l2,2l1.9,2.5l2,3.5l1.3,4l0.7,4l-0.2,4l-0.6,3.5l-1.3,3.5l-5.8,10l-0.6,2.5l-0.1,2.5l0.9,12.5l0.5,3.2l0.7,1.8l1,1.5l1.6,1.5l1.7,1l2.5,0.8l3,0.3l15,-1.1l10.5,0.1l7,0.6l12,1.9l3.5,0.2l4,-0.8l7,-2.8l4,-1.3l3.5,-0.6l3.5,-0.2l4,0.5l4,1.1l4,2l3.5,2.6l2.1,2.2l2.2,3l1.5,3l1.1,3l0.7,3.5l0.1,3.5l-0.3,3.5l-0.9,3.5l-1.3,3l-1.8,3l-2.4,2.9l-2.5,2.3l-3,1.9l-3,1.4l-3.5,1.1l-3,0.4zM250,1917.7l-4,0.4l-4,-0.4l-4,-1.1l-3.5,-1.8l-3,-2.2l-2.5,-2.5l-6.5,-9.1l-2,-1.3l-2,-0.4l-3,0.1l-10.5,1.4l-6,0.3l-8,0l-11.5,-0.9l-4.3,0.4l-1.7,0.6l-2,1.2l-7,6.8l-4.5,3.3l-5.5,2.5l-6,1.4l-6,0.1l-6,-1.1l-5,-2.1l-5,-3.3l-3.7,-3.9l-1.7,-2.5l-1.3,-2.5l-1.5,-5l-0.4,-5l1,-5.5l0.9,-2.5l1.5,-3l1.7,-2.5l2.3,-2.5l8.2,-7l1.5,-2.5l1,-4l0.8,-7l-0.5,-3.5l-1.4,-2.5l-4.9,-5.5l-2.1,-3l-2.1,-4.5l-0.9,-4l-0.1,-4.5l0.9,-4.5l1.8,-4l2.4,-3.5l4.1,-3.7l4.5,-2.6l5.5,-1.6l5.5,-0.2l5.5,0.9l5,2.2l4.5,3.3l3.4,4.2l1.8,3.5l1.1,3.5l0.5,4l-0.3,3.5l-0.8,3.5l-1.2,3l-5.5,9l-0.7,2l-0.2,2.5l0.8,8l0.4,7.5l0.6,3l0.8,2l1.3,1.8l1.5,1.4l2,1.3l3,0.9l3,0.2l15,-1.3l10.5,0.1l8,0.8l11.5,2.2l3,0.2l4,-0.8l7,-3.1l4,-1.5l4,-0.8l3.5,-0.1l4,0.5l3.5,1l3.5,1.7l3,2.2l2.3,2.3l1.8,2.5l1.6,3l0.9,2.5l0.7,3l0.3,3l-0.2,3l-0.6,3l-1,3l-1.5,3l-1.8,2.5l-2,2.1l-2.5,2l-2.5,1.5l-3,1.2l-3,0.8zM249,1916.1l-3.5,0.2l-4,-0.4l-3.5,-1.2l-3.5,-1.9l-2.7,-2.2l-2.2,-2.5l-6.1,-9.6l-2,-1.6l-2,-0.5l-2.5,0.2l-10,1.9l-8,0.7l-8.5,-0.1l-12.5,-1.3l-3.5,0.3l-2,0.8l-2,1.3l-6.6,6.9l-4.4,3.4l-2.5,1.4l-3,1.3l-5.5,1.3l-5.5,0.1l-5.5,-0.9l-5,-2l-4.5,-3l-2.1,-2.1l-2.1,-2.5l-1.5,-2.5l-1,-2.5l-0.9,-3l-0.3,-2.5l-0.1,-3l0.4,-2.5l1.6,-5l2.8,-4.5l3.2,-3.3l6.5,-5.2l1.9,-2.5l1.2,-4l1.3,-10l-0.2,-2.5l-0.8,-2l-1.4,-2l-4,-4.1l-2.3,-2.9l-1.9,-3.5l-1.2,-4l-0.3,-4.5l0.6,-4l1.5,-4l2.6,-3.8l4,-3.6l4.5,-2.4l5,-1.3l5,-0.1l5,1l4.5,2.1l3.9,3.1l3.1,4l1.5,3l0.9,3.5l0.4,3.5l-0.4,3.5l-0.8,3l-1.3,3l-5.6,8.5l-0.6,2l-0.1,2.5l1.1,8l0.3,9l0.6,3.1l1,2.2l1.5,2l2,1.9l2.5,1.7l2.5,0.9l3,0.3l15.5,-1.8l5.5,-0.1l5.5,0.1l8,1l11.5,2.9l3,0.3l3.5,-0.9l7,-3.7l4,-1.7l4,-1l3.5,-0.2l3.5,0.3l3.5,0.9l3,1.4l3,2.1l2,1.9l1.9,2.4l1.4,2.5l1.1,2.5l0.7,3l0.3,2.5l-0.1,3l-0.6,3l-1,3l-1.3,2.5l-1.8,2.5l-2.1,2.1l-2.5,1.9l-2.5,1.4l-2.5,0.9l-3,0.7zM248,1914.7l-3.5,0l-4,-0.8l-3.5,-1.4l-3,-2.1l-2.4,-2.3l-2.2,-3l-4.4,-9.1l-1.5,-2.5l-1,-1l-1.5,-0.5l-1.5,0.3l-5.5,2.1l-4,1.2l-4.5,0.9l-5,0.6l-9,0l-5.5,-0.6l-8.5,-1.4l-2,-0.1l-2,0.3l-2,1l-1.5,1.1l-6.7,7.7l-3.8,3.3l-5,2.7l-5.5,1.5l-5,0.3l-5,-0.7l-5,-1.8l-4.5,-2.9l-3.7,-3.9l-1.6,-2.5l-1.1,-2.5l-0.8,-3l-0.3,-2.5l0.3,-5l1.6,-4.5l2.5,-4l3.1,-3.2l6.8,-5.3l1.9,-2.5l1.1,-3.5l1.8,-13l-0.1,-2l-0.9,-2l-1.7,-2l-4.2,-4l-2.1,-2.5l-1.7,-3l-1.3,-3.5l-0.5,-4l0.5,-4l1.4,-4l2.3,-3.5l3.2,-3l4,-2.4l4.5,-1.3l5,-0.2l4.5,0.8l4.5,2l3.8,3.1l2.6,3.5l1.4,3l0.9,3.5l0.1,3.5l-0.4,3l-1,3l-1.3,2.5l-5.6,8l-0.8,2l-0.1,2l1.7,9l0.3,10l0.7,3.5l1.4,2.5l2.3,2.8l3,2.6l2.5,1.6l2.5,0.8l2.5,0.2l10,-1.9l5,-0.6l6,-0.3l6,0.3l5.5,0.7l4.9,1.3l3.7,1.5l4.9,2.7l1.5,0.3l2.5,-0.9l7,-4.8l3.5,-2.1l3.5,-1.5l3.5,-0.9l4.5,-0.2l4,0.7l3.5,1.3l3.5,2.3l2,2l1.7,2.1l1.4,2.5l0.9,2.5l0.6,3l0.2,2.5l-0.2,2.5l-0.7,3l-1,2.5l-1.4,2.5l-1.6,2l-1.9,1.8l-2,1.5l-2.5,1.3l-3,1l-2.5,0.5zM149.5,1910.7l-4.5,0.4l-4.5,-0.4l-4.5,-1.4l-4,-2.3l-3.3,-2.9l-2.5,-3.5l-1.6,-4l-0.6,-4.5l0.2,-3l0.6,-2.5l1.1,-2.5l1.6,-2.7l3.6,-3.8l7.4,-5.5l1.9,-2.5l1,-3l1,-8l1.9,-7.5l-0.2,-2l-0.8,-1.5l-7.8,-7l-1.6,-2l-1.5,-2.5l-1,-2.5l-0.6,-3l-0.1,-3l0.6,-3l1,-2.5l1.5,-2.5l1.7,-2l2,-1.7l2.5,-1.5l2.5,-1l2.5,-0.6l2.5,-0.2l3,0.1l3,0.7l2.5,1l2.5,1.5l2,1.7l1.7,2l1.5,2.5l1,2.5l0.5,2.5l0.1,3l-0.4,2.5l-0.8,2.5l-2.6,4.5l-5.8,7l-0.7,1.5l-0.1,1.5l0.4,2l1.7,5l0.7,3l0.3,3.5l-0.2,7l0.7,3.5l1,2l1.9,2.5l8.3,9l0.9,1.5l0.2,1l-0.5,2l-3.1,5l-3.5,5l-2.7,3l-2.5,2.1l-3,1.9l-3,1.2l-3,0.9zM249.5,1912.7l-3.5,0.4l-3.5,-0.4l-3.5,-1.1l-3.3,-2l-2.7,-2.5l-2.2,-3l-1.7,-3.5l-1.3,-4l-0.5,-3l0.1,-2.5l0.7,-2l1.3,-2l2.3,-2.5l3.3,-2.5l3.5,-1.8l3,-1l3.5,-0.5l3.5,0.2l3.5,1l3,1.4l2.8,2.2l2.1,2.5l1.7,3l1,3l0.5,3.5l-0.3,3.5l-0.9,3l-1.5,3l-1.9,2.5l-2.5,2.2l-3,1.8l-3.5,1.1zM202,1894.1l-4,0.4l-4,0l-4,-0.4l-3.5,-0.6l-3,-0.9l-3.1,-1.5l-1.4,-1.5l0,-1l0.7,-1l1.4,-1l3.4,-1.5l4.5,-1.1l5.5,-0.5l5.5,0.1l5,0.8l4,1.4l2.4,1.8l0.5,1l-0.1,1l-0.6,1l-1.2,1l-3.4,1.5l-4.6,1zM151,1844.7l-2,0.3l-2.5,-0.4l-3,-1.2l-3.5,-2.2l-2.5,-2.1l-2,-2.5l-1.3,-2.5l-0.7,-2.5l-0.3,-3l0.3,-2.5l0.8,-2.5l1.5,-2.5l1.7,-2l2.5,-1.9l2.5,-1.2l2.5,-0.8l3,-0.3l3,0.3l3,1l2.5,1.3l2.5,2.1l1.6,2l1.3,2.5l0.7,2.5l0.2,2.5l-0.2,2.5l-0.8,2.5l-1.3,2.6l-1.8,2.4l-2.2,2.1l-3,2.2l-2.5,1.3zM148,1908.6l-4,0.2l-4,-0.6l-3.5,-1.2l-3.5,-2.2l-2.8,-2.7l-2,-3l-1.3,-3.5l-0.4,-4l0.3,-3l0.8,-2.5l1.3,-2.5l1.5,-2l3.6,-3.3l7.9,-5.2l1.8,-2l1,-2.5l0.3,-6.5l0.8,-3.5l1.7,-2.9l1,-0.8l1.5,-0.4l1.5,0.5l1,0.9l1.1,1.7l0.8,2l0.4,4l-0.6,7l0.7,3l1.9,3l5,6l2.1,3l1.3,3l0.3,2.5l-0.5,2.5l-1.2,3l-2.1,3.5l-2.2,2.6l-2.5,2.2l-3,1.8l-3,1.2l-3,0.7zM249.5,1910.6l-3,0.4l-3,-0.2l-3,-0.8l-2.5,-1.3l-2.5,-1.9l-1.9,-2.2l-1.8,-3l-1,-3l-0.6,-3l0,-2.5l0.6,-2.5l0.9,-2l1.9,-2.5l2.4,-2l2.5,-1.5l3,-1.2l3,-0.5l3,0.1l3,0.6l3,1.3l2.5,1.8l2,2.2l1.6,2.7l0.9,2.5l0.5,3l-0.1,3l-0.8,3l-1.1,2.5l-1.9,2.5l-2.1,1.9l-2.5,1.5l-3,1.1zM150,1840.7l-2,0.1l-2.5,-0.4l-2,-0.7l-2,-1.2l-2,-1.7l-1.4,-1.7l-1,-2l-0.6,-2l-0.2,-2l0.1,-2l0.6,-2l1,-2l1.5,-1.8l1.5,-1.2l2,-1.2l2.5,-0.8l2,-0.2l2.5,0.1l2.5,0.7l2,1l2,1.6l1.5,1.8l1,2l0.6,2l0.1,2.5l-0.3,2l-0.7,2l-1.1,2l-1.6,1.9l-2,1.5l-2,1.1l-2,0.6zM147,1906.1l-3.5,0.1l-3,-0.6l-3,-1.1l-3,-1.9l-2.4,-2.5l-1.5,-2.5l-1,-3l-0.3,-3l0.5,-3l0.9,-2.5l1.6,-2.5l2.2,-2.3l3,-2.1l3.5,-1.8l4,-1.5l3,-0.4l2,0.5l2.5,1.4l3,2.6l2.5,2.6l1.8,2.5l1,2l0.8,2.5l0.1,2l-0.4,2.5l-0.9,2.5l-1.5,2.5l-1.9,2.2l-2.1,1.8l-2.4,1.4l-2.5,1l-3,0.6zM247,1908.6l-2.5,0l-2.5,-0.6l-2.5,-1.1l-1.8,-1.3l-1.7,-1.8l-1.5,-2.2l-1,-2.5l-0.5,-2.5l-0.1,-2.5l0.4,-2l0.8,-2l1.4,-2.1l2,-1.9l2,-1.3l2.5,-1l2.5,-0.5l2.5,0l2.5,0.5l2.5,1l2,1.3l1.9,2l1.3,2l0.9,2l0.5,2.5l0,2.5l-0.5,2.5l-1,2.5l-1.4,2l-1.7,1.7l-2,1.3l-2.5,1.1l-2.5,0.4zM148.5,1836.1l-2.5,-0.3l-2.5,-1.2l-2,-2.4l-0.8,-2.6l0.3,-2.5l1.5,-2.6l2.5,-1.8l2.5,-0.6l3,0.4l2.5,1.5l1.6,2.1l0.7,2.5l-0.3,2.5l-1.5,2.6l-2.5,1.8l-2.5,0.6zM147.5,1902.6l-2.5,0.3l-2.5,-0.3l-2.5,-0.7l-2,-1.1l-2,-1.7l-1.2,-1.5l-1.1,-2l-0.6,-2.5l0,-2l0.4,-2l0.8,-2l1.4,-2l1.8,-1.7l2,-1.3l2.5,-1.1l2.5,-0.6l2,-0.1l2,0.3l2,0.8l2,1.2l1.7,1.5l1.6,2l1.1,2l0.5,2l0.1,2l-0.3,2l-0.8,2l-1.3,2l-1.6,1.7l-1.9,1.3l-2.1,1l-2,0.5zM248.5,1905.2l-3.5,0.3l-3.5,-1l-1.5,-1l-1.5,-1.5l-1,-1.4l-0.9,-2l-0.4,-2l0,-2l0.5,-2l0.7,-1.5l2.1,-2.5l1.5,-1l2,-0.9l2,-0.4l2,0.1l3.5,1.1l1.6,1.1l1.4,1.4l1.6,3.1l0.4,2l0,2l-0.4,2l-0.7,1.5l-1,1.5l-1.4,1.3l-1.5,1l-2,0.8zM147.5,1898.2l-3,0.4l-2.5,-0.6l-2.5,-1.7l-1.4,-2.2l-0.3,-2.5l0.6,-2.5l1.6,-2l2.5,-1.5l3,-0.6l2.8,0.6l2.3,1.5l1.7,2.5l0.3,2.5l-0.7,2.5l-1.9,2.3l-2.5,1.3zM248,1901.2l-2.5,0.3l-2,-0.5l-1.8,-1.4l-1.2,-2l-0.2,-2l0.4,-2l1.3,-1.8l2,-1.2l2.5,-0.3l2,0.6l1.6,1.2l1.2,2l0.3,2l-0.6,2.3l-1.2,1.7l-1.8,1.1z" stroke="#111" stroke-width="1.9" fill="none" stroke-linejoin="round"/>
<path d="M377 1799h1.1m3.4 2.5h1.1m0.4 -3h1.1m-23.1 7h1.1m9.9 0.5h1.1m-0.1 2h1.1m-0.1 -2.5h1.1m-15.1 8.5h1.1m6.9 -1h1.1m2.9 -3h1.1m-0.1 4.5h1.1m-1.1 -0.5h1.1m0.4 -1.5h1.1m0.9 0h1.1m-1.1 -3.5h1.1m1.4 4.5h1.1m4.4 0h1.1m-35.1 4h1.1m0.9 -0.5h1.1m2.9 -1h1.1m-0.1 4h1.1m2.4 -2.5h1.1m-0.6 0h1.1m-0.1 -1.5h1.1m3.4 2h1.1m2.9 0h1.1m0.4 -1h1.1m-0.6 2.5h1.1m-0.1 -3h1.1m-0.6 -0.5h1.1m0.9 3.5h1.1m-0.1 -3.5h1.1m-0.6 3.5h1.1m-0.6 0.5h1.1m-0.6 -3h1.1m0.4 -1h1.1m3.4 4h1.1m9.9 -1.5h1.1m-1.1 -2h1.1m86.4 4h1.1m-131.1 2.5h1.1m4.9 -2h1.1m3.9 5.5h1.1m-1.1 -2h1.1m0.4 1.5h1.1m-0.6 -2.5h1.1m-0.6 2h1.1m1.9 -4.5h1.1m0.9 2h1.1m0.9 -1h1.1m4.4 2.5h1.1m0.4 -3.5h1.1m-0.6 1h1.1m3.9 2h1.1m-0.6 -3h1.1m8.4 3.5h1.1m4.9 0.5h1.1m-52.6 3.5h1.1m5.9 0h1.1m-0.6 2h1.1m-1.1 1.5h1.1m-1.1 -3h1.1m-0.6 -0.5h1.1m0.9 -1h1.1m-0.1 4h1.1m0.4 -3h1.1m-0.1 0.5h1.1m0.4 0.5h1.1m0.9 0.5h1.1m-0.6 -1.5h1.1m1.4 0.5h1.1m0.9 2.5h1.1m-0.1 -2h1.1m-0.6 -0.5h1.1m-0.6 0h1.1m4.4 3h1.1m-0.1 -1h1.1m0.9 -1h1.1m8.9 1.5h1.1m36.4 -4h1.1m-86.1 6.5h1.1m6.9 2h1.1m-0.6 2h1.1m3.4 -2h1.1m0.4 2h1.1m-0.1 0h1.1m-0.6 -2.5h1.1m-0.6 -1.5h1.1m-0.6 3.5h1.1m0.4 1.5h1.1m-0.6 -5h1.1m1.4 5h1.1m-0.6 -5.5h1.1m2.4 0h1.1m-0.6 0h1.1m-0.6 5h1.1m-0.1 -4.5h1.1m-0.6 0.5h1.1m-1.1 4h1.1m0.4 -4.5h1.1m-0.6 3.5h1.1m-1.1 -0.5h1.1m-0.6 0h1.1m-0.6 -1.5h1.1m-0.6 1.5h1.1m0.9 -0.5h1.1m-0.6 -1h1.1m0.4 -0.5h1.1m0.4 0.5h1.1m-0.6 2h1.1m3.4 -2h1.1m-0.6 -1h1.1m-0.6 3h1.1m1.4 -1h1.1m-45.6 4h1.1m11.4 -0.5h1.1m0.4 0h1.1m2.9 0h1.1m-0.1 3.5h1.1m-0.6 -3.5h1.1m-1.1 1.5h1.1m1.4 -1.5h1.1m-0.1 2h1.1m-0.6 -2h1.1m4.9 3h1.1m-0.6 -3h1.1m-1.1 1.5h1.1m-0.1 -1.5h1.1m1.4 -0.5h1.1m1.4 3h1.1m-0.1 0.5h1.1m3.4 1h1.1m-0.6 -1h1.1m3.9 1.5h1.1m8.9 0h1.1m1.9 -1h1.1m3.4 1h1.1m5.4 -1.5h1.1m101.4 -1h1.1m3.9 1h1.1m-170.1 4h1.1m0.4 1h1.1m6.9 -1h1.1m0.9 3h1.1m-1.1 -5h1.1m-0.6 4.5h1.1m-0.1 -2.5h1.1m-1.1 1.5h1.1m-0.6 -1h1.1m1.4 2h1.1m-0.6 -2.5h1.1m-0.6 -1.5h1.1m1.9 2h1.1m0.4 -1h1.1m-0.6 3.5h1.1m-0.6 -3.5h1.1m1.4 -1.5h1.1m0.4 0.5h1.1m-0.6 2.5h1.1m0.4 -1h1.1m2.9 1h1.1m2.4 -1h1.1m0.4 -0.5h1.1m4.9 2.5h1.1m0.4 -3.5h1.1m18.9 4.5h1.1m10.4 -3h1.1m26.9 3.5h1.1m21.4 -4h1.1m-141.6 8.5h1.1m8.4 1.5h1.1m8.4 -2.5h1.1m2.4 -2h1.1m0.9 1.5h1.1m1.4 1.5h1.1m0.4 1.5h1.1m-1.1 -2.5h1.1m-1.1 2.5h1.1m0.4 -2.5h1.1m-0.1 -0.5h1.1m-0.6 2.5h1.1m0.9 -1.5h1.1m1.9 -1.5h1.1m-0.1 1.5h1.1m6.9 -3h1.1m10.4 3h1.1m1.9 -1h1.1m5.4 3h1.1m3.9 -1.5h1.1m-0.1 1h1.1m24.4 -3.5h1.1m7.9 0.5h1.1m-0.1 1h1.1m1.9 -2h1.1m52.4 4h1.1m17.9 -0.5h1.1m-184.6 3.5h1.1m17.9 1h1.1m0.9 2h1.1m-0.1 -3h1.1m0.4 1.5h1.1m-0.1 -2.5h1.1m-0.1 0.5h1.1m-0.1 -1h1.1m1.9 3.5h1.1m-0.1 0.5h1.1m-1.1 -1h1.1m-1.1 -0.5h1.1m1.4 0h1.1m-0.1 -2h1.1m0.4 3.5h1.1m3.9 -1h1.1m5.4 -3.5h1.1m3.4 6h1.1m-0.6 -4h1.1m10.9 1h1.1m29.9 0.5h1.1m2.4 -2.5h1.1m8.9 -0.5h1.1m14.9 5h1.1m0.4 -3h1.1m0.4 1.5h1.1m0.9 -2.5h1.1m0.4 -1.5h1.1m20.9 5h1.1m0.9 -5h1.1m-0.6 4.5h1.1m-162.1 3h1.1m19.9 0h1.1m-1.1 2h1.1m11.9 -1.5h1.1m4.4 3h1.1m2.4 0h1.1m2.9 -4.5h1.1m-0.6 0.5h1.1m-0.6 0.5h1.1m3.4 3.5h1.1m-1.1 -2h1.1m3.9 -1h1.1m2.9 -1.5h1.1m3.9 1.5h1.1m19.4 -1.5h1.1m4.9 1h1.1m1.9 3.5h1.1m6.4 -1.5h1.1m18.9 -1.5h1.1m12.4 -1h1.1m41.4 2.5h1.1m6.4 1h1.1m-179.1 6.5h1.1m2.9 0.5h1.1m2.4 -2.5h1.1m5.9 -3h1.1m-0.6 1h1.1m-0.6 -1h1.1m2.9 0h1.1m6.9 0h1.1m8.9 0.5h1.1m12.9 3h1.1m5.9 -3.5h1.1m4.9 2h1.1m9.4 -2h1.1m7.4 0.5h1.1m5.9 3.5h1.1m15.4 0.5h1.1m1.4 -2h1.1m8.9 0.5h1.1m1.4 1.5h1.1m22.4 1.5h1.1m-151.6 0.5h1.1m63.9 0.5h1.1m-1.1 0h1.1m1.4 1h1.1m-0.1 2h1.1m0.4 0h1.1m1.4 1.5h1.1m-1.1 -3h1.1m3.4 1.5h1.1m0.9 -2h1.1m-0.6 2h1.1m-1.1 1.5h1.1m-0.6 -2.5h1.1m12.9 1h1.1m14.9 1h1.1m0.9 -2h1.1m17.4 -2h1.1m5.9 -0.5h1.1m-48.1 5.5h1.1m1.4 0h1.1m8.9 2.5h1.1m44.4 0.5h1.1m18.4 -3h1.1m-177.6 6.5h1.1m-1.6 8h1.1m95.4 9h1.1m5.4 -1h1.1m58.9 -2.5h1.1m-162.1 4.5h1.1m2.9 4.5h1.1m-0.1 -3h1.1m66.9 3.5h1.1m15.9 -5h1.1m5.9 3h1.1m7.9 -3.5h1.1m6.4 3h1.1m-124.6 7h1.1m80.4 -3.5h1.1m1.4 1.5h1.1m39.4 -1h1.1m-0.1 1.5h1.1m-0.6 2.5h1.1m27.9 0.5h1.1m6.9 -2h1.1m-138.6 3h1.1m26.9 5.5h1.1m8.9 -0.5h1.1m0.4 -0.5h1.1m1.4 -1h1.1m-0.1 -0.5h1.1m4.9 -1h1.1m13.4 0.5h1.1m49.9 -2h1.1m6.4 0h1.1m-1.1 1.5h1.1m0.9 1.5h1.1m-101.6 2.5h1.1m15.9 5h1.1m-35.1 9.5h1.1" stroke="#111" stroke-width="1.1" fill="none"/>
<path d="M380.2,1922.1l-5.5,0.4l-6,-0.3l-5.5,-0.9l-5.5,-1.5l-5,-2.1l-4.5,-2.7l-4,-3.3l-3.2,-3.6l-2.3,-4l-1.3,-4l-0.5,-4l0.4,-4l1.3,-4l2.3,-4l2.9,-3.5l3.9,-3.3l5,-3l6.5,-2.6l7.5,-1.7l7,-0.5l7.5,0.5l7.5,1.7l6,2.3l9.3,4.6l4.2,1.3l4.5,0.5l16.5,0.6l15,2.3l2.5,0l2.5,-0.5l9,-3.8l5,-1.5l5,-0.7l5,0.1l3.5,0.6l4,1.2l3.5,1.6l3,1.9l2.7,2.4l2.1,2.5l1.7,3l1.1,3l0.5,3.5l-0.3,3.5l-1.1,3.5l-2,3.5l-2.7,3l-3.5,2.7l-4,2.1l-4,1.3l-4.5,0.8l-4.5,0.2l-4.5,-0.5l-4.5,-1.2l-4,-1.8l-3.5,-2.3l-2.5,-2.3l-4.5,-4.8l-1.5,-1.2l-2.5,-0.9l-3,-0.1l-10.5,1.1l-10.5,0.7l-4.5,1l-3.3,1.7l-7.2,6.6l-3,2.2l-3,1.8l-3.5,1.7l-4,1.4l-4,1.1l-4.5,0.7zM375.7,1920.6l-5.5,-0.1l-5.5,-0.8l-5.5,-1.4l-5,-2.1l-4.5,-2.7l-3.5,-2.9l-3,-3.5l-2.2,-4l-1.2,-4l-0.3,-4l0.7,-4l1.6,-4l2.4,-3.5l3.5,-3.5l4,-2.9l4.5,-2.3l5.5,-1.9l6,-1.2l6,-0.4l6,0.3l5.5,1l5,1.5l4,1.7l8.2,4.2l4.4,1.5l4.4,0.5l11.5,0.1l6.5,0.5l5,0.7l8,1.9l3,0.4l2,-0.2l2,-0.5l8.5,-4.1l5,-1.7l6,-0.8l5.5,0.2l3.5,0.8l3,1l3,1.5l3,2.1l2.2,2.1l1.9,2.5l1.3,2.5l0.8,2.5l0.4,3.5l-0.3,3l-1.2,3.5l-1.8,3l-2.8,3l-3,2.2l-4,2l-3.5,1.1l-4.5,0.7l-4.5,0l-4.5,-0.7l-4,-1.4l-3.5,-1.8l-3,-2.1l-2.5,-2.5l-4,-4.9l-1.5,-1.3l-2,-0.9l-2.5,-0.2l-12,1.7l-13,0.8l-3.9,0.8l-3.6,1.9l-8,7.5l-3,2.1l-3,1.6l-4,1.7l-4.5,1.4l-5,0.9l-4.5,0.4zM377.7,1918.6l-5,0.1l-5,-0.4l-5,-1l-4.5,-1.5l-4,-2l-4,-2.7l-3.2,-3l-2.2,-3l-1.7,-3.5l-0.8,-3.5l-0.1,-3.5l0.7,-3.5l1.5,-3.5l2.3,-3.3l3,-3l3.5,-2.5l5.5,-2.8l6,-1.8l7,-0.9l7,0.2l5.5,0.9l5,1.6l4.5,1.9l7.8,4.2l4.2,1.5l4.5,0.5l12,-0.1l7,0.6l6,1.2l7.5,2.7l2.5,0.5l3,-0.8l8.5,-4.9l4.5,-1.9l5.5,-1.3l6,0l3.5,0.6l3,0.9l3,1.4l2.5,1.6l2.2,2l2,2.5l1.3,2.5l0.8,2.5l0.3,3l-0.3,3l-1.1,3l-1.9,3l-2.4,2.5l-2.9,2.1l-3.5,1.7l-3.5,1l-4.5,0.6l-4.5,-0.1l-4.5,-1l-3.5,-1.4l-3.1,-1.9l-2.9,-2.5l-7,-9.3l-1.5,-0.9l-2,-0.3l-13,2.8l-5,0.5l-10,0.4l-4.5,0.9l-3.5,1.9l-7.5,7.3l-2.5,1.9l-3,1.9l-3.5,1.6l-4,1.4l-3.5,0.8l-4.5,0.6zM379.7,1916.6l-4.5,0.4l-4.5,-0.1l-4.5,-0.6l-4,-1.1l-4,-1.5l-3.5,-1.9l-3.5,-2.5l-2.6,-2.7l-2,-3l-1.3,-3l-0.7,-3.5l0.2,-3.5l1,-3.5l1.6,-3l1.9,-2.5l2.9,-2.7l2.5,-1.7l3,-1.7l6.5,-2.3l4,-0.8l3.5,-0.3l7,0.2l5.5,1l4.5,1.4l4.5,2.1l8,4.5l4,1.5l4,0.6l12,-0.4l7,0.6l3.5,0.7l3,1.2l1.9,1.1l1.4,1.5l0.2,1.5l-1,1.5l-2.5,1.5l-3.5,1.2l-7,1.1l-12.5,0.4l-4,0.9l-3,2l-7,7.3l-4.5,3.4l-3,1.6l-3.5,1.4l-7,1.7zM474.2,1912.2l-5.5,0.3l-5,-0.8l-4.5,-1.8l-4,-2.8l-1.9,-2l-1.8,-2.5l-1.5,-3l-1.2,-3l-0.3,-2l0.2,-1.5l0.6,-1.5l1.2,-1.5l3.7,-3.2l4.5,-2.8l4.5,-1.7l4.5,-0.9l4.5,0l4.5,0.9l4.5,1.9l3.5,2.5l2.7,3.3l1.1,2l0.6,2l0.3,4l-1,4l-2.2,3.5l-3.2,3l-4.3,2.3l-4.5,1.3zM375.2,1915.1l-4.5,-0.1l-4,-0.6l-4,-1l-4,-1.7l-3.5,-2.1l-3,-2.5l-2.1,-2.5l-1.7,-3l-0.9,-3l-0.3,-3.5l0.6,-3l1.2,-3l1.7,-2.5l2.5,-2.7l3,-2.2l3.5,-1.9l5,-1.7l5,-1l5,-0.2l5.5,0.5l4.5,1l5,1.9l4,2.2l8.5,5.4l4.5,2l3.5,0.4l8,-1.1l4.6,-0.1l2.9,0.4l1.8,0.6l1.2,0.7l0.7,0.8l-0.1,1l-1.1,1l-3.5,1.1l-5,0.3l-9,-0.6l-3,0.6l-1.5,0.8l-2,1.6l-7.3,8.7l-2.2,2.1l-3,2.2l-4,2.1l-4,1.3l-4.5,1l-4,0.3zM473.7,1910.6l-3,0.3l-3,-0.1l-3,-0.5l-2.5,-0.8l-2.5,-1.3l-2,-1.3l-1.9,-1.8l-1.6,-2l-1.2,-2l-0.9,-2.5l-0.4,-2.5l0.1,-2l0.7,-2l1.4,-2l1.8,-1.8l2,-1.6l3.5,-1.9l4,-1.2l4,-0.5l4,0.2l4,1l3,1.4l3,2.2l2.3,2.7l1.4,3l0.5,3l-0.4,3.5l-1.3,3l-2,2.5l-3,2.4l-3.5,1.7l-3.5,0.9zM378.2,1912.6l-3.5,0.3l-4,-0.2l-3.5,-0.5l-3.5,-1l-3,-1.2l-3,-1.8l-2.5,-2l-1.9,-2.1l-1.6,-2.5l-0.9,-2.5l-0.4,-2.5l0.1,-2.5l0.7,-2.5l1.2,-2.5l2,-2.5l2.3,-2.1l4.5,-2.7l5.5,-1.9l5.5,-0.7l6,0.2l5.5,1.2l5.5,2.2l5,3.3l4.2,4l1.4,2.5l0.2,1.5l-0.2,1.5l-2,4.5l-3.3,4.5l-3.3,3l-3.5,2.2l-4.5,1.8l-5,1zM473.2,1908.6l-5,0.2l-4.5,-1l-4,-2.2l-1.7,-1.5l-1.6,-2l-1,-2l-0.6,-2l-0.2,-2l0.4,-2l0.8,-2l1.1,-1.5l3.3,-2.8l3,-1.5l3,-0.9l3.5,-0.3l3.5,0.2l3,0.9l3,1.4l2.5,2l1.6,2l1.2,2.5l0.4,2.5l-0.4,3l-1,2.5l-1.8,2.3l-2.5,2l-3,1.4l-3,0.8zM377.2,1910.1l-6,0l-3,-0.4l-3,-0.9l-2.5,-1l-2.5,-1.5l-2.2,-1.7l-1.7,-2l-1.2,-2l-0.8,-2l-0.3,-2l0.2,-2.5l0.8,-2.5l1.1,-2l1.7,-2l1.9,-1.6l4,-2.2l4.5,-1.5l4.5,-0.6l5,0.2l4.5,1l4.5,1.9l3.6,2.3l2.9,3l1.6,3l0.1,3l-1.1,3.5l-1.9,3l-2.7,2.7l-3.5,2.3l-4,1.6l-4.5,0.9zM473.2,1906.1l-4,0.4l-4,-0.8l-3.1,-1.6l-2.6,-2.5l-1.4,-3l-0.1,-3l1.2,-3l2.5,-2.6l2,-1.2l2.5,-0.9l2.5,-0.4l3,0.1l2.5,0.5l2.5,1.1l2,1.3l1.5,1.6l1.1,2l0.5,2l-0.1,2.5l-0.7,2l-1.4,2l-1.7,1.5l-2.2,1.2l-2.5,0.8zM377.7,1906.6l-5,0.3l-4.5,-0.8l-4,-1.7l-3,-2.4l-1.9,-2.9l-0.4,-1.5l-0.2,-2l0.4,-2l0.6,-1.5l2.4,-3l2.6,-1.8l3.5,-1.4l3.5,-0.7l3.5,-0.1l3.5,0.5l3.5,1.1l3,1.6l2.5,2.2l1.4,2.1l0.6,2.5l-0.2,2.5l-1.1,2.5l-1.7,2.1l-2.5,2l-3,1.4l-3.5,1zM472.2,1902.7l-2.5,0.3l-2.5,-0.4l-2,-1l-1.7,-1.5l-1,-2l0,-2l0.8,-2l1.4,-1.5l3,-1.4l3.5,-0.1l3.1,1l2.3,2l0.9,2.5l-0.5,2.5l-1.8,2.2l-3,1.4zM375.2,1902.6l-3,-0.1l-3,-0.8l-2,-1.1l-1.8,-2l-0.7,-2l0.2,-2l1.1,-2l1.7,-1.5l1.9,-1l1.7,-0.5l2.4,-0.3l2,0.1l2,0.4l2,0.8l1.5,1l1.4,1.5l0.7,1.5l0.2,1.5l-0.3,1.5l-0.8,1.5l-1.6,1.5l-1.6,1l-2,0.7l-2,0.3z" stroke="#111" stroke-width="1.9" fill="none" stroke-linejoin="round"/>
<path d="M119.1,1787.2L185.7,1787.2L185.7,1847.1L119.1,1866.4Z" fill="none" stroke="#111" stroke-width="1.8"/>
<path d="M119.1,1866.4L185.7,1847.1L283,1847.1L283,1930.4L119.1,1930.4Z" fill="none" stroke="#111" stroke-width="1.8"/>
<path d="M343.3,1787.2L410.6,1787.2L410.6,1847.1L343.3,1866.4Z" fill="none" stroke="#111" stroke-width="1.8"/>
<path d="M343.3,1866.4L410.6,1847.1L507.9,1847.1L507.9,1930.4L343.3,1930.4Z" fill="none" stroke="#111" stroke-width="1.8"/>
<text transform="translate(149.8,1780.7)" font-size="21.5" text-anchor="middle">25.3</text>
<text transform="translate(283,1840)" font-size="21.5" text-anchor="middle">74.8</text>
<text transform="translate(373.6,1780.7)" font-size="21.5" text-anchor="middle">6.96</text>
<text transform="translate(503.8,1840)" font-size="21.5" text-anchor="middle">93.0</text>
<path d="M201.6 1948.1v6M214.3 1948.1v3M221.8 1948.1v3M227.1 1948.1v3M231.2 1948.1v3M234.5 1948.1v3M237.3 1948.1v3M239.8 1948.1v3M242 1948.1v3M243.9 1948.1v6M256.6 1948.1v3M264.1 1948.1v3M269.4 1948.1v3M273.5 1948.1v3M276.8 1948.1v3M279.6 1948.1v3M282.1 1948.1v3M284.3 1948.1v3M286.2 1948.1v6M131.3 1948.1v6M113 1948.1v3M150 1948.1v3M165 1948.1v3M98 1948.1v3M90 1873h-6M90 1842.9h-3M90 1825.3h-3M90 1812.8h-3M90 1803.1h-3M90 1795.2h-3M90 1788.5h-3M90 1782.7h-3M90 1777.6h-3M90 1773h-6M90 1926.7h-6M90 1910h-3M90 1940h-3M90 1890h-3M90 1745h-3M90 1755h-3M90 1762h-3" stroke="#111" stroke-width="1.1" fill="none"/>
<path d="M430.8 1948.1v6M443.5 1948.1v3M451 1948.1v3M456.3 1948.1v3M460.4 1948.1v3M463.7 1948.1v3M466.5 1948.1v3M469 1948.1v3M471.2 1948.1v3M473.1 1948.1v6M485.8 1948.1v3M493.3 1948.1v3M498.6 1948.1v3M502.7 1948.1v3M506 1948.1v3M508.8 1948.1v3M511.3 1948.1v3M513.5 1948.1v3M515.4 1948.1v6M360.5 1948.1v6M342.2 1948.1v3M379.2 1948.1v3M394.2 1948.1v3M327.2 1948.1v3M319.2 1873h-6M319.2 1842.9h-3M319.2 1825.3h-3M319.2 1812.8h-3M319.2 1803.1h-3M319.2 1795.2h-3M319.2 1788.5h-3M319.2 1782.7h-3M319.2 1777.6h-3M319.2 1773h-6M319.2 1926.7h-6M319.2 1910h-3M319.2 1940h-3M319.2 1890h-3M319.2 1745h-3M319.2 1755h-3M319.2 1762h-3" stroke="#111" stroke-width="1.1" fill="none"/>
<text transform="translate(51.8,1781)" font-size="22.5"><tspan>10</tspan><tspan font-size="13.9" dy="-9">4</tspan></text>
<text transform="translate(51.8,1881)" font-size="22.5"><tspan>10</tspan><tspan font-size="13.9" dy="-9">3</tspan></text>
<text transform="translate(69,1934.5)" font-size="22.5" text-anchor="middle">0</text>
<text transform="translate(131.3,1973.5)" font-size="22.5" text-anchor="middle">0</text>
<text transform="translate(188,1973.5)" font-size="22.5"><tspan>10</tspan><tspan font-size="13.9" dy="-9">3</tspan></text>
<text transform="translate(230,1973.5)" font-size="22.5"><tspan>10</tspan><tspan font-size="13.9" dy="-9">4</tspan></text>
<text transform="translate(278,1973.5)" font-size="22.5"><tspan>10</tspan><tspan font-size="13.9" dy="-9">5</tspan></text>
<text transform="translate(92.5,1995) scale(0.973,1)" font-size="26"><tspan>CX3CR1</tspan></text>
<line x1="205.3" y1="1986.6" x2="529" y2="1986.6" stroke="#111" stroke-width="1.8"/>
<path d="M540,1986.6 L528,1981.6 L528,1991.6 Z" fill="#111"/>
<line x1="25.9" y1="1880" x2="25.9" y2="1739.8" stroke="#111" stroke-width="1.8"/>
<path d="M25.9,1728.8 L20.9,1740.8 L30.9,1740.8 Z" fill="#111"/>
<text transform="translate(36.5,1919.2) rotate(-90)" font-size="25" text-anchor="middle">TCF-1</text>
<text transform="translate(168.3,2072.5)" font-size="29"><tspan>Gp33+ T</tspan><tspan font-size="18" dy="9">EX</tspan><tspan dy="-9"> cells, day 21</tspan></text>
<line x1="98" y1="2089.2" x2="545.6" y2="2089.2" stroke="#231f20" stroke-width="1.8"/>
<text transform="translate(172,2115) scale(1.029,1)" font-size="25"><tspan>Ctrl</tspan></text>
<text transform="translate(342.2,2115)" font-size="25"><tspan font-style="italic">Satb1</tspan><tspan font-size="15.5" dy="-8.5">m1Anu/m1Anu</tspan></text>
<rect x="100.6" y="2121.4" width="216.8" height="217.1" fill="none" stroke="#111" stroke-width="2"/>
<rect x="328.5" y="2121.4" width="217.1" height="217.1" fill="none" stroke="#111" stroke-width="2"/>
<path d="M203.5 2132h1.1m18.9 6h1.1m-50.1 8h1.1m42.9 -0.5h1.1m26.4 3h1.1m0.4 2h1.1m3.4 -2h1.1m-117.1 6h1.1m-0.6 -3h1.1m2.4 2h1.1m-0.1 -0.5h1.1m1.4 1.5h1.1m-0.1 0.5h1.1m-1.1 0.5h1.1m-0.6 1h1.1m0.4 -0.5h1.1m1.4 -3h1.1m2.9 -1h1.1m-1.1 3.5h1.1m-0.6 0.5h1.1m-0.6 0.5h1.1m-1.1 -0.5h1.1m0.4 0.5h1.1m3.4 -4.5h1.1m-0.6 4.5h1.1m1.4 0h1.1m-0.1 -2.5h1.1m3.9 1h1.1m32.9 -1.5h1.1m49.4 -1.5h1.1m21.9 0h1.1m-0.6 0.5h1.1m-152.1 7.5h1.1m8.9 -0.5h1.1m11.4 -2.5h1.1m0.9 0h1.1m6.9 0.5h1.1m0.9 1h1.1m-1.1 -1.5h1.1m1.4 2.5h1.1m5.9 1.5h1.1m-0.6 -3.5h1.1m-0.1 4h1.1m2.4 0h1.1m0.4 -3h1.1m-0.6 4.5h1.1m8.9 -4h1.1m3.4 -0.5h1.1m5.9 -1.5h1.1m9.4 3.5h1.1m7.9 -1.5h1.1m2.4 2.5h1.1m47.4 0h1.1m16.4 0h1.1m-171.6 2.5h1.1m3.9 2.5h1.1m-0.1 1.5h1.1m0.9 -2.5h1.1m1.9 1.5h1.1m-0.6 0h1.1m1.9 -3h1.1m-0.6 0.5h1.1m-1.1 0h1.1m40.4 -1h1.1m1.4 2.5h1.1m-0.1 -0.5h1.1m-0.1 3h1.1m2.4 -1h1.1m4.4 -0.5h1.1m42.9 0.5h1.1m0.9 -1.5h1.1m1.4 -2h1.1m7.4 2.5h1.1m7.4 1h1.1m1.9 -1.5h1.1m16.9 -1h1.1m13.9 2h1.1m-174.6 4.5h1.1m4.4 1h1.1m-0.6 2.5h1.1m0.4 -5h1.1m-0.6 1h1.1m-0.1 -0.5h1.1m0.4 -1h1.1m-1.1 2h1.1m-0.6 -1h1.1m-1.1 0h1.1m54.9 -0.5h1.1m1.9 4h1.1m-1.1 -5h1.1m-1.1 4.5h1.1m-0.6 0.5h1.1m1.9 0.5h1.1m-0.1 0.5h1.1m-0.1 -2h1.1m8.4 -1.5h1.1m3.4 0h1.1m12.9 1h1.1m2.9 2.5h1.1m2.4 -4h1.1m1.9 1h1.1m1.4 2.5h1.1m7.4 -3h1.1m-0.1 1h1.1m-0.1 2.5h1.1m2.4 -5h1.1m11.9 -0.5h1.1m1.9 2.5h1.1m5.4 2h1.1m28.4 -3.5h1.1m-180.1 10h1.1m0.4 -4h1.1m1.9 0.5h1.1m62.4 -1h1.1m0.9 2h1.1m0.4 1h1.1m0.4 -0.5h1.1m1.9 -1.5h1.1m2.9 -1h1.1m12.4 2h1.1m2.4 2h1.1m0.4 0h1.1m-0.1 -0.5h1.1m2.9 0h1.1m2.9 -4h1.1m-0.6 3h1.1m10.4 0.5h1.1m1.4 -2h1.1m-0.1 1h1.1m1.4 0h1.1m-0.6 2h1.1m3.9 -1h1.1m0.4 -0.5h1.1m1.4 -1h1.1m3.4 1.5h1.1m28.9 -2.5h1.1m-179.1 8h1.1m2.4 1.5h1.1m2.4 -1h1.1m1.9 0h1.1m-1.1 -3h1.1m70.4 4h1.1m3.4 -3.5h1.1m5.4 0.5h1.1m3.4 3.5h1.1m0.4 -2h1.1m0.9 0h1.1m-0.6 -3.5h1.1m1.4 4.5h1.1m3.4 -3.5h1.1m0.4 3.5h1.1m0.4 -0.5h1.1m0.4 2h1.1m3.4 -1.5h1.1m0.9 0h1.1m0.4 -0.5h1.1m1.9 0.5h1.1m-0.6 1h1.1m1.4 -1.5h1.1m-0.6 -4h1.1m-0.6 2.5h1.1m1.9 -1.5h1.1m2.4 3.5h1.1m-0.1 0h1.1m3.9 -3h1.1m5.9 0h1.1m8.9 1h1.1m8.9 -2.5h1.1m27.4 5h1.1m-201.6 4h1.1m10.9 -1h1.1m-0.1 1.5h1.1m-0.6 0h1.1m-1.1 -1h1.1m72.4 1.5h1.1m-1.1 -2h1.1m-0.1 2h1.1m-0.1 -3h1.1m0.4 -0.5h1.1m0.9 0h1.1m-1.1 1.5h1.1m-0.6 2h1.1m0.9 -0.5h1.1m-0.1 -1.5h1.1m4.9 0h1.1m4.9 3.5h1.1m2.9 -2.5h1.1m3.4 0h1.1m-0.1 -2.5h1.1m6.9 3h1.1m0.9 1.5h1.1m-0.1 0h1.1m-0.1 -4.5h1.1m-0.1 0h1.1m2.4 3h1.1m2.9 -1h1.1m1.9 -0.5h1.1m0.4 0.5h1.1m-0.1 3h1.1m0.9 -2.5h1.1m11.9 2h1.1m1.4 -2h1.1m25.9 2h1.1m-177.6 1.5h1.1m1.4 2.5h1.1m0.9 2.5h1.1m-1.1 -3.5h1.1m69.9 3.5h1.1m-1.1 -1.5h1.1m-0.1 -0.5h1.1m-1.1 -1.5h1.1m-0.1 0h1.1m-0.1 -0.5h1.1m-0.1 4h1.1m1.4 0.5h1.1m1.4 -4.5h1.1m2.9 4.5h1.1m0.9 -5.5h1.1m0.4 1h1.1m0.4 0h1.1m0.4 4h1.1m5.4 -1.5h1.1m0.9 -0.5h1.1m-0.6 1h1.1m5.4 -2.5h1.1m1.9 2h1.1m0.4 -2h1.1m2.4 4h1.1m4.4 -5.5h1.1m0.9 1.5h1.1m-0.6 -2h1.1m2.4 3.5h1.1m2.9 1h1.1m2.4 -0.5h1.1m5.4 -2h1.1m2.9 3h1.1m3.9 0.5h1.1m17.9 0h1.1m-177.1 4.5h1.1m-0.1 -3h1.1m4.9 -0.5h1.1m-0.1 4h1.1m-0.1 -4h1.1m0.4 4.5h1.1m65.4 -3h1.1m-0.1 1.5h1.1m-0.6 0.5h1.1m3.9 -3h1.1m4.9 0.5h1.1m4.9 3.5h1.1m2.9 -2.5h1.1m5.9 2h1.1m-0.1 0.5h1.1m-0.1 -2h1.1m4.4 1h1.1m0.9 -3h1.1m0.9 0.5h1.1m0.9 1h1.1m1.9 -1h1.1m-0.6 0h1.1m2.9 0.5h1.1m0.4 -1h1.1m-0.6 2h1.1m1.4 -1h1.1m3.4 1.5h1.1m-0.1 -2h1.1m-0.6 2.5h1.1m2.4 -1h1.1m1.9 2h1.1m3.9 -2h1.1m4.9 0h1.1m2.9 -2h1.1m1.9 3h1.1m0.4 0.5h1.1m2.9 -3h1.1m6.9 -1h1.1m13.9 4.5h1.1m-199.6 5.5h1.1m0.4 -2h1.1m11.9 3h1.1m3.4 -1.5h1.1m1.9 2h1.1m56.4 0h1.1m0.9 -3.5h1.1m-0.1 3.5h1.1m-0.6 -4.5h1.1m-0.6 0.5h1.1m3.9 -1.5h1.1m-0.6 0.5h1.1m-0.6 4.5h1.1m1.9 -2h1.1m-1.1 -1h1.1m0.4 -0.5h1.1m1.4 -0.5h1.1m1.9 -1h1.1m2.4 2.5h1.1m-0.6 0h1.1m7.9 2.5h1.1m-0.1 -4.5h1.1m-0.6 3h1.1m0.9 0h1.1m-0.6 -1h1.1m-0.6 0.5h1.1m-0.1 -3h1.1m-0.1 5.5h1.1m3.9 -5.5h1.1m-0.6 5.5h1.1m0.4 0h1.1m3.9 0h1.1m-0.1 -1h1.1m-0.1 1h1.1m-0.6 -2h1.1m0.4 -2.5h1.1m-1.1 4h1.1m-0.6 -5h1.1m1.9 2.5h1.1m0.9 0.5h1.1m0.4 -3.5h1.1m-0.6 4.5h1.1m-0.1 -2h1.1m-0.1 -1h1.1m0.9 -0.5h1.1m-0.1 -1h1.1m-1.1 3.5h1.1m-1.1 2h1.1m-0.1 -4.5h1.1m0.4 5h1.1m1.4 -1.5h1.1m-0.1 0.5h1.1m-0.6 -2.5h1.1m1.4 -1h1.1m-1.1 1.5h1.1m-0.6 -2.5h1.1m2.4 1.5h1.1m-0.6 3h1.1m8.9 -3h1.1m3.4 4h1.1m0.4 -2.5h1.1m1.9 -2h1.1m4.9 2h1.1m8.4 -0.5h1.1m-1.1 0.5h1.1m-175.6 4.5h1.1m-0.6 0.5h1.1m-0.6 2h1.1m1.4 1h1.1m49.4 -3h1.1m-0.1 -0.5h1.1m-1.1 1h1.1m-0.6 1h1.1m0.4 0.5h1.1m-1.1 -3.5h1.1m2.4 4h1.1m-0.6 -1h1.1m0.9 -1h1.1m-1.1 2.5h1.1m-0.1 -2.5h1.1m0.4 2h1.1m0.9 0.5h1.1m3.9 -2.5h1.1m-0.6 -0.5h1.1m3.4 0h1.1m6.4 2h1.1m6.4 -2h1.1m-0.6 2h1.1m-0.6 -1.5h1.1m0.4 1.5h1.1m2.9 -1.5h1.1m1.9 -1h1.1m-0.6 2.5h1.1m0.4 -2.5h1.1m-1.1 3h1.1m-0.6 -4h1.1m0.4 2.5h1.1m1.4 -2h1.1m0.4 1h1.1m-0.1 2.5h1.1m2.9 -2h1.1m-0.6 1h1.1m2.9 -3h1.1m0.4 3.5h1.1m6.9 -2.5h1.1m-0.1 -1h1.1m-1.1 3.5h1.1m1.4 1h1.1m-0.6 -0.5h1.1m5.9 -4.5h1.1m0.9 3.5h1.1m-0.6 -2h1.1m-0.1 -1h1.1m9.4 0.5h1.1m0.4 0h1.1m0.9 0h1.1m1.9 4h1.1m-168.1 5h1.1m3.4 -0.5h1.1m0.4 -2h1.1m0.4 1.5h1.1m46.9 2.5h1.1m-1.1 0h1.1m-0.6 -3.5h1.1m0.9 3.5h1.1m3.9 -5.5h1.1m-0.6 2.5h1.1m2.4 -2.5h1.1m4.9 0h1.1m3.9 4h1.1m1.4 -1.5h1.1m1.4 2.5h1.1m0.9 -3h1.1m-0.1 3.5h1.1m0.9 -2h1.1m0.4 2h1.1m-1.1 -3.5h1.1m2.4 2.5h1.1m-0.6 -3.5h1.1m-1.1 0.5h1.1m-0.6 3.5h1.1m0.9 -2.5h1.1m-0.1 0h1.1m0.4 2.5h1.1m-0.1 -4.5h1.1m-0.6 2h1.1m3.4 -3h1.1m-0.6 1h1.1m1.4 0h1.1m-0.1 0h1.1m-1.1 3h1.1m2.4 -1.5h1.1m-0.6 -1.5h1.1m0.4 1.5h1.1m2.4 3h1.1m-1.1 -4.5h1.1m-0.1 2.5h1.1m1.9 -1h1.1m-0.6 3h1.1m-1.1 -1.5h1.1m-1.1 -2h1.1m-0.1 2.5h1.1m0.9 -2h1.1m0.4 -2h1.1m2.9 2.5h1.1m-0.1 1h1.1m-0.1 -4h1.1m-0.6 5h1.1m1.9 -0.5h1.1m0.9 0.5h1.1m-0.6 0h1.1m2.9 1h1.1m2.9 -1h1.1m6.4 -1h1.1m0.9 -3.5h1.1m-0.6 3.5h1.1m2.4 1h1.1m5.9 -4.5h1.1m-0.1 0.5h1.1m16.4 5h1.1m-184.1 5h1.1m-0.1 -4h1.1m-0.6 1h1.1m3.9 -1.5h1.1m43.4 2h1.1m-1.1 3h1.1m-0.6 -5h1.1m2.4 2.5h1.1m-1.1 -2.5h1.1m1.4 1h1.1m-1.1 1.5h1.1m0.9 0.5h1.1m-0.6 -3h1.1m2.4 4h1.1m9.4 -3.5h1.1m0.4 0h1.1m-1.1 0h1.1m3.9 4.5h1.1m0.9 -3.5h1.1m-0.6 -1.5h1.1m0.4 3h1.1m-0.6 -1h1.1m-0.6 1h1.1m2.9 -1h1.1m-1.1 -1.5h1.1m0.4 1h1.1m-0.6 1.5h1.1m-1.1 -0.5h1.1m-1.1 1.5h1.1m-0.6 -3h1.1m-0.6 -0.5h1.1m-1.1 2.5h1.1m-1.1 -1h1.1m0.4 -1.5h1.1m-0.1 0.5h1.1m0.9 -1h1.1m1.4 1h1.1m-0.1 3.5h1.1m1.4 0.5h1.1m-0.1 -1h1.1m-0.6 -3h1.1m-0.1 4h1.1m-0.6 0h1.1m-1.1 -1.5h1.1m-0.1 1h1.1m1.4 -3h1.1m-0.6 2.5h1.1m-0.6 -1h1.1m-0.1 -0.5h1.1m5.4 0.5h1.1m-0.6 2h1.1m0.9 -3.5h1.1m-1.1 3.5h1.1m0.4 -2h1.1m2.4 -1.5h1.1m-0.1 2.5h1.1m-0.6 -3.5h1.1m-0.6 2.5h1.1m2.9 -2h1.1m-0.6 4h1.1m8.9 0h1.1m1.9 -5h1.1m2.9 4h1.1m-0.6 0h1.1m2.9 -1h1.1m13.4 1.5h1.1m0.9 -1.5h1.1m-167.6 4.5h1.1m-0.6 2h1.1m46.4 1h1.1m0.9 -4.5h1.1m-0.6 3.5h1.1m2.4 -3h1.1m-0.1 -1h1.1m-0.1 1.5h1.1m0.9 -1h1.1m-1.1 1.5h1.1m1.9 2.5h1.1m-0.6 -1h1.1m0.4 0h1.1m4.4 1.5h1.1m-0.1 -0.5h1.1m1.4 -3.5h1.1m0.4 4h1.1m-0.1 -4.5h1.1m0.4 2.5h1.1m-0.6 -0.5h1.1m-1.1 -2h1.1m-0.6 1h1.1m-0.6 0.5h1.1m0.9 3.5h1.1m0.9 -0.5h1.1m-0.6 -3h1.1m2.4 -1.5h1.1m1.9 4h1.1m-0.6 1h1.1m-1.1 -1.5h1.1m-0.1 2h1.1m-0.6 -4.5h1.1m0.9 3.5h1.1m0.4 -1h1.1m-0.1 -3h1.1m-1.1 2h1.1m-0.6 0.5h1.1m0.9 2.5h1.1m-0.6 -1.5h1.1m-0.1 -0.5h1.1m-0.6 -3h1.1m-1.1 1.5h1.1m1.4 0.5h1.1m-0.1 1.5h1.1m-0.1 -4h1.1m1.4 1.5h1.1m0.9 -0.5h1.1m-0.6 4.5h1.1m2.4 -2.5h1.1m-0.6 2.5h1.1m-0.1 -3.5h1.1m-0.1 -0.5h1.1m-0.6 2h1.1m-0.6 -2h1.1m4.9 -2h1.1m-0.6 2.5h1.1m-0.1 2.5h1.1m0.9 -2h1.1m1.4 -0.5h1.1m0.4 2.5h1.1m-0.6 -2.5h1.1m-0.6 -2h1.1m4.4 2h1.1m-0.6 3.5h1.1m1.4 -1h1.1m-0.1 -0.5h1.1m1.4 -3h1.1m0.4 2h1.1m-0.6 2.5h1.1m-0.6 -5.5h1.1m-0.6 2.5h1.1m-1.1 0h1.1m0.4 3h1.1m-1.1 -1.5h1.1m7.4 0h1.1m7.9 1.5h1.1m14.4 -1h1.1m-183.1 2h1.1m1.4 4.5h1.1m48.9 -2.5h1.1m7.9 1.5h1.1m3.4 -3.5h1.1m3.9 4h1.1m0.9 -0.5h1.1m5.4 -1h1.1m-0.6 2h1.1m-1.1 -1.5h1.1m-1.1 -3h1.1m-0.6 1h1.1m0.9 2.5h1.1m-0.6 -4h1.1m-0.1 0h1.1m-1.1 1.5h1.1m-0.6 0.5h1.1m0.9 -2h1.1m0.4 1h1.1m-1.1 3.5h1.1m1.4 -2.5h1.1m3.4 0h1.1m-0.1 2h1.1m-0.6 -2.5h1.1m2.4 3.5h1.1m4.4 -0.5h1.1m4.4 0.5h1.1m-0.6 -2.5h1.1m-0.6 2.5h1.1m-1.1 -0.5h1.1m1.4 -3.5h1.1m-0.1 3.5h1.1m2.9 -4h1.1m0.4 0.5h1.1m3.4 0h1.1m-0.6 -0.5h1.1m0.4 1.5h1.1m0.9 1h1.1m-0.6 2h1.1m-1.1 -3h1.1m4.4 2.5h1.1m5.4 -3h1.1m0.9 3.5h1.1m-0.6 -2h1.1m-1.1 0h1.1m1.4 1h1.1m-1.1 -0.5h1.1m-0.6 -3h1.1m8.9 4h1.1m15.9 -1.5h1.1m2.9 -3h1.1m-186.6 8h1.1m2.9 1.5h1.1m2.4 0.5h1.1m1.4 -2.5h1.1m-1.1 -2h1.1m-0.6 2.5h1.1m43.9 3h1.1m-0.1 -2h1.1m9.9 0.5h1.1m0.9 -1.5h1.1m-1.1 -0.5h1.1m4.4 3h1.1m2.9 -2.5h1.1m-0.6 3h1.1m1.9 -0.5h1.1m-0.6 -2h1.1m-0.6 1h1.1m1.9 1.5h1.1m2.4 -3h1.1m-0.1 -0.5h1.1m2.4 -1.5h1.1m-0.6 4.5h1.1m2.9 -0.5h1.1m3.4 -4h1.1m-0.1 0.5h1.1m-0.1 1.5h1.1m4.9 3h1.1m-1.1 -0.5h1.1m0.4 -5h1.1m2.4 5.5h1.1m-0.6 -2.5h1.1m1.4 2h1.1m-0.1 -1h1.1m-1.1 1h1.1m-0.1 0h1.1m-0.1 -3h1.1m2.9 2.5h1.1m-0.6 -3.5h1.1m1.4 -0.5h1.1m3.4 3.5h1.1m-0.6 -2.5h1.1m0.4 3h1.1m0.4 1.5h1.1m-1.1 -4h1.1m-0.6 1.5h1.1m0.4 -3.5h1.1m1.9 2h1.1m1.9 1h1.1m0.9 -2h1.1m4.4 1.5h1.1m3.9 2h1.1m-1.1 -0.5h1.1m-0.6 0.5h1.1m7.9 0.5h1.1m12.9 0.5h1.1m-176.1 2.5h1.1m1.4 -1.5h1.1m0.9 1h1.1m-0.6 4h1.1m43.4 -2.5h1.1m-1.1 -2h1.1m-0.1 0h1.1m1.9 -0.5h1.1m2.9 1h1.1m0.4 4h1.1m6.4 -1.5h1.1m1.4 1.5h1.1m4.4 -2h1.1m-0.1 -3h1.1m-1.1 1.5h1.1m1.4 1h1.1m14.9 -1h1.1m-0.6 -1h1.1m0.4 2.5h1.1m1.9 -0.5h1.1m1.9 1.5h1.1m5.9 -2.5h1.1m-0.6 -0.5h1.1m-0.1 2.5h1.1m-0.6 -2h1.1m-0.6 1h1.1m2.4 2h1.1m0.9 -2.5h1.1m-0.6 2h1.1m-1.1 -0.5h1.1m-0.6 -0.5h1.1m0.9 1.5h1.1m2.4 -2.5h1.1m2.4 -1h1.1m1.4 -0.5h1.1m1.4 2.5h1.1m0.4 -2.5h1.1m2.4 1.5h1.1m-0.1 1h1.1m-0.6 -2.5h1.1m5.9 -0.5h1.1m0.4 2.5h1.1m7.4 0.5h1.1m-163.1 2.5h1.1m4.9 0h1.1m3.4 4.5h1.1m0.4 -2h1.1m0.9 -1.5h1.1m-1.1 -1h1.1m2.4 6h1.1m35.9 -3.5h1.1m-0.1 0h1.1m-0.1 -1h1.1m0.9 1.5h1.1m-0.6 -1h1.1m0.4 1.5h1.1m4.4 0.5h1.1m5.4 -3h1.1m0.4 -0.5h1.1m2.9 5.5h1.1m-1.1 -0.5h1.1m-1.1 0.5h1.1m6.9 -0.5h1.1m-0.6 0.5h1.1m1.9 -4h1.1m-0.1 0.5h1.1m1.9 2.5h1.1m-1.1 -1.5h1.1m-0.1 1h1.1m0.9 -2.5h1.1m-0.6 3.5h1.1m-0.6 0h1.1m-1.1 -2.5h1.1m0.4 -1.5h1.1m-0.6 0.5h1.1m0.4 1.5h1.1m-1.1 2h1.1m-0.6 -4.5h1.1m1.4 -0.5h1.1m-0.1 3h1.1m-0.6 -0.5h1.1m-1.1 2.5h1.1m-1.1 -4.5h1.1m3.4 1h1.1m-0.6 3h1.1m0.4 -5h1.1m0.9 6h1.1m0.4 -2h1.1m0.4 -3h1.1m5.4 0h1.1m-1.1 -1h1.1m0.9 5.5h1.1m1.9 0h1.1m-0.6 0.5h1.1m-0.1 -4.5h1.1m1.9 -1h1.1m0.4 0h1.1m-0.1 0h1.1m0.4 2.5h1.1m-0.1 0h1.1m0.9 0.5h1.1m0.4 1.5h1.1m-0.1 -1.5h1.1m8.9 -2h1.1m2.4 2.5h1.1m-0.1 -2.5h1.1m6.4 -1h1.1m11.4 1h1.1m0.4 1h1.1m0.9 -1.5h1.1m8.9 4.5h1.1m-180.1 1.5h1.1m2.4 2.5h1.1m3.4 -2.5h1.1m-0.6 3h1.1m28.9 0h1.1m-1.1 -0.5h1.1m1.9 2h1.1m-0.6 -4.5h1.1m0.4 0.5h1.1m-0.6 4h1.1m-1.1 -4h1.1m-0.6 1h1.1m2.4 2.5h1.1m-0.6 -3.5h1.1m1.4 3.5h1.1m-1.1 0h1.1m0.9 0.5h1.1m0.9 -3.5h1.1m-0.1 1.5h1.1m1.9 1.5h1.1m4.9 -4.5h1.1m2.4 4h1.1m-0.6 0h1.1m-0.1 1h1.1m2.4 -1h1.1m-0.6 -4h1.1m-0.6 1.5h1.1m-0.1 -0.5h1.1m1.4 0h1.1m0.4 0h1.1m-0.1 -1h1.1m-0.6 1h1.1m1.9 0h1.1m-0.6 0h1.1m-0.6 -1h1.1m-0.6 0.5h1.1m0.4 1.5h1.1m0.4 -2h1.1m-1.1 0.5h1.1m1.4 -0.5h1.1m11.9 1h1.1m2.9 -1h1.1m-0.6 1h1.1m5.9 0.5h1.1m-1.1 0h1.1m-0.6 -0.5h1.1m2.9 0h1.1m0.9 0.5h1.1m-1.1 1h1.1m-0.6 -1h1.1m-1.1 0h1.1m-0.1 -1.5h1.1m3.4 3.5h1.1m-0.6 -0.5h1.1m-0.6 -0.5h1.1m1.4 2h1.1m0.4 -2.5h1.1m-1.1 1.5h1.1m0.4 0.5h1.1m1.4 0h1.1m-0.1 -1h1.1m0.4 1h1.1m-0.6 0.5h1.1m1.4 -3.5h1.1m-0.6 -1h1.1m0.9 3.5h1.1m-0.1 -1h1.1m8.9 2h1.1m1.9 0.5h1.1m13.9 -4h1.1m5.4 3.5h1.1m-190.1 1.5h1.1m6.9 2.5h1.1m-0.1 2h1.1m-0.1 -1h1.1m44.4 -3h1.1m0.4 0h1.1m3.9 -1h1.1m2.9 0h1.1m-1.1 1h1.1m0.4 -0.5h1.1m-0.1 -0.5h1.1m3.9 0.5h1.1m1.4 0h1.1m66.4 0.5h1.1m0.4 1h1.1m2.4 1.5h1.1m-0.1 -0.5h1.1m-0.6 -3h1.1m-1.1 3.5h1.1m-0.6 -3h1.1m0.4 2.5h1.1m-0.1 0.5h1.1m1.9 0h1.1m2.9 2h1.1m3.9 -0.5h1.1m8.4 -4h1.1m2.4 4.5h1.1m-174.1 5.5h1.1m1.4 0.5h1.1m-0.1 -0.5h1.1m-0.6 -1.5h1.1m145.9 1.5h1.1m2.4 0.5h1.1m-0.1 -2.5h1.1m-157.1 5h1.1m1.4 -1h1.1m-0.6 2.5h1.1m147.9 1.5h1.1m0.9 -1.5h1.1m-1.1 -3.5h1.1m-0.1 5.5h1.1m3.9 -4.5h1.1m-0.6 2.5h1.1m-1.1 2.5h1.1m-11.1 0.5h1.1m-0.1 3h1.1m0.9 1h1.1m1.4 -0.5h1.1m11.9 1h1.1m-174.1 5.5h1.1m3.9 -1h1.1m-0.1 -1.5h1.1m2.9 -2h1.1m-1.1 2.5h1.1m1.9 1.5h1.1m-0.6 2h1.1m-1.1 -1h1.1m126.9 1h1.1m2.4 -1.5h1.1m0.9 -1h1.1m2.9 -2.5h1.1m0.4 -1h1.1m4.4 2h1.1m4.9 2.5h1.1m-156.1 2h1.1m5.9 0h1.1m-0.6 1.5h1.1m-0.6 2.5h1.1m2.9 0h1.1m3.4 0h1.1m0.4 -0.5h1.1m9.9 0.5h1.1m-0.1 1h1.1m6.9 -0.5h1.1m6.9 0.5h1.1m2.4 -3.5h1.1m-0.1 0.5h1.1m0.9 2.5h1.1m-0.1 -3.5h1.1m2.9 0h1.1m-1.1 1.5h1.1m-0.6 1h1.1m9.4 -2h1.1m-0.1 1.5h1.1m6.9 1.5h1.1m0.4 0h1.1m-0.6 0.5h1.1m3.4 0h1.1m6.4 0h1.1m8.4 0h1.1m4.4 0h1.1m9.4 -1h1.1m-0.6 1h1.1m3.9 -2h1.1m-0.6 0.5h1.1m8.4 -1h1.1m-0.6 -2.5h1.1m0.4 1.5h1.1m-0.1 0h1.1m-0.6 0h1.1m2.9 0h1.1m1.9 2h1.1m3.4 -2.5h1.1m-138.6 7.5h1.1m0.9 -2h1.1m6.4 0h1.1m3.4 0h1.1m0.9 -0.5h1.1m0.9 3.5h1.1m12.9 1h1.1m9.9 -2h1.1m7.4 3h1.1m1.9 -2.5h1.1m17.9 -1.5h1.1m-0.1 0.5h1.1m2.9 0.5h1.1m-0.6 -3h1.1m0.4 3.5h1.1m0.9 -3h1.1m7.9 1.5h1.1m8.9 -0.5h1.1m-0.6 -1h1.1m3.4 5.5h1.1m0.4 -2.5h1.1m0.9 -2.5h1.1m-0.6 1h1.1m5.4 1.5h1.1m0.9 1h1.1m1.4 0.5h1.1m17.4 -1.5h1.1m6.4 -1.5h1.1m-83.6 8.5h1.1m-0.1 -3.5h1.1m3.9 -0.5h1.1" stroke="#111" stroke-width="1.1" fill="none"/>
<path d="M238.1,2299.9l-8,0.3l-8,-0.4l-24,-2.9l-19,-1.4l-6.1,0.4l-14.4,2.8l-4.5,0.3l-4.5,-0.2l-6,-1.1l-5.5,-2.1l-4.5,-2.8l-3.4,-3.4l-1.9,-3l-0.8,-2.5l-0.4,-3l0.4,-3l0.8,-2.5l1.8,-3l6.5,-7.5l0.7,-1.5l0,-1l-0.9,-2l-3.7,-5l-2,-3.5l-1.7,-4l-1.2,-4l-0.7,-5.5l0,-5l0.6,-5l1.7,-8.5l0.1,-3.5l-1.2,-4l-4.5,-8.5l-2,-5l-1.1,-5l-0.4,-5.5l0.3,-4l0.8,-3.5l0.9,-3l1.6,-3.5l1.8,-3l1.9,-2.6l2.5,-2.7l2.5,-2.2l3.5,-2.3l3,-1.5l4,-1.5l4,-0.9l4,-0.4l4,0.2l4,0.6l3.5,1l4,1.6l4.5,2.5l5,3.5l4.5,3.7l3,3l2.4,3l1.8,3l1.7,4l1.2,5l0.2,4.5l-0.6,4.5l-1.8,5l-1.7,3l-2.3,3l-2.9,2.8l-7.5,5.7l-1.2,1.5l-0.8,1.8l-0.3,3.2l1.2,11l-0.3,6.5l-0.9,4.5l-1.3,4l-1.7,3.5l-3.7,6.5l-0.2,1l0.1,1l1.3,1.5l2.6,1.5l3.7,1.2l3.5,0.6l4.5,0.1l6.2,-0.4l8.4,-1l17.9,-3.3l8,-1.1l9.5,-0.6l9.5,0.4l6,0.8l5,1l8.5,2.6l4,1.8l3.2,1.9l2.8,2.1l2.3,2.4l1.3,2l1.1,2.5l0.3,2.5l-0.1,2l-0.7,2l-1.4,2.5l-1.7,2l-2.1,1.9l-5.5,3.4l-7.5,3l-8,2l-9.5,1.2zM235.1,2298.4l-6,0.1l-7,-0.4l-25.5,-3.2l-17.5,-1.2l-6.5,0.5l-10,2.3l-4,0.7l-4.5,0.3l-4,-0.1l-6,-1.2l-4.5,-1.7l-4.5,-2.8l-3.2,-3.3l-1.7,-3l-0.8,-3l0,-3l0.8,-3l1.3,-2.5l1.5,-2l2.6,-2.6l5.9,-4.9l1.1,-1.5l0.1,-1l-0.9,-1.5l-4.2,-4.1l-2.8,-3.4l-2.2,-4l-1.6,-4.5l-1,-5.5l-0.1,-5.5l0.7,-5l2.1,-8.5l0.2,-3.5l-1.3,-3.9l-4.8,-8.1l-2.2,-5l-1.5,-5.5l-0.4,-5.5l0.8,-6l0.8,-3l1.5,-3.5l1.8,-3l1.8,-2.5l2.2,-2.4l2.5,-2.2l3,-2l3.5,-1.8l3.5,-1.2l3.5,-0.7l4,-0.4l3.5,0.2l4,0.7l3.5,1l3.5,1.5l4.5,2.6l5,3.4l4.5,3.6l3,3.2l2.2,3l1.6,3l1.3,3.5l0.8,4.5l-0.1,4.5l-1,4.5l-1.8,4l-2,3l-2.4,2.5l-3.1,2.5l-7,4.5l-1.6,1.5l-1.2,2l-0.3,1.5l0,2l1.3,8l0.3,4.5l0,3.5l-0.5,3.5l-1.2,4.5l-2,4.5l-1.9,3l-4.2,5l-0.9,1.5l0.2,1.5l1,1l3.8,2l5.7,2.1l4.5,1l4.5,0.2l6.1,-0.3l8.9,-1l20.5,-3.8l7.5,-1l9,-0.5l9,0.4l9.5,1.6l8,2.5l3.5,1.7l3,1.8l2.5,1.9l2.2,2.4l1.2,2l0.8,2l0.2,2l-0.2,2l-0.7,2l-1.1,2l-1.8,2l-2.3,2l-5.8,3.3l-7,2.6l-8.5,1.8l-8.5,0.8zM152.1,2258l-2.5,0.2l-2.5,-0.5l-2.5,-0.9l-2.5,-1.5l-2,-1.6l-2.2,-2.3l-1.7,-2.5l-1.4,-3l-1,-3l-0.6,-3l-0.2,-6l0.9,-5.5l2.6,-8.5l0.2,-3.5l-1.3,-3.5l-5.4,-8l-2.6,-5l-1.7,-5.5l-0.6,-5.5l0.6,-5.5l1.6,-5l2.5,-4.5l3.3,-4l4,-3.3l4.5,-2.4l5,-1.5l5.5,-0.6l6,0.7l6,2l7,3.9l7,5l4,4.1l2.7,4.1l1.8,5l0.6,5l-0.3,3.5l-1,3.5l-1.4,3l-2.1,3l-2.3,2.3l-2.5,1.8l-9.5,5.4l-1.8,1.5l-1.1,1.5l-0.6,2l0,2l2,9l0.5,5l-0.3,4.5l-1,4.5l-2.3,5l-3.2,4l-2.2,1.9l-2,1.2l-4,1.5zM238.6,2296.4l-7.5,0.4l-8,-0.3l-25.5,-3.3l-18.5,-1.5l-6,0.5l-9.5,2.5l-5,1l-5,0.4l-5,-0.4l-4,-0.9l-3,-1.1l-3.3,-1.8l-2.7,-2.1l-2.1,-2.4l-1.3,-2.5l-0.7,-3l0,-2.5l0.7,-2.5l1.3,-2.5l2.1,-2.5l2.5,-2.2l3,-1.9l4,-2l3.5,-1.2l3,-0.4l3,0.2l3.5,0.7l14.5,4.5l3,0.5l3.5,0.2l6.5,-0.5l10.5,-1.3l19,-3.7l7,-1l8,-0.5l8,0.3l8.5,1.2l8,2.4l6,3l2.3,1.7l2,2l1.1,1.5l0.9,2l0.4,1.5l0,2l-0.4,2l-0.8,1.5l-1.4,2l-1.6,1.6l-4.5,3l-6,2.6l-6.5,1.7l-7.5,1.1zM152.6,2252.5l-2,0.3l-2.5,-0.2l-2,-0.5l-2,-1.1l-2,-1.5l-1.5,-1.7l-1.3,-1.9l-1.2,-2.5l-0.7,-2.5l-0.5,-3l0.2,-5.5l1.3,-5l3.7,-8l0.3,-1.5l-0.2,-1.5l-1.5,-3l-6.6,-7.6l-3.2,-4.9l-2.2,-5.5l-0.6,-3l-0.2,-3l0.4,-5l1.4,-4.5l2,-4l3.3,-4l3.6,-3l4.5,-2.3l4.5,-1.3l4.5,-0.4l5.5,0.6l5.5,1.8l7,3.8l6.5,4.5l3.5,3.4l2.7,3.9l1.6,4l0.6,4.5l-0.3,3.5l-1,3.5l-1.6,3.1l-2.4,2.9l-2.1,1.8l-2.5,1.5l-9.3,4.2l-2.8,1.5l-2,1.5l-1.6,2l-0.5,1.5l0.1,2l2.9,7.5l1.1,4.5l0.2,4l-0.4,3.5l-1.4,4.5l-2.3,3.8l-3,2.7l-3.5,1.6zM238.6,2294.5l-7.5,0.4l-8.5,-0.4l-25,-3.6l-18.5,-1.8l-3,0.2l-3,0.5l-10,3.2l-4.5,1l-4.5,0.4l-4.5,-0.3l-4,-0.8l-3,-1.2l-2.5,-1.3l-2.4,-1.9l-1.8,-2l-1.4,-2.5l-0.5,-2l-0.1,-2.5l0.5,-2l1.2,-2.5l1.6,-2l2.4,-2.1l2.5,-1.6l3.5,-1.5l3.5,-0.9l3,-0.4l3.5,0.2l3.5,0.5l4,1.1l10,3.4l3,0.6l3,0.1l6,-0.5l11,-1.5l18,-3.7l6.5,-1.1l8,-0.7l7.5,0.1l7.5,1l7,1.8l6,2.8l2.5,1.8l1.7,1.6l1.9,3l0.5,2l-0.1,1.5l-1,3l-2.6,3l-3.5,2.5l-4.9,2.2l-5.5,1.7l-7,1.2zM153.6,2212.9l-3.5,0.2l-3.5,-1.1l-4.5,-2.7l-4,-3.4l-3,-3.5l-2.4,-4l-1.4,-4l-0.7,-4l0.2,-4.5l1,-4l1.6,-3.5l2.5,-3.5l3.2,-3l3.5,-2.1l4,-1.5l4,-0.7l5,0.3l5.5,1.5l6,2.9l7,4.4l3.7,3.2l2.7,3.5l1.5,3.5l0.8,4l-0.4,4l-1.2,3.5l-1.9,3l-2.7,2.5l-2.5,1.6l-3,1.4l-14.5,5.2l-3,0.8zM151.6,2246.5l-2,0.1l-1.5,-0.2l-1.5,-0.7l-1.5,-1.1l-1.5,-1.7l-0.8,-1.5l-0.7,-2l-0.5,-2.5l0.1,-2.5l0.3,-2l1.6,-3.7l1.5,-2l1.5,-1.3l1.5,-0.8l1.5,-0.4l1.5,0l1.5,0.6l2.5,2l2.2,3.6l1,4l-0.2,4.3l-1.4,3.7l-2.1,2.5l-1.5,1l-1.5,0.6zM232.1,2292.9l-6,-0.1l-6.5,-0.6l-21,-3.7l-15.5,-2.2l-4,-0.4l-2.5,0.1l-2.5,0.6l-9.5,4l-5,1.5l-5,0.6l-4.5,-0.2l-3,-0.6l-3,-1.1l-2.5,-1.4l-2,-1.5l-1.7,-2l-1,-2l-0.5,-2l0,-2l0.5,-2l1.1,-2l1.6,-1.9l2,-1.6l2.5,-1.5l2.5,-0.9l3,-0.8l3,-0.3l4,0.2l4,0.9l4,1.3l9,3.9l2.5,0.7l3,0.2l4.5,-0.5l13,-2.2l17.5,-4.2l6,-1.1l7.5,-0.8l7.5,0l7.5,1l6.5,1.9l5.2,2.7l1.8,1.5l1.7,2l0.7,1.5l0.4,1.5l0,1.5l-0.5,1.5l-1.8,2.8l-3,2.4l-4,2l-5,1.7l-6,1.1l-6.5,0.5zM154.6,2208.4l-3.5,0.2l-3.5,-0.7l-3.5,-1.5l-3,-2l-3,-3l-2.1,-3l-1.5,-3.5l-0.8,-3.5l-0.1,-3.5l0.5,-3.5l1.3,-3.5l1.8,-3l2.4,-2.6l3,-2.2l3.5,-1.6l3.5,-0.8l4.5,-0.1l5,1.1l4.5,1.9l7,4l4,2.9l2.8,2.9l1.7,3l1,3.5l0,3.5l-0.8,3l-1.8,3l-2.4,2.3l-2.5,1.5l-3.5,1.4l-10.5,3l-4,0.8zM236.6,2290.4l-5,0.4l-5,-0.1l-5.5,-0.6l-6,-1l-20.2,-5.2l-3.6,-1.5l-1.1,-1l-0.1,-0.5l0.6,-1l2.6,-1.5l15.1,-5l9.7,-2.6l8,-1.2l8.5,-0.1l7.5,1.2l3.5,1l2.7,1.2l2.4,1.5l1.7,1.5l1.3,2l0.5,2.5l-0.9,2.5l-1.7,2l-2.8,2l-3.4,1.5l-4.3,1.2l-4.5,0.8zM158.1,2290.4l-4.5,0.5l-4.5,-0.5l-4,-1.4l-3,-1.9l-2.2,-2.7l-0.9,-3l0.5,-3l1.5,-2.5l2.6,-2.2l3,-1.6l3.5,-0.9l4,-0.3l4,0.5l4,1.2l3.7,1.8l3.6,2.5l2,2l0.7,1.5l-0.1,1.5l-0.9,1.5l-2.7,2.5l-3.2,2l-3.6,1.6l-3.5,0.9zM155.1,2204.4l-3,0.2l-3,-0.4l-3,-1l-2.5,-1.5l-2.1,-1.8l-2,-2.5l-1.3,-2.5l-0.9,-3l-0.3,-3l0.4,-3l0.9,-3l1.3,-2.3l1.8,-2.2l2.2,-1.8l2.5,-1.4l3,-0.9l3.5,-0.3l4,0.5l4,1.5l5,2.6l5,3l3,2.5l2.1,2.8l1,3l0.1,2.5l-0.7,2.8l-1.4,2.2l-2.1,1.9l-2,1.1l-3,1.1l-8.5,2.2l-4,0.7zM233.6,2287.9l-4.5,0.1l-4.5,-0.3l-4.5,-0.7l-4.4,-1.1l-4,-1.5l-2.7,-1.5l-1.4,-1.5l-0.1,-1.5l0.6,-1l1.8,-1.5l5.2,-2.5l6.5,-1.8l6.5,-0.9l6,0.1l5.5,0.9l4.5,1.7l1.5,1l1.6,1.5l0.8,1.5l0.1,2l-0.7,1.5l-1.4,1.5l-2.4,1.5l-2.5,1l-3.5,1l-4,0.5zM156.1,2288.4l-3.5,0.2l-3.5,-0.6l-2.6,-1.1l-2.4,-1.8l-1.4,-2.2l-0.4,-2l0.7,-2.5l1.5,-2l2.1,-1.5l2.5,-1l2.5,-0.5l3,-0.1l3,0.5l2.5,0.8l2.6,1.3l1.8,1.5l1.2,1.5l0.5,1.5l-0.2,2l-0.9,1.5l-1.5,1.5l-2.4,1.5l-2.6,1l-2.5,0.5zM156.6,2200l-2.5,0.3l-2.5,0l-2,-0.4l-2,-0.7l-3.2,-2.3l-1.3,-1.5l-1.1,-2l-0.6,-2l-0.3,-2.5l0.2,-2l0.6,-2l1.1,-2l1.2,-1.5l1.9,-1.6l2,-1l2.5,-0.7l3,0l2.5,0.4l3,1.1l4.1,2.3l4.9,3.3l2.3,2.2l1.2,2l0.3,2l-0.3,1.5l-0.8,1.5l-1.7,1.5l-4,1.7l-8.5,2.4zM155.6,2285.5l-2,0.2l-2,-0.2l-2,-0.7l-1.5,-0.9l-0.9,-1l-0.5,-1.5l0.1,-1.5l0.9,-1.5l2.4,-1.5l3.5,-0.6l3.5,0.6l2.6,1.5l0.8,1l0.4,1l0,1l-0.3,1l-0.7,1l-1.3,1l-3,1.1zM233.6,2284l-5,0.2l-4.9,-0.8l-3.1,-1.5l-0.9,-1l-0.1,-1l1.1,-1.5l1.8,-1l3.1,-1l3,-0.4l3,0l3.1,0.4l2.4,0.8l1.8,1.2l0.6,1l0.1,1l-0.9,1.5l-2.1,1.2l-3,0.9zM154.6,2195.9l-3,0l-2.5,-0.9l-1.9,-1.6l-1.2,-2l-0.5,-2.5l0.6,-2.5l1.5,-2.1l2.5,-1.6l1.5,-0.3l2,0l3.4,1l3.6,2.5l1.4,1.5l0.9,1.5l0.2,2l-0.5,1l-1,1l-3.4,2l-3.6,1z" stroke="#111" stroke-width="1.8" fill="none" stroke-linejoin="round"/>
<path d="M400.5 2123.5h1.1m70.9 0.5h1.1m-76.1 4h1.1m126.4 4.5h1.1m-180.1 5h1.1m90.9 -1.5h1.1m25.4 -1.5h1.1m-85.6 5h1.1m22.4 4.5h1.1m41.4 0.5h1.1m13.4 -3h1.1m-0.6 -1h1.1m5.4 0h1.1m3.9 0.5h1.1m-113.1 8.5h1.1m16.4 0.5h1.1m22.4 -2h1.1m11.4 -3h1.1m-0.1 5.5h1.1m15.9 -4.5h1.1m1.4 4h1.1m1.4 -1.5h1.1m19.4 1.5h1.1m17.4 -2.5h1.1m12.9 -2.5h1.1m5.4 5h1.1m11.4 -1.5h1.1m1.4 2h1.1m-148.1 5.5h1.1m12.9 0h1.1m0.9 -0.5h1.1m0.4 1h1.1m25.9 -0.5h1.1m3.4 -2h1.1m2.4 0h1.1m10.9 1h1.1m4.9 0h1.1m-0.1 0.5h1.1m-0.6 0.5h1.1m10.9 -4.5h1.1m7.4 5h1.1m-0.6 -3h1.1m0.4 0.5h1.1m4.4 2h1.1m-1.1 -3h1.1m1.4 0.5h1.1m3.4 -0.5h1.1m7.4 2.5h1.1m34.9 -2.5h1.1m-162.1 10h1.1m12.9 -2.5h1.1m0.4 2h1.1m-0.6 -1h1.1m1.9 -2h1.1m-0.6 -2.5h1.1m2.4 5h1.1m-1.1 -3h1.1m-1.1 -1h1.1m0.4 4.5h1.1m6.4 -4h1.1m-1.1 4h1.1m0.4 0h1.1m12.9 0h1.1m0.9 -3h1.1m-0.1 0h1.1m1.9 -2.5h1.1m5.4 2.5h1.1m7.9 -1.5h1.1m7.4 0h1.1m-0.6 4h1.1m3.4 -2h1.1m4.4 0.5h1.1m10.9 -3h1.1m3.4 5h1.1m13.4 -2h1.1m-1.1 2.5h1.1m2.9 -4h1.1m8.4 1.5h1.1m0.4 -1.5h1.1m10.9 3h1.1m-0.1 1h1.1m-150.6 1.5h1.1m8.4 2.5h1.1m25.9 -3h1.1m0.4 0h1.1m0.9 2h1.1m1.4 -2.5h1.1m2.4 4.5h1.1m-1.1 0h1.1m0.9 -1.5h1.1m0.4 2h1.1m-0.1 -1h1.1m1.4 0h1.1m3.9 -3.5h1.1m6.4 3h1.1m-0.1 -1h1.1m4.9 -2.5h1.1m10.4 0.5h1.1m-1.1 3.5h1.1m-1.1 -2.5h1.1m2.4 1h1.1m6.4 -1h1.1m-0.1 3h1.1m1.4 -1h1.1m-0.1 -1h1.1m0.9 -2.5h1.1m9.9 2h1.1m3.9 0.5h1.1m2.9 -1h1.1m16.4 -1h1.1m-0.6 4h1.1m15.4 -3h1.1m9.4 0.5h1.1m-175.6 8.5h1.1m8.4 1h1.1m0.9 -1h1.1m-1.1 -1h1.1m2.4 -3h1.1m36.4 -0.5h1.1m1.4 1h1.1m-0.1 2.5h1.1m-0.6 0h1.1m-0.6 -0.5h1.1m1.9 1h1.1m-1.1 -4.5h1.1m0.4 2.5h1.1m0.9 0h1.1m1.4 -1h1.1m3.4 1.5h1.1m1.9 -3h1.1m4.4 6h1.1m6.4 -3.5h1.1m5.9 -1.5h1.1m2.9 1h1.1m-0.6 4h1.1m5.9 -4.5h1.1m0.4 1.5h1.1m-0.6 -1h1.1m0.9 -1h1.1m1.9 4h1.1m2.4 -0.5h1.1m0.4 -1h1.1m0.4 -1.5h1.1m1.9 0.5h1.1m3.4 -0.5h1.1m6.4 -1.5h1.1m0.9 1.5h1.1m3.4 2.5h1.1m3.9 0h1.1m2.4 -4.5h1.1m-1.1 3.5h1.1m4.4 -1.5h1.1m-0.1 1.5h1.1m12.9 -3h1.1m1.4 1h1.1m0.9 -1h1.1m4.4 3h1.1m2.4 0h1.1m-182.6 8h1.1m0.9 -3h1.1m-0.1 0.5h1.1m1.4 1h1.1m-0.1 -2.5h1.1m1.4 -0.5h1.1m47.9 0h1.1m4.4 2h1.1m-0.6 -2.5h1.1m-1.1 2h1.1m0.4 -1.5h1.1m-0.6 2h1.1m-1.1 0h1.1m-0.6 2.5h1.1m1.4 -1h1.1m-1.1 -2.5h1.1m-0.6 3.5h1.1m0.4 -4h1.1m7.9 0h1.1m-0.6 2.5h1.1m-1.1 0h1.1m2.9 -1h1.1m0.4 1h1.1m-0.1 -1.5h1.1m-0.6 -1.5h1.1m-0.1 0.5h1.1m3.9 4h1.1m0.4 -1h1.1m1.9 -0.5h1.1m4.4 -2.5h1.1m3.9 0h1.1m-0.6 -1h1.1m-0.6 1h1.1m0.9 0.5h1.1m-0.1 0.5h1.1m-0.6 0.5h1.1m2.4 -2.5h1.1m2.9 2.5h1.1m-0.1 2h1.1m-0.1 -4h1.1m-0.6 2.5h1.1m2.4 -2h1.1m2.4 3h1.1m1.9 -4h1.1m8.9 5h1.1m6.9 -2.5h1.1m4.4 1.5h1.1m35.4 1h1.1m-191.1 6.5h1.1m-0.6 -2h1.1m-0.1 -2h1.1m54.4 1.5h1.1m-0.6 0.5h1.1m0.9 -1h1.1m-0.6 -3h1.1m-0.6 0h1.1m-1.1 4.5h1.1m0.4 0.5h1.1m3.4 1h1.1m-0.1 -2h1.1m0.9 -4h1.1m6.9 3h1.1m2.4 0.5h1.1m1.9 -0.5h1.1m1.4 1h1.1m1.4 0h1.1m0.4 0.5h1.1m-1.1 -3.5h1.1m1.4 1.5h1.1m0.9 -2.5h1.1m-1.1 5.5h1.1m-1.1 0h1.1m0.9 0.5h1.1m-1.1 -3h1.1m-0.6 1h1.1m5.4 0.5h1.1m-1.1 0h1.1m-1.1 -2.5h1.1m-0.6 1.5h1.1m1.4 2h1.1m0.4 -1h1.1m3.4 -4h1.1m2.9 4.5h1.1m-0.1 -1h1.1m-0.6 -3.5h1.1m2.9 3.5h1.1m-0.6 -1.5h1.1m-0.6 -2h1.1m-0.6 2h1.1m0.4 -1h1.1m-0.1 -1h1.1m0.9 2h1.1m6.9 1h1.1m2.4 0.5h1.1m-1.1 -4h1.1m3.9 5h1.1m3.9 -2h1.1m-0.1 1h1.1m0.4 0h1.1m11.4 0.5h1.1m-0.6 -2h1.1m16.4 -1.5h1.1m4.4 0.5h1.1m0.9 4.5h1.1m2.4 -1h1.1m-200.6 6.5h1.1m3.4 -4.5h1.1m-0.1 3h1.1m56.9 1.5h1.1m-0.6 -5h1.1m-1.1 0h1.1m-0.6 3h1.1m0.9 -0.5h1.1m-0.6 -1h1.1m-0.1 -0.5h1.1m1.9 0.5h1.1m-1.1 -1h1.1m2.9 1h1.1m-0.1 3.5h1.1m-0.6 -3h1.1m2.9 0.5h1.1m-0.6 2.5h1.1m3.9 0h1.1m-0.1 -2.5h1.1m-1.1 1h1.1m-1.1 -1.5h1.1m-0.1 1h1.1m-0.1 -0.5h1.1m-0.6 -2h1.1m0.9 2.5h1.1m-0.1 -2h1.1m-0.1 3.5h1.1m-1.1 -3h1.1m4.4 1.5h1.1m-0.6 -1.5h1.1m-0.1 1.5h1.1m-1.1 0h1.1m0.4 -3h1.1m-1.1 1.5h1.1m6.9 0.5h1.1m4.4 3h1.1m2.9 -4.5h1.1m2.4 3.5h1.1m-0.6 -4h1.1m-0.6 1h1.1m2.9 1h1.1m-0.6 3h1.1m-0.6 -1.5h1.1m-1.1 0h1.1m3.9 0.5h1.1m3.9 0h1.1m1.9 -0.5h1.1m-0.1 -1h1.1m0.4 1h1.1m-0.6 -3.5h1.1m1.4 4.5h1.1m0.4 -3h1.1m-0.6 -1.5h1.1m2.9 3.5h1.1m7.9 0.5h1.1m0.4 -1h1.1m-0.1 0.5h1.1m-0.1 -2.5h1.1m7.4 3h1.1m8.4 0.5h1.1m-0.6 -3h1.1m-187.1 5.5h1.1m2.9 2.5h1.1m1.9 1h1.1m0.4 -4h1.1m56.4 2.5h1.1m-1.1 -3.5h1.1m-0.1 1h1.1m-0.6 -0.5h1.1m0.4 3.5h1.1m-0.1 -4h1.1m0.4 3h1.1m0.9 1.5h1.1m-0.6 1.5h1.1m0.9 0h1.1m-1.1 -6h1.1m1.9 2h1.1m0.4 -0.5h1.1m0.4 -1h1.1m-1.1 -0.5h1.1m-1.1 3h1.1m0.4 -3h1.1m1.4 6h1.1m-0.6 -3.5h1.1m-0.6 3h1.1m0.9 -4.5h1.1m-0.6 5h1.1m-1.1 -4h1.1m-1.1 4h1.1m0.9 -1h1.1m-1.1 -1.5h1.1m-0.1 -0.5h1.1m-0.1 -0.5h1.1m-0.6 -2.5h1.1m1.9 4.5h1.1m0.9 1h1.1m-0.6 -2h1.1m0.9 -2h1.1m-0.6 1h1.1m0.4 2h1.1m4.9 -2.5h1.1m-0.1 -0.5h1.1m0.4 -1h1.1m-0.1 -0.5h1.1m-0.6 4h1.1m0.9 1.5h1.1m-0.1 -3h1.1m-0.6 2h1.1m-0.1 -1h1.1m-0.6 0h1.1m-1.1 -0.5h1.1m-0.6 -1.5h1.1m-0.1 3.5h1.1m-0.1 -5h1.1m2.9 3.5h1.1m-0.6 2.5h1.1m0.9 -3h1.1m1.4 0.5h1.1m-1.1 -3.5h1.1m0.9 0.5h1.1m0.4 0h1.1m-1.1 3h1.1m1.9 -1.5h1.1m-0.6 -0.5h1.1m-0.6 2h1.1m-0.1 -3.5h1.1m-1.1 3h1.1m3.4 0h1.1m1.4 2.5h1.1m9.9 -1h1.1m1.9 1.5h1.1m-0.6 -2.5h1.1m1.9 1.5h1.1m2.9 -0.5h1.1m4.4 -1h1.1m0.9 -2.5h1.1m0.4 2h1.1m1.4 1.5h1.1m0.9 -2h1.1m6.4 -2h1.1m-199.1 6h1.1m15.9 4h1.1m-1.1 1h1.1m56.4 -4h1.1m-1.1 1.5h1.1m-0.1 -2h1.1m-1.1 4.5h1.1m0.9 -5h1.1m1.9 3h1.1m-0.6 -2h1.1m-0.1 1h1.1m-0.1 -1h1.1m0.4 2.5h1.1m-0.1 -3h1.1m0.9 2h1.1m0.4 -2.5h1.1m1.4 2.5h1.1m-1.1 2.5h1.1m-0.6 -2h1.1m-0.6 0h1.1m-1.1 -2h1.1m0.4 0.5h1.1m-1.1 0h1.1m-0.6 3.5h1.1m-1.1 0h1.1m-1.1 -3.5h1.1m0.9 2.5h1.1m1.4 -2.5h1.1m3.4 -1h1.1m-1.1 0h1.1m-1.1 1.5h1.1m-0.6 0.5h1.1m0.4 2.5h1.1m-1.1 -5h1.1m3.4 4h1.1m-1.1 -0.5h1.1m-0.1 0h1.1m0.4 0.5h1.1m-0.6 1h1.1m-0.1 -0.5h1.1m0.9 -2h1.1m-1.1 -1.5h1.1m0.4 3h1.1m-0.1 -2.5h1.1m0.4 -1h1.1m-0.1 3h1.1m-0.1 1.5h1.1m-0.1 -4.5h1.1m-0.1 0.5h1.1m-1.1 3.5h1.1m1.4 -4.5h1.1m-0.6 4.5h1.1m-0.6 -3h1.1m-0.6 -1h1.1m-1.1 3h1.1m-0.6 -1.5h1.1m-1.1 2h1.1m-0.6 -0.5h1.1m0.4 -2h1.1m-0.1 3h1.1m3.4 -2.5h1.1m0.4 -1h1.1m0.4 -0.5h1.1m-0.6 0.5h1.1m2.9 1h1.1m0.4 -1.5h1.1m-0.6 1h1.1m2.4 0h1.1m-0.1 -1.5h1.1m-0.1 2h1.1m7.9 0.5h1.1m-0.1 2h1.1m1.4 -1h1.1m5.4 1.5h1.1m20.4 -3h1.1m-0.1 1h1.1m-189.6 2.5h1.1m-0.1 4h1.1m5.9 1h1.1m0.9 1h1.1m1.4 -6h1.1m-0.6 2.5h1.1m-0.6 -2h1.1m1.9 0h1.1m-1.1 4h1.1m-1.1 -4.5h1.1m51.9 3.5h1.1m-0.6 -3.5h1.1m1.4 1h1.1m0.9 3.5h1.1m1.4 -0.5h1.1m-0.6 -4h1.1m3.4 5.5h1.1m-0.6 -4.5h1.1m-1.1 0.5h1.1m0.9 1h1.1m0.9 -1h1.1m0.9 -1.5h1.1m0.4 1.5h1.1m-1.1 -0.5h1.1m-0.6 2h1.1m0.4 1.5h1.1m-0.6 -1.5h1.1m-0.6 2h1.1m-0.6 1h1.1m0.4 -2.5h1.1m-1.1 -2.5h1.1m1.4 -1h1.1m-0.6 5.5h1.1m-0.1 -5h1.1m-0.1 2h1.1m-0.6 -1.5h1.1m-0.6 4.5h1.1m1.9 -1h1.1m-1.1 1h1.1m-0.1 -1.5h1.1m0.9 -1.5h1.1m-0.6 3.5h1.1m-0.6 -0.5h1.1m0.9 -3h1.1m0.4 -1h1.1m-0.6 1h1.1m0.9 3h1.1m0.4 -1.5h1.1m-0.6 2h1.1m-0.6 -4h1.1m0.9 -0.5h1.1m-1.1 1.5h1.1m-0.1 -2h1.1m-0.1 3.5h1.1m-0.6 -0.5h1.1m0.4 -3.5h1.1m-0.1 5h1.1m-1.1 -3.5h1.1m-0.1 0.5h1.1m-1.1 0h1.1m-0.6 2h1.1m-0.6 -3h1.1m-1.1 2.5h1.1m-1.1 1.5h1.1m1.4 0.5h1.1m0.9 0h1.1m-1.1 -1h1.1m-1.1 0h1.1m0.4 -2h1.1m-0.6 1h1.1m-0.6 -2h1.1m-0.1 -0.5h1.1m0.4 3.5h1.1m0.4 -3.5h1.1m-0.1 -1h1.1m-0.1 4h1.1m-0.6 1.5h1.1m0.9 -4h1.1m0.9 0h1.1m-0.6 3.5h1.1m-1.1 -5h1.1m0.9 1h1.1m-1.1 2h1.1m1.9 1h1.1m-1.1 0h1.1m-0.6 -3h1.1m1.4 0h1.1m-0.1 -1h1.1m-1.1 4.5h1.1m-0.6 -3h1.1m-1.1 -1.5h1.1m3.9 3h1.1m1.9 -2.5h1.1m1.9 3h1.1m1.4 -3.5h1.1m3.4 4h1.1m-0.6 -2h1.1m-0.1 3.5h1.1m0.9 -6h1.1m-160.6 6.5h1.1m1.4 1h1.1m-0.6 0.5h1.1m-0.6 3.5h1.1m-0.6 -3.5h1.1m1.9 3h1.1m42.9 0h1.1m-1.1 -4.5h1.1m-0.6 0.5h1.1m-0.6 0.5h1.1m1.4 1.5h1.1m-1.1 1h1.1m-0.1 0h1.1m-0.1 1.5h1.1m0.9 0h1.1m2.4 0h1.1m-0.6 -1h1.1m-0.6 -3.5h1.1m-0.1 -0.5h1.1m1.9 1h1.1m-0.1 2h1.1m-0.6 0.5h1.1m-0.1 0h1.1m-0.1 -3h1.1m0.9 1h1.1m-0.6 1.5h1.1m0.9 -1h1.1m-1.1 1.5h1.1m0.4 0.5h1.1m-1.1 -1h1.1m2.4 1.5h1.1m0.9 -3h1.1m-0.1 2.5h1.1m0.4 0.5h1.1m0.4 -4h1.1m0.9 3h1.1m-0.6 -3h1.1m-0.1 1.5h1.1m-1.1 3h1.1m-1.1 -0.5h1.1m-1.1 -0.5h1.1m-0.1 -3h1.1m-1.1 3h1.1m-0.6 -2.5h1.1m-0.1 0.5h1.1m-0.1 1.5h1.1m-0.6 -3.5h1.1m-0.6 1.5h1.1m-0.6 -0.5h1.1m-0.1 1.5h1.1m-1.1 1.5h1.1m0.4 -1h1.1m-0.6 1h1.1m-0.1 0h1.1m-0.1 -1h1.1m0.9 2h1.1m-0.6 -3.5h1.1m0.4 3.5h1.1m0.4 -0.5h1.1m-0.6 -2h1.1m-0.6 -2h1.1m-0.1 3.5h1.1m-0.6 0.5h1.1m0.4 -2h1.1m0.4 1.5h1.1m-0.6 0.5h1.1m2.4 0h1.1m-0.1 0.5h1.1m-1.1 0h1.1m-0.6 -4.5h1.1m-0.6 0.5h1.1m-0.6 3h1.1m-1.1 0h1.1m-1.1 1h1.1m0.4 -3h1.1m-0.1 1.5h1.1m-0.6 -2h1.1m-0.6 0h1.1m-1.1 3.5h1.1m4.9 -0.5h1.1m-1.1 -4h1.1m0.9 3h1.1m-0.1 1h1.1m2.4 0.5h1.1m-1.1 -1h1.1m-1.1 -4h1.1m-0.1 5h1.1m3.4 -3h1.1m-0.1 -1.5h1.1m-0.1 -0.5h1.1m-0.1 3h1.1m-0.1 1h1.1m-0.1 -1.5h1.1m4.9 1h1.1m0.9 -3.5h1.1m-1.1 5h1.1m-1.1 -3.5h1.1m-0.6 3.5h1.1m2.9 -2.5h1.1m5.9 1h1.1m-0.1 -2h1.1m-1.1 0.5h1.1m19.4 1.5h1.1m-191.1 3.5h1.1m3.9 0h1.1m0.9 -1.5h1.1m-0.6 0h1.1m4.9 3.5h1.1m0.4 0h1.1m37.4 0.5h1.1m1.4 -3.5h1.1m-0.1 1.5h1.1m-1.1 3h1.1m-0.6 -0.5h1.1m-1.1 -3.5h1.1m-1.1 0.5h1.1m1.4 0h1.1m-0.6 0.5h1.1m-1.1 0h1.1m-0.6 0.5h1.1m-0.1 0.5h1.1m0.4 -2h1.1m1.4 0h1.1m2.4 3.5h1.1m-0.1 -4.5h1.1m0.4 3.5h1.1m2.4 -2.5h1.1m-0.1 -0.5h1.1m-0.6 4.5h1.1m0.9 -3.5h1.1m-1.1 -0.5h1.1m-1.1 3h1.1m1.4 0h1.1m-0.6 2h1.1m-0.1 -0.5h1.1m-0.1 -2h1.1m-1.1 1.5h1.1m-0.6 -2h1.1m-1.1 -0.5h1.1m1.4 0.5h1.1m-1.1 1.5h1.1m-0.1 -2h1.1m-0.6 1h1.1m0.4 1.5h1.1m-0.6 -0.5h1.1m-1.1 0h1.1m0.9 -3.5h1.1m-0.6 -0.5h1.1m-0.1 3h1.1m0.9 -3.5h1.1m0.4 5h1.1m0.4 -0.5h1.1m-1.1 -1.5h1.1m0.4 -1.5h1.1m-0.6 4h1.1m-1.1 0h1.1m-0.6 -2.5h1.1m-0.1 -1h1.1m-0.1 -1h1.1m-0.6 -0.5h1.1m-1.1 5h1.1m0.9 -5h1.1m-0.1 0h1.1m-0.6 0h1.1m-0.6 2.5h1.1m-0.6 -1h1.1m-1.1 0h1.1m-0.6 -2h1.1m-0.1 5h1.1m-0.6 -5h1.1m1.4 1.5h1.1m0.9 3h1.1m-1.1 -2.5h1.1m-0.6 -1h1.1m-0.6 2h1.1m-0.6 -2h1.1m1.4 4.5h1.1m0.4 -3.5h1.1m1.9 4h1.1m0.4 -4h1.1m-0.1 1.5h1.1m-1.1 2h1.1m-0.6 -1.5h1.1m0.4 0h1.1m-0.6 -3h1.1m-0.6 1h1.1m-1.1 -1.5h1.1m-0.1 3h1.1m-0.1 -2.5h1.1m-1.1 2.5h1.1m-0.6 1.5h1.1m-0.6 -4h1.1m-1.1 0.5h1.1m-0.6 1.5h1.1m-0.6 3h1.1m-0.6 -0.5h1.1m-0.1 -4.5h1.1m-0.6 5h1.1m-1.1 -0.5h1.1m-0.6 0h1.1m-1.1 -4h1.1m-0.6 2.5h1.1m-1.1 -4h1.1m-0.6 0.5h1.1m0.4 5.5h1.1m-1.1 -1.5h1.1m0.9 -1.5h1.1m-0.1 -2h1.1m2.4 1.5h1.1m-0.6 -0.5h1.1m1.9 2h1.1m0.4 2h1.1m0.4 -1.5h1.1m-0.1 0.5h1.1m-0.6 -2h1.1m1.4 -1h1.1m3.9 0h1.1m-0.1 2h1.1m4.9 -4h1.1m5.9 2h1.1m3.9 1.5h1.1m15.4 0h1.1m-193.6 5.5h1.1m9.4 2.5h1.1m1.4 -3h1.1m-1.1 2h1.1m-0.6 -4h1.1m-0.6 3.5h1.1m36.4 -3h1.1m1.4 4h1.1m-1.1 -1.5h1.1m-1.1 1h1.1m1.4 0.5h1.1m0.9 0.5h1.1m3.4 -0.5h1.1m-0.1 -1.5h1.1m1.4 -2h1.1m-0.6 4h1.1m-0.6 -1h1.1m-0.1 -3.5h1.1m-0.1 1.5h1.1m-0.6 0.5h1.1m0.9 -0.5h1.1m-0.1 -2h1.1m-0.1 1h1.1m-0.6 3.5h1.1m1.4 0.5h1.1m-0.1 0h1.1m-1.1 -4.5h1.1m-0.6 3.5h1.1m0.4 1h1.1m1.9 -3.5h1.1m-0.1 2.5h1.1m0.4 0.5h1.1m0.9 -0.5h1.1m-1.1 -2.5h1.1m0.4 -1h1.1m-0.6 3.5h1.1m0.4 -0.5h1.1m-0.6 1h1.1m-0.6 -4.5h1.1m-0.6 4h1.1m-0.6 -4h1.1m-0.1 3.5h1.1m1.9 -2h1.1m-1.1 1h1.1m-0.6 -1.5h1.1m0.4 -0.5h1.1m-0.1 1h1.1m-1.1 2.5h1.1m2.9 -2h1.1m-0.1 3h1.1m-0.6 -3h1.1m0.4 -0.5h1.1m-0.1 0.5h1.1m-0.6 1h1.1m-1.1 1h1.1m-0.6 -0.5h1.1m-0.6 0.5h1.1m-1.1 0h1.1m-0.1 -3h1.1m-0.6 0.5h1.1m-0.6 1h1.1m-0.1 2.5h1.1m-0.6 -0.5h1.1m-0.1 -2h1.1m-0.6 2h1.1m-1.1 -0.5h1.1m-1.1 1h1.1m-0.6 -3h1.1m0.4 -0.5h1.1m-1.1 -1.5h1.1m0.9 4h1.1m-1.1 -1h1.1m-1.1 0.5h1.1m2.4 0.5h1.1m-0.1 -2.5h1.1m0.4 3.5h1.1m-0.6 -0.5h1.1m0.4 -3.5h1.1m-1.1 -1h1.1m0.9 1.5h1.1m0.4 1.5h1.1m1.4 0.5h1.1m0.4 1h1.1m0.4 -4.5h1.1m-0.6 4h1.1m-1.1 -3h1.1m-0.1 2h1.1m-0.1 2h1.1m1.9 -4.5h1.1m-0.6 0h1.1m0.4 3.5h1.1m2.9 -4h1.1m-0.6 1h1.1m-1.1 0h1.1m-0.1 3.5h1.1m0.9 -1.5h1.1m12.4 1.5h1.1m-0.6 -4.5h1.1m0.4 5h1.1m1.9 -2h1.1m0.4 -3h1.1m2.9 4h1.1m12.4 -1h1.1m-197.6 4h1.1m14.4 2h1.1m4.4 0.5h1.1m0.9 -2.5h1.1m-0.6 -0.5h1.1m-1.1 -1h1.1m34.9 6h1.1m-0.6 -1h1.1m-0.6 0.5h1.1m-1.1 -2h1.1m-0.1 -3.5h1.1m0.4 0h1.1m0.9 1h1.1m-0.1 5h1.1m-0.6 -0.5h1.1m-0.6 -5h1.1m-0.1 2h1.1m-0.6 1.5h1.1m-1.1 2h1.1m-0.6 -4h1.1m-1.1 2h1.1m4.4 2h1.1m-0.6 -5.5h1.1m-1.1 1.5h1.1m0.4 1h1.1m-0.6 0.5h1.1m0.9 -3.5h1.1m-0.6 0.5h1.1m2.9 0h1.1m-0.6 0.5h1.1m-0.1 1h1.1m-0.6 -2h1.1m-0.6 4.5h1.1m-0.6 -1.5h1.1m-0.6 3h1.1m-0.1 0h1.1m0.4 -6h1.1m-0.1 5.5h1.1m-0.6 -3h1.1m-1.1 1.5h1.1m-0.6 -4h1.1m-0.1 0.5h1.1m-0.6 2.5h1.1m-0.6 0h1.1m-0.1 1h1.1m0.4 1.5h1.1m-0.1 -5.5h1.1m-0.6 2h1.1m2.4 1.5h1.1m-0.6 2h1.1m0.4 -3h1.1m-0.1 0.5h1.1m-0.1 -1.5h1.1m-1.1 3h1.1m-1.1 -4.5h1.1m1.9 5h1.1m-0.1 -2.5h1.1m-1.1 -2.5h1.1m-1.1 0h1.1m-1.1 6h1.1m-0.6 -3.5h1.1m0.4 0h1.1m-1.1 -2h1.1m-0.6 3.5h1.1m-1.1 0h1.1m-0.6 1.5h1.1m0.4 0h1.1m-0.6 0.5h1.1m0.4 -2.5h1.1m0.4 -2h1.1m-1.1 2.5h1.1m-1.1 -0.5h1.1m0.9 0h1.1m-1.1 -2.5h1.1m-0.1 -0.5h1.1m-1.1 2.5h1.1m-0.6 2.5h1.1m-0.6 -5.5h1.1m-0.6 1h1.1m-0.6 0.5h1.1m-0.1 3.5h1.1m-1.1 0h1.1m-1.1 1h1.1m-0.1 -2h1.1m-0.6 0h1.1m-1.1 1h1.1m-1.1 -5h1.1m0.4 3h1.1m-1.1 -1.5h1.1m-0.6 1.5h1.1m-0.6 -2h1.1m-1.1 -1h1.1m-0.6 1.5h1.1m-0.6 1.5h1.1m-1.1 -1h1.1m-0.6 -1.5h1.1m-1.1 1h1.1m0.4 0h1.1m-1.1 -1.5h1.1m0.9 2.5h1.1m0.4 -2.5h1.1m0.4 1.5h1.1m-0.6 0h1.1m0.4 -0.5h1.1m0.9 1.5h1.1m-0.6 -0.5h1.1m-1.1 -1h1.1m0.9 0.5h1.1m-0.6 -1.5h1.1m-0.1 1.5h1.1m0.4 -1.5h1.1m-1.1 0.5h1.1m-0.1 0.5h1.1m-0.1 2h1.1m0.9 -1h1.1m0.4 2h1.1m-0.1 0.5h1.1m-0.1 -4h1.1m-0.1 0h1.1m-0.6 2h1.1m2.4 0h1.1m0.4 -1h1.1m-1.1 -0.5h1.1m-0.1 0.5h1.1m-1.1 3h1.1m-0.6 0h1.1m-1.1 -1.5h1.1m0.9 -1.5h1.1m-0.6 4.5h1.1m-0.6 -4.5h1.1m-1.1 1.5h1.1m-1.1 1.5h1.1m0.9 -1.5h1.1m-0.1 -2h1.1m-0.1 -0.5h1.1m-0.6 1h1.1m2.9 3h1.1m-0.1 -0.5h1.1m3.4 -2h1.1m1.9 -0.5h1.1m1.4 4h1.1m20.9 -0.5h1.1m-198.1 4.5h1.1m8.4 -2.5h1.1m-0.6 -0.5h1.1m0.9 1h1.1m-0.1 -0.5h1.1m-0.6 2h1.1m0.4 -2.5h1.1m35.4 4h1.1m-1.1 -3.5h1.1m-0.6 4h1.1m-1.1 -0.5h1.1m1.9 -2.5h1.1m-0.1 -1.5h1.1m-0.1 1h1.1m3.9 -1h1.1m0.9 1.5h1.1m-1.1 -1.5h1.1m-0.6 1.5h1.1m-0.6 -1.5h1.1m1.4 2h1.1m-1.1 -0.5h1.1m-0.1 -0.5h1.1m-0.6 1h1.1m-0.1 -2h1.1m-1.1 1.5h1.1m0.4 -1h1.1m0.4 -0.5h1.1m0.4 0.5h1.1m0.4 2h1.1m-0.6 2.5h1.1m-1.1 -4h1.1m-0.1 3.5h1.1m-0.6 -3h1.1m1.4 1.5h1.1m0.9 0.5h1.1m-0.6 1h1.1m-1.1 -0.5h1.1m0.4 0h1.1m0.4 -2.5h1.1m-0.1 -0.5h1.1m1.9 -1h1.1m-1.1 4h1.1m0.9 -3h1.1m0.4 1h1.1m-0.6 0h1.1m-0.6 -2h1.1m-1.1 0h1.1m-1.1 2h1.1m0.4 0.5h1.1m2.4 2.5h1.1m-1.1 -5h1.1m-1.1 0h1.1m-0.6 1h1.1m-1.1 -1h1.1m0.4 2.5h1.1m-0.6 2.5h1.1m0.4 -2h1.1m-1.1 -2.5h1.1m1.4 3h1.1m-0.1 -3.5h1.1m-0.6 0h1.1m-0.1 4h1.1m0.9 -3.5h1.1m-0.6 1.5h1.1m-0.6 -2h1.1m39.9 2h1.1m0.4 -0.5h1.1m0.9 0.5h1.1m-0.6 3h1.1m-1.1 0h1.1m0.9 -3.5h1.1m0.4 -1.5h1.1m-0.6 0h1.1m-1.1 1.5h1.1m0.4 0.5h1.1m2.4 3h1.1m0.4 -2h1.1m-1.1 1h1.1m5.4 0h1.1m-0.1 -3h1.1m-171.1 7.5h1.1m3.9 -1h1.1m-0.1 4h1.1m1.4 -4.5h1.1m0.4 1.5h1.1m0.4 1.5h1.1m35.4 0h1.1m-0.6 1.5h1.1m-1.1 -2.5h1.1m-0.1 -2h1.1m-1.1 3.5h1.1m-1.1 -1h1.1m-0.6 -3.5h1.1m0.9 3.5h1.1m-0.1 -2.5h1.1m-0.6 -0.5h1.1m0.4 3.5h1.1m2.4 -2h1.1m-1.1 1h1.1m-0.6 2h1.1m0.4 -5.5h1.1m-0.1 1.5h1.1m-1.1 1.5h1.1m-0.1 0h1.1m3.9 -0.5h1.1m-0.1 3.5h1.1m-0.1 -5h1.1m-0.6 1h1.1m-1.1 -1.5h1.1m0.9 4.5h1.1m1.4 -2h1.1m-0.1 -2.5h1.1m-0.6 -0.5h1.1m-0.1 3h1.1m2.4 -1.5h1.1m-0.6 1h1.1m2.4 -2.5h1.1m-0.1 3.5h1.1m-0.1 1.5h1.1m0.4 -3h1.1m-0.6 -0.5h1.1m-1.1 -0.5h1.1m1.4 0h1.1m-0.1 4.5h1.1m-1.1 0h1.1m-0.1 -0.5h1.1m0.4 -1.5h1.1m-1.1 -1.5h1.1m-0.6 -0.5h1.1m-1.1 4.5h1.1m-0.6 -1.5h1.1m-0.6 1h1.1m-1.1 -4h1.1m-0.1 0h1.1m-0.6 2h1.1m-0.1 2.5h1.1m0.9 -3h1.1m-1.1 -0.5h1.1m-0.6 -1.5h1.1m49.9 -1h1.1m1.9 1.5h1.1m-1.1 4h1.1m0.4 -1h1.1m-1.1 -2h1.1m2.9 1.5h1.1m1.4 -4h1.1m7.4 3h1.1m1.9 -3h1.1m2.9 6h1.1m3.4 -3h1.1m-175.6 6h1.1m-0.6 -0.5h1.1m-0.6 0.5h1.1m-1.1 -1.5h1.1m-0.6 2.5h1.1m34.4 -0.5h1.1m-1.1 0h1.1m1.9 -3h1.1m0.4 1h1.1m-0.1 1.5h1.1m-1.1 -1.5h1.1m2.4 4h1.1m0.4 -4.5h1.1m6.4 1h1.1m-0.6 -1.5h1.1m-0.6 0h1.1m-0.1 0h1.1m0.4 1h1.1m0.9 -0.5h1.1m-1.1 2h1.1m-0.1 1h1.1m0.9 0h1.1m2.4 -1h1.1m1.4 0h1.1m0.9 2.5h1.1m0.9 0h1.1m-1.1 -3h1.1m-0.6 0h1.1m1.9 0h1.1m-1.1 -1h1.1m-0.6 3.5h1.1m3.4 -3h1.1m-0.6 2h1.1m1.9 0.5h1.1m-0.6 -1.5h1.1m-0.6 0.5h1.1m-1.1 0.5h1.1m-0.1 0h1.1m59.4 -0.5h1.1m1.9 -1h1.1m1.4 1.5h1.1m-0.6 -2.5h1.1m1.4 0.5h1.1m4.4 0h1.1m1.9 -0.5h1.1m-164.6 8h1.1m-0.6 -2.5h1.1m-0.6 3.5h1.1m-0.1 -2h1.1m1.4 1.5h1.1m28.9 -2h1.1m-0.1 1.5h1.1m1.9 -3h1.1m0.4 2.5h1.1m0.9 -2h1.1m-0.1 -0.5h1.1m0.9 2h1.1m-1.1 0h1.1m2.4 -1.5h1.1m4.4 -0.5h1.1m-0.6 0.5h1.1m0.4 5h1.1m0.9 -3h1.1m-0.6 1h1.1m-1.1 -2.5h1.1m-0.6 1h1.1m-0.6 -1.5h1.1m0.9 -0.5h1.1m-1.1 3h1.1m0.4 1h1.1m4.4 0.5h1.1m-1.1 -3h1.1m0.4 4h1.1m-0.1 -5h1.1m-0.1 -1h1.1m-1.1 3.5h1.1m-0.6 1.5h1.1m-1.1 -3h1.1m-0.6 -1h1.1m0.4 0h1.1m-0.1 3.5h1.1m-1.1 1h1.1m0.4 -1h1.1m-0.6 -2.5h1.1m-0.1 1h1.1m-0.1 2.5h1.1m-0.1 -0.5h1.1m-0.6 -1.5h1.1m-0.6 -3h1.1m-0.1 1h1.1m-0.6 1.5h1.1m-0.1 -1h1.1m64.4 -1.5h1.1m-0.1 4h1.1m-0.6 -3.5h1.1m3.4 3h1.1m-0.6 -2.5h1.1m19.4 2.5h1.1m-0.1 -1.5h1.1m-0.6 3.5h1.1m-183.6 2h1.1m1.9 0.5h1.1m3.4 2h1.1m-0.6 -1h1.1m29.4 -3h1.1m0.9 3h1.1m5.9 0h1.1m1.9 0.5h1.1m-0.6 -0.5h1.1m-1.1 -2.5h1.1m-1.1 3h1.1m0.9 -3.5h1.1m-0.1 2.5h1.1m-0.6 1h1.1m-0.6 0.5h1.1m0.4 -2.5h1.1m-0.6 -0.5h1.1m-0.6 1.5h1.1m-0.6 1h1.1m-0.1 -2.5h1.1m-0.6 3h1.1m-0.1 -1h1.1m-0.6 -2h1.1m-0.1 2.5h1.1m-0.6 -0.5h1.1m-1.1 -1h1.1m5.4 -1h1.1m-0.1 -1h1.1m1.4 1.5h1.1m-1.1 0h1.1m-1.1 -1.5h1.1m0.9 0.5h1.1m-0.1 1.5h1.1m1.4 -1.5h1.1m76.4 1h1.1m-0.1 -0.5h1.1m-0.6 -0.5h1.1m-0.6 1h1.1m0.4 0.5h1.1m-1.1 1.5h1.1m0.9 1h1.1m1.4 -2.5h1.1m-1.1 -1.5h1.1m1.9 3.5h1.1m-177.1 4.5h1.1m7.4 -0.5h1.1m0.9 1h1.1m-0.1 0.5h1.1m-0.6 -3h1.1m-0.1 2h1.1m155.4 -1.5h1.1m-0.6 -0.5h1.1m-0.6 0h1.1m0.4 2.5h1.1m-0.6 -1.5h1.1m-0.1 4h1.1m-0.1 -4.5h1.1m0.9 3h1.1m0.4 0h1.1m-1.1 -1h1.1m0.9 1.5h1.1m-0.1 -2.5h1.1m7.9 -0.5h1.1m-207.6 9.5h1.1m13.4 -1h1.1m1.9 0.5h1.1m4.9 -0.5h1.1m170.4 -1.5h1.1m-0.6 -1.5h1.1m5.9 2.5h1.1m-0.6 -2.5h1.1m-201.1 5.5h1.1m12.9 5h1.1m0.9 -5.5h1.1m0.4 5.5h1.1m-0.1 -6h1.1m-0.6 3h1.1m-0.6 0.5h1.1m-1.1 1h1.1m-0.1 -0.5h1.1m169.9 -4h1.1m0.9 0h1.1m-1.1 1.5h1.1m-0.6 -1h1.1m1.4 1.5h1.1m5.4 -1h1.1m0.4 2.5h1.1m-0.6 1h1.1m-195.6 5h1.1m1.9 -3h1.1m2.4 3.5h1.1m0.9 -1.5h1.1m-0.6 -0.5h1.1m173.9 1h1.1m2.9 -1.5h1.1m8.4 1h1.1m-197.1 4h1.1m-1.1 5.5h1.1m7.9 -3h1.1m0.4 -1.5h1.1m0.4 3.5h1.1m-0.1 -1h1.1m-0.1 -0.5h1.1m-1.1 1.5h1.1m-0.6 -1h1.1m-0.6 0.5h1.1m158.9 0h1.1m9.9 -4h1.1m-0.6 4h1.1m-175.1 2h1.1m5.4 4h1.1m1.9 -2.5h1.1m0.4 0h1.1m11.9 3h1.1m-0.1 0.5h1.1m0.9 -1.5h1.1m1.9 0h1.1m1.4 -0.5h1.1m0.4 -1h1.1m-0.6 1h1.1m2.4 -1h1.1m0.4 3h1.1m-0.1 -3h1.1m-0.1 2h1.1m-0.1 -1h1.1m10.4 -0.5h1.1m-0.6 2h1.1m-1.1 -2h1.1m0.4 2.5h1.1m1.4 -1.5h1.1m-0.1 -1h1.1m0.9 0.5h1.1m3.4 0.5h1.1m8.9 1.5h1.1m70.4 -0.5h1.1m4.4 -1.5h1.1m1.4 2h1.1m-0.6 -1h1.1m-0.1 0.5h1.1m0.4 -1.5h1.1m-170.6 2.5h1.1m36.4 0h1.1m5.4 0h1.1m-0.6 2h1.1m9.9 2h1.1m4.4 -3h1.1m7.9 1h1.1m6.9 -1h1.1m1.9 4h1.1m2.9 -2.5h1.1m5.4 -1.5h1.1m-0.1 2.5h1.1m-0.6 -0.5h1.1m1.4 2.5h1.1m5.9 -1h1.1m8.4 0h1.1m1.9 -1h1.1m16.9 1.5h1.1m0.4 0.5h1.1m-0.1 -1h1.1m4.9 1.5h1.1m-0.1 0h1.1m-1.1 -1.5h1.1m1.9 -0.5h1.1m-0.1 -0.5h1.1m-1.1 1.5h1.1m2.9 0.5h1.1m-0.1 -1.5h1.1m-0.1 1h1.1m2.4 -3h1.1m-1.1 -1.5h1.1m3.4 5.5h1.1m1.4 -5h1.1m-103.6 7.5h1.1m31.4 1h1.1m10.4 -2.5h1.1m-0.1 1h1.1m2.9 -1h1.1m4.9 0.5h1.1m1.9 0.5h1.1m1.4 0.5h1.1m5.4 -0.5h1.1m-0.1 1.5h1.1m0.9 -3h1.1m0.9 0.5h1.1m0.4 0.5h1.1m7.4 -1h1.1m10.4 2h1.1m-121.1 8h1.1m33.4 -4.5h1.1m14.9 1h1.1m50.4 1h1.1m13.4 5.5h1.1m-40.6 8.5h1.1m23.4 -3h1.1" stroke="#111" stroke-width="1.1" fill="none"/>
<path d="M479.5,2304.4l-10,0.3l-10.5,-0.7l-9.5,-1.4l-22.1,-4.2l-24.9,-2.4l-7,0.1l-13.5,2.1l-7,-0.1l-5,-1l-4.5,-1.8l-4,-2.3l-3.4,-3.1l-2.2,-3l-1.3,-3l-0.6,-3.5l0.4,-3.5l1.1,-3l1.8,-3l7.8,-8.5l0.7,-1.5l0.1,-2l-2.3,-9l-1,-6l-0.3,-6.5l0.2,-10l-0.5,-4l-1.5,-3.9l-5.7,-8.6l-2.7,-5.5l-1.8,-6.5l-0.5,-6.5l0.2,-3.5l0.6,-3.5l2.1,-6l3.1,-5.5l2.2,-2.6l2.4,-2.4l2.6,-2l3,-1.8l3.5,-1.5l3,-0.8l3.5,-0.5l3,-0.1l3,0.3l3,0.7l3,1l3,1.4l3,2l2.5,2.1l2.1,2.2l2.3,3l1.7,3l1.4,3l1.1,3.5l0.8,3.5l0.3,4l-0.1,4l-0.7,4.5l-1.1,4l-1.6,4l-4.2,8.5l-1.3,4.5l-0.2,3.5l0.7,10.5l-0.2,6.5l-0.7,6l-1.9,8l-0.3,2.5l0.2,1.5l0.5,1l1.7,1.5l2.5,0.9l3.5,0.4l15.5,-0.9l12.5,-1.3l4.5,-1l3.5,-1.1l3.8,-2l2.7,-2.5l1.4,-2l4.8,-8.5l2.4,-3l2.5,-2.5l3.4,-2.5l3.5,-1.9l4,-1.6l4,-1l4.5,-0.6l4,0l4,0.5l4.5,1.1l4,1.6l3.5,1.9l3.5,2.6l2.9,2.9l2.2,3l1.7,3l3.7,9.5l1.5,3l2.6,3.5l6.3,7l2.6,4l1,2.5l0.5,2.5l-0.1,2.5l-0.6,2.5l-2,3.5l-3.3,3.5l-4.5,3.3l-5.5,2.8l-6,2.2l-7,2l-8,1.4l-8,0.8zM481.5,2302.4l-11,0.4l-11,-0.6l-10,-1.5l-21.5,-4.3l-25.5,-2.5l-6.5,0.2l-13.5,2.5l-3.5,0.2l-3.5,-0.2l-5,-1l-4,-1.5l-3.5,-2.1l-2.9,-2.6l-2.2,-3l-1.4,-3.5l-0.3,-3.5l0.6,-3.5l1.1,-2.5l1.7,-2.5l2.4,-2.5l6.2,-5.5l0.9,-1.5l0.4,-1.5l-0.3,-2l-2.9,-8.5l-1.1,-5.5l-0.4,-6.5l0.5,-11l-0.5,-4l-1.8,-3.9l-5.4,-7.6l-2.5,-4.5l-1.9,-5l-1,-5.5l-0.2,-3.5l0.3,-3.5l0.6,-3l1,-3.5l1.3,-3l1.8,-3l1.8,-2.5l2.4,-2.5l2.8,-2.2l2.5,-1.6l3,-1.4l2.5,-0.8l3.5,-0.6l3,-0.1l3,0.2l3,0.7l3,1l3,1.6l2.5,1.7l2.3,2l2.2,2.4l1.9,2.6l1.4,2.5l1.5,3.5l0.9,3.5l0.7,4l0,4l-0.3,3.5l-0.7,3.5l-1.2,3.5l-1.8,4l-4.1,7.5l-1.3,4l-0.3,3.5l0.9,11.5l-0.2,7l-1,6.5l-2.8,8.5l-0.4,2l0.2,1.5l0.6,1.2l1.3,1.3l1.7,1l2.5,0.9l2.5,0.5l6.5,0l23.2,-1.9l6.3,-1.1l6,-1.7l4.7,-2.2l3.1,-2.5l1.9,-2.5l4.8,-8l2,-2.3l2.3,-2.2l2.7,-1.9l3,-1.6l3,-1.2l3.5,-0.9l3.5,-0.4l3.5,0l3.5,0.4l3.5,0.8l3.5,1.3l3,1.6l3,2.2l2.3,2.2l2,2.5l1.5,2.5l3.8,9l1.7,3l2.3,3l6.6,7l2.5,3.5l1.2,2.5l0.5,2l0.1,2.5l-0.3,2l-1.6,3.5l-2.4,3l-3.6,3l-4.6,2.7l-6,2.5l-6.5,2l-7,1.4l-7,0.9zM476.5,2300.9l-9,0l-9,-0.7l-9,-1.5l-20.5,-4.3l-26.5,-2.9l-3,0l-3,0.3l-9.5,2.5l-4,0.7l-3.5,0.3l-3.5,-0.1l-4,-0.7l-4,-1.5l-3.5,-2l-2.9,-2.6l-2.1,-3l-1.1,-3.5l-0.1,-3.5l1,-3.5l1.5,-2.5l2.2,-2.5l3,-2.5l7.2,-5l1.1,-1.5l0.1,-1l-0.5,-1.5l-2.5,-4.5l-1.4,-3l-1.1,-3l-0.8,-3.5l-0.5,-7.5l0.8,-12l-0.6,-3.5l-1.8,-3.5l-5.8,-7.5l-2.5,-4l-1.9,-4.5l-1.2,-5l-0.3,-3.5l0.2,-3l0.4,-3l1,-3.5l1.2,-3l1.7,-3l1.9,-2.5l2.3,-2.4l2.5,-1.9l2.5,-1.5l5,-1.8l3,-0.5l3,-0.1l3,0.4l2.5,0.6l2.5,0.9l3,1.6l2.5,1.9l2,1.9l2,2.4l1.6,2.5l1.5,3l1,3l0.8,3.5l0.3,4l-0.3,4l-0.7,3.5l-0.9,3l-1.5,3.5l-5.8,10l-1.3,4l-0.1,3.5l1.3,12.5l-0.2,4.5l-0.5,4l-1.8,6l-3.8,7l-0.6,1.5l0.2,1.5l0.8,1l3.4,2.5l3.1,1.6l3.5,1.3l3,0.5l3,0.1l26.5,-2.3l7,-1.1l5.5,-1.4l7.1,-2.7l4.4,-2.9l2.5,-2.6l5.1,-7.5l3.9,-3.7l4.5,-2.6l5,-1.4l3,-0.3l3,0l5.5,1.2l2.5,1l2.5,1.4l4,3.4l2.9,4l3.3,7l1.8,3l2.5,3l6.9,7l3,4l0.9,2l0.7,2.5l0,2.5l-0.5,2l-1.9,3.5l-2.9,3l-3.7,2.6l-5,2.5l-5.5,2l-6.5,1.7l-6.5,1.1l-7.5,0.6zM380.5,2253.4l-2,-0.2l-2,-1.1l-2,-2.2l-1.5,-3l-1.2,-4l-0.5,-5l0.3,-4.5l1.4,-8.5l-0.3,-3.5l-0.7,-1.5l-1.3,-2l-7,-7.5l-3.2,-4.5l-1.5,-3l-1.1,-3l-0.6,-3l-0.3,-3l0.2,-4.5l1.1,-4.5l1.8,-4l2.4,-3.4l3,-3l3.5,-2.2l4,-1.6l4,-0.6l4,0.2l4,1.1l3.5,1.7l3.5,2.8l2.6,3l2.3,4l1.5,4.5l0.6,4.5l0,3l-0.4,3l-0.8,3l-1.1,3l-2.7,4.9l-5.8,8.1l-1.6,3.5l-0.2,3.5l1.7,8l0.5,4.5l-0.1,4.5l-0.9,4.5l-1.2,3l-1.9,2.7l-2,1.7l-2,0.6zM475,2298.9l-8.5,-0.1l-8.5,-0.8l-7.5,-1.4l-21,-4.8l-27,-3.3l-3,0l-2.5,0.5l-9,3.1l-4.5,1.1l-4.5,0.4l-4.5,-0.3l-3,-0.8l-3,-1.2l-2.5,-1.5l-2.5,-2.3l-1.5,-2.1l-1.1,-2.5l-0.4,-2.5l0.2,-2.5l0.6,-2l1,-2l1.6,-2l2.1,-2l2.5,-1.7l3,-1.6l3,-1.1l3,-0.7l3,-0.1l3,0.6l3.5,1.2l9,4l2.5,0.7l2.5,0.3l3.5,-0.1l24,-2.6l6,-0.9l6.6,-1.5l9.3,-3l3.5,-1.5l3.6,-2l3.7,-3l6,-6.5l3.8,-2.6l2.5,-1l2.5,-0.5l2.5,-0.2l2.5,0.3l4,1.4l3.7,2.6l2.2,2.5l3.6,5.5l2.3,3l11.2,10.5l1.9,2.5l1.4,2.5l0.6,2l0.1,2.5l-0.3,1.5l-0.8,2l-2.1,3l-3.3,2.8l-4.5,2.6l-5.5,2.2l-6.5,1.7l-6.5,1.1l-7.5,0.6zM380.5,2216.4l-2.5,0.1l-3.5,-1.2l-4,-2.6l-4,-3.4l-2.8,-3.4l-2,-3.5l-1.3,-3.5l-0.7,-4l0,-4l0.8,-4l1.3,-3.5l2.2,-3.4l2.5,-2.7l3,-2.1l3.5,-1.5l3.5,-0.7l3.5,0.1l3.5,0.8l3,1.3l3.1,2.2l2.4,2.6l2.2,3.4l1.3,3.5l0.8,4l0,4l-0.5,3.5l-1.2,3.5l-1.7,3.5l-2.6,3.5l-3.3,3.4l-3.5,2.8l-3,1.3zM380,2242l-1,-0.5l-0.5,-0.6l-0.5,-1l-0.3,-2l0.2,-2l0.6,-1.5l0.5,-0.7l1,-0.4l1,0.4l0.5,0.7l0.6,1.5l0.2,2l-0.3,2l-0.5,1l-0.5,0.6l-1,0.5zM473,2296.9l-8,-0.2l-8.5,-1.1l-7,-1.5l-19,-5l-16.5,-2.7l-11.5,-2.2l-2,0.1l-2.5,0.7l-8,4.2l-5,1.8l-5,0.9l-5,-0.3l-2.5,-0.6l-2.5,-1l-2.5,-1.5l-1.8,-1.6l-1.5,-2l-1,-2l-0.4,-2l0.1,-2.5l1.3,-3.5l2.8,-3.2l4,-2.6l4.5,-1.5l4.5,-0.3l4.5,0.8l5,2.1l9,4.9l2.5,0.7l2.5,-0.1l11,-2.1l16.5,-2.3l9,-1.9l10.1,-3l8.4,-3l15.5,-7.1l3,-0.6l2.5,0.2l3,1l3,1.8l12.5,9l4.5,3.7l2.7,3l1.5,2.5l0.8,2.5l-0.1,2.5l-1.1,3l-2.3,2.8l-3.5,2.7l-4,2l-5,1.8l-6,1.5l-6,0.8l-6.5,0.4zM379,2211.4l-3,-0.3l-3,-1.1l-3,-1.9l-2.4,-2.2l-2,-2.5l-1.6,-3l-1,-3l-0.5,-3.5l0.2,-3.5l0.7,-3l1.3,-3l1.8,-2.7l2.3,-2.3l2.7,-1.7l3,-1.2l3,-0.4l3,0.2l3,0.9l2.5,1.3l2.5,2.1l2,2.4l1.6,2.9l1,3l0.4,3.5l-0.2,3.5l-0.7,3l-1.2,3l-1.9,3l-2.5,2.7l-2.5,1.9l-2.5,1.3l-3,0.6zM478,2294.4l-6,0.3l-6.5,-0.2l-6.5,-0.8l-6.5,-1.4l-7,-2.1l-21,-7.3l-3.1,-1.5l-0.9,-1l-0.1,-0.5l0.8,-1l3.2,-1.5l39.6,-12.3l5.5,-1.3l4.5,-0.6l4,0l3.5,0.6l4,1.2l4.5,2l4,2.3l3.5,2.6l2.6,2.5l1.7,2.5l0.8,2.5l0.1,2l-0.9,2.5l-1.3,2l-2.2,2l-3.2,2l-3.6,1.6l-4,1.3l-4.5,1l-5,0.6zM381,2289.9l-4.5,0l-4.5,-1.1l-2,-1.1l-1.7,-1.3l-1.4,-1.5l-0.9,-1.5l-0.8,-3l0.2,-2l0.4,-1.5l0.8,-1.5l1.4,-1.7l3.5,-2.5l3,-1.2l3,-0.5l3,0l3,0.6l3.5,1.4l3,1.9l2.7,2.5l1.4,2l0.5,2l-0.3,1.5l-1.1,2l-1.4,1.5l-2.3,1.8l-2.5,1.4l-3,1.2l-3,0.6zM380.5,2206.5l-2,0.2l-2.5,-0.2l-2.5,-0.9l-2,-1.3l-2,-1.9l-1.4,-2l-1.2,-2.5l-0.7,-2.5l-0.1,-2.5l0.2,-2.5l0.7,-2.5l1.3,-2.5l1.7,-2l2,-1.6l2,-1.1l2.5,-0.6l2.5,-0.1l2,0.4l2,0.8l2,1.3l2,1.9l1.3,2l0.9,2l0.6,2.5l0.2,2.5l-0.3,2.5l-0.7,2.5l-1,2.1l-1.5,2.1l-1.9,1.8l-2.1,1.3l-2,0.8zM476,2291.9l-6,0.2l-6,-0.5l-6,-1l-5.9,-1.7l-5.9,-2.5l-4.1,-2.5l-1.5,-1.5l-0.6,-1l-0.2,-1l0.2,-1l1.2,-1.5l2.7,-2l7.6,-3.5l10.5,-3.3l4.5,-0.9l4.5,-0.5l6.5,0l6.5,1.4l3.5,1.3l2.9,1.5l2.6,1.8l1.8,1.7l1.6,2.5l0.5,1.5l0.1,1.5l-0.8,2.5l-2.1,2.5l-3.1,2.1l-4.5,1.9l-5,1.3l-5.5,0.7zM381.5,2287.5l-3.5,0.3l-3.5,-0.6l-2.7,-1.3l-2.2,-2l-1.2,-2.5l-0.1,-2.5l1,-2.5l1.9,-2l1.8,-1.2l2,-0.7l2.5,-0.5l2.5,0l2.5,0.5l2.3,0.9l2.2,1.4l1.5,1.6l0.9,1.5l0.4,1.5l-0.2,2l-0.7,1.5l-1.3,1.5l-1.6,1.3l-2,1l-2.5,0.8zM380,2201l-1.5,0.3l-1.5,0l-2.5,-1l-1.5,-1.2l-0.9,-1.2l-1.3,-3l-0.1,-3l1,-3l1.1,-1.5l1.1,-1l2.6,-1.2l3,0l2.5,1.1l2,2.1l1.2,3l0.1,3l-1,3l-1.8,2.2l-2.5,1.4zM474.5,2288.9l-5,0.1l-4.5,-0.4l-4.5,-0.9l-3.9,-1.3l-3,-1.5l-2.4,-2l-0.9,-2l0.2,-1.5l1,-1.4l1.3,-1.1l4.7,-2.5l6.5,-2l6.5,-0.9l5.5,0.1l5,0.9l4.6,1.9l3.2,2.5l1.2,2l0.3,2l-0.8,2l-1.5,1.7l-2.5,1.6l-3,1.2l-3.8,1l-4.2,0.5zM381,2284.5l-2,0.3l-2,-0.1l-2,-0.6l-1.7,-1.2l-1,-1.5l-0.3,-1.5l0.3,-1.5l1.1,-1.5l2.1,-1.4l3,-0.5l3,0.5l2.3,1.4l1.3,2l0.2,1l-0.3,1.4l-1.5,1.9l-2.5,1.3zM475.5,2285.4l-6,0.3l-3,-0.4l-3,-0.7l-2.5,-1.2l-1.2,-1l-0.7,-1l0,-1.5l1.1,-1.5l1.4,-1l2.2,-1l2.7,-0.8l3,-0.4l3,-0.1l3,0.2l2.5,0.6l2.3,1l1.5,1l1.1,1.5l0.1,1.5l-0.7,1.5l-1.8,1.4l-2.5,1l-2.5,0.6z" stroke="#111" stroke-width="1.8" fill="none" stroke-linejoin="round"/>
<line x1="184.2" y1="2121.4" x2="184.2" y2="2338.5" stroke="#231f20" stroke-width="1.6"/>
<line x1="100.6" y1="2246.4" x2="317.4" y2="2246.4" stroke="#231f20" stroke-width="1.6"/>
<line x1="406.2" y1="2121.4" x2="406.2" y2="2338.5" stroke="#231f20" stroke-width="1.6"/>
<line x1="328.5" y1="2246.4" x2="545.6" y2="2246.4" stroke="#231f20" stroke-width="1.6"/>
<text transform="translate(103.6,2144.5)" font-size="22">52.2</text>
<text transform="translate(314.4,2338)" font-size="22" text-anchor="end">23.7</text>
<text transform="translate(323.7,2338)" font-size="22">6</text>
<text transform="translate(331,2144.5)" font-size="22">21.4</text>
<text transform="translate(501.2,2338)" font-size="22">54.0</text>
<path d="M235.6 2338.5v6M247.9 2338.5v3M255.2 2338.5v3M260.3 2338.5v3M264.3 2338.5v3M267.5 2338.5v3M270.2 2338.5v3M272.6 2338.5v3M274.7 2338.5v3M276.6 2338.5v6M288.9 2338.5v3M296.2 2338.5v3M301.3 2338.5v3M305.3 2338.5v3M308.5 2338.5v3M311.2 2338.5v3M313.6 2338.5v3M315.7 2338.5v3M317.6 2338.5v6M159 2338.5v6M140 2338.5v3M176 2338.5v3M190 2338.5v3M120 2338.5v3M100.6 2139.1h-6M100.6 2182.4h-6M100.6 2226.8h-6M100.6 2278.6h-6M100.6 2300.8h-6M100.6 2323h-6M100.6 2169.4h-3M100.6 2161.7h-3M100.6 2156.3h-3M100.6 2152.1h-3M100.6 2148.7h-3M100.6 2145.8h-3M100.6 2143.3h-3M100.6 2141.1h-3M100.6 2213.2h-3M100.6 2205.4h-3M100.6 2199.9h-3M100.6 2195.6h-3M100.6 2192.2h-3M100.6 2189.2h-3M100.6 2186.7h-3M100.6 2184.4h-3" stroke="#111" stroke-width="1.1" fill="none"/>
<path d="M463.5 2338.5v6M475.8 2338.5v3M483.1 2338.5v3M488.2 2338.5v3M492.2 2338.5v3M495.4 2338.5v3M498.1 2338.5v3M500.5 2338.5v3M502.6 2338.5v3M504.5 2338.5v6M516.8 2338.5v3M524.1 2338.5v3M529.2 2338.5v3M533.2 2338.5v3M536.4 2338.5v3M539.1 2338.5v3M541.5 2338.5v3M543.6 2338.5v3M545.5 2338.5v6M386.9 2338.5v6M367.9 2338.5v3M403.9 2338.5v3M417.9 2338.5v3M347.9 2338.5v3M328.5 2139.1h-6M328.5 2182.4h-6M328.5 2226.8h-6M328.5 2278.6h-6M328.5 2300.8h-6M328.5 2323h-6M328.5 2169.4h-3M328.5 2161.7h-3M328.5 2156.3h-3M328.5 2152.1h-3M328.5 2148.7h-3M328.5 2145.8h-3M328.5 2143.3h-3M328.5 2141.1h-3M328.5 2213.2h-3M328.5 2205.4h-3M328.5 2199.9h-3M328.5 2195.6h-3M328.5 2192.2h-3M328.5 2189.2h-3M328.5 2186.7h-3M328.5 2184.4h-3" stroke="#111" stroke-width="1.1" fill="none"/>
<text transform="translate(94.3,2147)" font-size="22" text-anchor="end"><tspan>10</tspan><tspan font-size="13.6" dy="-8.8">5</tspan></text>
<text transform="translate(94.3,2190.4)" font-size="22" text-anchor="end"><tspan>10</tspan><tspan font-size="13.6" dy="-8.8">4</tspan></text>
<text transform="translate(94.3,2234.8)" font-size="22" text-anchor="end"><tspan>10</tspan><tspan font-size="13.6" dy="-8.8">3</tspan></text>
<text transform="translate(94.3,2286.6)" font-size="22" text-anchor="end"><tspan>10</tspan><tspan font-size="13.6" dy="-8.8">2</tspan></text>
<text transform="translate(86,2308.8)" font-size="22" text-anchor="end">0</text>
<text transform="translate(94.3,2331)" font-size="22" text-anchor="end"><tspan>10</tspan><tspan font-size="13.6" dy="-8.8">-2</tspan></text>
<text transform="translate(159,2364.3)" font-size="22" text-anchor="middle">0</text>
<text transform="translate(222,2364.3)" font-size="22"><tspan>10</tspan><tspan font-size="13.6" dy="-8.8">3</tspan></text>
<text transform="translate(263,2364.3)" font-size="22"><tspan>10</tspan><tspan font-size="13.6" dy="-8.8">4</tspan></text>
<text transform="translate(100.6,2385.9) scale(0.974,1)" font-size="26"><tspan>CD101</tspan></text>
<line x1="186.8" y1="2377.4" x2="536.5" y2="2377.4" stroke="#111" stroke-width="1.8"/>
<path d="M547.5,2377.4 L535.5,2372.4 L535.5,2382.4 Z" fill="#111"/>
<line x1="35.1" y1="2241.6" x2="35.1" y2="2132.4" stroke="#111" stroke-width="1.8"/>
<path d="M35.1,2121.4 L30.1,2133.4 L40.1,2133.4 Z" fill="#111"/>
<text transform="translate(45.5,2297) rotate(-90)" font-size="25" text-anchor="middle">CX3CR1</text>
<text transform="translate(788.5,2072.5) scale(1.016,1)" font-size="29"><tspan>PD-1+ cells, day 21</tspan></text>
<line x1="694" y1="2088.6" x2="1141.7" y2="2088.6" stroke="#231f20" stroke-width="1.8"/>
<text transform="translate(782,2113.9) scale(1.024,1)" font-size="25"><tspan>Ctrl</tspan></text>
<text transform="translate(937.8,2113.9)" font-size="25"><tspan font-style="italic">Satb1</tspan><tspan font-size="15.5" dy="-8.5">m1Anu/m1Anu</tspan></text>
<rect x="694" y="2120.4" width="218.9" height="217.3" fill="none" stroke="#111" stroke-width="2"/>
<rect x="923.6" y="2120.4" width="218.1" height="217.3" fill="none" stroke="#111" stroke-width="2"/>
<path d="M753.5 2123.5h1.1m0.4 0.5h1.1m74.9 -2h1.1m-74.1 13h1.1m49.9 6.5h1.1m0.4 -0.5h1.1m15.4 3.5h1.1m4.4 -3h1.1m-96.1 9h1.1m13.4 0h1.1m0.4 -3h1.1m13.9 3h1.1m5.9 -2.5h1.1m65.9 -3h1.1m-96.1 8h1.1m144.9 1h1.1m-147.1 4.5h1.1m8.9 2.5h1.1m10.9 1.5h1.1m-25.1 4h1.1m3.4 2h1.1m17.4 -4.5h1.1m-26.6 5h1.1m-1.1 5.5h1.1m1.4 -1h1.1m0.4 -4.5h1.1m-1.1 1.5h1.1m2.4 3.5h1.1m-0.1 1h1.1m-1.1 0h1.1m9.4 -4h1.1m9.9 -2h1.1m10.9 4.5h1.1m13.4 -3h1.1m20.4 3h1.1m15.4 0h1.1m28.4 -1.5h1.1m-144.6 6.5h1.1m23.4 -0.5h1.1m1.9 2h1.1m0.9 -1h1.1m1.9 -3h1.1m-0.1 3h1.1m1.4 1.5h1.1m-0.1 -5h1.1m0.4 4.5h1.1m-0.1 0.5h1.1m3.4 -1.5h1.1m48.9 -3h1.1m31.4 -0.5h1.1m-118.6 7.5h1.1m2.9 1.5h1.1m2.4 -3.5h1.1m0.9 0h1.1m-0.6 4h1.1m0.9 -2.5h1.1m-0.1 0.5h1.1m-0.1 2.5h1.1m-0.6 -2.5h1.1m-0.6 3.5h1.1m3.9 0.5h1.1m1.9 -1h1.1m1.4 -0.5h1.1m-0.6 -1.5h1.1m-0.6 -3h1.1m3.4 4h1.1m-0.6 -1.5h1.1m7.9 3.5h1.1m-0.6 -0.5h1.1m0.4 0h1.1m9.4 -4.5h1.1m7.9 2h1.1m36.9 -2h1.1m-107.1 10.5h1.1m-0.1 -3.5h1.1m-0.1 1.5h1.1m3.4 -0.5h1.1m5.9 1.5h1.1m-0.6 -1h1.1m0.9 1.5h1.1m-0.1 -0.5h1.1m0.4 -2.5h1.1m0.4 1h1.1m-0.6 -1.5h1.1m-1.1 2h1.1m0.9 0h1.1m-1.1 -0.5h1.1m-0.1 0h1.1m0.9 0h1.1m1.4 -1.5h1.1m0.4 -1h1.1m-1.1 1h1.1m-0.6 4h1.1m-0.6 -0.5h1.1m0.9 -2.5h1.1m-1.1 0.5h1.1m-1.1 -2.5h1.1m2.9 4h1.1m1.4 -2h1.1m0.4 -1h1.1m-0.6 3.5h1.1m-0.1 -4.5h1.1m-0.6 4.5h1.1m4.9 -1.5h1.1m10.9 -0.5h1.1m16.4 -2h1.1m9.4 3h1.1m5.4 0h1.1m18.4 -1h1.1m55.4 1h1.1m-172.1 5h1.1m4.9 0h1.1m0.4 -1.5h1.1m-0.1 4h1.1m-1.1 -5h1.1m-0.6 -0.5h1.1m0.4 6h1.1m2.9 -3h1.1m-0.1 -2h1.1m0.9 5h1.1m-0.1 -4h1.1m4.4 1h1.1m0.9 -0.5h1.1m-0.1 3.5h1.1m0.4 -3.5h1.1m1.4 3h1.1m-0.6 -1.5h1.1m-0.1 -1.5h1.1m0.4 2h1.1m-0.6 -2.5h1.1m0.9 0.5h1.1m-0.6 1h1.1m-0.6 -1.5h1.1m-0.6 3.5h1.1m-0.6 0.5h1.1m0.4 -4.5h1.1m2.4 3.5h1.1m0.9 -2.5h1.1m1.4 3h1.1m2.9 -1.5h1.1m17.4 1h1.1m8.4 0.5h1.1m30.4 -5.5h1.1m6.4 2h1.1m21.4 -0.5h1.1m-140.6 6.5h1.1m8.9 -0.5h1.1m-0.6 2h1.1m1.4 2h1.1m0.9 -3h1.1m-0.1 2h1.1m-0.6 -4h1.1m-0.6 5h1.1m-1.1 -5h1.1m2.9 5h1.1m0.4 -0.5h1.1m0.4 0.5h1.1m-0.1 -4.5h1.1m-1.1 3h1.1m-1.1 -2h1.1m0.9 -0.5h1.1m-0.6 3.5h1.1m1.4 -0.5h1.1m-0.6 1h1.1m-0.6 -2.5h1.1m-0.6 -2.5h1.1m-1.1 1.5h1.1m0.9 3h1.1m0.4 -1.5h1.1m0.4 1.5h1.1m-1.1 0.5h1.1m-0.6 -0.5h1.1m6.4 -4h1.1m-1.1 1.5h1.1m2.4 1h1.1m0.4 -1h1.1m13.4 0.5h1.1m11.4 1h1.1m28.4 1h1.1m12.4 -1h1.1m11.9 0h1.1m10.9 -2h1.1m-135.6 6h1.1m-0.6 4h1.1m2.4 -4.5h1.1m-1.1 -0.5h1.1m-0.1 3h1.1m-0.1 1h1.1m-0.6 -4.5h1.1m-0.6 4.5h1.1m-0.1 0h1.1m-0.1 -2.5h1.1m-0.6 2h1.1m-0.6 1h1.1m-1.1 -3.5h1.1m-0.6 0h1.1m-0.6 -1h1.1m-1.1 4h1.1m-0.6 -2h1.1m-0.6 0.5h1.1m-0.1 2.5h1.1m0.9 -0.5h1.1m-0.6 -3.5h1.1m-0.1 3h1.1m-0.6 -4h1.1m-0.1 4h1.1m-0.6 1h1.1m-1.1 -4h1.1m-1.1 0.5h1.1m0.9 3.5h1.1m-0.1 -2.5h1.1m-1.1 -1h1.1m0.9 -2h1.1m0.4 5.5h1.1m-0.6 -2h1.1m-1.1 1h1.1m2.4 -1h1.1m-0.1 -2h1.1m-0.1 0.5h1.1m3.9 -2.5h1.1m0.9 2.5h1.1m-0.1 -2.5h1.1m3.9 0.5h1.1m4.4 3h1.1m24.4 -2h1.1m23.4 2h1.1m3.9 -1h1.1m-110.6 7h1.1m2.9 0.5h1.1m0.9 0h1.1m-0.6 -1.5h1.1m-0.1 -1.5h1.1m-0.6 3.5h1.1m0.4 1h1.1m-0.1 -3.5h1.1m-1.1 3h1.1m0.4 -1.5h1.1m0.4 -1h1.1m0.4 1h1.1m-0.6 -2h1.1m2.4 4h1.1m-0.6 -2.5h1.1m-0.6 1.5h1.1m-0.6 -2.5h1.1m-1.1 2h1.1m-0.6 -1.5h1.1m-1.1 -2h1.1m-0.6 3h1.1m-0.6 1h1.1m-1.1 -0.5h1.1m-1.1 -1h1.1m0.4 0h1.1m-1.1 0.5h1.1m-0.6 -1h1.1m-0.6 3h1.1m-0.6 -2h1.1m-0.1 -2.5h1.1m-0.6 0.5h1.1m-0.1 0.5h1.1m-0.6 -1h1.1m-0.6 0.5h1.1m-0.1 2.5h1.1m-0.1 1.5h1.1m2.4 0h1.1m-0.1 -1.5h1.1m3.9 -2.5h1.1m0.9 3h1.1m0.4 1h1.1m32.9 -4h1.1m-0.6 2h1.1m15.9 1h1.1m4.9 0.5h1.1m-115.6 3.5h1.1m9.4 0h1.1m4.9 2h1.1m-0.1 -4.5h1.1m-1.1 4h1.1m0.4 -3.5h1.1m0.9 2.5h1.1m1.4 3h1.1m-0.6 -4h1.1m-0.6 4h1.1m-0.6 -5.5h1.1m-1.1 2.5h1.1m-0.1 -2h1.1m-1.1 3.5h1.1m-0.6 0.5h1.1m-0.6 -2h1.1m-1.1 2h1.1m-1.1 -4.5h1.1m-0.1 1h1.1m-1.1 0h1.1m-0.6 -0.5h1.1m-1.1 3h1.1m-0.6 -0.5h1.1m-1.1 2.5h1.1m0.4 0h1.1m1.4 -4h1.1m-1.1 -1h1.1m-0.6 0.5h1.1m-1.1 4h1.1m-0.6 -3h1.1m0.4 1.5h1.1m-1.1 1.5h1.1m-0.1 -2.5h1.1m-0.6 -2h1.1m-1.1 3.5h1.1m-1.1 -3h1.1m-1.1 1.5h1.1m-1.1 -1.5h1.1m-1.1 2.5h1.1m1.9 -1.5h1.1m-0.6 0.5h1.1m-0.1 -2.5h1.1m-1.1 0h1.1m-0.1 1.5h1.1m0.9 1.5h1.1m2.9 -2.5h1.1m-1.1 0.5h1.1m0.9 3h1.1m-0.1 1.5h1.1m0.4 -2h1.1m-0.1 -2.5h1.1m-0.1 2.5h1.1m10.9 -2.5h1.1m49.9 3h1.1m-110.1 5h1.1m0.4 1h1.1m0.4 -2.5h1.1m-1.1 -1h1.1m1.4 4.5h1.1m-0.6 0h1.1m-0.1 -1h1.1m-1.1 -3.5h1.1m-0.1 -0.5h1.1m0.9 3h1.1m-1.1 -2.5h1.1m0.4 1.5h1.1m-0.6 1h1.1m0.4 -3h1.1m0.9 3.5h1.1m-0.6 -1h1.1m-1.1 1.5h1.1m-0.1 -3h1.1m-1.1 2h1.1m-1.1 0h1.1m0.4 -3h1.1m-0.1 1h1.1m-1.1 -0.5h1.1m-1.1 2h1.1m-0.6 2h1.1m-0.1 -3.5h1.1m-1.1 -1h1.1m-0.6 2.5h1.1m-0.6 -1h1.1m-0.6 3h1.1m0.4 0h1.1m-0.6 -4h1.1m-1.1 -0.5h1.1m0.4 1h1.1m-0.1 2.5h1.1m-0.1 -3.5h1.1m0.4 4.5h1.1m-1.1 -0.5h1.1m-0.6 -4h1.1m0.4 1h1.1m-1.1 0.5h1.1m0.9 2h1.1m-0.6 1h1.1m0.4 0.5h1.1m-0.1 -3.5h1.1m0.9 0.5h1.1m0.4 2.5h1.1m-1.1 -3.5h1.1m-1.1 -0.5h1.1m-0.6 4.5h1.1m-1.1 -2.5h1.1m2.4 2h1.1m0.4 -4h1.1m-0.1 4.5h1.1m21.9 -4h1.1m54.9 1h1.1m5.4 -1h1.1m-143.1 5h1.1m16.4 0.5h1.1m-1.1 5h1.1m3.9 -3.5h1.1m-0.1 0h1.1m-1.1 2h1.1m-0.6 -4.5h1.1m1.9 6h1.1m-0.6 -5h1.1m-0.6 4h1.1m-0.6 -1h1.1m-0.6 1.5h1.1m-0.6 -5.5h1.1m1.4 4h1.1m-1.1 -1.5h1.1m-0.6 -2.5h1.1m-0.6 0.5h1.1m-1.1 1.5h1.1m-0.1 4h1.1m-1.1 -3.5h1.1m-0.6 0h1.1m-0.6 -0.5h1.1m-1.1 0.5h1.1m-0.1 3.5h1.1m-0.1 -3.5h1.1m0.4 0.5h1.1m-0.1 2.5h1.1m-1.1 -1h1.1m0.9 -4.5h1.1m-1.1 1.5h1.1m-1.1 0h1.1m-0.6 -0.5h1.1m-0.6 4.5h1.1m-0.6 -4.5h1.1m-0.6 1h1.1m-0.1 0h1.1m-0.6 0h1.1m-1.1 -1.5h1.1m-0.6 2.5h1.1m7.9 1.5h1.1m1.4 -2.5h1.1m-0.6 -1h1.1m6.9 -1h1.1m8.4 2h1.1m35.4 -0.5h1.1m0.9 -1h1.1m17.9 3.5h1.1m13.4 -3.5h1.1m-141.1 9.5h1.1m1.9 -0.5h1.1m2.4 -1.5h1.1m-0.1 0.5h1.1m-1.1 -2h1.1m0.4 5h1.1m1.4 -2.5h1.1m-0.6 1h1.1m0.4 -2h1.1m-1.1 -0.5h1.1m-0.1 -1h1.1m-0.1 0h1.1m-1.1 5h1.1m-0.1 -2.5h1.1m-0.1 -2.5h1.1m-1.1 1h1.1m-1.1 3h1.1m-1.1 0.5h1.1m-0.6 -1.5h1.1m-0.6 0h1.1m-1.1 -0.5h1.1m-0.6 2h1.1m-1.1 -2.5h1.1m-0.1 2h1.1m-1.1 0h1.1m-0.6 -2h1.1m-0.6 3h1.1m-0.6 -1h1.1m-1.1 -3.5h1.1m-0.6 2h1.1m-0.6 0.5h1.1m-1.1 1h1.1m-0.6 1h1.1m-1.1 -2h1.1m-0.6 0h1.1m-0.6 2h1.1m-1.1 -0.5h1.1m-1.1 -0.5h1.1m-0.6 -2h1.1m-0.6 -0.5h1.1m-1.1 0h1.1m-1.1 3.5h1.1m-0.6 -3h1.1m-1.1 2.5h1.1m-1.1 0.5h1.1m-0.6 -0.5h1.1m-1.1 -1.5h1.1m-1.1 0.5h1.1m-1.1 -1h1.1m-0.6 -2h1.1m-0.6 3h1.1m-1.1 0.5h1.1m-1.1 -2.5h1.1m-0.6 1h1.1m-1.1 -1.5h1.1m-0.6 3.5h1.1m-1.1 0h1.1m-1.1 -0.5h1.1m-1.1 -3h1.1m-0.6 2h1.1m-1.1 1.5h1.1m-1.1 -2h1.1m-1.1 2.5h1.1m-1.1 -3.5h1.1m-0.6 2h1.1m-1.1 -0.5h1.1m-1.1 -1h1.1m-0.6 3h1.1m-1.1 -1h1.1m-1.1 -2.5h1.1m-0.6 2.5h1.1m-1.1 -1h1.1m-0.6 -0.5h1.1m-1.1 -2.5h1.1m-1.1 2h1.1m0.4 3h1.1m-0.6 -1.5h1.1m-0.6 1h1.1m-1.1 -2.5h1.1m-1.1 2h1.1m-0.6 -4h1.1m-0.1 4h1.1m-1.1 -1.5h1.1m-0.6 0h1.1m-1.1 -2h1.1m-0.6 1.5h1.1m-0.1 2h1.1m-1.1 -4h1.1m-0.6 4h1.1m-0.6 -1h1.1m-0.6 1.5h1.1m-1.1 -0.5h1.1m-0.6 -2h1.1m-0.6 0.5h1.1m-0.1 0.5h1.1m-0.6 0.5h1.1m0.4 1.5h1.1m-1.1 -2h1.1m-0.1 1.5h1.1m-0.1 -1h1.1m0.4 -3h1.1m0.4 2.5h1.1m11.4 -1.5h1.1m23.9 0.5h1.1m38.4 -0.5h1.1m-132.1 5.5h1.1m-0.6 4.5h1.1m3.4 -1.5h1.1m2.4 -1h1.1m0.4 1.5h1.1m0.4 -4h1.1m-0.1 0.5h1.1m-0.6 1.5h1.1m-1.1 1h1.1m-1.1 1.5h1.1m-0.1 -2.5h1.1m-1.1 1h1.1m-1.1 -1h1.1m-1.1 0.5h1.1m0.9 1h1.1m-1.1 0.5h1.1m-1.1 -3.5h1.1m-1.1 0.5h1.1m-0.6 4h1.1m-0.6 -0.5h1.1m-1.1 -0.5h1.1m-1.1 0h1.1m-0.1 -4.5h1.1m-1.1 0h1.1m-1.1 2h1.1m-1.1 -2.5h1.1m-1.1 4.5h1.1m-0.6 0h1.1m-0.6 0.5h1.1m-1.1 -4.5h1.1m-1.1 2.5h1.1m-0.6 2h1.1m-1.1 -2.5h1.1m-1.1 -2.5h1.1m-0.6 1.5h1.1m-1.1 3h1.1m-0.6 -2h1.1m-1.1 -1h1.1m-0.6 1h1.1m-1.1 -1.5h1.1m-0.6 3.5h1.1m-1.1 -2.5h1.1m-1.1 -1h1.1m-1.1 2.5h1.1m-0.6 -3.5h1.1m-1.1 3h1.1m-0.6 0.5h1.1m-1.1 -1h1.1m-0.6 0.5h1.1m-0.1 0h1.1m-0.6 -1.5h1.1m-0.6 -1h1.1m-1.1 1.5h1.1m-1.1 -1h1.1m-0.6 -0.5h1.1m-0.6 -0.5h1.1m-1.1 1.5h1.1m-0.1 -1h1.1m-0.6 0.5h1.1m-0.6 0h1.1m-1.1 0.5h1.1m-1.1 0h1.1m-1.1 -1.5h1.1m-0.6 0.5h1.1m-1.1 -0.5h1.1m-0.6 1h1.1m0.4 -0.5h1.1m-0.6 1h1.1m-1.1 -1h1.1m-0.1 -0.5h1.1m-0.6 0.5h1.1m-0.1 0h1.1m-0.6 0h1.1m-0.6 0h1.1m-0.6 -0.5h1.1m-0.6 1h1.1m-0.6 -1h1.1m-1.1 0.5h1.1m-0.6 0.5h1.1m-0.6 0h1.1m-1.1 0.5h1.1m-0.6 -0.5h1.1m-0.6 0h1.1m-0.6 0.5h1.1m-1.1 -0.5h1.1m-1.1 1h1.1m-0.6 0h1.1m-0.6 0.5h1.1m-1.1 0h1.1m-0.6 -0.5h1.1m-0.1 0.5h1.1m-1.1 -2h1.1m-1.1 2h1.1m-0.6 -2h1.1m-0.6 0h1.1m-0.6 0.5h1.1m-0.1 -0.5h1.1m-1.1 -0.5h1.1m-0.1 3.5h1.1m-1.1 -1.5h1.1m-0.6 -0.5h1.1m-0.6 -1h1.1m-1.1 3.5h1.1m-1.1 -2.5h1.1m-0.6 2.5h1.1m-1.1 -1.5h1.1m-0.6 1h1.1m-0.6 -1h1.1m0.4 3h1.1m-1.1 -3.5h1.1m-0.6 4h1.1m-0.6 0h1.1m-0.6 0h1.1m-0.6 -0.5h1.1m-0.1 -5h1.1m-1.1 -0.5h1.1m-0.6 3.5h1.1m-1.1 2h1.1m-0.1 -4.5h1.1m-0.1 4.5h1.1m-0.6 0h1.1m-1.1 -1h1.1m-0.1 -3h1.1m-0.1 4h1.1m5.9 -1h1.1m65.9 -4.5h1.1m-127.1 10.5h1.1m0.9 -2h1.1m1.4 0h1.1m-0.1 0h1.1m-1.1 1.5h1.1m-1.1 0.5h1.1m-1.1 -1h1.1m-0.1 0h1.1m-1.1 0.5h1.1m-0.6 -2.5h1.1m-1.1 2h1.1m-0.6 1h1.1m-1.1 -2h1.1m-1.1 2h1.1m-0.6 -2h1.1m-0.6 -1.5h1.1m-1.1 2h1.1m-1.1 0h1.1m-0.6 2.5h1.1m-0.6 -0.5h1.1m-0.6 0h1.1m-0.6 -3.5h1.1m-1.1 2.5h1.1m-0.1 -2.5h1.1m-0.6 0.5h1.1m-0.1 -1.5h1.1m29.4 0.5h1.1m-0.6 0h1.1m-0.6 1h1.1m-1.1 0.5h1.1m-1.1 -1h1.1m-0.6 -0.5h1.1m-1.1 -0.5h1.1m-0.1 0.5h1.1m-0.6 1.5h1.1m-1.1 -1h1.1m-1.1 3.5h1.1m-0.6 0h1.1m-0.1 -4h1.1m-1.1 2.5h1.1m-0.6 -0.5h1.1m-1.1 1h1.1m-1.1 0h1.1m-0.6 1.5h1.1m-1.1 -2h1.1m-1.1 0.5h1.1m-0.6 -2.5h1.1m0.4 3.5h1.1m-0.1 0.5h1.1m-1.1 -2.5h1.1m0.4 2h1.1m-0.1 0.5h1.1m27.4 -3.5h1.1m-88.1 6h1.1m-0.6 0h1.1m3.4 1h1.1m-1.1 2h1.1m0.4 -1h1.1m-1.1 -1h1.1m-0.6 1.5h1.1m-1.1 0h1.1m-0.6 1.5h1.1m-1.1 0h1.1m-0.6 -2h1.1m-1.1 0h1.1m-1.1 0.5h1.1m-0.6 1.5h1.1m-0.6 -4.5h1.1m-1.1 4.5h1.1m-0.6 -4.5h1.1m-0.6 -0.5h1.1m-1.1 4h1.1m-0.6 -2h1.1m-1.1 0h1.1m-0.6 -0.5h1.1m-1.1 2.5h1.1m-0.1 -3.5h1.1m-1.1 0h1.1m-0.1 -1h1.1m-1.1 -0.5h1.1m37.9 0.5h1.1m-0.6 1.5h1.1m-1.1 -2h1.1m-0.6 0h1.1m-1.1 2h1.1m-1.1 -0.5h1.1m-0.6 4h1.1m-1.1 -1h1.1m-0.6 1.5h1.1m-1.1 -3.5h1.1m-0.6 0.5h1.1m-1.1 2.5h1.1m-0.6 -4h1.1m-1.1 3.5h1.1m-1.1 -1h1.1m-0.6 0h1.1m-0.6 -2h1.1m-0.1 4h1.1m-0.6 -0.5h1.1m-1.1 -2h1.1m-1.1 2.5h1.1m-0.6 -2.5h1.1m-1.1 1h1.1m0.4 0h1.1m-1.1 -4.5h1.1m-0.6 3h1.1m-65.6 8.5h1.1m0.4 -0.5h1.1m2.4 -2h1.1m-0.6 2h1.1m-0.6 -2.5h1.1m0.4 -2h1.1m-0.1 1.5h1.1m-0.1 1.5h1.1m-0.1 -3h1.1m-0.6 0h1.1m-0.6 2h1.1m-0.6 -1h1.1m-1.1 0h1.1m-1.1 -1h1.1m-0.6 0h1.1m-0.6 2h1.1m-1.1 -0.5h1.1m-0.6 1h1.1m-1.1 2.5h1.1m-0.6 -3.5h1.1m-0.6 0h1.1m-1.1 -1h1.1m43.4 1h1.1m-1.1 0h1.1m-0.6 1.5h1.1m-1.1 1h1.1m-1.1 -3.5h1.1m-1.1 1.5h1.1m-1.1 -1.5h1.1m-0.6 4h1.1m-0.6 -1.5h1.1m-1.1 1h1.1m-1.1 -2h1.1m-0.6 2.5h1.1m-1.1 -2h1.1m-1.1 -2.5h1.1m-0.6 3h1.1m-0.6 0h1.1m-1.1 0h1.1m-1.1 -2h1.1m-0.1 2h1.1m-0.1 -1.5h1.1m-0.1 1h1.1m-0.1 -2.5h1.1m0.4 3h1.1m-0.6 -0.5h1.1m-0.1 -1.5h1.1m0.9 2h1.1m-68.1 6.5h1.1m-1.1 2h1.1m0.9 -3.5h1.1m-1.1 3h1.1m0.4 -1.5h1.1m-0.6 1h1.1m-1.1 1h1.1m-0.6 -3h1.1m-1.1 2.5h1.1m-0.6 -3h1.1m-0.6 -0.5h1.1m-1.1 2.5h1.1m-1.1 -3h1.1m-0.6 0.5h1.1m-1.1 2.5h1.1m-0.6 -1h1.1m-0.6 -1.5h1.1m-0.6 3h1.1m-1.1 -3.5h1.1m-1.1 1.5h1.1m-1.1 -2h1.1m-0.6 -0.5h1.1m-1.1 2.5h1.1m-0.6 0.5h1.1m-1.1 1.5h1.1m-1.1 0.5h1.1m-1.1 -1h1.1m-1.1 -0.5h1.1m-0.6 1.5h1.1m-0.6 -0.5h1.1m-0.6 -5h1.1m-1.1 5.5h1.1m44.4 -5.5h1.1m-0.6 6h1.1m-1.1 -3h1.1m-1.1 1.5h1.1m-0.1 0.5h1.1m-0.6 -5h1.1m-1.1 2.5h1.1m-0.6 1.5h1.1m-1.1 -4h1.1m-1.1 1.5h1.1m-0.6 3.5h1.1m-1.1 -3h1.1m-0.6 3.5h1.1m-0.6 0.5h1.1m-0.6 -5h1.1m-1.1 4h1.1m-1.1 -3.5h1.1m-0.6 3.5h1.1m3.4 0.5h1.1m-1.1 -5.5h1.1m1.9 5.5h1.1m-66.6 5h1.1m-0.1 -1h1.1m-0.1 0h1.1m-1.1 0.5h1.1m0.4 -3h1.1m0.4 4h1.1m-1.1 -3.5h1.1m-1.1 4h1.1m-0.6 -5h1.1m-1.1 3.5h1.1m-0.6 -3.5h1.1m-0.6 0.5h1.1m-0.6 4.5h1.1m-1.1 -1.5h1.1m-1.1 -2h1.1m-0.6 2h1.1m-1.1 -3h1.1m-1.1 2.5h1.1m-0.6 1h1.1m42.9 0h1.1m-0.6 -0.5h1.1m-1.1 1h1.1m-0.6 0h1.1m-0.6 -0.5h1.1m-0.1 1h1.1m-1.1 -3.5h1.1m-1.1 -1.5h1.1m-0.1 2h1.1m-0.6 -1h1.1m-0.6 0h1.1m0.4 1h1.1m-0.6 -0.5h1.1m-0.1 1h1.1m51.4 2h1.1m-118.1 4.5h1.1m3.9 0.5h1.1m0.4 -2.5h1.1m-0.6 2.5h1.1m-0.6 0.5h1.1m-1.1 -1h1.1m0.4 0h1.1m0.4 -0.5h1.1m-1.1 3h1.1m-0.6 -5.5h1.1m-1.1 2h1.1m-0.6 3h1.1m-0.6 -5h1.1m-1.1 0.5h1.1m-0.1 -0.5h1.1m-0.6 0h1.1m-1.1 3h1.1m-1.1 0.5h1.1m-1.1 0.5h1.1m-1.1 -2.5h1.1m-0.6 0.5h1.1m-1.1 0.5h1.1m-0.1 0h1.1m-1.1 1.5h1.1m39.4 -1.5h1.1m-1.1 3h1.1m-0.6 -2.5h1.1m-0.6 1.5h1.1m-1.1 -1h1.1m-0.6 -1.5h1.1m-0.6 3h1.1m-0.1 -5.5h1.1m-1.1 1h1.1m-0.6 3h1.1m0.9 -2.5h1.1m-0.6 1h1.1m-0.6 -2h1.1m-1.1 0.5h1.1m1.4 0.5h1.1m0.4 2.5h1.1m7.4 -3h1.1m-74.6 9h1.1m3.4 -3.5h1.1m0.4 0.5h1.1m1.4 -0.5h1.1m-0.6 3.5h1.1m-1.1 -0.5h1.1m-1.1 -2.5h1.1m0.9 2h1.1m-0.6 0.5h1.1m-1.1 -1h1.1m-0.6 -1.5h1.1m-1.1 -0.5h1.1m-0.6 2h1.1m-0.1 -1.5h1.1m0.4 0h1.1m-1.1 3.5h1.1m-0.6 -2.5h1.1m-0.6 0.5h1.1m-0.6 -0.5h1.1m-1.1 3h1.1m-0.6 -2h1.1m-1.1 1.5h1.1m-1.1 -0.5h1.1m-0.1 -1h1.1m1.4 2.5h1.1m-1.1 0h1.1m26.9 -0.5h1.1m-0.1 -1h1.1m-0.1 1h1.1m0.4 -3h1.1m-0.6 1.5h1.1m-1.1 1h1.1m-0.1 -0.5h1.1m-0.6 -2h1.1m-1.1 -1.5h1.1m1.4 4h1.1m-0.6 -3h1.1m-0.1 -0.5h1.1m-1.1 2.5h1.1m-0.6 -3h1.1m-48.6 10.5h1.1m0.9 -1.5h1.1m-0.1 -2.5h1.1m0.4 1.5h1.1m-0.6 -2.5h1.1m-1.1 2h1.1m-0.6 -1h1.1m-1.1 2h1.1m-0.6 -2.5h1.1m-0.6 3h1.1m-1.1 -2.5h1.1m-0.6 3h1.1m-1.1 -2.5h1.1m-0.6 2h1.1m-0.1 -1h1.1m-1.1 -0.5h1.1m-1.1 0.5h1.1m-0.6 3h1.1m-0.6 -4h1.1m-1.1 2.5h1.1m-0.6 -1h1.1m-1.1 -0.5h1.1m-0.6 1h1.1m-1.1 -2h1.1m-0.6 2.5h1.1m-1.1 -1h1.1m-0.6 -1.5h1.1m-1.1 -0.5h1.1m-0.6 0.5h1.1m-1.1 0h1.1m-0.1 3.5h1.1m-1.1 0.5h1.1m-1.1 -2h1.1m-1.1 2h1.1m0.4 -3h1.1m-1.1 0h1.1m-1.1 0.5h1.1m-1.1 0h1.1m-0.1 0.5h1.1m-0.6 0.5h1.1m-0.6 -0.5h1.1m-1.1 2h1.1m-0.1 0.5h1.1m-0.6 -1h1.1m-0.1 1h1.1m-1.1 -2h1.1m-0.6 0.5h1.1m-1.1 1h1.1m-0.1 -1h1.1m0.4 1.5h1.1m-0.6 -0.5h1.1m0.4 -0.5h1.1m0.9 -1h1.1m-0.6 0.5h1.1m-0.6 0h1.1m-1.1 1.5h1.1m-1.1 -1h1.1m-1.1 -0.5h1.1m0.4 1h1.1m-0.6 0h1.1m-1.1 -1.5h1.1m-0.6 -0.5h1.1m-0.6 0h1.1m-1.1 2.5h1.1m1.4 -4h1.1m-0.6 0.5h1.1m-0.6 -1h1.1m-0.6 2.5h1.1m-1.1 1.5h1.1m-1.1 -2h1.1m-0.6 0h1.1m-1.1 1h1.1m-1.1 -0.5h1.1m-0.6 -3h1.1m-1.1 0.5h1.1m-1.1 4h1.1m-0.6 -3h1.1m-0.6 -1.5h1.1m-1.1 0h1.1m-0.6 2h1.1m-0.6 0h1.1m-1.1 -1h1.1m-0.6 1.5h1.1m-0.6 -2h1.1m-1.1 -1.5h1.1m-0.6 0.5h1.1m-1.1 1.5h1.1m-0.6 -0.5h1.1m-1.1 -0.5h1.1m-0.6 0h1.1m-0.1 1.5h1.1m-0.1 -2h1.1m0.9 3.5h1.1m-1.1 -2h1.1m-0.6 -1h1.1m-0.6 1.5h1.1m0.9 -2h1.1m0.4 5.5h1.1m-1.1 -3.5h1.1m-1.1 -2h1.1m3.4 0.5h1.1m-55.1 5.5h1.1m5.4 0h1.1m3.9 3.5h1.1m0.4 -2.5h1.1m-0.1 -1h1.1m-0.1 1.5h1.1m-1.1 -1h1.1m-0.6 1.5h1.1m-0.6 0h1.1m-1.1 -2h1.1m-0.1 1h1.1m0.4 1h1.1m-0.6 1.5h1.1m-0.6 -1h1.1m-1.1 0.5h1.1m-1.1 0.5h1.1m-0.1 0.5h1.1m-0.6 -3.5h1.1m2.9 0h1.1m-1.1 0h1.1m-0.6 -0.5h1.1m-0.6 0.5h1.1m-0.6 2.5h1.1m-0.1 -0.5h1.1m-1.1 -2.5h1.1m-0.6 1.5h1.1m-0.6 -1h1.1m-0.1 3.5h1.1m-0.6 1h1.1m-0.6 -5h1.1m-1.1 0h1.1m-0.6 1h1.1m-1.1 3h1.1m-1.1 -3h1.1m-0.6 -1h1.1m-0.6 4.5h1.1m-1.1 -4.5h1.1m-0.1 1h1.1m-1.1 1.5h1.1m-0.6 0.5h1.1m-0.6 -1.5h1.1m-1.1 2h1.1m0.9 -3h1.1m-0.1 0.5h1.1m-0.1 2h1.1m1.4 -2.5h1.1m2.4 0h1.1m-32.6 5h1.1m0.4 0h1.1m1.4 0.5h1.1m-0.6 2.5h1.1m0.4 -3h1.1m-0.6 2h1.1m4.9 -1h1.1m-0.6 4.5h1.1m-0.1 -3.5h1.1m-1.1 2h1.1m-0.1 0h1.1m-0.6 -2h1.1m1.4 2h1.1m-0.1 1.5h1.1m10.9 -5.5h1.1m-23.1 7h1.1m53.9 0h1.1m-62.6 5.5h1.1m12.4 4.5h1.1m-0.1 -5h1.1" stroke="#111" stroke-width="1.1" fill="none"/>
<path d="M754.5,2293.9L750,2294.1L745,2293.2L740.5,2291.2L736.5,2288.4L733.2,2284.9L730.4,2280.4L728.6,2275.9L727.5,2270.4L727.5,2265.4L728.4,2259.9L730.3,2254.9L733,2250.4L736.5,2246.6L740.5,2243.8L745,2241.8L749.5,2240.9L754,2241L758.5,2242L763,2244.1L766.8,2246.9L770.4,2250.9L772.7,2254.9L774.6,2259.9L775.4,2264.4L775.5,2269.4L774.7,2274.9L772.8,2279.9L770.5,2283.9L767.5,2287.4L763.5,2290.6L759,2292.8L754.5,2293.9Z" fill="#111"/>
<path d="M754,2281.4L751.5,2281.7L749,2281.4L746.5,2280.6L744,2279L742,2277.1L740.5,2274.9L739.4,2272.4L738.8,2269.9L738.6,2266.9L738.9,2264.4L739.7,2261.9L741,2259.3L742.5,2257.3L744.8,2255.4L747,2254.2L749.5,2253.5L752,2253.3L754.5,2253.7L757,2254.6L759,2256L761,2257.9L762.4,2259.9L763.5,2262.4L764.1,2264.9L764.4,2267.9L764.1,2270.4L763.4,2272.9L762.2,2275.4L760.5,2277.7L758.5,2279.4L756.5,2280.6L754,2281.4Z" fill="none" stroke="#fff" stroke-width="0.7"/>
<path d="M754,2275.9L752.5,2276.3L751,2276.4L749.5,2276.1L747.9,2275.4L746.5,2274.4L745.1,2272.9L743.8,2269.9L743.5,2268.4L743.5,2266.4L744.5,2263.2L745.3,2261.9L746.5,2260.6L748,2259.5L749.5,2258.9L751,2258.6L752.5,2258.7L754,2259.1L755.5,2259.8L757.7,2261.9L758.6,2263.4L759.2,2264.9L759.5,2266.4L759.5,2268.4L758.7,2271.4L757.9,2272.9L756.5,2274.4L754,2275.9Z" fill="none" stroke="#fff" stroke-width="0.7"/>
<circle cx="751" cy="2267.5" r="2.5" fill="#fff" stroke="#fff" stroke-width="0.1"/>
<path d="M1030 2148.5h1.1m-3.1 3.5h1.1m-41.1 11h1.1m46.9 -3.5h1.1m59.4 -1h1.1m-104.1 13.5h1.1m-9.6 6h1.1m1.9 -0.5h1.1m1.4 2.5h1.1m0.9 -2.5h1.1m5.4 -0.5h1.1m-26.6 10h1.1m11.4 -6h1.1m-10.1 11.5h1.1m-0.6 0h1.1m13.4 -2h1.1m-0.6 0.5h1.1m-67.6 6h1.1m42.9 1h1.1m1.4 -1.5h1.1m2.9 1.5h1.1m0.9 -5h1.1m-0.6 4h1.1m1.4 0.5h1.1m0.9 0h1.1m0.9 1h1.1m-0.1 -4h1.1m4.9 4h1.1m6.9 -2.5h1.1m-33.1 7.5h1.1m0.9 -2h1.1m-0.1 0.5h1.1m6.9 1h1.1m-0.1 -0.5h1.1m0.4 0h1.1m3.4 -3h1.1m-0.6 0.5h1.1m1.4 2.5h1.1m-0.6 1.5h1.1m-1.1 -0.5h1.1m1.4 -0.5h1.1m1.9 0h1.1m3.4 0.5h1.1m33.4 -2h1.1m-71.6 7h1.1m3.4 -1.5h1.1m-0.1 1h1.1m0.4 -1h1.1m0.9 3.5h1.1m5.9 -0.5h1.1m9.4 -2.5h1.1m-0.6 -1.5h1.1m2.4 -1h1.1m-0.1 3h1.1m-0.1 -2h1.1m-1.1 0.5h1.1m38.4 0.5h1.1m17.9 -2h1.1m-113.1 8.5h1.1m24.9 2h1.1m1.4 1h1.1m3.4 0h1.1m0.4 0h1.1m0.4 -2h1.1m-0.6 2h1.1m-0.6 -4h1.1m-0.1 1.5h1.1m-0.6 -2h1.1m1.4 3.5h1.1m-0.1 -1.5h1.1m1.4 2.5h1.1m-1.1 -4h1.1m-1.1 3.5h1.1m0.4 -1.5h1.1m0.9 -2.5h1.1m-0.6 0.5h1.1m0.4 -0.5h1.1m3.4 3h1.1m2.9 -2h1.1m56.9 0h1.1m-90.6 6h1.1m-0.1 2h1.1m1.4 -2h1.1m0.4 -2h1.1m0.4 5.5h1.1m0.9 -3.5h1.1m2.9 -2h1.1m-0.1 3h1.1m-0.6 -1h1.1m-0.6 2.5h1.1m-0.6 1.5h1.1m-0.6 -3.5h1.1m-1.1 3.5h1.1m0.4 -5.5h1.1m-1.1 5h1.1m0.9 0h1.1m0.4 -3h1.1m0.9 -0.5h1.1m-1.1 1h1.1m0.4 1h1.1m-0.6 1h1.1m1.9 -4h1.1m-0.6 -0.5h1.1m-0.1 4h1.1m-1.1 -2.5h1.1m6.9 3.5h1.1m-44.6 3h1.1m3.9 1.5h1.1m2.4 0.5h1.1m-0.6 0.5h1.1m-0.1 -1.5h1.1m4.4 -2h1.1m-0.6 3.5h1.1m-0.1 -2.5h1.1m-0.6 0.5h1.1m-0.1 2h1.1m-0.6 0.5h1.1m-1.1 0h1.1m-0.6 -1.5h1.1m-0.6 1h1.1m0.4 -0.5h1.1m-0.1 -2h1.1m-1.1 2h1.1m-0.6 1h1.1m-0.6 -1h1.1m-0.6 -0.5h1.1m1.4 1h1.1m2.4 -0.5h1.1m-1.1 -0.5h1.1m-0.1 -1h1.1m1.4 1.5h1.1m-0.1 0h1.1m-0.6 -1h1.1m-29.6 4.5h1.1m3.4 0h1.1m2.9 -2h1.1m-1.1 0h1.1m-0.1 1h1.1m0.4 2.5h1.1m0.9 -0.5h1.1m0.4 -0.5h1.1m-1.1 1h1.1m0.4 -1h1.1m-0.6 -2h1.1m-1.1 2.5h1.1m0.4 -0.5h1.1m-1.1 0h1.1m-0.6 0h1.1m-0.1 2h1.1m-1.1 -4.5h1.1m-0.1 2h1.1m-0.6 3.5h1.1m-1.1 -4.5h1.1m-0.1 2.5h1.1m1.4 -2.5h1.1m-1.1 -1h1.1m1.9 3.5h1.1m0.4 -0.5h1.1m5.4 -3h1.1m41.4 3.5h1.1m-89.1 5.5h1.1m1.9 -2.5h1.1m3.4 5h1.1m0.4 -3h1.1m-0.6 0h1.1m-0.6 -2h1.1m0.4 5h1.1m-0.1 -1h1.1m-0.6 -3.5h1.1m-0.6 1.5h1.1m-1.1 -0.5h1.1m-1.1 -1.5h1.1m-0.6 4h1.1m-0.6 -4h1.1m-0.6 2.5h1.1m-1.1 -0.5h1.1m-0.6 2.5h1.1m-1.1 -3.5h1.1m-0.6 4h1.1m1.4 -1.5h1.1m-1.1 0h1.1m-1.1 -2h1.1m-0.6 3.5h1.1m-1.1 -0.5h1.1m-0.1 0.5h1.1m-1.1 0h1.1m-1.1 -2.5h1.1m-0.6 1h1.1m-0.1 1.5h1.1m-0.6 -3.5h1.1m-1.1 2.5h1.1m-0.1 -1.5h1.1m-1.1 1h1.1m0.9 -3.5h1.1m-0.1 4h1.1m-0.6 -2h1.1m-0.6 3h1.1m-1.1 -2h1.1m-0.1 -0.5h1.1m-0.6 0.5h1.1m-0.6 1.5h1.1m-0.6 -2.5h1.1m0.9 -1h1.1m0.4 4h1.1m-1.1 -0.5h1.1m-1.1 -1h1.1m-0.6 -0.5h1.1m-1.1 1h1.1m-0.6 -1h1.1m-1.1 1.5h1.1m-0.1 -3h1.1m-0.1 2h1.1m-41.1 8h1.1m0.9 0h1.1m1.9 -0.5h1.1m0.9 -1h1.1m-1.1 1.5h1.1m-0.1 -1h1.1m-1.1 0.5h1.1m-0.6 0.5h1.1m-0.1 -4h1.1m-0.6 2.5h1.1m-1.1 -2.5h1.1m-0.1 1h1.1m-1.1 0.5h1.1m-0.1 1.5h1.1m-1.1 -1h1.1m-1.1 -0.5h1.1m-1.1 -3h1.1m-0.1 3.5h1.1m-0.6 -1.5h1.1m-1.1 1.5h1.1m-1.1 2h1.1m-1.1 -1h1.1m-0.6 -0.5h1.1m-1.1 -0.5h1.1m-1.1 0.5h1.1m-1.1 0h1.1m-0.6 -0.5h1.1m-1.1 -2h1.1m-1.1 2.5h1.1m-1.1 -1h1.1m-0.6 2h1.1m-0.6 -2h1.1m-1.1 1.5h1.1m-1.1 -2h1.1m-0.6 -1h1.1m-0.1 -1.5h1.1m-1.1 1h1.1m-1.1 2.5h1.1m0.4 -1h1.1m-1.1 1h1.1m-0.6 -1h1.1m-0.6 1h1.1m-1.1 -1h1.1m-1.1 1h1.1m-0.6 -1.5h1.1m-1.1 -2.5h1.1m-1.1 3.5h1.1m-0.6 0h1.1m-0.6 -1h1.1m-0.6 0h1.1m-1.1 1h1.1m-0.6 -0.5h1.1m-0.6 1h1.1m-0.6 -1.5h1.1m-1.1 1h1.1m-0.6 -2.5h1.1m-1.1 -1h1.1m-0.6 1.5h1.1m-1.1 -1.5h1.1m-0.6 0h1.1m-0.1 3h1.1m-0.1 -0.5h1.1m-1.1 -2.5h1.1m-1.1 3h1.1m-0.6 -3h1.1m-0.6 3h1.1m-1.1 0h1.1m-0.6 -1.5h1.1m-1.1 1h1.1m-1.1 -1h1.1m-0.6 3h1.1m-0.6 -2h1.1m-0.6 0h1.1m-1.1 1.5h1.1m-1.1 -3.5h1.1m-0.6 3h1.1m-1.1 0h1.1m-1.1 0h1.1m-0.6 -0.5h1.1m-1.1 1.5h1.1m-1.1 -0.5h1.1m-1.1 1h1.1m-1.1 -2.5h1.1m-1.1 -0.5h1.1m-0.6 -0.5h1.1m-1.1 2h1.1m-1.1 0h1.1m-0.6 1.5h1.1m-1.1 -4.5h1.1m-0.6 1h1.1m-1.1 0.5h1.1m-1.1 -1.5h1.1m-1.1 0h1.1m-0.6 1h1.1m-1.1 1h1.1m0.4 2h1.1m-1.1 1h1.1m-0.6 -1.5h1.1m-0.6 2h1.1m-1.1 -0.5h1.1m-1.1 -4h1.1m-0.6 1.5h1.1m-1.1 2h1.1m-1.1 -1.5h1.1m-0.6 2.5h1.1m-1.1 -1.5h1.1m0.9 1h1.1m-1.1 -0.5h1.1m-0.6 -3.5h1.1m-0.6 2.5h1.1m-0.6 2h1.1m-1.1 -4.5h1.1m0.4 -1h1.1m1.4 0.5h1.1m2.4 3h1.1m2.9 1h1.1m-52.1 3h1.1m2.4 2.5h1.1m-1.1 -3h1.1m-0.6 2.5h1.1m-1.1 0.5h1.1m-0.6 -2.5h1.1m-1.1 2h1.1m-1.1 -2h1.1m-0.6 3.5h1.1m-0.6 -5h1.1m-1.1 2.5h1.1m-0.6 0.5h1.1m-1.1 -2h1.1m-1.1 4h1.1m-0.6 -1.5h1.1m-1.1 -2h1.1m-1.1 3.5h1.1m-1.1 0h1.1m-0.6 -2h1.1m-1.1 0.5h1.1m-1.1 -1h1.1m-0.6 2.5h1.1m-0.1 -3h1.1m-1.1 1.5h1.1m-1.1 0.5h1.1m-1.1 0h1.1m-0.6 -4h1.1m-1.1 0.5h1.1m-0.6 2h1.1m0.4 -2.5h1.1m-1.1 0.5h1.1m-0.6 0.5h1.1m-0.6 -1h1.1m0.9 0h1.1m18.9 0h1.1m-0.6 1h1.1m-1.1 -0.5h1.1m-0.6 1h1.1m-0.1 -1.5h1.1m-1.1 0h1.1m-0.6 1h1.1m-1.1 0h1.1m-1.1 -1h1.1m-0.1 1.5h1.1m-1.1 -1h1.1m-1.1 0.5h1.1m-1.1 -1h1.1m-1.1 1.5h1.1m-0.6 -1.5h1.1m-1.1 0h1.1m-0.6 2.5h1.1m-0.6 1h1.1m-0.6 0.5h1.1m-0.6 -1h1.1m-1.1 1h1.1m-1.1 1h1.1m-1.1 -2.5h1.1m-0.6 -0.5h1.1m0.9 0.5h1.1m-1.1 -0.5h1.1m-0.6 2.5h1.1m-0.6 -2.5h1.1m1.4 0.5h1.1m-0.6 -2.5h1.1m-0.6 4h1.1m-58.1 2.5h1.1m4.4 2h1.1m0.4 0.5h1.1m-0.1 0h1.1m-0.6 1h1.1m-1.1 -1h1.1m-0.6 0.5h1.1m0.4 1.5h1.1m-0.6 -2.5h1.1m-0.1 -0.5h1.1m-0.1 -1h1.1m-1.1 -1h1.1m-0.6 2.5h1.1m-0.6 0h1.1m-0.1 1h1.1m-1.1 -2h1.1m-0.6 0.5h1.1m-1.1 0h1.1m33.9 -1h1.1m0.4 2.5h1.1m-1.1 0h1.1m-1.1 -2.5h1.1m-0.6 4h1.1m-0.6 -5h1.1m-1.1 2h1.1m-1.1 -0.5h1.1m-1.1 0h1.1m-1.1 0.5h1.1m-0.6 0h1.1m-0.6 0.5h1.1m-1.1 0.5h1.1m-0.6 0.5h1.1m-0.6 -2h1.1m-0.6 2.5h1.1m-0.1 -2.5h1.1m-1.1 4h1.1m-1.1 0h1.1m-0.6 -2.5h1.1m-0.6 2.5h1.1m-1.1 0h1.1m-1.1 -1.5h1.1m0.4 0.5h1.1m0.9 0.5h1.1m-67.6 4.5h1.1m10.4 0.5h1.1m0.4 0h1.1m-0.1 -3.5h1.1m-1.1 3h1.1m-1.1 -1h1.1m-0.6 -0.5h1.1m-0.6 2.5h1.1m-0.1 0h1.1m-1.1 -2.5h1.1m-0.6 1.5h1.1m-1.1 1.5h1.1m-0.6 -2.5h1.1m-0.6 -2.5h1.1m-1.1 0h1.1m-1.1 1.5h1.1m-0.6 -0.5h1.1m-0.6 1h1.1m-1.1 1.5h1.1m-1.1 -2h1.1m-0.6 -0.5h1.1m-1.1 -0.5h1.1m-1.1 -0.5h1.1m38.4 1h1.1m-0.1 1.5h1.1m-0.1 -2.5h1.1m-1.1 5h1.1m-1.1 -3h1.1m-0.6 2h1.1m-0.6 -2.5h1.1m-0.6 0.5h1.1m-1.1 3h1.1m0.4 -3.5h1.1m-0.1 2h1.1m0.9 -2.5h1.1m1.4 0h1.1m-59.1 6.5h1.1m-1.1 -0.5h1.1m-0.6 4.5h1.1m1.9 -4h1.1m-1.1 1h1.1m-1.1 2.5h1.1m-0.1 -0.5h1.1m-0.6 -1.5h1.1m-1.1 -1h1.1m-1.1 -0.5h1.1m-1.1 0.5h1.1m-1.1 1.5h1.1m-0.6 -2h1.1m-1.1 3.5h1.1m-1.1 -4.5h1.1m-0.6 1.5h1.1m-0.6 2h1.1m-1.1 1h1.1m-0.6 0h1.1m-1.1 -1h1.1m-1.1 1h1.1m40.4 -1.5h1.1m-1.1 -4h1.1m-0.6 0h1.1m-1.1 6h1.1m-0.6 -4h1.1m-1.1 3h1.1m-1.1 0.5h1.1m-1.1 0.5h1.1m-1.1 -5h1.1m-0.6 0.5h1.1m-1.1 4h1.1m-1.1 -3h1.1m-0.6 -0.5h1.1m-1.1 2h1.1m-0.6 0h1.1m-1.1 -2h1.1m-0.1 -2h1.1m-1.1 3h1.1m-0.6 0h1.1m-1.1 -0.5h1.1m0.4 0h1.1m-56.6 4.5h1.1m0.4 0.5h1.1m-0.6 -1h1.1m1.9 1h1.1m-0.6 -1h1.1m-1.1 2.5h1.1m-0.6 -2.5h1.1m-1.1 3.5h1.1m-0.6 -3.5h1.1m-1.1 1h1.1m-0.6 1.5h1.1m-0.6 -2.5h1.1m-1.1 4.5h1.1m-0.6 -3.5h1.1m-1.1 2h1.1m-0.1 1h1.1m-1.1 -3.5h1.1m38.4 3.5h1.1m-0.1 -3.5h1.1m-1.1 2.5h1.1m-1.1 2h1.1m-0.6 0h1.1m-1.1 -3h1.1m-0.6 2h1.1m-1.1 0h1.1m-1.1 -1.5h1.1m-1.1 1.5h1.1m-0.1 -0.5h1.1m-1.1 -0.5h1.1m-0.1 1h1.1m-0.6 -3.5h1.1m-0.6 4h1.1m-1.1 -3.5h1.1m2.9 1h1.1m3.4 1h1.1m-65.1 8h1.1m3.9 -3.5h1.1m-0.6 3h1.1m-0.1 1h1.1m-0.1 -2.5h1.1m-1.1 2.5h1.1m-0.6 -5h1.1m-0.6 0h1.1m-1.1 0h1.1m-0.6 4h1.1m-1.1 -2.5h1.1m-0.6 1h1.1m-1.1 -1.5h1.1m-1.1 -1h1.1m-1.1 0.5h1.1m-0.6 1h1.1m-1.1 -1.5h1.1m-0.6 -0.5h1.1m-1.1 0h1.1m-0.6 3.5h1.1m-1.1 -2h1.1m-0.6 2.5h1.1m-0.6 0h1.1m-1.1 -1h1.1m-1.1 2.5h1.1m-0.6 -3.5h1.1m-1.1 3h1.1m-0.6 -1h1.1m-1.1 -2h1.1m-0.1 1h1.1m-1.1 0h1.1m-1.1 2h1.1m-1.1 -1h1.1m-0.6 1.5h1.1m-1.1 -1.5h1.1m-1.1 1h1.1m-0.6 0h1.1m31.4 0h1.1m-1.1 -0.5h1.1m-0.1 0.5h1.1m-0.6 -2h1.1m-0.6 0h1.1m-1.1 -1h1.1m-0.6 -1h1.1m-1.1 0h1.1m-1.1 0h1.1m-0.6 4.5h1.1m-1.1 -2.5h1.1m-0.6 1.5h1.1m-1.1 0.5h1.1m-1.1 0.5h1.1m-0.6 -3h1.1m-1.1 2.5h1.1m-1.1 -2h1.1m-1.1 -0.5h1.1m-1.1 1.5h1.1m-0.1 -4h1.1m-1.1 4h1.1m-1.1 0h1.1m-0.1 -2h1.1m-0.6 3.5h1.1m0.9 -1.5h1.1m2.9 -2.5h1.1m-57.1 4.5h1.1m4.4 3h1.1m-0.6 -2.5h1.1m0.4 -0.5h1.1m-1.1 1h1.1m-0.6 0.5h1.1m-0.6 2h1.1m-0.6 -1h1.1m-0.1 0h1.1m-1.1 0h1.1m-0.6 0h1.1m-1.1 0.5h1.1m-1.1 -1.5h1.1m-1.1 2.5h1.1m-0.6 -3h1.1m-1.1 3.5h1.1m-1.1 0.5h1.1m-0.6 0h1.1m-0.6 -4h1.1m-1.1 0.5h1.1m-0.6 1h1.1m-1.1 2.5h1.1m-0.6 -0.5h1.1m-1.1 -3h1.1m-0.6 0h1.1m-0.6 2.5h1.1m-1.1 0.5h1.1m-0.6 -1h1.1m-1.1 -1h1.1m-0.1 2h1.1m-0.6 -1h1.1m-1.1 1h1.1m0.9 0.5h1.1m18.9 0h1.1m0.9 -1.5h1.1m-1.1 -0.5h1.1m-1.1 0h1.1m-0.6 1.5h1.1m-1.1 0h1.1m-1.1 -0.5h1.1m-1.1 -1h1.1m-0.6 2h1.1m-1.1 -2h1.1m-1.1 -1.5h1.1m-1.1 1h1.1m-1.1 -1h1.1m-0.6 0h1.1m-0.1 0.5h1.1m-1.1 0h1.1m0.4 -1.5h1.1m-0.6 3h1.1m-1.1 -2.5h1.1m-0.1 0.5h1.1m-0.6 0.5h1.1m-0.6 -1.5h1.1m-0.6 2.5h1.1m-0.6 -3h1.1m-0.6 2.5h1.1m0.4 -2h1.1m-0.1 0h1.1m-0.6 4.5h1.1m-0.6 -1.5h1.1m-43.6 2h1.1m0.9 0h1.1m-0.6 2h1.1m-0.6 -2h1.1m-1.1 5.5h1.1m-1.1 -5.5h1.1m0.9 3.5h1.1m-0.1 0.5h1.1m-0.6 -4h1.1m-1.1 4h1.1m-1.1 -2.5h1.1m-1.1 -1.5h1.1m-1.1 2h1.1m-0.6 -1h1.1m-0.6 2h1.1m-1.1 2.5h1.1m-1.1 -3.5h1.1m-0.6 -2h1.1m-1.1 4.5h1.1m-0.6 -4h1.1m-0.6 4h1.1m-1.1 -1h1.1m-1.1 -3h1.1m-0.6 1h1.1m-1.1 3h1.1m-0.6 -0.5h1.1m-0.6 -3h1.1m-1.1 0h1.1m-1.1 2h1.1m-0.6 -1h1.1m-0.6 2h1.1m-0.6 -2.5h1.1m-0.6 3.5h1.1m-1.1 0h1.1m-0.1 0.5h1.1m-1.1 -4h1.1m-0.6 0.5h1.1m-0.6 0h1.1m-0.6 -0.5h1.1m0.4 3h1.1m-0.6 0.5h1.1m-1.1 0h1.1m-1.1 0h1.1m-1.1 -2.5h1.1m-0.6 -0.5h1.1m-1.1 0h1.1m-1.1 2.5h1.1m-1.1 -0.5h1.1m-0.1 1h1.1m-1.1 -2.5h1.1m-0.6 1.5h1.1m-0.6 -2h1.1m-0.6 0h1.1m-0.6 0.5h1.1m-1.1 0.5h1.1m-0.6 -0.5h1.1m-1.1 0h1.1m-0.6 1.5h1.1m-1.1 -2.5h1.1m-0.6 0.5h1.1m-0.6 -0.5h1.1m-0.6 3h1.1m-0.6 -3.5h1.1m-0.6 2h1.1m-1.1 2h1.1m-1.1 -2.5h1.1m-0.6 0h1.1m-1.1 3.5h1.1m-0.1 -4h1.1m-1.1 -1h1.1m-1.1 1.5h1.1m-0.6 -1.5h1.1m-1.1 2h1.1m-1.1 0.5h1.1m-1.1 -3.5h1.1m-0.6 0.5h1.1m-0.1 1h1.1m-1.1 2.5h1.1m-0.6 -2.5h1.1m-1.1 -1.5h1.1m0.4 3.5h1.1m0.4 0.5h1.1m-1.1 -2.5h1.1m8.4 -1.5h1.1m-37.6 6.5h1.1m2.4 4h1.1m0.4 -3h1.1m-0.6 0h1.1m0.4 2.5h1.1m-0.1 -1.5h1.1m0.9 -1.5h1.1m0.9 0h1.1m-0.6 -0.5h1.1m0.4 2h1.1m1.4 1h1.1m-0.6 -2.5h1.1m1.4 4.5h1.1m-0.6 -4.5h1.1m-1.1 0h1.1m6.9 1.5h1.1m3.4 3h1.1m-13.6 1h1.1" stroke="#111" stroke-width="1.1" fill="none"/>
<path d="M981.6,2291.4L977.6,2291.6L973.1,2290.7L969.1,2288.9L965.6,2286.4L962.4,2282.9L960,2278.9L958.3,2274.4L957.5,2269.9L957.5,2265.4L958.4,2260.4L959.8,2256.4L962.2,2252.4L965.3,2248.9L969.1,2246.1L973.1,2244.3L977.1,2243.5L981.6,2243.6L985.6,2244.5L989.1,2246.2L992.6,2248.8L995.4,2251.9L997.9,2255.9L999.5,2259.9L1000.4,2264.9L1000.5,2269.4L999.8,2273.9L998.2,2278.4L996,2282.4L993.1,2285.7L989.6,2288.5L985.6,2290.5L981.6,2291.4Z" fill="#111"/>
<path d="M981.6,2280L979.6,2280.3L977.1,2280.2L974.6,2279.4L972.6,2278.2L970.7,2276.4L969.3,2274.4L968.4,2272.4L967.7,2269.9L967.5,2267.4L967.7,2264.9L968.4,2262.4L969.6,2260.1L971.1,2258.1L973.1,2256.5L975.1,2255.4L977.1,2254.8L979.6,2254.7L981.6,2255L983.6,2255.7L985.6,2257L987.1,2258.4L988.6,2260.4L989.6,2262.4L990.3,2264.9L990.5,2267.4L990.3,2269.9L989.6,2272.4L988.7,2274.4L987.3,2276.4L985.6,2278L983.6,2279.3L981.6,2280Z" fill="none" stroke="#fff" stroke-width="0.7"/>
<path d="M980.1,2275.4L978.6,2275.5L977.1,2275.2L974.6,2273.8L973.6,2272.8L972.7,2271.4L971.9,2268.4L972.1,2265.4L972.6,2263.9L973.5,2262.4L975.6,2260.4L978.1,2259.5L979.6,2259.5L981.1,2259.8L982.3,2260.4L983.6,2261.3L985.2,2263.4L986.1,2266.4L986,2269.4L985.5,2270.9L984.7,2272.4L982.6,2274.4L980.1,2275.4Z" fill="none" stroke="#fff" stroke-width="0.7"/>
<circle cx="978.5" cy="2267.5" r="2.5" fill="#fff" stroke="#fff" stroke-width="0.1"/>
<line x1="777" y1="2120.4" x2="777" y2="2337.7" stroke="#231f20" stroke-width="1.6"/>
<line x1="694" y1="2235.9" x2="912.9" y2="2235.9" stroke="#231f20" stroke-width="1.6"/>
<line x1="1005.5" y1="2120.4" x2="1005.5" y2="2337.7" stroke="#231f20" stroke-width="1.6"/>
<line x1="923.6" y1="2235.9" x2="1141.7" y2="2235.9" stroke="#231f20" stroke-width="1.6"/>
<text transform="translate(696.7,2139.8)" font-size="22">3.27</text>
<text transform="translate(909.9,2139.8)" font-size="22" text-anchor="end">0.19</text>
<text transform="translate(696.7,2335)" font-size="22">96.2</text>
<text transform="translate(927.5,2139.8)" font-size="22">1.85</text>
<text transform="translate(1139.4,2139.8)" font-size="22" text-anchor="end">0.12</text>
<text transform="translate(927.5,2335)" font-size="22">97.9</text>
<path d="M800 2337.7v6M816.7 2337.7v3M826.5 2337.7v3M833.4 2337.7v3M838.8 2337.7v3M843.2 2337.7v3M846.9 2337.7v3M850.1 2337.7v3M853 2337.7v3M855.5 2337.7v6M872.2 2337.7v3M882 2337.7v3M888.9 2337.7v3M894.3 2337.7v3M898.7 2337.7v3M902.4 2337.7v3M905.6 2337.7v3M908.5 2337.7v3M911 2337.7v6M746.5 2337.7v6M730 2337.7v3M760 2337.7v3M715 2337.7v3M694 2219h-6M694 2197.9h-3M694 2185.6h-3M694 2176.9h-3M694 2170.1h-3M694 2164.5h-3M694 2159.8h-3M694 2155.8h-3M694 2152.2h-3M694 2149h-6M694 2284.1h-6M694 2270h-3M694 2295h-3M694 2300h-3M694 2250h-3" stroke="#111" stroke-width="1.1" fill="none"/>
<path d="M1029.6 2337.7v6M1046.3 2337.7v3M1056.1 2337.7v3M1063 2337.7v3M1068.4 2337.7v3M1072.8 2337.7v3M1076.5 2337.7v3M1079.7 2337.7v3M1082.6 2337.7v3M1085.1 2337.7v6M1101.8 2337.7v3M1111.6 2337.7v3M1118.5 2337.7v3M1123.9 2337.7v3M1128.3 2337.7v3M1132 2337.7v3M1135.2 2337.7v3M1138.1 2337.7v3M1140.6 2337.7v6M976.1 2337.7v6M959.6 2337.7v3M989.6 2337.7v3M944.6 2337.7v3M923.6 2219h-6M923.6 2197.9h-3M923.6 2185.6h-3M923.6 2176.9h-3M923.6 2170.1h-3M923.6 2164.5h-3M923.6 2159.8h-3M923.6 2155.8h-3M923.6 2152.2h-3M923.6 2149h-6M923.6 2284.1h-6M923.6 2270h-3M923.6 2295h-3M923.6 2300h-3M923.6 2250h-3" stroke="#111" stroke-width="1.1" fill="none"/>
<text transform="translate(654.6,2157)" font-size="22"><tspan>10</tspan><tspan font-size="13.6" dy="-8.8">4</tspan></text>
<text transform="translate(654.6,2227)" font-size="22"><tspan>10</tspan><tspan font-size="13.6" dy="-8.8">3</tspan></text>
<text transform="translate(672,2292.1)" font-size="22" text-anchor="middle">0</text>
<text transform="translate(746.5,2361.8)" font-size="22" text-anchor="middle">0</text>
<text transform="translate(786,2361.8)" font-size="22"><tspan>10</tspan><tspan font-size="13.6" dy="-8.8">3</tspan></text>
<text transform="translate(841,2361.8)" font-size="22"><tspan>10</tspan><tspan font-size="13.6" dy="-8.8">4</tspan></text>
<text transform="translate(696.7,2384.4) scale(0.962,1)" font-size="26"><tspan>TNF</tspan></text>
<line x1="750.3" y1="2376" x2="1132.3" y2="2376" stroke="#111" stroke-width="1.8"/>
<path d="M1143.3,2376 L1131.3,2371 L1131.3,2381 Z" fill="#111"/>
<line x1="629.7" y1="2281" x2="629.7" y2="2129.4" stroke="#111" stroke-width="1.8"/>
<path d="M629.7,2118.4 L624.7,2130.4 L634.7,2130.4 Z" fill="#111"/>
<text transform="translate(640.5,2314.5) rotate(-90)" font-size="25" text-anchor="middle">IFN-γ</text>
<text transform="translate(1.3,35.7)" font-size="58" fill="#231f20" style="stroke-width:.6px">a</text>
<text transform="translate(929.1,31.5)" font-size="58" fill="#231f20" style="stroke-width:.6px">c</text>
<text transform="translate(-2,468.8)" font-size="58" fill="#231f20" style="stroke-width:.6px">b</text>
<text transform="translate(-2.4,1289.2)" font-size="58" fill="#231f20" style="stroke-width:.6px">d</text>
<text transform="translate(952.4,1291.2)" font-size="58" fill="#231f20" style="stroke-width:.6px">e</text>
<text transform="translate(5.7,1682.5)" font-size="58" fill="#231f20" style="stroke-width:.6px">f</text>
<text transform="translate(1161.8,1683)" font-size="58" fill="#231f20" style="stroke-width:.6px">g</text>
<text transform="translate(1.5,2083.6)" font-size="58" fill="#231f20" style="stroke-width:.6px">h</text>
<text transform="translate(609.4,2083.7)" font-size="58" fill="#231f20" style="stroke-width:.6px">i</text>
</svg></body></html>
